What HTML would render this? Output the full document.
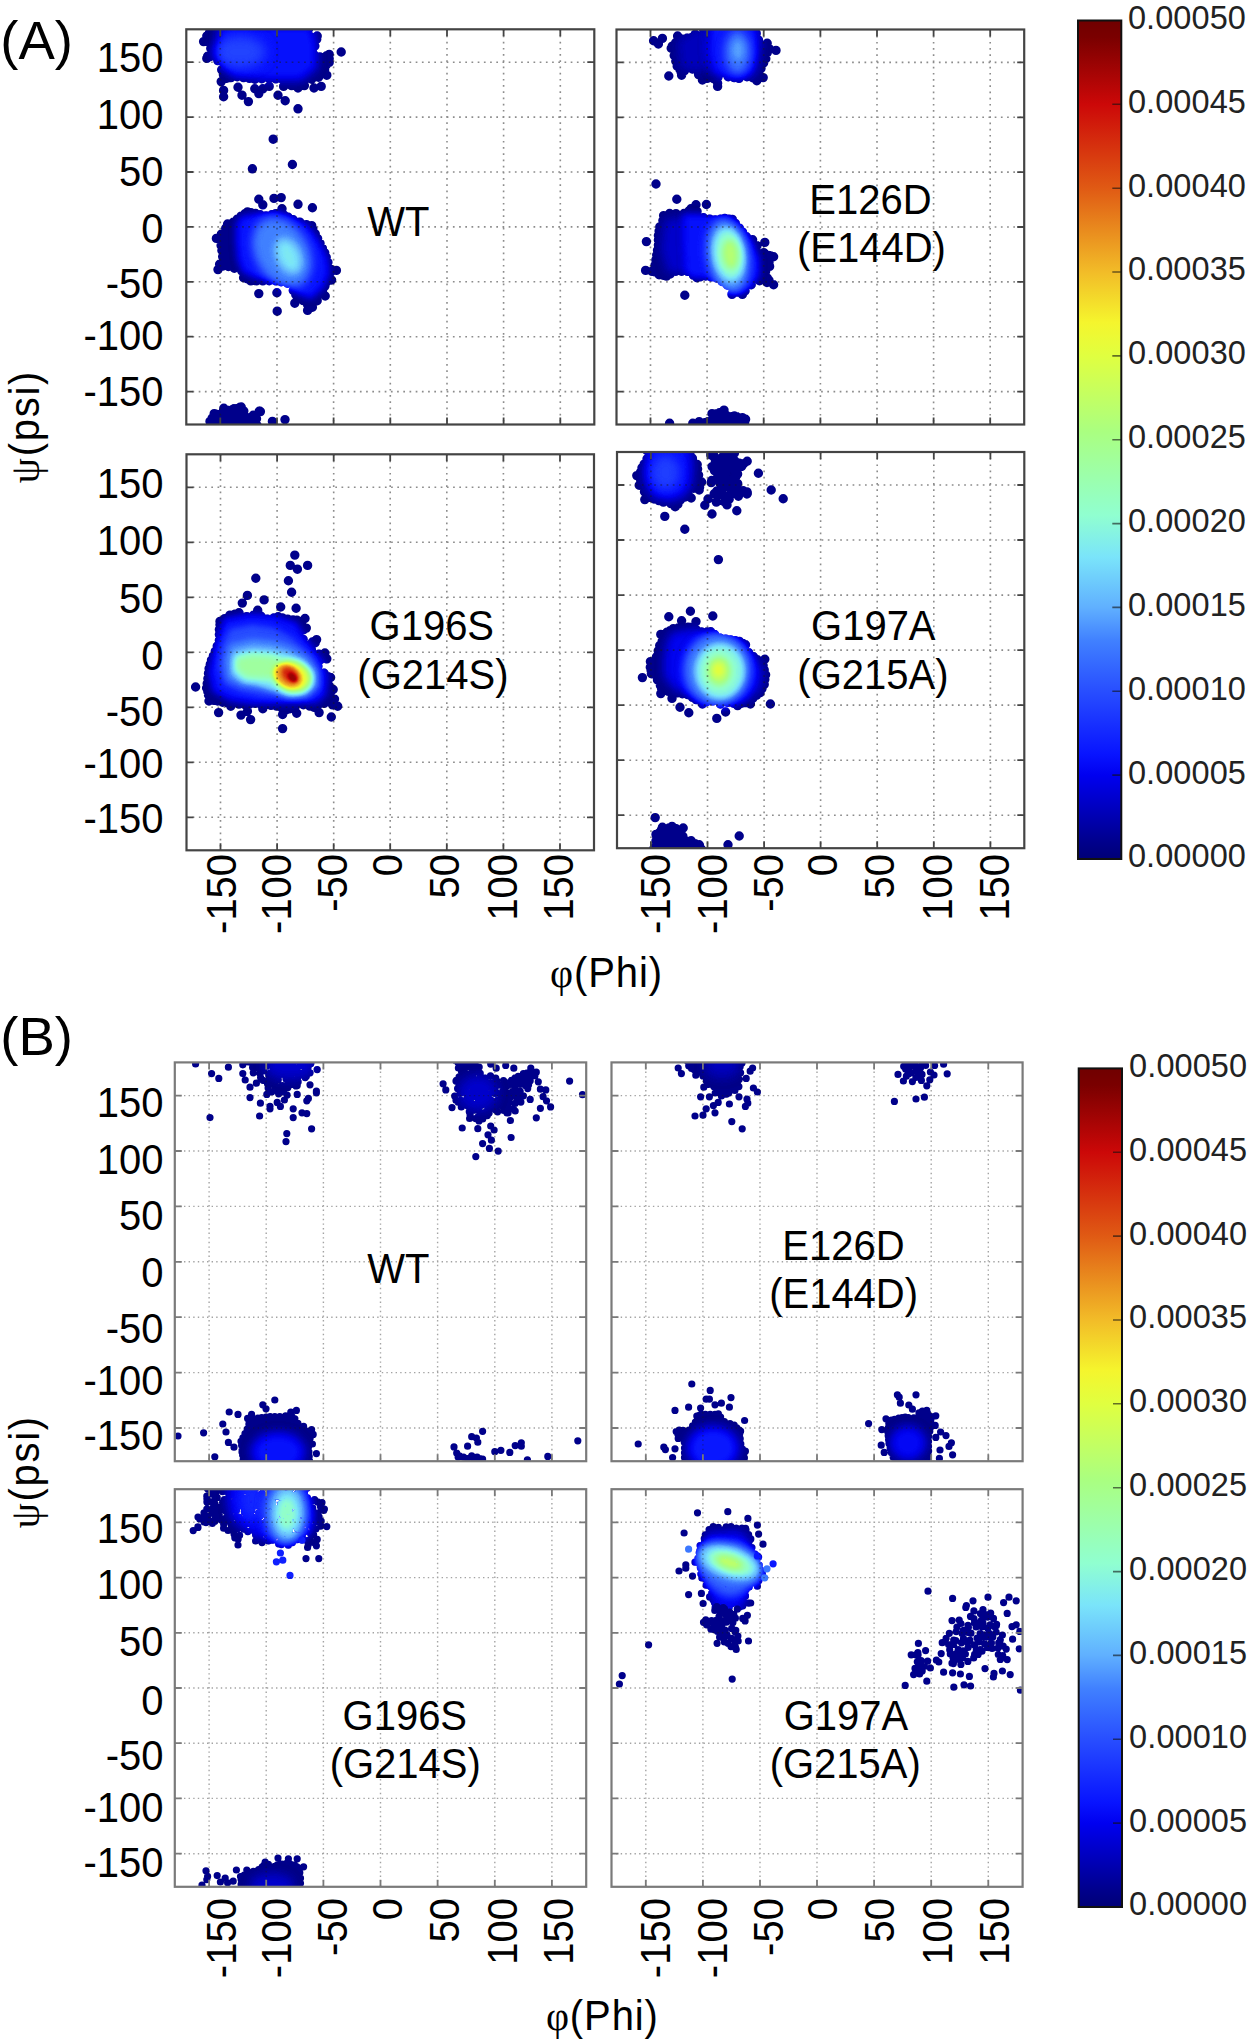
<!DOCTYPE html><html><head><meta charset="utf-8"><style>html,body{margin:0;padding:0;background:#fff;}svg{display:block;}text{font-family:"Liberation Sans",sans-serif;}</style></head><body>
<svg width="1250" height="2043" viewBox="0 0 1250 2043">
<rect width="1250" height="2043" fill="#fff"/>
<defs>
<linearGradient id="jetg" x1="0" y1="1" x2="0" y2="0"><stop offset="0" stop-color="#000076"/><stop offset="0.02" stop-color="#00008c"/><stop offset="0.1" stop-color="#0000f0"/><stop offset="0.125" stop-color="#0814ff"/><stop offset="0.2" stop-color="#284eff"/><stop offset="0.26" stop-color="#4080ff"/><stop offset="0.3" stop-color="#60b0ff"/><stop offset="0.36" stop-color="#7ae4fa"/><stop offset="0.41" stop-color="#90ffd0"/><stop offset="0.51" stop-color="#aaff80"/><stop offset="0.6" stop-color="#e0ff40"/><stop offset="0.64" stop-color="#f5f52d"/><stop offset="0.7" stop-color="#f2bc28"/><stop offset="0.8" stop-color="#e05a14"/><stop offset="0.9" stop-color="#cc0808"/><stop offset="0.98" stop-color="#7a0000"/><stop offset="1" stop-color="#700000"/></linearGradient>
</defs>
<defs>
<filter id="cm" color-interpolation-filters="sRGB" x="-5%" y="-5%" width="110%" height="110%"><feComponentTransfer><feFuncR type="table" tableValues="0.000 0.000 0.000 0.000 0.000 0.000 0.000 0.012 0.031 0.058 0.084 0.110 0.136 0.162 0.186 0.211 0.235 0.269 0.318 0.367 0.398 0.424 0.451 0.477 0.504 0.531 0.558 0.577 0.593 0.609 0.625 0.641 0.656 0.680 0.717 0.753 0.790 0.827 0.864 0.898 0.930 0.961 0.958 0.955 0.951 0.947 0.936 0.925 0.914 0.903 0.892 0.881 0.869 0.856 0.844 0.832 0.820 0.807 0.775 0.712 0.649 0.586 0.524 0.470 0.439"/><feFuncG type="table" tableValues="0.000 0.000 0.000 0.000 0.000 0.000 0.000 0.029 0.078 0.126 0.173 0.221 0.268 0.316 0.367 0.418 0.469 0.528 0.602 0.675 0.733 0.786 0.839 0.892 0.926 0.959 0.992 1.000 1.000 1.000 1.000 1.000 1.000 1.000 1.000 1.000 1.000 1.000 1.000 0.991 0.975 0.958 0.900 0.842 0.784 0.725 0.665 0.605 0.545 0.485 0.425 0.365 0.313 0.263 0.212 0.162 0.112 0.062 0.029 0.023 0.017 0.011 0.004 0.000 0.000"/><feFuncB type="table" tableValues="0.463 0.530 0.604 0.681 0.757 0.834 0.911 0.963 1.000 1.000 1.000 1.000 1.000 1.000 1.000 1.000 1.000 1.000 1.000 1.000 0.996 0.991 0.986 0.981 0.931 0.880 0.828 0.778 0.729 0.680 0.631 0.582 0.533 0.486 0.443 0.399 0.356 0.312 0.268 0.234 0.204 0.176 0.171 0.166 0.161 0.154 0.142 0.130 0.118 0.105 0.093 0.081 0.073 0.065 0.058 0.050 0.043 0.036 0.029 0.023 0.017 0.011 0.004 0.000 0.000"/></feComponentTransfer></filter>
<filter id="b1" color-interpolation-filters="sRGB" x="-50%" y="-50%" width="200%" height="200%"><feGaussianBlur stdDeviation="1"/></filter>
<filter id="b2" color-interpolation-filters="sRGB" x="-50%" y="-50%" width="200%" height="200%"><feGaussianBlur stdDeviation="2"/></filter>
<filter id="b3" color-interpolation-filters="sRGB" x="-50%" y="-50%" width="200%" height="200%"><feGaussianBlur stdDeviation="3"/></filter>
<filter id="b4" color-interpolation-filters="sRGB" x="-50%" y="-50%" width="200%" height="200%"><feGaussianBlur stdDeviation="4"/></filter>
<filter id="b5" color-interpolation-filters="sRGB" x="-50%" y="-50%" width="200%" height="200%"><feGaussianBlur stdDeviation="5"/></filter>
<filter id="b6" color-interpolation-filters="sRGB" x="-50%" y="-50%" width="200%" height="200%"><feGaussianBlur stdDeviation="6"/></filter>
<filter id="b8" color-interpolation-filters="sRGB" x="-50%" y="-50%" width="200%" height="200%"><feGaussianBlur stdDeviation="8"/></filter>
<filter id="b10" color-interpolation-filters="sRGB" x="-50%" y="-50%" width="200%" height="200%"><feGaussianBlur stdDeviation="10"/></filter>
<clipPath id="clip_A1"><rect x="186.3" y="29.3" width="408" height="395.2"/></clipPath>
<clipPath id="clip_A2"><rect x="616.5" y="29.5" width="407.7" height="395"/></clipPath>
<clipPath id="clip_A3"><rect x="186.5" y="454.3" width="407.5" height="396"/></clipPath>
<clipPath id="clip_A4"><rect x="617" y="452" width="407.3" height="396.2"/></clipPath>
<clipPath id="clip_B1"><rect x="174.8" y="1062.4" width="411.4" height="398.8"/></clipPath>
<clipPath id="clip_B2"><rect x="611.5" y="1062.4" width="411.1" height="398.8"/></clipPath>
<clipPath id="clip_B3"><rect x="174.8" y="1489.2" width="411.4" height="397.6"/></clipPath>
<clipPath id="clip_B4"><rect x="611.5" y="1489.2" width="411.1" height="397.6"/></clipPath>
</defs>
<g clip-path="url(#clip_A1)"><g filter="url(#cm)">
<path d="M210.5 25.6L310.3 25.6L310.6 36.5L316.7 39.2L314.8 46L319.8 56.9L326.8 55.7L329.2 58.8L326.2 65L323.5 73.8L318.6 77.2L311.8 79.2L298 80L282.2 79.2L269.2 78.4L255 79.2L237.3 76.8L226 78.4L224.5 78.5L221.8 69.8L217.8 60.6L210.4 56.5L207.6 56.2L210.8 48.4L205.9 41.4L207.3 37.4ZM207.3 25.1a4.7 4.7 0 1 1 9.4 0a4.7 4.7 0 1 1 -9.4 0ZM211.6 25.6a4.7 4.7 0 1 1 9.4 0a4.7 4.7 0 1 1 -9.4 0ZM217.9 25.6a4.7 4.7 0 1 1 9.4 0a4.7 4.7 0 1 1 -9.4 0ZM224.2 25.6a4.7 4.7 0 1 1 9.4 0a4.7 4.7 0 1 1 -9.4 0ZM230.5 25.6a4.7 4.7 0 1 1 9.4 0a4.7 4.7 0 1 1 -9.4 0ZM236.8 25.6a4.7 4.7 0 1 1 9.4 0a4.7 4.7 0 1 1 -9.4 0ZM243.1 25.6a4.7 4.7 0 1 1 9.4 0a4.7 4.7 0 1 1 -9.4 0ZM249.4 25.6a4.7 4.7 0 1 1 9.4 0a4.7 4.7 0 1 1 -9.4 0ZM255.7 25.6a4.7 4.7 0 1 1 9.4 0a4.7 4.7 0 1 1 -9.4 0ZM262 25.6a4.7 4.7 0 1 1 9.4 0a4.7 4.7 0 1 1 -9.4 0ZM268.3 25.6a4.7 4.7 0 1 1 9.4 0a4.7 4.7 0 1 1 -9.4 0ZM274.6 25.6a4.7 4.7 0 1 1 9.4 0a4.7 4.7 0 1 1 -9.4 0ZM280.9 25.6a4.7 4.7 0 1 1 9.4 0a4.7 4.7 0 1 1 -9.4 0ZM287.2 25.6a4.7 4.7 0 1 1 9.4 0a4.7 4.7 0 1 1 -9.4 0ZM293.5 25.6a4.7 4.7 0 1 1 9.4 0a4.7 4.7 0 1 1 -9.4 0ZM299.8 25.6a4.7 4.7 0 1 1 9.4 0a4.7 4.7 0 1 1 -9.4 0ZM303.6 24.7a4.7 4.7 0 1 1 9.4 0a4.7 4.7 0 1 1 -9.4 0ZM303.8 29a4.7 4.7 0 1 1 9.4 0a4.7 4.7 0 1 1 -9.4 0ZM306.2 37a4.7 4.7 0 1 1 9.4 0a4.7 4.7 0 1 1 -9.4 0ZM312 39.2a4.7 4.7 0 1 1 9.4 0a4.7 4.7 0 1 1 -9.4 0ZM310.1 46a4.7 4.7 0 1 1 9.4 0a4.7 4.7 0 1 1 -9.4 0ZM315.1 56.9a4.7 4.7 0 1 1 9.4 0a4.7 4.7 0 1 1 -9.4 0ZM322.1 55.7a4.7 4.7 0 1 1 9.4 0a4.7 4.7 0 1 1 -9.4 0ZM324.5 58.8a4.7 4.7 0 1 1 9.4 0a4.7 4.7 0 1 1 -9.4 0ZM321.6 65a4.7 4.7 0 1 1 9.4 0a4.7 4.7 0 1 1 -9.4 0ZM319.9 69.9a4.7 4.7 0 1 1 9.4 0a4.7 4.7 0 1 1 -9.4 0ZM319 73.4a4.7 4.7 0 1 1 9.4 0a4.7 4.7 0 1 1 -9.4 0ZM313.9 77.2a4.7 4.7 0 1 1 9.4 0a4.7 4.7 0 1 1 -9.4 0ZM307 79.3a4.7 4.7 0 1 1 9.4 0a4.7 4.7 0 1 1 -9.4 0ZM300.3 79.6a4.7 4.7 0 1 1 9.4 0a4.7 4.7 0 1 1 -9.4 0ZM293.3 80a4.7 4.7 0 1 1 9.4 0a4.7 4.7 0 1 1 -9.4 0ZM288.2 79.7a4.7 4.7 0 1 1 9.4 0a4.7 4.7 0 1 1 -9.4 0ZM282.8 79.5a4.7 4.7 0 1 1 9.4 0a4.7 4.7 0 1 1 -9.4 0ZM277.5 79.2a4.7 4.7 0 1 1 9.4 0a4.7 4.7 0 1 1 -9.4 0ZM271.1 78.8a4.7 4.7 0 1 1 9.4 0a4.7 4.7 0 1 1 -9.4 0ZM264.5 78.4a4.7 4.7 0 1 1 9.4 0a4.7 4.7 0 1 1 -9.4 0ZM257.1 78.8a4.7 4.7 0 1 1 9.4 0a4.7 4.7 0 1 1 -9.4 0ZM250.2 79.2a4.7 4.7 0 1 1 9.4 0a4.7 4.7 0 1 1 -9.4 0ZM244.8 78.4a4.7 4.7 0 1 1 9.4 0a4.7 4.7 0 1 1 -9.4 0ZM238.9 77.6a4.7 4.7 0 1 1 9.4 0a4.7 4.7 0 1 1 -9.4 0ZM232.5 76.8a4.7 4.7 0 1 1 9.4 0a4.7 4.7 0 1 1 -9.4 0ZM226.3 77.6a4.7 4.7 0 1 1 9.4 0a4.7 4.7 0 1 1 -9.4 0ZM221.6 78.4a4.7 4.7 0 1 1 9.4 0a4.7 4.7 0 1 1 -9.4 0ZM219.3 78a4.7 4.7 0 1 1 9.4 0a4.7 4.7 0 1 1 -9.4 0ZM218.7 74.7a4.7 4.7 0 1 1 9.4 0a4.7 4.7 0 1 1 -9.4 0ZM217 69.8a4.7 4.7 0 1 1 9.4 0a4.7 4.7 0 1 1 -9.4 0ZM213.1 60.6a4.7 4.7 0 1 1 9.4 0a4.7 4.7 0 1 1 -9.4 0ZM205.7 56.5a4.7 4.7 0 1 1 9.4 0a4.7 4.7 0 1 1 -9.4 0ZM202.9 56.2a4.7 4.7 0 1 1 9.4 0a4.7 4.7 0 1 1 -9.4 0ZM206.1 48.4a4.7 4.7 0 1 1 9.4 0a4.7 4.7 0 1 1 -9.4 0ZM201.2 41.4a4.7 4.7 0 1 1 9.4 0a4.7 4.7 0 1 1 -9.4 0ZM202.7 37.3a4.7 4.7 0 1 1 9.4 0a4.7 4.7 0 1 1 -9.4 0ZM204.7 32.8a4.7 4.7 0 1 1 9.4 0a4.7 4.7 0 1 1 -9.4 0ZM206.8 28a4.7 4.7 0 1 1 9.4 0a4.7 4.7 0 1 1 -9.4 0ZM202.1 36a4.7 4.7 0 1 1 9.4 0a4.7 4.7 0 1 1 -9.4 0ZM198.9 41.6a4.7 4.7 0 1 1 9.4 0a4.7 4.7 0 1 1 -9.4 0ZM202.1 58.4a4.7 4.7 0 1 1 9.4 0a4.7 4.7 0 1 1 -9.4 0ZM216.5 81.6a4.7 4.7 0 1 1 9.4 0a4.7 4.7 0 1 1 -9.4 0ZM218.9 90.4a4.7 4.7 0 1 1 9.4 0a4.7 4.7 0 1 1 -9.4 0ZM218.9 96.8a4.7 4.7 0 1 1 9.4 0a4.7 4.7 0 1 1 -9.4 0ZM233.3 87.2a4.7 4.7 0 1 1 9.4 0a4.7 4.7 0 1 1 -9.4 0ZM237.3 95.2a4.7 4.7 0 1 1 9.4 0a4.7 4.7 0 1 1 -9.4 0ZM243.7 101.6a4.7 4.7 0 1 1 9.4 0a4.7 4.7 0 1 1 -9.4 0ZM254.1 93.6a4.7 4.7 0 1 1 9.4 0a4.7 4.7 0 1 1 -9.4 0ZM250.1 88.8a4.7 4.7 0 1 1 9.4 0a4.7 4.7 0 1 1 -9.4 0ZM273.3 95.2a4.7 4.7 0 1 1 9.4 0a4.7 4.7 0 1 1 -9.4 0ZM280.5 100.8a4.7 4.7 0 1 1 9.4 0a4.7 4.7 0 1 1 -9.4 0ZM293.3 108.8a4.7 4.7 0 1 1 9.4 0a4.7 4.7 0 1 1 -9.4 0ZM278.9 86.4a4.7 4.7 0 1 1 9.4 0a4.7 4.7 0 1 1 -9.4 0ZM293.3 88a4.7 4.7 0 1 1 9.4 0a4.7 4.7 0 1 1 -9.4 0ZM299.7 85.6a4.7 4.7 0 1 1 9.4 0a4.7 4.7 0 1 1 -9.4 0ZM309.3 88a4.7 4.7 0 1 1 9.4 0a4.7 4.7 0 1 1 -9.4 0ZM316.5 86.4a4.7 4.7 0 1 1 9.4 0a4.7 4.7 0 1 1 -9.4 0ZM322.1 75.2a4.7 4.7 0 1 1 9.4 0a4.7 4.7 0 1 1 -9.4 0ZM324.5 62.4a4.7 4.7 0 1 1 9.4 0a4.7 4.7 0 1 1 -9.4 0ZM324.5 54.4a4.7 4.7 0 1 1 9.4 0a4.7 4.7 0 1 1 -9.4 0ZM336.5 52a4.7 4.7 0 1 1 9.4 0a4.7 4.7 0 1 1 -9.4 0ZM312.5 36a4.7 4.7 0 1 1 9.4 0a4.7 4.7 0 1 1 -9.4 0ZM286.9 85.6a4.7 4.7 0 1 1 9.4 0a4.7 4.7 0 1 1 -9.4 0ZM264.5 86.4a4.7 4.7 0 1 1 9.4 0a4.7 4.7 0 1 1 -9.4 0ZM258.1 88.8a4.7 4.7 0 1 1 9.4 0a4.7 4.7 0 1 1 -9.4 0Z" fill="#050505"/>
<clipPath id="cc0"><path d="M210.5 25.6L310.3 25.6L310.6 36.5L316.7 39.2L314.8 46L319.8 56.9L326.8 55.7L329.2 58.8L326.2 65L323.5 73.8L318.6 77.2L311.8 79.2L298 80L282.2 79.2L269.2 78.4L255 79.2L237.3 76.8L226 78.4L224.5 78.5L221.8 69.8L217.8 60.6L210.4 56.5L207.6 56.2L210.8 48.4L205.9 41.4L207.3 37.4ZM207.3 25.1a4.7 4.7 0 1 1 9.4 0a4.7 4.7 0 1 1 -9.4 0ZM211.6 25.6a4.7 4.7 0 1 1 9.4 0a4.7 4.7 0 1 1 -9.4 0ZM217.9 25.6a4.7 4.7 0 1 1 9.4 0a4.7 4.7 0 1 1 -9.4 0ZM224.2 25.6a4.7 4.7 0 1 1 9.4 0a4.7 4.7 0 1 1 -9.4 0ZM230.5 25.6a4.7 4.7 0 1 1 9.4 0a4.7 4.7 0 1 1 -9.4 0ZM236.8 25.6a4.7 4.7 0 1 1 9.4 0a4.7 4.7 0 1 1 -9.4 0ZM243.1 25.6a4.7 4.7 0 1 1 9.4 0a4.7 4.7 0 1 1 -9.4 0ZM249.4 25.6a4.7 4.7 0 1 1 9.4 0a4.7 4.7 0 1 1 -9.4 0ZM255.7 25.6a4.7 4.7 0 1 1 9.4 0a4.7 4.7 0 1 1 -9.4 0ZM262 25.6a4.7 4.7 0 1 1 9.4 0a4.7 4.7 0 1 1 -9.4 0ZM268.3 25.6a4.7 4.7 0 1 1 9.4 0a4.7 4.7 0 1 1 -9.4 0ZM274.6 25.6a4.7 4.7 0 1 1 9.4 0a4.7 4.7 0 1 1 -9.4 0ZM280.9 25.6a4.7 4.7 0 1 1 9.4 0a4.7 4.7 0 1 1 -9.4 0ZM287.2 25.6a4.7 4.7 0 1 1 9.4 0a4.7 4.7 0 1 1 -9.4 0ZM293.5 25.6a4.7 4.7 0 1 1 9.4 0a4.7 4.7 0 1 1 -9.4 0ZM299.8 25.6a4.7 4.7 0 1 1 9.4 0a4.7 4.7 0 1 1 -9.4 0ZM303.6 24.7a4.7 4.7 0 1 1 9.4 0a4.7 4.7 0 1 1 -9.4 0ZM303.8 29a4.7 4.7 0 1 1 9.4 0a4.7 4.7 0 1 1 -9.4 0ZM306.2 37a4.7 4.7 0 1 1 9.4 0a4.7 4.7 0 1 1 -9.4 0ZM312 39.2a4.7 4.7 0 1 1 9.4 0a4.7 4.7 0 1 1 -9.4 0ZM310.1 46a4.7 4.7 0 1 1 9.4 0a4.7 4.7 0 1 1 -9.4 0ZM315.1 56.9a4.7 4.7 0 1 1 9.4 0a4.7 4.7 0 1 1 -9.4 0ZM322.1 55.7a4.7 4.7 0 1 1 9.4 0a4.7 4.7 0 1 1 -9.4 0ZM324.5 58.8a4.7 4.7 0 1 1 9.4 0a4.7 4.7 0 1 1 -9.4 0ZM321.6 65a4.7 4.7 0 1 1 9.4 0a4.7 4.7 0 1 1 -9.4 0ZM319.9 69.9a4.7 4.7 0 1 1 9.4 0a4.7 4.7 0 1 1 -9.4 0ZM319 73.4a4.7 4.7 0 1 1 9.4 0a4.7 4.7 0 1 1 -9.4 0ZM313.9 77.2a4.7 4.7 0 1 1 9.4 0a4.7 4.7 0 1 1 -9.4 0ZM307 79.3a4.7 4.7 0 1 1 9.4 0a4.7 4.7 0 1 1 -9.4 0ZM300.3 79.6a4.7 4.7 0 1 1 9.4 0a4.7 4.7 0 1 1 -9.4 0ZM293.3 80a4.7 4.7 0 1 1 9.4 0a4.7 4.7 0 1 1 -9.4 0ZM288.2 79.7a4.7 4.7 0 1 1 9.4 0a4.7 4.7 0 1 1 -9.4 0ZM282.8 79.5a4.7 4.7 0 1 1 9.4 0a4.7 4.7 0 1 1 -9.4 0ZM277.5 79.2a4.7 4.7 0 1 1 9.4 0a4.7 4.7 0 1 1 -9.4 0ZM271.1 78.8a4.7 4.7 0 1 1 9.4 0a4.7 4.7 0 1 1 -9.4 0ZM264.5 78.4a4.7 4.7 0 1 1 9.4 0a4.7 4.7 0 1 1 -9.4 0ZM257.1 78.8a4.7 4.7 0 1 1 9.4 0a4.7 4.7 0 1 1 -9.4 0ZM250.2 79.2a4.7 4.7 0 1 1 9.4 0a4.7 4.7 0 1 1 -9.4 0ZM244.8 78.4a4.7 4.7 0 1 1 9.4 0a4.7 4.7 0 1 1 -9.4 0ZM238.9 77.6a4.7 4.7 0 1 1 9.4 0a4.7 4.7 0 1 1 -9.4 0ZM232.5 76.8a4.7 4.7 0 1 1 9.4 0a4.7 4.7 0 1 1 -9.4 0ZM226.3 77.6a4.7 4.7 0 1 1 9.4 0a4.7 4.7 0 1 1 -9.4 0ZM221.6 78.4a4.7 4.7 0 1 1 9.4 0a4.7 4.7 0 1 1 -9.4 0ZM219.3 78a4.7 4.7 0 1 1 9.4 0a4.7 4.7 0 1 1 -9.4 0ZM218.7 74.7a4.7 4.7 0 1 1 9.4 0a4.7 4.7 0 1 1 -9.4 0ZM217 69.8a4.7 4.7 0 1 1 9.4 0a4.7 4.7 0 1 1 -9.4 0ZM213.1 60.6a4.7 4.7 0 1 1 9.4 0a4.7 4.7 0 1 1 -9.4 0ZM205.7 56.5a4.7 4.7 0 1 1 9.4 0a4.7 4.7 0 1 1 -9.4 0ZM202.9 56.2a4.7 4.7 0 1 1 9.4 0a4.7 4.7 0 1 1 -9.4 0ZM206.1 48.4a4.7 4.7 0 1 1 9.4 0a4.7 4.7 0 1 1 -9.4 0ZM201.2 41.4a4.7 4.7 0 1 1 9.4 0a4.7 4.7 0 1 1 -9.4 0ZM202.7 37.3a4.7 4.7 0 1 1 9.4 0a4.7 4.7 0 1 1 -9.4 0ZM204.7 32.8a4.7 4.7 0 1 1 9.4 0a4.7 4.7 0 1 1 -9.4 0ZM206.8 28a4.7 4.7 0 1 1 9.4 0a4.7 4.7 0 1 1 -9.4 0ZM202.1 36a4.7 4.7 0 1 1 9.4 0a4.7 4.7 0 1 1 -9.4 0ZM198.9 41.6a4.7 4.7 0 1 1 9.4 0a4.7 4.7 0 1 1 -9.4 0ZM202.1 58.4a4.7 4.7 0 1 1 9.4 0a4.7 4.7 0 1 1 -9.4 0ZM216.5 81.6a4.7 4.7 0 1 1 9.4 0a4.7 4.7 0 1 1 -9.4 0ZM218.9 90.4a4.7 4.7 0 1 1 9.4 0a4.7 4.7 0 1 1 -9.4 0ZM218.9 96.8a4.7 4.7 0 1 1 9.4 0a4.7 4.7 0 1 1 -9.4 0ZM233.3 87.2a4.7 4.7 0 1 1 9.4 0a4.7 4.7 0 1 1 -9.4 0ZM237.3 95.2a4.7 4.7 0 1 1 9.4 0a4.7 4.7 0 1 1 -9.4 0ZM243.7 101.6a4.7 4.7 0 1 1 9.4 0a4.7 4.7 0 1 1 -9.4 0ZM254.1 93.6a4.7 4.7 0 1 1 9.4 0a4.7 4.7 0 1 1 -9.4 0ZM250.1 88.8a4.7 4.7 0 1 1 9.4 0a4.7 4.7 0 1 1 -9.4 0ZM273.3 95.2a4.7 4.7 0 1 1 9.4 0a4.7 4.7 0 1 1 -9.4 0ZM280.5 100.8a4.7 4.7 0 1 1 9.4 0a4.7 4.7 0 1 1 -9.4 0ZM293.3 108.8a4.7 4.7 0 1 1 9.4 0a4.7 4.7 0 1 1 -9.4 0ZM278.9 86.4a4.7 4.7 0 1 1 9.4 0a4.7 4.7 0 1 1 -9.4 0ZM293.3 88a4.7 4.7 0 1 1 9.4 0a4.7 4.7 0 1 1 -9.4 0ZM299.7 85.6a4.7 4.7 0 1 1 9.4 0a4.7 4.7 0 1 1 -9.4 0ZM309.3 88a4.7 4.7 0 1 1 9.4 0a4.7 4.7 0 1 1 -9.4 0ZM316.5 86.4a4.7 4.7 0 1 1 9.4 0a4.7 4.7 0 1 1 -9.4 0ZM322.1 75.2a4.7 4.7 0 1 1 9.4 0a4.7 4.7 0 1 1 -9.4 0ZM324.5 62.4a4.7 4.7 0 1 1 9.4 0a4.7 4.7 0 1 1 -9.4 0ZM324.5 54.4a4.7 4.7 0 1 1 9.4 0a4.7 4.7 0 1 1 -9.4 0ZM336.5 52a4.7 4.7 0 1 1 9.4 0a4.7 4.7 0 1 1 -9.4 0ZM312.5 36a4.7 4.7 0 1 1 9.4 0a4.7 4.7 0 1 1 -9.4 0ZM286.9 85.6a4.7 4.7 0 1 1 9.4 0a4.7 4.7 0 1 1 -9.4 0ZM264.5 86.4a4.7 4.7 0 1 1 9.4 0a4.7 4.7 0 1 1 -9.4 0ZM258.1 88.8a4.7 4.7 0 1 1 9.4 0a4.7 4.7 0 1 1 -9.4 0Z"/></clipPath>
<g clip-path="url(#cc0)">
<path d="M218 24.8L312.4 24.8L317.2 44L317.2 68L301.2 80.8L266 80.8L234 77.6L222.8 68L218 52Z" fill="#1f1f1f" filter="url(#b4)"/>
<ellipse cx="240" cy="52" rx="26" ry="16" transform="rotate(0 240 52)" fill="#303030" filter="url(#b6)"/>
</g>
</g></g>
<g clip-path="url(#clip_A1)"><g filter="url(#cm)">
<path d="M241.1 216.1L247.5 211.9L255.6 213.5L266 216L275.8 213.6L283.9 215L293.2 219.7L306.3 224.6L311.2 225.2L315.2 233.8L320 243.4L324.7 252.7L327.8 262.2L330.8 269.2L329.4 277.1L324.9 286.1L320.6 293.4L314.9 297.5L309.8 300.9L307.6 304.8L303.3 300.6L297.6 298L293.3 290.6L287.1 282.9L275.9 280.8L262.8 280.8L250.8 280.9L243.2 277.2L241.2 270.4L228.4 266.5L219.9 266.1L219.6 264.2L222.8 256.4L221.1 245.5L218.8 238.6L221.4 234.1L225.6 228.4L233.3 222.3ZM236.4 216.1a4.7 4.7 0 1 1 9.4 0a4.7 4.7 0 1 1 -9.4 0ZM240.2 213.8a4.7 4.7 0 1 1 9.4 0a4.7 4.7 0 1 1 -9.4 0ZM242.8 211.9a4.7 4.7 0 1 1 9.4 0a4.7 4.7 0 1 1 -9.4 0ZM246.2 212.7a4.7 4.7 0 1 1 9.4 0a4.7 4.7 0 1 1 -9.4 0ZM250.9 213.5a4.7 4.7 0 1 1 9.4 0a4.7 4.7 0 1 1 -9.4 0ZM255.5 214.7a4.7 4.7 0 1 1 9.4 0a4.7 4.7 0 1 1 -9.4 0ZM261.3 216a4.7 4.7 0 1 1 9.4 0a4.7 4.7 0 1 1 -9.4 0ZM267.1 214.7a4.7 4.7 0 1 1 9.4 0a4.7 4.7 0 1 1 -9.4 0ZM271.1 213.6a4.7 4.7 0 1 1 9.4 0a4.7 4.7 0 1 1 -9.4 0ZM275 214.3a4.7 4.7 0 1 1 9.4 0a4.7 4.7 0 1 1 -9.4 0ZM279.2 215a4.7 4.7 0 1 1 9.4 0a4.7 4.7 0 1 1 -9.4 0ZM283.5 217.2a4.7 4.7 0 1 1 9.4 0a4.7 4.7 0 1 1 -9.4 0ZM288.5 219.7a4.7 4.7 0 1 1 9.4 0a4.7 4.7 0 1 1 -9.4 0ZM295.1 222.1a4.7 4.7 0 1 1 9.4 0a4.7 4.7 0 1 1 -9.4 0ZM301.7 224.6a4.7 4.7 0 1 1 9.4 0a4.7 4.7 0 1 1 -9.4 0ZM307 225.6a4.7 4.7 0 1 1 9.4 0a4.7 4.7 0 1 1 -9.4 0ZM308.1 229a4.7 4.7 0 1 1 9.4 0a4.7 4.7 0 1 1 -9.4 0ZM310.5 233.8a4.7 4.7 0 1 1 9.4 0a4.7 4.7 0 1 1 -9.4 0ZM312.9 238.6a4.7 4.7 0 1 1 9.4 0a4.7 4.7 0 1 1 -9.4 0ZM315.3 243.4a4.7 4.7 0 1 1 9.4 0a4.7 4.7 0 1 1 -9.4 0ZM317.7 248.2a4.7 4.7 0 1 1 9.4 0a4.7 4.7 0 1 1 -9.4 0ZM320 252.7a4.7 4.7 0 1 1 9.4 0a4.7 4.7 0 1 1 -9.4 0ZM321.5 257.3a4.7 4.7 0 1 1 9.4 0a4.7 4.7 0 1 1 -9.4 0ZM323.2 262.2a4.7 4.7 0 1 1 9.4 0a4.7 4.7 0 1 1 -9.4 0ZM326.2 269.5a4.7 4.7 0 1 1 9.4 0a4.7 4.7 0 1 1 -9.4 0ZM325.4 272.9a4.7 4.7 0 1 1 9.4 0a4.7 4.7 0 1 1 -9.4 0ZM324.7 277.1a4.7 4.7 0 1 1 9.4 0a4.7 4.7 0 1 1 -9.4 0ZM322.5 281.4a4.7 4.7 0 1 1 9.4 0a4.7 4.7 0 1 1 -9.4 0ZM320.2 286.1a4.7 4.7 0 1 1 9.4 0a4.7 4.7 0 1 1 -9.4 0ZM317.9 289.9a4.7 4.7 0 1 1 9.4 0a4.7 4.7 0 1 1 -9.4 0ZM316.1 293.2a4.7 4.7 0 1 1 9.4 0a4.7 4.7 0 1 1 -9.4 0ZM310.2 297.5a4.7 4.7 0 1 1 9.4 0a4.7 4.7 0 1 1 -9.4 0ZM305.1 300.9a4.7 4.7 0 1 1 9.4 0a4.7 4.7 0 1 1 -9.4 0ZM302.9 304.8a4.7 4.7 0 1 1 9.4 0a4.7 4.7 0 1 1 -9.4 0ZM298.6 300.6a4.7 4.7 0 1 1 9.4 0a4.7 4.7 0 1 1 -9.4 0ZM292.6 297.7a4.7 4.7 0 1 1 9.4 0a4.7 4.7 0 1 1 -9.4 0ZM291.1 294.7a4.7 4.7 0 1 1 9.4 0a4.7 4.7 0 1 1 -9.4 0ZM288.6 290.5a4.7 4.7 0 1 1 9.4 0a4.7 4.7 0 1 1 -9.4 0ZM282.9 283.2a4.7 4.7 0 1 1 9.4 0a4.7 4.7 0 1 1 -9.4 0ZM276.4 281.7a4.7 4.7 0 1 1 9.4 0a4.7 4.7 0 1 1 -9.4 0ZM271.2 280.8a4.7 4.7 0 1 1 9.4 0a4.7 4.7 0 1 1 -9.4 0ZM264.5 280.8a4.7 4.7 0 1 1 9.4 0a4.7 4.7 0 1 1 -9.4 0ZM258.1 280.8a4.7 4.7 0 1 1 9.4 0a4.7 4.7 0 1 1 -9.4 0ZM251.7 280.8a4.7 4.7 0 1 1 9.4 0a4.7 4.7 0 1 1 -9.4 0ZM246.1 280.9a4.7 4.7 0 1 1 9.4 0a4.7 4.7 0 1 1 -9.4 0ZM242.3 278.8a4.7 4.7 0 1 1 9.4 0a4.7 4.7 0 1 1 -9.4 0ZM238.9 277.7a4.7 4.7 0 1 1 9.4 0a4.7 4.7 0 1 1 -9.4 0ZM237.1 270.9a4.7 4.7 0 1 1 9.4 0a4.7 4.7 0 1 1 -9.4 0ZM229.6 268.2a4.7 4.7 0 1 1 9.4 0a4.7 4.7 0 1 1 -9.4 0ZM223.7 266.5a4.7 4.7 0 1 1 9.4 0a4.7 4.7 0 1 1 -9.4 0ZM218.4 266a4.7 4.7 0 1 1 9.4 0a4.7 4.7 0 1 1 -9.4 0ZM215.9 266.5a4.7 4.7 0 1 1 9.4 0a4.7 4.7 0 1 1 -9.4 0ZM214.9 264.2a4.7 4.7 0 1 1 9.4 0a4.7 4.7 0 1 1 -9.4 0ZM218 256.7a4.7 4.7 0 1 1 9.4 0a4.7 4.7 0 1 1 -9.4 0ZM217.2 250.5a4.7 4.7 0 1 1 9.4 0a4.7 4.7 0 1 1 -9.4 0ZM216.4 245.4a4.7 4.7 0 1 1 9.4 0a4.7 4.7 0 1 1 -9.4 0ZM214.1 238.6a4.7 4.7 0 1 1 9.4 0a4.7 4.7 0 1 1 -9.4 0ZM216.7 234.1a4.7 4.7 0 1 1 9.4 0a4.7 4.7 0 1 1 -9.4 0ZM221 228.3a4.7 4.7 0 1 1 9.4 0a4.7 4.7 0 1 1 -9.4 0ZM224.6 225.5a4.7 4.7 0 1 1 9.4 0a4.7 4.7 0 1 1 -9.4 0ZM228.6 222.3a4.7 4.7 0 1 1 9.4 0a4.7 4.7 0 1 1 -9.4 0ZM232.6 219.1a4.7 4.7 0 1 1 9.4 0a4.7 4.7 0 1 1 -9.4 0ZM268.5 139.2a4.7 4.7 0 1 1 9.4 0a4.7 4.7 0 1 1 -9.4 0ZM247.7 168.8a4.7 4.7 0 1 1 9.4 0a4.7 4.7 0 1 1 -9.4 0ZM287.7 164.5a4.7 4.7 0 1 1 9.4 0a4.7 4.7 0 1 1 -9.4 0ZM254.1 199.2a4.7 4.7 0 1 1 9.4 0a4.7 4.7 0 1 1 -9.4 0ZM258.1 204.8a4.7 4.7 0 1 1 9.4 0a4.7 4.7 0 1 1 -9.4 0ZM269.3 198.4a4.7 4.7 0 1 1 9.4 0a4.7 4.7 0 1 1 -9.4 0ZM276.5 197.6a4.7 4.7 0 1 1 9.4 0a4.7 4.7 0 1 1 -9.4 0ZM293.3 204.3a4.7 4.7 0 1 1 9.4 0a4.7 4.7 0 1 1 -9.4 0ZM307.7 207.7a4.7 4.7 0 1 1 9.4 0a4.7 4.7 0 1 1 -9.4 0ZM277.3 208.8a4.7 4.7 0 1 1 9.4 0a4.7 4.7 0 1 1 -9.4 0ZM254.1 293.6a4.7 4.7 0 1 1 9.4 0a4.7 4.7 0 1 1 -9.4 0ZM272.2 292.8a4.7 4.7 0 1 1 9.4 0a4.7 4.7 0 1 1 -9.4 0ZM272.5 311.2a4.7 4.7 0 1 1 9.4 0a4.7 4.7 0 1 1 -9.4 0ZM290.1 303.2a4.7 4.7 0 1 1 9.4 0a4.7 4.7 0 1 1 -9.4 0ZM302.9 310.4a4.7 4.7 0 1 1 9.4 0a4.7 4.7 0 1 1 -9.4 0ZM307.7 307.2a4.7 4.7 0 1 1 9.4 0a4.7 4.7 0 1 1 -9.4 0ZM312.5 300.8a4.7 4.7 0 1 1 9.4 0a4.7 4.7 0 1 1 -9.4 0ZM331.7 270.4a4.7 4.7 0 1 1 9.4 0a4.7 4.7 0 1 1 -9.4 0ZM326.9 280a4.7 4.7 0 1 1 9.4 0a4.7 4.7 0 1 1 -9.4 0ZM320.5 296a4.7 4.7 0 1 1 9.4 0a4.7 4.7 0 1 1 -9.4 0ZM213.3 269.6a4.7 4.7 0 1 1 9.4 0a4.7 4.7 0 1 1 -9.4 0ZM211.7 238.4a4.7 4.7 0 1 1 9.4 0a4.7 4.7 0 1 1 -9.4 0ZM222.9 224a4.7 4.7 0 1 1 9.4 0a4.7 4.7 0 1 1 -9.4 0Z" fill="#050505"/>
<clipPath id="cc1"><path d="M241.1 216.1L247.5 211.9L255.6 213.5L266 216L275.8 213.6L283.9 215L293.2 219.7L306.3 224.6L311.2 225.2L315.2 233.8L320 243.4L324.7 252.7L327.8 262.2L330.8 269.2L329.4 277.1L324.9 286.1L320.6 293.4L314.9 297.5L309.8 300.9L307.6 304.8L303.3 300.6L297.6 298L293.3 290.6L287.1 282.9L275.9 280.8L262.8 280.8L250.8 280.9L243.2 277.2L241.2 270.4L228.4 266.5L219.9 266.1L219.6 264.2L222.8 256.4L221.1 245.5L218.8 238.6L221.4 234.1L225.6 228.4L233.3 222.3ZM236.4 216.1a4.7 4.7 0 1 1 9.4 0a4.7 4.7 0 1 1 -9.4 0ZM240.2 213.8a4.7 4.7 0 1 1 9.4 0a4.7 4.7 0 1 1 -9.4 0ZM242.8 211.9a4.7 4.7 0 1 1 9.4 0a4.7 4.7 0 1 1 -9.4 0ZM246.2 212.7a4.7 4.7 0 1 1 9.4 0a4.7 4.7 0 1 1 -9.4 0ZM250.9 213.5a4.7 4.7 0 1 1 9.4 0a4.7 4.7 0 1 1 -9.4 0ZM255.5 214.7a4.7 4.7 0 1 1 9.4 0a4.7 4.7 0 1 1 -9.4 0ZM261.3 216a4.7 4.7 0 1 1 9.4 0a4.7 4.7 0 1 1 -9.4 0ZM267.1 214.7a4.7 4.7 0 1 1 9.4 0a4.7 4.7 0 1 1 -9.4 0ZM271.1 213.6a4.7 4.7 0 1 1 9.4 0a4.7 4.7 0 1 1 -9.4 0ZM275 214.3a4.7 4.7 0 1 1 9.4 0a4.7 4.7 0 1 1 -9.4 0ZM279.2 215a4.7 4.7 0 1 1 9.4 0a4.7 4.7 0 1 1 -9.4 0ZM283.5 217.2a4.7 4.7 0 1 1 9.4 0a4.7 4.7 0 1 1 -9.4 0ZM288.5 219.7a4.7 4.7 0 1 1 9.4 0a4.7 4.7 0 1 1 -9.4 0ZM295.1 222.1a4.7 4.7 0 1 1 9.4 0a4.7 4.7 0 1 1 -9.4 0ZM301.7 224.6a4.7 4.7 0 1 1 9.4 0a4.7 4.7 0 1 1 -9.4 0ZM307 225.6a4.7 4.7 0 1 1 9.4 0a4.7 4.7 0 1 1 -9.4 0ZM308.1 229a4.7 4.7 0 1 1 9.4 0a4.7 4.7 0 1 1 -9.4 0ZM310.5 233.8a4.7 4.7 0 1 1 9.4 0a4.7 4.7 0 1 1 -9.4 0ZM312.9 238.6a4.7 4.7 0 1 1 9.4 0a4.7 4.7 0 1 1 -9.4 0ZM315.3 243.4a4.7 4.7 0 1 1 9.4 0a4.7 4.7 0 1 1 -9.4 0ZM317.7 248.2a4.7 4.7 0 1 1 9.4 0a4.7 4.7 0 1 1 -9.4 0ZM320 252.7a4.7 4.7 0 1 1 9.4 0a4.7 4.7 0 1 1 -9.4 0ZM321.5 257.3a4.7 4.7 0 1 1 9.4 0a4.7 4.7 0 1 1 -9.4 0ZM323.2 262.2a4.7 4.7 0 1 1 9.4 0a4.7 4.7 0 1 1 -9.4 0ZM326.2 269.5a4.7 4.7 0 1 1 9.4 0a4.7 4.7 0 1 1 -9.4 0ZM325.4 272.9a4.7 4.7 0 1 1 9.4 0a4.7 4.7 0 1 1 -9.4 0ZM324.7 277.1a4.7 4.7 0 1 1 9.4 0a4.7 4.7 0 1 1 -9.4 0ZM322.5 281.4a4.7 4.7 0 1 1 9.4 0a4.7 4.7 0 1 1 -9.4 0ZM320.2 286.1a4.7 4.7 0 1 1 9.4 0a4.7 4.7 0 1 1 -9.4 0ZM317.9 289.9a4.7 4.7 0 1 1 9.4 0a4.7 4.7 0 1 1 -9.4 0ZM316.1 293.2a4.7 4.7 0 1 1 9.4 0a4.7 4.7 0 1 1 -9.4 0ZM310.2 297.5a4.7 4.7 0 1 1 9.4 0a4.7 4.7 0 1 1 -9.4 0ZM305.1 300.9a4.7 4.7 0 1 1 9.4 0a4.7 4.7 0 1 1 -9.4 0ZM302.9 304.8a4.7 4.7 0 1 1 9.4 0a4.7 4.7 0 1 1 -9.4 0ZM298.6 300.6a4.7 4.7 0 1 1 9.4 0a4.7 4.7 0 1 1 -9.4 0ZM292.6 297.7a4.7 4.7 0 1 1 9.4 0a4.7 4.7 0 1 1 -9.4 0ZM291.1 294.7a4.7 4.7 0 1 1 9.4 0a4.7 4.7 0 1 1 -9.4 0ZM288.6 290.5a4.7 4.7 0 1 1 9.4 0a4.7 4.7 0 1 1 -9.4 0ZM282.9 283.2a4.7 4.7 0 1 1 9.4 0a4.7 4.7 0 1 1 -9.4 0ZM276.4 281.7a4.7 4.7 0 1 1 9.4 0a4.7 4.7 0 1 1 -9.4 0ZM271.2 280.8a4.7 4.7 0 1 1 9.4 0a4.7 4.7 0 1 1 -9.4 0ZM264.5 280.8a4.7 4.7 0 1 1 9.4 0a4.7 4.7 0 1 1 -9.4 0ZM258.1 280.8a4.7 4.7 0 1 1 9.4 0a4.7 4.7 0 1 1 -9.4 0ZM251.7 280.8a4.7 4.7 0 1 1 9.4 0a4.7 4.7 0 1 1 -9.4 0ZM246.1 280.9a4.7 4.7 0 1 1 9.4 0a4.7 4.7 0 1 1 -9.4 0ZM242.3 278.8a4.7 4.7 0 1 1 9.4 0a4.7 4.7 0 1 1 -9.4 0ZM238.9 277.7a4.7 4.7 0 1 1 9.4 0a4.7 4.7 0 1 1 -9.4 0ZM237.1 270.9a4.7 4.7 0 1 1 9.4 0a4.7 4.7 0 1 1 -9.4 0ZM229.6 268.2a4.7 4.7 0 1 1 9.4 0a4.7 4.7 0 1 1 -9.4 0ZM223.7 266.5a4.7 4.7 0 1 1 9.4 0a4.7 4.7 0 1 1 -9.4 0ZM218.4 266a4.7 4.7 0 1 1 9.4 0a4.7 4.7 0 1 1 -9.4 0ZM215.9 266.5a4.7 4.7 0 1 1 9.4 0a4.7 4.7 0 1 1 -9.4 0ZM214.9 264.2a4.7 4.7 0 1 1 9.4 0a4.7 4.7 0 1 1 -9.4 0ZM218 256.7a4.7 4.7 0 1 1 9.4 0a4.7 4.7 0 1 1 -9.4 0ZM217.2 250.5a4.7 4.7 0 1 1 9.4 0a4.7 4.7 0 1 1 -9.4 0ZM216.4 245.4a4.7 4.7 0 1 1 9.4 0a4.7 4.7 0 1 1 -9.4 0ZM214.1 238.6a4.7 4.7 0 1 1 9.4 0a4.7 4.7 0 1 1 -9.4 0ZM216.7 234.1a4.7 4.7 0 1 1 9.4 0a4.7 4.7 0 1 1 -9.4 0ZM221 228.3a4.7 4.7 0 1 1 9.4 0a4.7 4.7 0 1 1 -9.4 0ZM224.6 225.5a4.7 4.7 0 1 1 9.4 0a4.7 4.7 0 1 1 -9.4 0ZM228.6 222.3a4.7 4.7 0 1 1 9.4 0a4.7 4.7 0 1 1 -9.4 0ZM232.6 219.1a4.7 4.7 0 1 1 9.4 0a4.7 4.7 0 1 1 -9.4 0ZM268.5 139.2a4.7 4.7 0 1 1 9.4 0a4.7 4.7 0 1 1 -9.4 0ZM247.7 168.8a4.7 4.7 0 1 1 9.4 0a4.7 4.7 0 1 1 -9.4 0ZM287.7 164.5a4.7 4.7 0 1 1 9.4 0a4.7 4.7 0 1 1 -9.4 0ZM254.1 199.2a4.7 4.7 0 1 1 9.4 0a4.7 4.7 0 1 1 -9.4 0ZM258.1 204.8a4.7 4.7 0 1 1 9.4 0a4.7 4.7 0 1 1 -9.4 0ZM269.3 198.4a4.7 4.7 0 1 1 9.4 0a4.7 4.7 0 1 1 -9.4 0ZM276.5 197.6a4.7 4.7 0 1 1 9.4 0a4.7 4.7 0 1 1 -9.4 0ZM293.3 204.3a4.7 4.7 0 1 1 9.4 0a4.7 4.7 0 1 1 -9.4 0ZM307.7 207.7a4.7 4.7 0 1 1 9.4 0a4.7 4.7 0 1 1 -9.4 0ZM277.3 208.8a4.7 4.7 0 1 1 9.4 0a4.7 4.7 0 1 1 -9.4 0ZM254.1 293.6a4.7 4.7 0 1 1 9.4 0a4.7 4.7 0 1 1 -9.4 0ZM272.2 292.8a4.7 4.7 0 1 1 9.4 0a4.7 4.7 0 1 1 -9.4 0ZM272.5 311.2a4.7 4.7 0 1 1 9.4 0a4.7 4.7 0 1 1 -9.4 0ZM290.1 303.2a4.7 4.7 0 1 1 9.4 0a4.7 4.7 0 1 1 -9.4 0ZM302.9 310.4a4.7 4.7 0 1 1 9.4 0a4.7 4.7 0 1 1 -9.4 0ZM307.7 307.2a4.7 4.7 0 1 1 9.4 0a4.7 4.7 0 1 1 -9.4 0ZM312.5 300.8a4.7 4.7 0 1 1 9.4 0a4.7 4.7 0 1 1 -9.4 0ZM331.7 270.4a4.7 4.7 0 1 1 9.4 0a4.7 4.7 0 1 1 -9.4 0ZM326.9 280a4.7 4.7 0 1 1 9.4 0a4.7 4.7 0 1 1 -9.4 0ZM320.5 296a4.7 4.7 0 1 1 9.4 0a4.7 4.7 0 1 1 -9.4 0ZM213.3 269.6a4.7 4.7 0 1 1 9.4 0a4.7 4.7 0 1 1 -9.4 0ZM211.7 238.4a4.7 4.7 0 1 1 9.4 0a4.7 4.7 0 1 1 -9.4 0ZM222.9 224a4.7 4.7 0 1 1 9.4 0a4.7 4.7 0 1 1 -9.4 0Z"/></clipPath>
<g clip-path="url(#cc1)">
<path d="M240.4 216L258 212.8L275.6 211.2L291.6 216L307.6 224L320.4 241.6L328.4 259.2L330 273.6L323.6 288L310.8 299.2L298 294.4L288.4 283.2L272.4 280L254.8 278.4L242 272L237.2 259.2L235.6 241.6L235.6 225.6Z" fill="#1f1f1f" filter="url(#b3)"/>
<ellipse cx="282" cy="252.5" rx="27" ry="38" transform="rotate(-30 282 252.5)" fill="#424242" filter="url(#b5)"/>
<ellipse cx="288.5" cy="256" rx="11" ry="18" transform="rotate(-25 288.5 256)" fill="#5e5e5e" filter="url(#b4)"/>
</g>
</g></g>
<g clip-path="url(#clip_A1)"><g filter="url(#cm)">
<path d="M207.5 426.5L212.5 417.6L217.2 414.4L223.2 410.2L232.2 409.7L240.7 407.4L243.8 411L253.2 415.2L260.4 411.6L260 411.2L256.4 419.1L260.8 426.5ZM205 428.1a4.7 4.7 0 1 1 9.4 0a4.7 4.7 0 1 1 -9.4 0ZM206.8 423.9a4.7 4.7 0 1 1 9.4 0a4.7 4.7 0 1 1 -9.4 0ZM207.5 418.1a4.7 4.7 0 1 1 9.4 0a4.7 4.7 0 1 1 -9.4 0ZM212.5 414.4a4.7 4.7 0 1 1 9.4 0a4.7 4.7 0 1 1 -9.4 0ZM218.9 410.1a4.7 4.7 0 1 1 9.4 0a4.7 4.7 0 1 1 -9.4 0ZM222.4 410.1a4.7 4.7 0 1 1 9.4 0a4.7 4.7 0 1 1 -9.4 0ZM227.5 409.7a4.7 4.7 0 1 1 9.4 0a4.7 4.7 0 1 1 -9.4 0ZM232.7 408.5a4.7 4.7 0 1 1 9.4 0a4.7 4.7 0 1 1 -9.4 0ZM235.3 407.2a4.7 4.7 0 1 1 9.4 0a4.7 4.7 0 1 1 -9.4 0ZM239.1 411a4.7 4.7 0 1 1 9.4 0a4.7 4.7 0 1 1 -9.4 0ZM248.5 415.2a4.7 4.7 0 1 1 9.4 0a4.7 4.7 0 1 1 -9.4 0ZM255.7 411.6a4.7 4.7 0 1 1 9.4 0a4.7 4.7 0 1 1 -9.4 0ZM255.3 411.2a4.7 4.7 0 1 1 9.4 0a4.7 4.7 0 1 1 -9.4 0ZM251.8 418.8a4.7 4.7 0 1 1 9.4 0a4.7 4.7 0 1 1 -9.4 0ZM252.3 425.4a4.7 4.7 0 1 1 9.4 0a4.7 4.7 0 1 1 -9.4 0ZM254.1 427.5a4.7 4.7 0 1 1 9.4 0a4.7 4.7 0 1 1 -9.4 0ZM250.8 426.4a4.7 4.7 0 1 1 9.4 0a4.7 4.7 0 1 1 -9.4 0ZM244.6 426.4a4.7 4.7 0 1 1 9.4 0a4.7 4.7 0 1 1 -9.4 0ZM238.5 426.4a4.7 4.7 0 1 1 9.4 0a4.7 4.7 0 1 1 -9.4 0ZM232.4 426.4a4.7 4.7 0 1 1 9.4 0a4.7 4.7 0 1 1 -9.4 0ZM226.2 426.4a4.7 4.7 0 1 1 9.4 0a4.7 4.7 0 1 1 -9.4 0ZM220.1 426.4a4.7 4.7 0 1 1 9.4 0a4.7 4.7 0 1 1 -9.4 0ZM214 426.4a4.7 4.7 0 1 1 9.4 0a4.7 4.7 0 1 1 -9.4 0ZM207.8 426.4a4.7 4.7 0 1 1 9.4 0a4.7 4.7 0 1 1 -9.4 0ZM209.5 413.6a4.7 4.7 0 1 1 9.4 0a4.7 4.7 0 1 1 -9.4 0ZM205.3 421.4a4.7 4.7 0 1 1 9.4 0a4.7 4.7 0 1 1 -9.4 0ZM219.1 408.2a4.7 4.7 0 1 1 9.4 0a4.7 4.7 0 1 1 -9.4 0ZM229.3 408.8a4.7 4.7 0 1 1 9.4 0a4.7 4.7 0 1 1 -9.4 0ZM236.5 407a4.7 4.7 0 1 1 9.4 0a4.7 4.7 0 1 1 -9.4 0ZM254.5 411.2a4.7 4.7 0 1 1 9.4 0a4.7 4.7 0 1 1 -9.4 0ZM250.9 420.8a4.7 4.7 0 1 1 9.4 0a4.7 4.7 0 1 1 -9.4 0ZM267.7 421.4a4.7 4.7 0 1 1 9.4 0a4.7 4.7 0 1 1 -9.4 0ZM280.3 419.6a4.7 4.7 0 1 1 9.4 0a4.7 4.7 0 1 1 -9.4 0Z" fill="#050505"/>
</g></g>
<g clip-path="url(#clip_A2)"><g filter="url(#cm)">
<path d="M672 46.4L678.7 39.5L687.1 38.3L698.2 36.1L706.3 25.5L755.7 25.4L758.1 39.5L765.4 45.4L768.8 47.6L765.8 58.7L761 68.2L759.8 75.5L756 78.5L747.2 76.8L739.2 78.4L728.3 76.8L717.8 77.5L717.6 83.3L713.1 78.6L703.5 78.6L698.6 74.6L691.6 68.8L681.1 72.1L677.2 66.2L674.2 55.5L671.2 48.3ZM667.5 46.1a4.7 4.7 0 1 1 9.4 0a4.7 4.7 0 1 1 -9.4 0ZM670.9 42.8a4.7 4.7 0 1 1 9.4 0a4.7 4.7 0 1 1 -9.4 0ZM674 39.5a4.7 4.7 0 1 1 9.4 0a4.7 4.7 0 1 1 -9.4 0ZM677.6 39.1a4.7 4.7 0 1 1 9.4 0a4.7 4.7 0 1 1 -9.4 0ZM682.4 38.3a4.7 4.7 0 1 1 9.4 0a4.7 4.7 0 1 1 -9.4 0ZM687.2 37.5a4.7 4.7 0 1 1 9.4 0a4.7 4.7 0 1 1 -9.4 0ZM693.5 36.1a4.7 4.7 0 1 1 9.4 0a4.7 4.7 0 1 1 -9.4 0ZM699.1 29.8a4.7 4.7 0 1 1 9.4 0a4.7 4.7 0 1 1 -9.4 0ZM702.7 25.2a4.7 4.7 0 1 1 9.4 0a4.7 4.7 0 1 1 -9.4 0ZM707.3 25.6a4.7 4.7 0 1 1 9.4 0a4.7 4.7 0 1 1 -9.4 0ZM713.7 25.6a4.7 4.7 0 1 1 9.4 0a4.7 4.7 0 1 1 -9.4 0ZM720.1 25.6a4.7 4.7 0 1 1 9.4 0a4.7 4.7 0 1 1 -9.4 0ZM726.5 25.6a4.7 4.7 0 1 1 9.4 0a4.7 4.7 0 1 1 -9.4 0ZM732.9 25.6a4.7 4.7 0 1 1 9.4 0a4.7 4.7 0 1 1 -9.4 0ZM739.3 25.6a4.7 4.7 0 1 1 9.4 0a4.7 4.7 0 1 1 -9.4 0ZM745.7 25.6a4.7 4.7 0 1 1 9.4 0a4.7 4.7 0 1 1 -9.4 0ZM749.9 24.9a4.7 4.7 0 1 1 9.4 0a4.7 4.7 0 1 1 -9.4 0ZM749.9 28.1a4.7 4.7 0 1 1 9.4 0a4.7 4.7 0 1 1 -9.4 0ZM751.5 33.4a4.7 4.7 0 1 1 9.4 0a4.7 4.7 0 1 1 -9.4 0ZM753.8 40.1a4.7 4.7 0 1 1 9.4 0a4.7 4.7 0 1 1 -9.4 0ZM760.7 45.4a4.7 4.7 0 1 1 9.4 0a4.7 4.7 0 1 1 -9.4 0ZM764.3 48.3a4.7 4.7 0 1 1 9.4 0a4.7 4.7 0 1 1 -9.4 0ZM762.6 52.6a4.7 4.7 0 1 1 9.4 0a4.7 4.7 0 1 1 -9.4 0ZM761.1 58.7a4.7 4.7 0 1 1 9.4 0a4.7 4.7 0 1 1 -9.4 0ZM758.9 63a4.7 4.7 0 1 1 9.4 0a4.7 4.7 0 1 1 -9.4 0ZM756.3 68.4a4.7 4.7 0 1 1 9.4 0a4.7 4.7 0 1 1 -9.4 0ZM755.1 75.5a4.7 4.7 0 1 1 9.4 0a4.7 4.7 0 1 1 -9.4 0ZM750.8 78.6a4.7 4.7 0 1 1 9.4 0a4.7 4.7 0 1 1 -9.4 0ZM748 77.7a4.7 4.7 0 1 1 9.4 0a4.7 4.7 0 1 1 -9.4 0ZM742.3 76.8a4.7 4.7 0 1 1 9.4 0a4.7 4.7 0 1 1 -9.4 0ZM734.3 78.4a4.7 4.7 0 1 1 9.4 0a4.7 4.7 0 1 1 -9.4 0ZM729.5 77.6a4.7 4.7 0 1 1 9.4 0a4.7 4.7 0 1 1 -9.4 0ZM723.5 76.8a4.7 4.7 0 1 1 9.4 0a4.7 4.7 0 1 1 -9.4 0ZM713.1 77.5a4.7 4.7 0 1 1 9.4 0a4.7 4.7 0 1 1 -9.4 0ZM712.9 83.3a4.7 4.7 0 1 1 9.4 0a4.7 4.7 0 1 1 -9.4 0ZM708.9 78.7a4.7 4.7 0 1 1 9.4 0a4.7 4.7 0 1 1 -9.4 0ZM702.5 78.4a4.7 4.7 0 1 1 9.4 0a4.7 4.7 0 1 1 -9.4 0ZM699.3 78.7a4.7 4.7 0 1 1 9.4 0a4.7 4.7 0 1 1 -9.4 0ZM693.9 74.6a4.7 4.7 0 1 1 9.4 0a4.7 4.7 0 1 1 -9.4 0ZM687.7 69a4.7 4.7 0 1 1 9.4 0a4.7 4.7 0 1 1 -9.4 0ZM679.8 70.6a4.7 4.7 0 1 1 9.4 0a4.7 4.7 0 1 1 -9.4 0ZM676.4 72.1a4.7 4.7 0 1 1 9.4 0a4.7 4.7 0 1 1 -9.4 0ZM675.2 69.5a4.7 4.7 0 1 1 9.4 0a4.7 4.7 0 1 1 -9.4 0ZM672.5 66.2a4.7 4.7 0 1 1 9.4 0a4.7 4.7 0 1 1 -9.4 0ZM671.1 61.3a4.7 4.7 0 1 1 9.4 0a4.7 4.7 0 1 1 -9.4 0ZM669.5 55.5a4.7 4.7 0 1 1 9.4 0a4.7 4.7 0 1 1 -9.4 0ZM666.5 48.3a4.7 4.7 0 1 1 9.4 0a4.7 4.7 0 1 1 -9.4 0ZM648.9 40.8a4.7 4.7 0 1 1 9.4 0a4.7 4.7 0 1 1 -9.4 0ZM653.7 44a4.7 4.7 0 1 1 9.4 0a4.7 4.7 0 1 1 -9.4 0ZM657.7 38.4a4.7 4.7 0 1 1 9.4 0a4.7 4.7 0 1 1 -9.4 0ZM664.1 76a4.7 4.7 0 1 1 9.4 0a4.7 4.7 0 1 1 -9.4 0ZM676.9 75.2a4.7 4.7 0 1 1 9.4 0a4.7 4.7 0 1 1 -9.4 0ZM697.7 80a4.7 4.7 0 1 1 9.4 0a4.7 4.7 0 1 1 -9.4 0ZM712.9 86.4a4.7 4.7 0 1 1 9.4 0a4.7 4.7 0 1 1 -9.4 0ZM752.1 80.8a4.7 4.7 0 1 1 9.4 0a4.7 4.7 0 1 1 -9.4 0ZM758.5 77.6a4.7 4.7 0 1 1 9.4 0a4.7 4.7 0 1 1 -9.4 0ZM771.3 50.4a4.7 4.7 0 1 1 9.4 0a4.7 4.7 0 1 1 -9.4 0ZM762.5 43.2a4.7 4.7 0 1 1 9.4 0a4.7 4.7 0 1 1 -9.4 0ZM672.9 36a4.7 4.7 0 1 1 9.4 0a4.7 4.7 0 1 1 -9.4 0ZM690.5 34.4a4.7 4.7 0 1 1 9.4 0a4.7 4.7 0 1 1 -9.4 0Z" fill="#050505"/>
<clipPath id="cc3"><path d="M672 46.4L678.7 39.5L687.1 38.3L698.2 36.1L706.3 25.5L755.7 25.4L758.1 39.5L765.4 45.4L768.8 47.6L765.8 58.7L761 68.2L759.8 75.5L756 78.5L747.2 76.8L739.2 78.4L728.3 76.8L717.8 77.5L717.6 83.3L713.1 78.6L703.5 78.6L698.6 74.6L691.6 68.8L681.1 72.1L677.2 66.2L674.2 55.5L671.2 48.3ZM667.5 46.1a4.7 4.7 0 1 1 9.4 0a4.7 4.7 0 1 1 -9.4 0ZM670.9 42.8a4.7 4.7 0 1 1 9.4 0a4.7 4.7 0 1 1 -9.4 0ZM674 39.5a4.7 4.7 0 1 1 9.4 0a4.7 4.7 0 1 1 -9.4 0ZM677.6 39.1a4.7 4.7 0 1 1 9.4 0a4.7 4.7 0 1 1 -9.4 0ZM682.4 38.3a4.7 4.7 0 1 1 9.4 0a4.7 4.7 0 1 1 -9.4 0ZM687.2 37.5a4.7 4.7 0 1 1 9.4 0a4.7 4.7 0 1 1 -9.4 0ZM693.5 36.1a4.7 4.7 0 1 1 9.4 0a4.7 4.7 0 1 1 -9.4 0ZM699.1 29.8a4.7 4.7 0 1 1 9.4 0a4.7 4.7 0 1 1 -9.4 0ZM702.7 25.2a4.7 4.7 0 1 1 9.4 0a4.7 4.7 0 1 1 -9.4 0ZM707.3 25.6a4.7 4.7 0 1 1 9.4 0a4.7 4.7 0 1 1 -9.4 0ZM713.7 25.6a4.7 4.7 0 1 1 9.4 0a4.7 4.7 0 1 1 -9.4 0ZM720.1 25.6a4.7 4.7 0 1 1 9.4 0a4.7 4.7 0 1 1 -9.4 0ZM726.5 25.6a4.7 4.7 0 1 1 9.4 0a4.7 4.7 0 1 1 -9.4 0ZM732.9 25.6a4.7 4.7 0 1 1 9.4 0a4.7 4.7 0 1 1 -9.4 0ZM739.3 25.6a4.7 4.7 0 1 1 9.4 0a4.7 4.7 0 1 1 -9.4 0ZM745.7 25.6a4.7 4.7 0 1 1 9.4 0a4.7 4.7 0 1 1 -9.4 0ZM749.9 24.9a4.7 4.7 0 1 1 9.4 0a4.7 4.7 0 1 1 -9.4 0ZM749.9 28.1a4.7 4.7 0 1 1 9.4 0a4.7 4.7 0 1 1 -9.4 0ZM751.5 33.4a4.7 4.7 0 1 1 9.4 0a4.7 4.7 0 1 1 -9.4 0ZM753.8 40.1a4.7 4.7 0 1 1 9.4 0a4.7 4.7 0 1 1 -9.4 0ZM760.7 45.4a4.7 4.7 0 1 1 9.4 0a4.7 4.7 0 1 1 -9.4 0ZM764.3 48.3a4.7 4.7 0 1 1 9.4 0a4.7 4.7 0 1 1 -9.4 0ZM762.6 52.6a4.7 4.7 0 1 1 9.4 0a4.7 4.7 0 1 1 -9.4 0ZM761.1 58.7a4.7 4.7 0 1 1 9.4 0a4.7 4.7 0 1 1 -9.4 0ZM758.9 63a4.7 4.7 0 1 1 9.4 0a4.7 4.7 0 1 1 -9.4 0ZM756.3 68.4a4.7 4.7 0 1 1 9.4 0a4.7 4.7 0 1 1 -9.4 0ZM755.1 75.5a4.7 4.7 0 1 1 9.4 0a4.7 4.7 0 1 1 -9.4 0ZM750.8 78.6a4.7 4.7 0 1 1 9.4 0a4.7 4.7 0 1 1 -9.4 0ZM748 77.7a4.7 4.7 0 1 1 9.4 0a4.7 4.7 0 1 1 -9.4 0ZM742.3 76.8a4.7 4.7 0 1 1 9.4 0a4.7 4.7 0 1 1 -9.4 0ZM734.3 78.4a4.7 4.7 0 1 1 9.4 0a4.7 4.7 0 1 1 -9.4 0ZM729.5 77.6a4.7 4.7 0 1 1 9.4 0a4.7 4.7 0 1 1 -9.4 0ZM723.5 76.8a4.7 4.7 0 1 1 9.4 0a4.7 4.7 0 1 1 -9.4 0ZM713.1 77.5a4.7 4.7 0 1 1 9.4 0a4.7 4.7 0 1 1 -9.4 0ZM712.9 83.3a4.7 4.7 0 1 1 9.4 0a4.7 4.7 0 1 1 -9.4 0ZM708.9 78.7a4.7 4.7 0 1 1 9.4 0a4.7 4.7 0 1 1 -9.4 0ZM702.5 78.4a4.7 4.7 0 1 1 9.4 0a4.7 4.7 0 1 1 -9.4 0ZM699.3 78.7a4.7 4.7 0 1 1 9.4 0a4.7 4.7 0 1 1 -9.4 0ZM693.9 74.6a4.7 4.7 0 1 1 9.4 0a4.7 4.7 0 1 1 -9.4 0ZM687.7 69a4.7 4.7 0 1 1 9.4 0a4.7 4.7 0 1 1 -9.4 0ZM679.8 70.6a4.7 4.7 0 1 1 9.4 0a4.7 4.7 0 1 1 -9.4 0ZM676.4 72.1a4.7 4.7 0 1 1 9.4 0a4.7 4.7 0 1 1 -9.4 0ZM675.2 69.5a4.7 4.7 0 1 1 9.4 0a4.7 4.7 0 1 1 -9.4 0ZM672.5 66.2a4.7 4.7 0 1 1 9.4 0a4.7 4.7 0 1 1 -9.4 0ZM671.1 61.3a4.7 4.7 0 1 1 9.4 0a4.7 4.7 0 1 1 -9.4 0ZM669.5 55.5a4.7 4.7 0 1 1 9.4 0a4.7 4.7 0 1 1 -9.4 0ZM666.5 48.3a4.7 4.7 0 1 1 9.4 0a4.7 4.7 0 1 1 -9.4 0ZM648.9 40.8a4.7 4.7 0 1 1 9.4 0a4.7 4.7 0 1 1 -9.4 0ZM653.7 44a4.7 4.7 0 1 1 9.4 0a4.7 4.7 0 1 1 -9.4 0ZM657.7 38.4a4.7 4.7 0 1 1 9.4 0a4.7 4.7 0 1 1 -9.4 0ZM664.1 76a4.7 4.7 0 1 1 9.4 0a4.7 4.7 0 1 1 -9.4 0ZM676.9 75.2a4.7 4.7 0 1 1 9.4 0a4.7 4.7 0 1 1 -9.4 0ZM697.7 80a4.7 4.7 0 1 1 9.4 0a4.7 4.7 0 1 1 -9.4 0ZM712.9 86.4a4.7 4.7 0 1 1 9.4 0a4.7 4.7 0 1 1 -9.4 0ZM752.1 80.8a4.7 4.7 0 1 1 9.4 0a4.7 4.7 0 1 1 -9.4 0ZM758.5 77.6a4.7 4.7 0 1 1 9.4 0a4.7 4.7 0 1 1 -9.4 0ZM771.3 50.4a4.7 4.7 0 1 1 9.4 0a4.7 4.7 0 1 1 -9.4 0ZM762.5 43.2a4.7 4.7 0 1 1 9.4 0a4.7 4.7 0 1 1 -9.4 0ZM672.9 36a4.7 4.7 0 1 1 9.4 0a4.7 4.7 0 1 1 -9.4 0ZM690.5 34.4a4.7 4.7 0 1 1 9.4 0a4.7 4.7 0 1 1 -9.4 0Z"/></clipPath>
<g clip-path="url(#cc3)">
<path d="M676.8 40.8L705.6 21.6L712 44L712 68L696 72.8L680 68Z" fill="#0f0f0f" filter="url(#b4)"/>
<path d="M708.8 21.6L756.8 21.6L760 40.8L758.4 60L753.6 74.4L740.8 80.8L724.8 79.2L712 72.8L707.2 52Z" fill="#212121" filter="url(#b4)"/>
<ellipse cx="737.6" cy="52" rx="13" ry="22" transform="rotate(0 737.6 52)" fill="#404040" filter="url(#b4)"/>
<ellipse cx="738" cy="50" rx="6" ry="10" transform="rotate(0 738 50)" fill="#4a4a4a" filter="url(#b3)"/>
</g>
</g></g>
<g clip-path="url(#clip_A2)"><g filter="url(#cm)">
<path d="M663.6 215.6L669.4 213.6L684 213.5L691.6 208.8L697 211.3L703.8 218L715.2 220L724.8 218.4L732.3 219.4L739.3 228.1L746.2 236.6L752.6 239.8L757 245.8L763.9 252.8L770.7 256L768.9 262.9L765.6 272L768.8 281.2L767 282.5L759.6 280.8L751.2 284.8L745.4 290.8L737.6 292L733.3 291L727.3 284.9L716.7 277.9L705.6 276L697 277.7L687.7 271.4L675.8 271.3L666.5 276.1L659.1 274.7L651.7 270.4L655.1 265.1L656.7 255.1L658.4 245.1L658.4 235.5L659.8 226.7L662.9 220.6ZM658.9 215.6a4.7 4.7 0 1 1 9.4 0a4.7 4.7 0 1 1 -9.4 0ZM664.9 213.5a4.7 4.7 0 1 1 9.4 0a4.7 4.7 0 1 1 -9.4 0ZM671.3 213.6a4.7 4.7 0 1 1 9.4 0a4.7 4.7 0 1 1 -9.4 0ZM679.3 213.5a4.7 4.7 0 1 1 9.4 0a4.7 4.7 0 1 1 -9.4 0ZM684.6 210.6a4.7 4.7 0 1 1 9.4 0a4.7 4.7 0 1 1 -9.4 0ZM686.2 208.8a4.7 4.7 0 1 1 9.4 0a4.7 4.7 0 1 1 -9.4 0ZM692.3 211.3a4.7 4.7 0 1 1 9.4 0a4.7 4.7 0 1 1 -9.4 0ZM698.7 217.8a4.7 4.7 0 1 1 9.4 0a4.7 4.7 0 1 1 -9.4 0ZM705 219.1a4.7 4.7 0 1 1 9.4 0a4.7 4.7 0 1 1 -9.4 0ZM710.5 220a4.7 4.7 0 1 1 9.4 0a4.7 4.7 0 1 1 -9.4 0ZM716 219.1a4.7 4.7 0 1 1 9.4 0a4.7 4.7 0 1 1 -9.4 0ZM720.1 218.4a4.7 4.7 0 1 1 9.4 0a4.7 4.7 0 1 1 -9.4 0ZM724.2 219.1a4.7 4.7 0 1 1 9.4 0a4.7 4.7 0 1 1 -9.4 0ZM727.6 219.4a4.7 4.7 0 1 1 9.4 0a4.7 4.7 0 1 1 -9.4 0ZM730.6 223.4a4.7 4.7 0 1 1 9.4 0a4.7 4.7 0 1 1 -9.4 0ZM734.6 228.1a4.7 4.7 0 1 1 9.4 0a4.7 4.7 0 1 1 -9.4 0ZM737.8 232.1a4.7 4.7 0 1 1 9.4 0a4.7 4.7 0 1 1 -9.4 0ZM741.7 236.8a4.7 4.7 0 1 1 9.4 0a4.7 4.7 0 1 1 -9.4 0ZM747.9 239.8a4.7 4.7 0 1 1 9.4 0a4.7 4.7 0 1 1 -9.4 0ZM752.3 245.8a4.7 4.7 0 1 1 9.4 0a4.7 4.7 0 1 1 -9.4 0ZM759.1 252.6a4.7 4.7 0 1 1 9.4 0a4.7 4.7 0 1 1 -9.4 0ZM763.6 255.4a4.7 4.7 0 1 1 9.4 0a4.7 4.7 0 1 1 -9.4 0ZM766 256a4.7 4.7 0 1 1 9.4 0a4.7 4.7 0 1 1 -9.4 0ZM765 258.5a4.7 4.7 0 1 1 9.4 0a4.7 4.7 0 1 1 -9.4 0ZM764.3 262.8a4.7 4.7 0 1 1 9.4 0a4.7 4.7 0 1 1 -9.4 0ZM760.9 271.5a4.7 4.7 0 1 1 9.4 0a4.7 4.7 0 1 1 -9.4 0ZM762.7 278.1a4.7 4.7 0 1 1 9.4 0a4.7 4.7 0 1 1 -9.4 0ZM764.3 280.3a4.7 4.7 0 1 1 9.4 0a4.7 4.7 0 1 1 -9.4 0ZM762.3 282.5a4.7 4.7 0 1 1 9.4 0a4.7 4.7 0 1 1 -9.4 0ZM754.9 280.8a4.7 4.7 0 1 1 9.4 0a4.7 4.7 0 1 1 -9.4 0ZM746.5 284.8a4.7 4.7 0 1 1 9.4 0a4.7 4.7 0 1 1 -9.4 0ZM740.3 291a4.7 4.7 0 1 1 9.4 0a4.7 4.7 0 1 1 -9.4 0ZM737 291.3a4.7 4.7 0 1 1 9.4 0a4.7 4.7 0 1 1 -9.4 0ZM733.2 292a4.7 4.7 0 1 1 9.4 0a4.7 4.7 0 1 1 -9.4 0ZM728.6 291a4.7 4.7 0 1 1 9.4 0a4.7 4.7 0 1 1 -9.4 0ZM722.7 285a4.7 4.7 0 1 1 9.4 0a4.7 4.7 0 1 1 -9.4 0ZM717.5 281.5a4.7 4.7 0 1 1 9.4 0a4.7 4.7 0 1 1 -9.4 0ZM712 277.9a4.7 4.7 0 1 1 9.4 0a4.7 4.7 0 1 1 -9.4 0ZM706.4 276.9a4.7 4.7 0 1 1 9.4 0a4.7 4.7 0 1 1 -9.4 0ZM700.9 276a4.7 4.7 0 1 1 9.4 0a4.7 4.7 0 1 1 -9.4 0ZM695.4 276.9a4.7 4.7 0 1 1 9.4 0a4.7 4.7 0 1 1 -9.4 0ZM692.3 277.7a4.7 4.7 0 1 1 9.4 0a4.7 4.7 0 1 1 -9.4 0ZM688.7 275.1a4.7 4.7 0 1 1 9.4 0a4.7 4.7 0 1 1 -9.4 0ZM683 271.4a4.7 4.7 0 1 1 9.4 0a4.7 4.7 0 1 1 -9.4 0ZM676.9 271.2a4.7 4.7 0 1 1 9.4 0a4.7 4.7 0 1 1 -9.4 0ZM671.1 271.3a4.7 4.7 0 1 1 9.4 0a4.7 4.7 0 1 1 -9.4 0ZM665.5 274a4.7 4.7 0 1 1 9.4 0a4.7 4.7 0 1 1 -9.4 0ZM661.8 276.1a4.7 4.7 0 1 1 9.4 0a4.7 4.7 0 1 1 -9.4 0ZM658.4 275.3a4.7 4.7 0 1 1 9.4 0a4.7 4.7 0 1 1 -9.4 0ZM654.4 274.7a4.7 4.7 0 1 1 9.4 0a4.7 4.7 0 1 1 -9.4 0ZM650.3 271.9a4.7 4.7 0 1 1 9.4 0a4.7 4.7 0 1 1 -9.4 0ZM647.3 271.4a4.7 4.7 0 1 1 9.4 0a4.7 4.7 0 1 1 -9.4 0ZM650.3 265.2a4.7 4.7 0 1 1 9.4 0a4.7 4.7 0 1 1 -9.4 0ZM651.2 259.9a4.7 4.7 0 1 1 9.4 0a4.7 4.7 0 1 1 -9.4 0ZM652 255.1a4.7 4.7 0 1 1 9.4 0a4.7 4.7 0 1 1 -9.4 0ZM652.8 250.3a4.7 4.7 0 1 1 9.4 0a4.7 4.7 0 1 1 -9.4 0ZM653.7 245.1a4.7 4.7 0 1 1 9.4 0a4.7 4.7 0 1 1 -9.4 0ZM653.7 240a4.7 4.7 0 1 1 9.4 0a4.7 4.7 0 1 1 -9.4 0ZM653.7 235.5a4.7 4.7 0 1 1 9.4 0a4.7 4.7 0 1 1 -9.4 0ZM654.4 231.1a4.7 4.7 0 1 1 9.4 0a4.7 4.7 0 1 1 -9.4 0ZM655.1 226.9a4.7 4.7 0 1 1 9.4 0a4.7 4.7 0 1 1 -9.4 0ZM658.2 220.6a4.7 4.7 0 1 1 9.4 0a4.7 4.7 0 1 1 -9.4 0ZM651.3 184a4.7 4.7 0 1 1 9.4 0a4.7 4.7 0 1 1 -9.4 0ZM672.1 199.2a4.7 4.7 0 1 1 9.4 0a4.7 4.7 0 1 1 -9.4 0ZM691.3 204.8a4.7 4.7 0 1 1 9.4 0a4.7 4.7 0 1 1 -9.4 0ZM701.7 204.5a4.7 4.7 0 1 1 9.4 0a4.7 4.7 0 1 1 -9.4 0ZM641.7 241.6a4.7 4.7 0 1 1 9.4 0a4.7 4.7 0 1 1 -9.4 0ZM640.9 270.4a4.7 4.7 0 1 1 9.4 0a4.7 4.7 0 1 1 -9.4 0ZM680.1 295.2a4.7 4.7 0 1 1 9.4 0a4.7 4.7 0 1 1 -9.4 0ZM760.1 242.4a4.7 4.7 0 1 1 9.4 0a4.7 4.7 0 1 1 -9.4 0ZM768.9 256.8a4.7 4.7 0 1 1 9.4 0a4.7 4.7 0 1 1 -9.4 0ZM764.9 266.4a4.7 4.7 0 1 1 9.4 0a4.7 4.7 0 1 1 -9.4 0ZM768.9 284.8a4.7 4.7 0 1 1 9.4 0a4.7 4.7 0 1 1 -9.4 0ZM727.3 294.4a4.7 4.7 0 1 1 9.4 0a4.7 4.7 0 1 1 -9.4 0ZM737.7 294.4a4.7 4.7 0 1 1 9.4 0a4.7 4.7 0 1 1 -9.4 0Z" fill="#050505"/>
<clipPath id="cc4"><path d="M663.6 215.6L669.4 213.6L684 213.5L691.6 208.8L697 211.3L703.8 218L715.2 220L724.8 218.4L732.3 219.4L739.3 228.1L746.2 236.6L752.6 239.8L757 245.8L763.9 252.8L770.7 256L768.9 262.9L765.6 272L768.8 281.2L767 282.5L759.6 280.8L751.2 284.8L745.4 290.8L737.6 292L733.3 291L727.3 284.9L716.7 277.9L705.6 276L697 277.7L687.7 271.4L675.8 271.3L666.5 276.1L659.1 274.7L651.7 270.4L655.1 265.1L656.7 255.1L658.4 245.1L658.4 235.5L659.8 226.7L662.9 220.6ZM658.9 215.6a4.7 4.7 0 1 1 9.4 0a4.7 4.7 0 1 1 -9.4 0ZM664.9 213.5a4.7 4.7 0 1 1 9.4 0a4.7 4.7 0 1 1 -9.4 0ZM671.3 213.6a4.7 4.7 0 1 1 9.4 0a4.7 4.7 0 1 1 -9.4 0ZM679.3 213.5a4.7 4.7 0 1 1 9.4 0a4.7 4.7 0 1 1 -9.4 0ZM684.6 210.6a4.7 4.7 0 1 1 9.4 0a4.7 4.7 0 1 1 -9.4 0ZM686.2 208.8a4.7 4.7 0 1 1 9.4 0a4.7 4.7 0 1 1 -9.4 0ZM692.3 211.3a4.7 4.7 0 1 1 9.4 0a4.7 4.7 0 1 1 -9.4 0ZM698.7 217.8a4.7 4.7 0 1 1 9.4 0a4.7 4.7 0 1 1 -9.4 0ZM705 219.1a4.7 4.7 0 1 1 9.4 0a4.7 4.7 0 1 1 -9.4 0ZM710.5 220a4.7 4.7 0 1 1 9.4 0a4.7 4.7 0 1 1 -9.4 0ZM716 219.1a4.7 4.7 0 1 1 9.4 0a4.7 4.7 0 1 1 -9.4 0ZM720.1 218.4a4.7 4.7 0 1 1 9.4 0a4.7 4.7 0 1 1 -9.4 0ZM724.2 219.1a4.7 4.7 0 1 1 9.4 0a4.7 4.7 0 1 1 -9.4 0ZM727.6 219.4a4.7 4.7 0 1 1 9.4 0a4.7 4.7 0 1 1 -9.4 0ZM730.6 223.4a4.7 4.7 0 1 1 9.4 0a4.7 4.7 0 1 1 -9.4 0ZM734.6 228.1a4.7 4.7 0 1 1 9.4 0a4.7 4.7 0 1 1 -9.4 0ZM737.8 232.1a4.7 4.7 0 1 1 9.4 0a4.7 4.7 0 1 1 -9.4 0ZM741.7 236.8a4.7 4.7 0 1 1 9.4 0a4.7 4.7 0 1 1 -9.4 0ZM747.9 239.8a4.7 4.7 0 1 1 9.4 0a4.7 4.7 0 1 1 -9.4 0ZM752.3 245.8a4.7 4.7 0 1 1 9.4 0a4.7 4.7 0 1 1 -9.4 0ZM759.1 252.6a4.7 4.7 0 1 1 9.4 0a4.7 4.7 0 1 1 -9.4 0ZM763.6 255.4a4.7 4.7 0 1 1 9.4 0a4.7 4.7 0 1 1 -9.4 0ZM766 256a4.7 4.7 0 1 1 9.4 0a4.7 4.7 0 1 1 -9.4 0ZM765 258.5a4.7 4.7 0 1 1 9.4 0a4.7 4.7 0 1 1 -9.4 0ZM764.3 262.8a4.7 4.7 0 1 1 9.4 0a4.7 4.7 0 1 1 -9.4 0ZM760.9 271.5a4.7 4.7 0 1 1 9.4 0a4.7 4.7 0 1 1 -9.4 0ZM762.7 278.1a4.7 4.7 0 1 1 9.4 0a4.7 4.7 0 1 1 -9.4 0ZM764.3 280.3a4.7 4.7 0 1 1 9.4 0a4.7 4.7 0 1 1 -9.4 0ZM762.3 282.5a4.7 4.7 0 1 1 9.4 0a4.7 4.7 0 1 1 -9.4 0ZM754.9 280.8a4.7 4.7 0 1 1 9.4 0a4.7 4.7 0 1 1 -9.4 0ZM746.5 284.8a4.7 4.7 0 1 1 9.4 0a4.7 4.7 0 1 1 -9.4 0ZM740.3 291a4.7 4.7 0 1 1 9.4 0a4.7 4.7 0 1 1 -9.4 0ZM737 291.3a4.7 4.7 0 1 1 9.4 0a4.7 4.7 0 1 1 -9.4 0ZM733.2 292a4.7 4.7 0 1 1 9.4 0a4.7 4.7 0 1 1 -9.4 0ZM728.6 291a4.7 4.7 0 1 1 9.4 0a4.7 4.7 0 1 1 -9.4 0ZM722.7 285a4.7 4.7 0 1 1 9.4 0a4.7 4.7 0 1 1 -9.4 0ZM717.5 281.5a4.7 4.7 0 1 1 9.4 0a4.7 4.7 0 1 1 -9.4 0ZM712 277.9a4.7 4.7 0 1 1 9.4 0a4.7 4.7 0 1 1 -9.4 0ZM706.4 276.9a4.7 4.7 0 1 1 9.4 0a4.7 4.7 0 1 1 -9.4 0ZM700.9 276a4.7 4.7 0 1 1 9.4 0a4.7 4.7 0 1 1 -9.4 0ZM695.4 276.9a4.7 4.7 0 1 1 9.4 0a4.7 4.7 0 1 1 -9.4 0ZM692.3 277.7a4.7 4.7 0 1 1 9.4 0a4.7 4.7 0 1 1 -9.4 0ZM688.7 275.1a4.7 4.7 0 1 1 9.4 0a4.7 4.7 0 1 1 -9.4 0ZM683 271.4a4.7 4.7 0 1 1 9.4 0a4.7 4.7 0 1 1 -9.4 0ZM676.9 271.2a4.7 4.7 0 1 1 9.4 0a4.7 4.7 0 1 1 -9.4 0ZM671.1 271.3a4.7 4.7 0 1 1 9.4 0a4.7 4.7 0 1 1 -9.4 0ZM665.5 274a4.7 4.7 0 1 1 9.4 0a4.7 4.7 0 1 1 -9.4 0ZM661.8 276.1a4.7 4.7 0 1 1 9.4 0a4.7 4.7 0 1 1 -9.4 0ZM658.4 275.3a4.7 4.7 0 1 1 9.4 0a4.7 4.7 0 1 1 -9.4 0ZM654.4 274.7a4.7 4.7 0 1 1 9.4 0a4.7 4.7 0 1 1 -9.4 0ZM650.3 271.9a4.7 4.7 0 1 1 9.4 0a4.7 4.7 0 1 1 -9.4 0ZM647.3 271.4a4.7 4.7 0 1 1 9.4 0a4.7 4.7 0 1 1 -9.4 0ZM650.3 265.2a4.7 4.7 0 1 1 9.4 0a4.7 4.7 0 1 1 -9.4 0ZM651.2 259.9a4.7 4.7 0 1 1 9.4 0a4.7 4.7 0 1 1 -9.4 0ZM652 255.1a4.7 4.7 0 1 1 9.4 0a4.7 4.7 0 1 1 -9.4 0ZM652.8 250.3a4.7 4.7 0 1 1 9.4 0a4.7 4.7 0 1 1 -9.4 0ZM653.7 245.1a4.7 4.7 0 1 1 9.4 0a4.7 4.7 0 1 1 -9.4 0ZM653.7 240a4.7 4.7 0 1 1 9.4 0a4.7 4.7 0 1 1 -9.4 0ZM653.7 235.5a4.7 4.7 0 1 1 9.4 0a4.7 4.7 0 1 1 -9.4 0ZM654.4 231.1a4.7 4.7 0 1 1 9.4 0a4.7 4.7 0 1 1 -9.4 0ZM655.1 226.9a4.7 4.7 0 1 1 9.4 0a4.7 4.7 0 1 1 -9.4 0ZM658.2 220.6a4.7 4.7 0 1 1 9.4 0a4.7 4.7 0 1 1 -9.4 0ZM651.3 184a4.7 4.7 0 1 1 9.4 0a4.7 4.7 0 1 1 -9.4 0ZM672.1 199.2a4.7 4.7 0 1 1 9.4 0a4.7 4.7 0 1 1 -9.4 0ZM691.3 204.8a4.7 4.7 0 1 1 9.4 0a4.7 4.7 0 1 1 -9.4 0ZM701.7 204.5a4.7 4.7 0 1 1 9.4 0a4.7 4.7 0 1 1 -9.4 0ZM641.7 241.6a4.7 4.7 0 1 1 9.4 0a4.7 4.7 0 1 1 -9.4 0ZM640.9 270.4a4.7 4.7 0 1 1 9.4 0a4.7 4.7 0 1 1 -9.4 0ZM680.1 295.2a4.7 4.7 0 1 1 9.4 0a4.7 4.7 0 1 1 -9.4 0ZM760.1 242.4a4.7 4.7 0 1 1 9.4 0a4.7 4.7 0 1 1 -9.4 0ZM768.9 256.8a4.7 4.7 0 1 1 9.4 0a4.7 4.7 0 1 1 -9.4 0ZM764.9 266.4a4.7 4.7 0 1 1 9.4 0a4.7 4.7 0 1 1 -9.4 0ZM768.9 284.8a4.7 4.7 0 1 1 9.4 0a4.7 4.7 0 1 1 -9.4 0ZM727.3 294.4a4.7 4.7 0 1 1 9.4 0a4.7 4.7 0 1 1 -9.4 0ZM737.7 294.4a4.7 4.7 0 1 1 9.4 0a4.7 4.7 0 1 1 -9.4 0Z"/></clipPath>
<g clip-path="url(#cc4)">
<path d="M664 220.8L688 214.4L705.6 217.6L705.6 272L688 275.2L667.2 272L660.8 249.6Z" fill="#121212" filter="url(#b4)"/>
<path d="M683.2 214.4L705.6 214.4L728 214.4L744 227.2L753.6 243.2L760 259.2L760 275.2L752 288L737.6 294.4L720 286.4L705.6 278.4L692.8 278.4L684.8 272L683.2 240Z" fill="#1f1f1f" filter="url(#b3)"/>
<ellipse cx="728" cy="256" rx="21" ry="37" transform="rotate(-10 728 256)" fill="#474747" filter="url(#b4)"/>
<ellipse cx="729" cy="254.4" rx="15" ry="26" transform="rotate(-8 729 254.4)" fill="#666666" filter="url(#b3)"/>
<ellipse cx="730.4" cy="254.4" rx="8" ry="15" transform="rotate(-5 730.4 254.4)" fill="#878787" filter="url(#b3)"/>
</g>
</g></g>
<g clip-path="url(#clip_A2)"><g filter="url(#cm)">
<path d="M688.5 424L693.1 424.3L707.4 422L712.6 414.5L719.8 412.8L727.1 415.9L736.8 416.7L744.7 419.1L744.8 421.6L746.8 424ZM687 426.6a4.7 4.7 0 1 1 9.4 0a4.7 4.7 0 1 1 -9.4 0ZM689 423.9a4.7 4.7 0 1 1 9.4 0a4.7 4.7 0 1 1 -9.4 0ZM694.4 423.5a4.7 4.7 0 1 1 9.4 0a4.7 4.7 0 1 1 -9.4 0ZM703.2 421.7a4.7 4.7 0 1 1 9.4 0a4.7 4.7 0 1 1 -9.4 0ZM708.3 414.2a4.7 4.7 0 1 1 9.4 0a4.7 4.7 0 1 1 -9.4 0ZM711.5 413.9a4.7 4.7 0 1 1 9.4 0a4.7 4.7 0 1 1 -9.4 0ZM714.7 412.7a4.7 4.7 0 1 1 9.4 0a4.7 4.7 0 1 1 -9.4 0ZM722.2 415.8a4.7 4.7 0 1 1 9.4 0a4.7 4.7 0 1 1 -9.4 0ZM727.8 416.4a4.7 4.7 0 1 1 9.4 0a4.7 4.7 0 1 1 -9.4 0ZM732.1 416.7a4.7 4.7 0 1 1 9.4 0a4.7 4.7 0 1 1 -9.4 0ZM736.4 418.2a4.7 4.7 0 1 1 9.4 0a4.7 4.7 0 1 1 -9.4 0ZM739.5 418.7a4.7 4.7 0 1 1 9.4 0a4.7 4.7 0 1 1 -9.4 0ZM740.1 421.6a4.7 4.7 0 1 1 9.4 0a4.7 4.7 0 1 1 -9.4 0ZM739.9 425a4.7 4.7 0 1 1 9.4 0a4.7 4.7 0 1 1 -9.4 0ZM736.6 424a4.7 4.7 0 1 1 9.4 0a4.7 4.7 0 1 1 -9.4 0ZM730.7 424a4.7 4.7 0 1 1 9.4 0a4.7 4.7 0 1 1 -9.4 0ZM724.7 424a4.7 4.7 0 1 1 9.4 0a4.7 4.7 0 1 1 -9.4 0ZM718.8 424a4.7 4.7 0 1 1 9.4 0a4.7 4.7 0 1 1 -9.4 0ZM712.9 424a4.7 4.7 0 1 1 9.4 0a4.7 4.7 0 1 1 -9.4 0ZM707 424a4.7 4.7 0 1 1 9.4 0a4.7 4.7 0 1 1 -9.4 0ZM701.1 424a4.7 4.7 0 1 1 9.4 0a4.7 4.7 0 1 1 -9.4 0ZM695.1 424a4.7 4.7 0 1 1 9.4 0a4.7 4.7 0 1 1 -9.4 0ZM689.2 424a4.7 4.7 0 1 1 9.4 0a4.7 4.7 0 1 1 -9.4 0ZM664.9 423.2a4.7 4.7 0 1 1 9.4 0a4.7 4.7 0 1 1 -9.4 0ZM688.1 423.2a4.7 4.7 0 1 1 9.4 0a4.7 4.7 0 1 1 -9.4 0ZM694.5 421.6a4.7 4.7 0 1 1 9.4 0a4.7 4.7 0 1 1 -9.4 0ZM707.3 413.6a4.7 4.7 0 1 1 9.4 0a4.7 4.7 0 1 1 -9.4 0ZM712.1 413.6a4.7 4.7 0 1 1 9.4 0a4.7 4.7 0 1 1 -9.4 0ZM719.3 410.1a4.7 4.7 0 1 1 9.4 0a4.7 4.7 0 1 1 -9.4 0ZM713.7 420.8a4.7 4.7 0 1 1 9.4 0a4.7 4.7 0 1 1 -9.4 0ZM729.7 416a4.7 4.7 0 1 1 9.4 0a4.7 4.7 0 1 1 -9.4 0ZM737.7 417.6a4.7 4.7 0 1 1 9.4 0a4.7 4.7 0 1 1 -9.4 0ZM740.9 419.2a4.7 4.7 0 1 1 9.4 0a4.7 4.7 0 1 1 -9.4 0ZM726.5 420a4.7 4.7 0 1 1 9.4 0a4.7 4.7 0 1 1 -9.4 0ZM700.9 422.4a4.7 4.7 0 1 1 9.4 0a4.7 4.7 0 1 1 -9.4 0Z" fill="#050505"/>
</g></g>
<g clip-path="url(#clip_A3)"><g filter="url(#cm)">
<path d="M220 621.4L229.9 615.1L239.5 612.9L247.2 616.7L257.2 614.1L267.4 619.2L278.2 616.7L287.7 619.2L297.2 620.3L301.8 624L303.6 629.7L303.1 639.4L312.5 642L315.2 642.7L311.4 649.7L318.5 653.6L320.2 660.1L317.8 666.2L324.1 673.3L330.8 678.3L329.2 685.9L331.9 698.2L334.4 704L332.5 704.8L323.7 703.5L313.8 707.3L303.8 704.7L295 707.4L286.1 709.9L276.6 706.1L265.9 704.8L255.1 703.4L244.9 704.7L232.5 703.5L222.6 702.2L213.5 700.1L208.7 695.2L206.6 688L207.9 678.5L209.1 668.5L211.5 660.1L215.3 651.3L219.4 640.3L219.4 629.6ZM215.3 621.4a4.7 4.7 0 1 1 9.4 0a4.7 4.7 0 1 1 -9.4 0ZM220 618.6a4.7 4.7 0 1 1 9.4 0a4.7 4.7 0 1 1 -9.4 0ZM225.2 615.1a4.7 4.7 0 1 1 9.4 0a4.7 4.7 0 1 1 -9.4 0ZM230.2 614.1a4.7 4.7 0 1 1 9.4 0a4.7 4.7 0 1 1 -9.4 0ZM234.3 612.8a4.7 4.7 0 1 1 9.4 0a4.7 4.7 0 1 1 -9.4 0ZM242 616.6a4.7 4.7 0 1 1 9.4 0a4.7 4.7 0 1 1 -9.4 0ZM248.8 615.3a4.7 4.7 0 1 1 9.4 0a4.7 4.7 0 1 1 -9.4 0ZM252.5 614.1a4.7 4.7 0 1 1 9.4 0a4.7 4.7 0 1 1 -9.4 0ZM256.3 616.3a4.7 4.7 0 1 1 9.4 0a4.7 4.7 0 1 1 -9.4 0ZM262.7 619.2a4.7 4.7 0 1 1 9.4 0a4.7 4.7 0 1 1 -9.4 0ZM269.3 617.9a4.7 4.7 0 1 1 9.4 0a4.7 4.7 0 1 1 -9.4 0ZM273.5 616.7a4.7 4.7 0 1 1 9.4 0a4.7 4.7 0 1 1 -9.4 0ZM277.6 617.9a4.7 4.7 0 1 1 9.4 0a4.7 4.7 0 1 1 -9.4 0ZM283 619.2a4.7 4.7 0 1 1 9.4 0a4.7 4.7 0 1 1 -9.4 0ZM288.3 619.9a4.7 4.7 0 1 1 9.4 0a4.7 4.7 0 1 1 -9.4 0ZM292.2 620.1a4.7 4.7 0 1 1 9.4 0a4.7 4.7 0 1 1 -9.4 0ZM297.1 624a4.7 4.7 0 1 1 9.4 0a4.7 4.7 0 1 1 -9.4 0ZM298.9 629.7a4.7 4.7 0 1 1 9.4 0a4.7 4.7 0 1 1 -9.4 0ZM298.4 639.4a4.7 4.7 0 1 1 9.4 0a4.7 4.7 0 1 1 -9.4 0ZM307.8 642a4.7 4.7 0 1 1 9.4 0a4.7 4.7 0 1 1 -9.4 0ZM310.5 642.7a4.7 4.7 0 1 1 9.4 0a4.7 4.7 0 1 1 -9.4 0ZM306.7 649.7a4.7 4.7 0 1 1 9.4 0a4.7 4.7 0 1 1 -9.4 0ZM314.3 654.1a4.7 4.7 0 1 1 9.4 0a4.7 4.7 0 1 1 -9.4 0ZM314.4 656.7a4.7 4.7 0 1 1 9.4 0a4.7 4.7 0 1 1 -9.4 0ZM315.6 659.6a4.7 4.7 0 1 1 9.4 0a4.7 4.7 0 1 1 -9.4 0ZM313.1 666.2a4.7 4.7 0 1 1 9.4 0a4.7 4.7 0 1 1 -9.4 0ZM319.4 673.2a4.7 4.7 0 1 1 9.4 0a4.7 4.7 0 1 1 -9.4 0ZM323.4 676.6a4.7 4.7 0 1 1 9.4 0a4.7 4.7 0 1 1 -9.4 0ZM325.9 677.5a4.7 4.7 0 1 1 9.4 0a4.7 4.7 0 1 1 -9.4 0ZM324.5 685.7a4.7 4.7 0 1 1 9.4 0a4.7 4.7 0 1 1 -9.4 0ZM325.9 692.3a4.7 4.7 0 1 1 9.4 0a4.7 4.7 0 1 1 -9.4 0ZM327.2 698.3a4.7 4.7 0 1 1 9.4 0a4.7 4.7 0 1 1 -9.4 0ZM329.7 704a4.7 4.7 0 1 1 9.4 0a4.7 4.7 0 1 1 -9.4 0ZM327.8 704.8a4.7 4.7 0 1 1 9.4 0a4.7 4.7 0 1 1 -9.4 0ZM319.4 703.4a4.7 4.7 0 1 1 9.4 0a4.7 4.7 0 1 1 -9.4 0ZM313 705.6a4.7 4.7 0 1 1 9.4 0a4.7 4.7 0 1 1 -9.4 0ZM309.1 707.3a4.7 4.7 0 1 1 9.4 0a4.7 4.7 0 1 1 -9.4 0ZM305.1 706.1a4.7 4.7 0 1 1 9.4 0a4.7 4.7 0 1 1 -9.4 0ZM298.7 704.7a4.7 4.7 0 1 1 9.4 0a4.7 4.7 0 1 1 -9.4 0ZM290.2 707.5a4.7 4.7 0 1 1 9.4 0a4.7 4.7 0 1 1 -9.4 0ZM285.3 708.7a4.7 4.7 0 1 1 9.4 0a4.7 4.7 0 1 1 -9.4 0ZM281.4 709.9a4.7 4.7 0 1 1 9.4 0a4.7 4.7 0 1 1 -9.4 0ZM277.4 708.2a4.7 4.7 0 1 1 9.4 0a4.7 4.7 0 1 1 -9.4 0ZM271.9 706.1a4.7 4.7 0 1 1 9.4 0a4.7 4.7 0 1 1 -9.4 0ZM266.3 705.4a4.7 4.7 0 1 1 9.4 0a4.7 4.7 0 1 1 -9.4 0ZM261.2 704.8a4.7 4.7 0 1 1 9.4 0a4.7 4.7 0 1 1 -9.4 0ZM256 704.1a4.7 4.7 0 1 1 9.4 0a4.7 4.7 0 1 1 -9.4 0ZM250.4 703.4a4.7 4.7 0 1 1 9.4 0a4.7 4.7 0 1 1 -9.4 0ZM244.8 704.1a4.7 4.7 0 1 1 9.4 0a4.7 4.7 0 1 1 -9.4 0ZM240.2 704.7a4.7 4.7 0 1 1 9.4 0a4.7 4.7 0 1 1 -9.4 0ZM234.2 704.1a4.7 4.7 0 1 1 9.4 0a4.7 4.7 0 1 1 -9.4 0ZM227.8 703.5a4.7 4.7 0 1 1 9.4 0a4.7 4.7 0 1 1 -9.4 0ZM222.8 702.8a4.7 4.7 0 1 1 9.4 0a4.7 4.7 0 1 1 -9.4 0ZM217.9 702.2a4.7 4.7 0 1 1 9.4 0a4.7 4.7 0 1 1 -9.4 0ZM213 701a4.7 4.7 0 1 1 9.4 0a4.7 4.7 0 1 1 -9.4 0ZM209.1 700.3a4.7 4.7 0 1 1 9.4 0a4.7 4.7 0 1 1 -9.4 0ZM203.8 694.9a4.7 4.7 0 1 1 9.4 0a4.7 4.7 0 1 1 -9.4 0ZM203.1 691.6a4.7 4.7 0 1 1 9.4 0a4.7 4.7 0 1 1 -9.4 0ZM201.9 688a4.7 4.7 0 1 1 9.4 0a4.7 4.7 0 1 1 -9.4 0ZM202.5 683.6a4.7 4.7 0 1 1 9.4 0a4.7 4.7 0 1 1 -9.4 0ZM203.2 678.5a4.7 4.7 0 1 1 9.4 0a4.7 4.7 0 1 1 -9.4 0ZM203.8 673.4a4.7 4.7 0 1 1 9.4 0a4.7 4.7 0 1 1 -9.4 0ZM204.4 668.5a4.7 4.7 0 1 1 9.4 0a4.7 4.7 0 1 1 -9.4 0ZM205.6 664.4a4.7 4.7 0 1 1 9.4 0a4.7 4.7 0 1 1 -9.4 0ZM206.8 660.1a4.7 4.7 0 1 1 9.4 0a4.7 4.7 0 1 1 -9.4 0ZM208.7 655.9a4.7 4.7 0 1 1 9.4 0a4.7 4.7 0 1 1 -9.4 0ZM210.6 651.3a4.7 4.7 0 1 1 9.4 0a4.7 4.7 0 1 1 -9.4 0ZM212.6 646.1a4.7 4.7 0 1 1 9.4 0a4.7 4.7 0 1 1 -9.4 0ZM214.7 640.3a4.7 4.7 0 1 1 9.4 0a4.7 4.7 0 1 1 -9.4 0ZM214.7 634.5a4.7 4.7 0 1 1 9.4 0a4.7 4.7 0 1 1 -9.4 0ZM214.7 629.6a4.7 4.7 0 1 1 9.4 0a4.7 4.7 0 1 1 -9.4 0ZM215.3 624.7a4.7 4.7 0 1 1 9.4 0a4.7 4.7 0 1 1 -9.4 0ZM290.1 555.1a4.7 4.7 0 1 1 9.4 0a4.7 4.7 0 1 1 -9.4 0ZM285.6 565.4a4.7 4.7 0 1 1 9.4 0a4.7 4.7 0 1 1 -9.4 0ZM292.7 569.2a4.7 4.7 0 1 1 9.4 0a4.7 4.7 0 1 1 -9.4 0ZM302.9 565.4a4.7 4.7 0 1 1 9.4 0a4.7 4.7 0 1 1 -9.4 0ZM283.7 580.7a4.7 4.7 0 1 1 9.4 0a4.7 4.7 0 1 1 -9.4 0ZM286.9 592.2a4.7 4.7 0 1 1 9.4 0a4.7 4.7 0 1 1 -9.4 0ZM251.1 578.2a4.7 4.7 0 1 1 9.4 0a4.7 4.7 0 1 1 -9.4 0ZM242.7 595.4a4.7 4.7 0 1 1 9.4 0a4.7 4.7 0 1 1 -9.4 0ZM237.6 603.1a4.7 4.7 0 1 1 9.4 0a4.7 4.7 0 1 1 -9.4 0ZM259.4 599.9a4.7 4.7 0 1 1 9.4 0a4.7 4.7 0 1 1 -9.4 0ZM276 607a4.7 4.7 0 1 1 9.4 0a4.7 4.7 0 1 1 -9.4 0ZM291.4 608.2a4.7 4.7 0 1 1 9.4 0a4.7 4.7 0 1 1 -9.4 0ZM253 610.2a4.7 4.7 0 1 1 9.4 0a4.7 4.7 0 1 1 -9.4 0ZM300.3 618.5a4.7 4.7 0 1 1 9.4 0a4.7 4.7 0 1 1 -9.4 0ZM301.6 628.1a4.7 4.7 0 1 1 9.4 0a4.7 4.7 0 1 1 -9.4 0ZM311.9 639.6a4.7 4.7 0 1 1 9.4 0a4.7 4.7 0 1 1 -9.4 0ZM320.2 653a4.7 4.7 0 1 1 9.4 0a4.7 4.7 0 1 1 -9.4 0ZM322.1 658.8a4.7 4.7 0 1 1 9.4 0a4.7 4.7 0 1 1 -9.4 0ZM190.9 687a4.7 4.7 0 1 1 9.4 0a4.7 4.7 0 1 1 -9.4 0ZM213.9 712.6a4.7 4.7 0 1 1 9.4 0a4.7 4.7 0 1 1 -9.4 0ZM236.3 715.1a4.7 4.7 0 1 1 9.4 0a4.7 4.7 0 1 1 -9.4 0ZM245.9 719.6a4.7 4.7 0 1 1 9.4 0a4.7 4.7 0 1 1 -9.4 0ZM242.7 711.3a4.7 4.7 0 1 1 9.4 0a4.7 4.7 0 1 1 -9.4 0ZM277.9 728.6a4.7 4.7 0 1 1 9.4 0a4.7 4.7 0 1 1 -9.4 0ZM277.9 714.5a4.7 4.7 0 1 1 9.4 0a4.7 4.7 0 1 1 -9.4 0ZM292 713.2a4.7 4.7 0 1 1 9.4 0a4.7 4.7 0 1 1 -9.4 0ZM314.4 712.6a4.7 4.7 0 1 1 9.4 0a4.7 4.7 0 1 1 -9.4 0ZM326.6 717a4.7 4.7 0 1 1 9.4 0a4.7 4.7 0 1 1 -9.4 0ZM333 706.2a4.7 4.7 0 1 1 9.4 0a4.7 4.7 0 1 1 -9.4 0ZM329.8 699.1a4.7 4.7 0 1 1 9.4 0a4.7 4.7 0 1 1 -9.4 0ZM328.5 689.5a4.7 4.7 0 1 1 9.4 0a4.7 4.7 0 1 1 -9.4 0ZM204.3 701a4.7 4.7 0 1 1 9.4 0a4.7 4.7 0 1 1 -9.4 0ZM226.1 706.2a4.7 4.7 0 1 1 9.4 0a4.7 4.7 0 1 1 -9.4 0ZM258.1 708.7a4.7 4.7 0 1 1 9.4 0a4.7 4.7 0 1 1 -9.4 0Z" fill="#050505"/>
<clipPath id="cc6"><path d="M220 621.4L229.9 615.1L239.5 612.9L247.2 616.7L257.2 614.1L267.4 619.2L278.2 616.7L287.7 619.2L297.2 620.3L301.8 624L303.6 629.7L303.1 639.4L312.5 642L315.2 642.7L311.4 649.7L318.5 653.6L320.2 660.1L317.8 666.2L324.1 673.3L330.8 678.3L329.2 685.9L331.9 698.2L334.4 704L332.5 704.8L323.7 703.5L313.8 707.3L303.8 704.7L295 707.4L286.1 709.9L276.6 706.1L265.9 704.8L255.1 703.4L244.9 704.7L232.5 703.5L222.6 702.2L213.5 700.1L208.7 695.2L206.6 688L207.9 678.5L209.1 668.5L211.5 660.1L215.3 651.3L219.4 640.3L219.4 629.6ZM215.3 621.4a4.7 4.7 0 1 1 9.4 0a4.7 4.7 0 1 1 -9.4 0ZM220 618.6a4.7 4.7 0 1 1 9.4 0a4.7 4.7 0 1 1 -9.4 0ZM225.2 615.1a4.7 4.7 0 1 1 9.4 0a4.7 4.7 0 1 1 -9.4 0ZM230.2 614.1a4.7 4.7 0 1 1 9.4 0a4.7 4.7 0 1 1 -9.4 0ZM234.3 612.8a4.7 4.7 0 1 1 9.4 0a4.7 4.7 0 1 1 -9.4 0ZM242 616.6a4.7 4.7 0 1 1 9.4 0a4.7 4.7 0 1 1 -9.4 0ZM248.8 615.3a4.7 4.7 0 1 1 9.4 0a4.7 4.7 0 1 1 -9.4 0ZM252.5 614.1a4.7 4.7 0 1 1 9.4 0a4.7 4.7 0 1 1 -9.4 0ZM256.3 616.3a4.7 4.7 0 1 1 9.4 0a4.7 4.7 0 1 1 -9.4 0ZM262.7 619.2a4.7 4.7 0 1 1 9.4 0a4.7 4.7 0 1 1 -9.4 0ZM269.3 617.9a4.7 4.7 0 1 1 9.4 0a4.7 4.7 0 1 1 -9.4 0ZM273.5 616.7a4.7 4.7 0 1 1 9.4 0a4.7 4.7 0 1 1 -9.4 0ZM277.6 617.9a4.7 4.7 0 1 1 9.4 0a4.7 4.7 0 1 1 -9.4 0ZM283 619.2a4.7 4.7 0 1 1 9.4 0a4.7 4.7 0 1 1 -9.4 0ZM288.3 619.9a4.7 4.7 0 1 1 9.4 0a4.7 4.7 0 1 1 -9.4 0ZM292.2 620.1a4.7 4.7 0 1 1 9.4 0a4.7 4.7 0 1 1 -9.4 0ZM297.1 624a4.7 4.7 0 1 1 9.4 0a4.7 4.7 0 1 1 -9.4 0ZM298.9 629.7a4.7 4.7 0 1 1 9.4 0a4.7 4.7 0 1 1 -9.4 0ZM298.4 639.4a4.7 4.7 0 1 1 9.4 0a4.7 4.7 0 1 1 -9.4 0ZM307.8 642a4.7 4.7 0 1 1 9.4 0a4.7 4.7 0 1 1 -9.4 0ZM310.5 642.7a4.7 4.7 0 1 1 9.4 0a4.7 4.7 0 1 1 -9.4 0ZM306.7 649.7a4.7 4.7 0 1 1 9.4 0a4.7 4.7 0 1 1 -9.4 0ZM314.3 654.1a4.7 4.7 0 1 1 9.4 0a4.7 4.7 0 1 1 -9.4 0ZM314.4 656.7a4.7 4.7 0 1 1 9.4 0a4.7 4.7 0 1 1 -9.4 0ZM315.6 659.6a4.7 4.7 0 1 1 9.4 0a4.7 4.7 0 1 1 -9.4 0ZM313.1 666.2a4.7 4.7 0 1 1 9.4 0a4.7 4.7 0 1 1 -9.4 0ZM319.4 673.2a4.7 4.7 0 1 1 9.4 0a4.7 4.7 0 1 1 -9.4 0ZM323.4 676.6a4.7 4.7 0 1 1 9.4 0a4.7 4.7 0 1 1 -9.4 0ZM325.9 677.5a4.7 4.7 0 1 1 9.4 0a4.7 4.7 0 1 1 -9.4 0ZM324.5 685.7a4.7 4.7 0 1 1 9.4 0a4.7 4.7 0 1 1 -9.4 0ZM325.9 692.3a4.7 4.7 0 1 1 9.4 0a4.7 4.7 0 1 1 -9.4 0ZM327.2 698.3a4.7 4.7 0 1 1 9.4 0a4.7 4.7 0 1 1 -9.4 0ZM329.7 704a4.7 4.7 0 1 1 9.4 0a4.7 4.7 0 1 1 -9.4 0ZM327.8 704.8a4.7 4.7 0 1 1 9.4 0a4.7 4.7 0 1 1 -9.4 0ZM319.4 703.4a4.7 4.7 0 1 1 9.4 0a4.7 4.7 0 1 1 -9.4 0ZM313 705.6a4.7 4.7 0 1 1 9.4 0a4.7 4.7 0 1 1 -9.4 0ZM309.1 707.3a4.7 4.7 0 1 1 9.4 0a4.7 4.7 0 1 1 -9.4 0ZM305.1 706.1a4.7 4.7 0 1 1 9.4 0a4.7 4.7 0 1 1 -9.4 0ZM298.7 704.7a4.7 4.7 0 1 1 9.4 0a4.7 4.7 0 1 1 -9.4 0ZM290.2 707.5a4.7 4.7 0 1 1 9.4 0a4.7 4.7 0 1 1 -9.4 0ZM285.3 708.7a4.7 4.7 0 1 1 9.4 0a4.7 4.7 0 1 1 -9.4 0ZM281.4 709.9a4.7 4.7 0 1 1 9.4 0a4.7 4.7 0 1 1 -9.4 0ZM277.4 708.2a4.7 4.7 0 1 1 9.4 0a4.7 4.7 0 1 1 -9.4 0ZM271.9 706.1a4.7 4.7 0 1 1 9.4 0a4.7 4.7 0 1 1 -9.4 0ZM266.3 705.4a4.7 4.7 0 1 1 9.4 0a4.7 4.7 0 1 1 -9.4 0ZM261.2 704.8a4.7 4.7 0 1 1 9.4 0a4.7 4.7 0 1 1 -9.4 0ZM256 704.1a4.7 4.7 0 1 1 9.4 0a4.7 4.7 0 1 1 -9.4 0ZM250.4 703.4a4.7 4.7 0 1 1 9.4 0a4.7 4.7 0 1 1 -9.4 0ZM244.8 704.1a4.7 4.7 0 1 1 9.4 0a4.7 4.7 0 1 1 -9.4 0ZM240.2 704.7a4.7 4.7 0 1 1 9.4 0a4.7 4.7 0 1 1 -9.4 0ZM234.2 704.1a4.7 4.7 0 1 1 9.4 0a4.7 4.7 0 1 1 -9.4 0ZM227.8 703.5a4.7 4.7 0 1 1 9.4 0a4.7 4.7 0 1 1 -9.4 0ZM222.8 702.8a4.7 4.7 0 1 1 9.4 0a4.7 4.7 0 1 1 -9.4 0ZM217.9 702.2a4.7 4.7 0 1 1 9.4 0a4.7 4.7 0 1 1 -9.4 0ZM213 701a4.7 4.7 0 1 1 9.4 0a4.7 4.7 0 1 1 -9.4 0ZM209.1 700.3a4.7 4.7 0 1 1 9.4 0a4.7 4.7 0 1 1 -9.4 0ZM203.8 694.9a4.7 4.7 0 1 1 9.4 0a4.7 4.7 0 1 1 -9.4 0ZM203.1 691.6a4.7 4.7 0 1 1 9.4 0a4.7 4.7 0 1 1 -9.4 0ZM201.9 688a4.7 4.7 0 1 1 9.4 0a4.7 4.7 0 1 1 -9.4 0ZM202.5 683.6a4.7 4.7 0 1 1 9.4 0a4.7 4.7 0 1 1 -9.4 0ZM203.2 678.5a4.7 4.7 0 1 1 9.4 0a4.7 4.7 0 1 1 -9.4 0ZM203.8 673.4a4.7 4.7 0 1 1 9.4 0a4.7 4.7 0 1 1 -9.4 0ZM204.4 668.5a4.7 4.7 0 1 1 9.4 0a4.7 4.7 0 1 1 -9.4 0ZM205.6 664.4a4.7 4.7 0 1 1 9.4 0a4.7 4.7 0 1 1 -9.4 0ZM206.8 660.1a4.7 4.7 0 1 1 9.4 0a4.7 4.7 0 1 1 -9.4 0ZM208.7 655.9a4.7 4.7 0 1 1 9.4 0a4.7 4.7 0 1 1 -9.4 0ZM210.6 651.3a4.7 4.7 0 1 1 9.4 0a4.7 4.7 0 1 1 -9.4 0ZM212.6 646.1a4.7 4.7 0 1 1 9.4 0a4.7 4.7 0 1 1 -9.4 0ZM214.7 640.3a4.7 4.7 0 1 1 9.4 0a4.7 4.7 0 1 1 -9.4 0ZM214.7 634.5a4.7 4.7 0 1 1 9.4 0a4.7 4.7 0 1 1 -9.4 0ZM214.7 629.6a4.7 4.7 0 1 1 9.4 0a4.7 4.7 0 1 1 -9.4 0ZM215.3 624.7a4.7 4.7 0 1 1 9.4 0a4.7 4.7 0 1 1 -9.4 0ZM290.1 555.1a4.7 4.7 0 1 1 9.4 0a4.7 4.7 0 1 1 -9.4 0ZM285.6 565.4a4.7 4.7 0 1 1 9.4 0a4.7 4.7 0 1 1 -9.4 0ZM292.7 569.2a4.7 4.7 0 1 1 9.4 0a4.7 4.7 0 1 1 -9.4 0ZM302.9 565.4a4.7 4.7 0 1 1 9.4 0a4.7 4.7 0 1 1 -9.4 0ZM283.7 580.7a4.7 4.7 0 1 1 9.4 0a4.7 4.7 0 1 1 -9.4 0ZM286.9 592.2a4.7 4.7 0 1 1 9.4 0a4.7 4.7 0 1 1 -9.4 0ZM251.1 578.2a4.7 4.7 0 1 1 9.4 0a4.7 4.7 0 1 1 -9.4 0ZM242.7 595.4a4.7 4.7 0 1 1 9.4 0a4.7 4.7 0 1 1 -9.4 0ZM237.6 603.1a4.7 4.7 0 1 1 9.4 0a4.7 4.7 0 1 1 -9.4 0ZM259.4 599.9a4.7 4.7 0 1 1 9.4 0a4.7 4.7 0 1 1 -9.4 0ZM276 607a4.7 4.7 0 1 1 9.4 0a4.7 4.7 0 1 1 -9.4 0ZM291.4 608.2a4.7 4.7 0 1 1 9.4 0a4.7 4.7 0 1 1 -9.4 0ZM253 610.2a4.7 4.7 0 1 1 9.4 0a4.7 4.7 0 1 1 -9.4 0ZM300.3 618.5a4.7 4.7 0 1 1 9.4 0a4.7 4.7 0 1 1 -9.4 0ZM301.6 628.1a4.7 4.7 0 1 1 9.4 0a4.7 4.7 0 1 1 -9.4 0ZM311.9 639.6a4.7 4.7 0 1 1 9.4 0a4.7 4.7 0 1 1 -9.4 0ZM320.2 653a4.7 4.7 0 1 1 9.4 0a4.7 4.7 0 1 1 -9.4 0ZM322.1 658.8a4.7 4.7 0 1 1 9.4 0a4.7 4.7 0 1 1 -9.4 0ZM190.9 687a4.7 4.7 0 1 1 9.4 0a4.7 4.7 0 1 1 -9.4 0ZM213.9 712.6a4.7 4.7 0 1 1 9.4 0a4.7 4.7 0 1 1 -9.4 0ZM236.3 715.1a4.7 4.7 0 1 1 9.4 0a4.7 4.7 0 1 1 -9.4 0ZM245.9 719.6a4.7 4.7 0 1 1 9.4 0a4.7 4.7 0 1 1 -9.4 0ZM242.7 711.3a4.7 4.7 0 1 1 9.4 0a4.7 4.7 0 1 1 -9.4 0ZM277.9 728.6a4.7 4.7 0 1 1 9.4 0a4.7 4.7 0 1 1 -9.4 0ZM277.9 714.5a4.7 4.7 0 1 1 9.4 0a4.7 4.7 0 1 1 -9.4 0ZM292 713.2a4.7 4.7 0 1 1 9.4 0a4.7 4.7 0 1 1 -9.4 0ZM314.4 712.6a4.7 4.7 0 1 1 9.4 0a4.7 4.7 0 1 1 -9.4 0ZM326.6 717a4.7 4.7 0 1 1 9.4 0a4.7 4.7 0 1 1 -9.4 0ZM333 706.2a4.7 4.7 0 1 1 9.4 0a4.7 4.7 0 1 1 -9.4 0ZM329.8 699.1a4.7 4.7 0 1 1 9.4 0a4.7 4.7 0 1 1 -9.4 0ZM328.5 689.5a4.7 4.7 0 1 1 9.4 0a4.7 4.7 0 1 1 -9.4 0ZM204.3 701a4.7 4.7 0 1 1 9.4 0a4.7 4.7 0 1 1 -9.4 0ZM226.1 706.2a4.7 4.7 0 1 1 9.4 0a4.7 4.7 0 1 1 -9.4 0ZM258.1 708.7a4.7 4.7 0 1 1 9.4 0a4.7 4.7 0 1 1 -9.4 0Z"/></clipPath>
<g clip-path="url(#cc6)">
<path d="M224 617.9L246.4 613.4L274.4 614.6L296.8 622.4L305.8 637L317 651.5L324.8 662.7L328.2 678.4L325.9 695.2L317 703L296.8 704.2L274.4 704.2L252 704.2L229.6 700.8L212.8 691.8L208.3 672.8L212.8 650.4L217.3 633.6Z" fill="#1f1f1f" filter="url(#b3)"/>
<path d="M229.6 629.1L252 624.6L274.4 628L291.2 637L302.4 647L313.6 658.2L319.2 672.8L319.2 689.6L308 698.6L285.6 698.6L263.2 696.3L240.8 691.8L224 685.1L218.4 667.2L221.8 644.8Z" fill="#333333" filter="url(#b3)"/>
<path d="M229.6 644.8L252 639.2L274.4 641.4L291.2 647L305.8 656L317 669.4L318.1 685.1L308 695.2L291.2 697.4L274.4 691.8L257.6 687.4L240.8 685.1L227.4 678.4L225.1 661.6Z" fill="#474747" filter="url(#b3)"/>
<path d="M234.1 653.8L252 649.3L268.8 650.4L285.6 653.8L302.4 662.7L312.5 673.9L311.4 686.2L302.4 694.1L287.8 695.2L274.4 689.6L257.6 684L243 681.8L233 672.8Z" fill="#616161" filter="url(#b3)"/>
<path d="M236.3 658.2L252 654.9L268.8 656L280 658.2L276.6 678.4L263.2 678.4L246.4 677.3L236.3 669.4Z" fill="#787878" filter="url(#b3)"/>
<ellipse cx="292.3" cy="676.2" rx="19" ry="15" transform="rotate(20 292.3 676.2)" fill="#999999" filter="url(#b3)"/>
<ellipse cx="288.5" cy="676" rx="15" ry="11" transform="rotate(30 288.5 676)" fill="#bababa" filter="url(#b2)"/>
<ellipse cx="290" cy="675" rx="9.5" ry="6.5" transform="rotate(40 290 675)" fill="#dedede" filter="url(#b2)"/>
<ellipse cx="292.3" cy="677.3" rx="5.5" ry="3.8" transform="rotate(45 292.3 677.3)" fill="#f2f2f2" filter="url(#b1)"/>
</g>
</g></g>
<g clip-path="url(#clip_A4)"><g filter="url(#cm)">
<path d="M644.3 447.4L691.9 447.5L692.3 457.9L697 464.2L698.5 475L701.6 482L699.6 487.2L693.7 488.3L688.6 495L680.6 499.8L678.6 503.9L670.8 503.6L663.5 502.1L654.1 499L646.2 496.9L642.2 485.5L639.2 475.6L642 467.7L647.1 458.8ZM641.5 446.2a4.7 4.7 0 1 1 9.4 0a4.7 4.7 0 1 1 -9.4 0ZM644.7 447.6a4.7 4.7 0 1 1 9.4 0a4.7 4.7 0 1 1 -9.4 0ZM650.9 447.6a4.7 4.7 0 1 1 9.4 0a4.7 4.7 0 1 1 -9.4 0ZM657.1 447.6a4.7 4.7 0 1 1 9.4 0a4.7 4.7 0 1 1 -9.4 0ZM663.3 447.6a4.7 4.7 0 1 1 9.4 0a4.7 4.7 0 1 1 -9.4 0ZM669.5 447.6a4.7 4.7 0 1 1 9.4 0a4.7 4.7 0 1 1 -9.4 0ZM675.7 447.6a4.7 4.7 0 1 1 9.4 0a4.7 4.7 0 1 1 -9.4 0ZM681.9 447.6a4.7 4.7 0 1 1 9.4 0a4.7 4.7 0 1 1 -9.4 0ZM685.6 446.7a4.7 4.7 0 1 1 9.4 0a4.7 4.7 0 1 1 -9.4 0ZM685.8 451a4.7 4.7 0 1 1 9.4 0a4.7 4.7 0 1 1 -9.4 0ZM687.7 458.2a4.7 4.7 0 1 1 9.4 0a4.7 4.7 0 1 1 -9.4 0ZM692.5 464.5a4.7 4.7 0 1 1 9.4 0a4.7 4.7 0 1 1 -9.4 0ZM692.9 469a4.7 4.7 0 1 1 9.4 0a4.7 4.7 0 1 1 -9.4 0ZM693.9 475.1a4.7 4.7 0 1 1 9.4 0a4.7 4.7 0 1 1 -9.4 0ZM696.9 482a4.7 4.7 0 1 1 9.4 0a4.7 4.7 0 1 1 -9.4 0ZM694.9 487.2a4.7 4.7 0 1 1 9.4 0a4.7 4.7 0 1 1 -9.4 0ZM689 488.3a4.7 4.7 0 1 1 9.4 0a4.7 4.7 0 1 1 -9.4 0ZM683.7 495.2a4.7 4.7 0 1 1 9.4 0a4.7 4.7 0 1 1 -9.4 0ZM680.4 497a4.7 4.7 0 1 1 9.4 0a4.7 4.7 0 1 1 -9.4 0ZM675.7 500a4.7 4.7 0 1 1 9.4 0a4.7 4.7 0 1 1 -9.4 0ZM673.2 504.2a4.7 4.7 0 1 1 9.4 0a4.7 4.7 0 1 1 -9.4 0ZM670.5 503.6a4.7 4.7 0 1 1 9.4 0a4.7 4.7 0 1 1 -9.4 0ZM666.2 503.6a4.7 4.7 0 1 1 9.4 0a4.7 4.7 0 1 1 -9.4 0ZM658.7 502.1a4.7 4.7 0 1 1 9.4 0a4.7 4.7 0 1 1 -9.4 0ZM654.2 500.6a4.7 4.7 0 1 1 9.4 0a4.7 4.7 0 1 1 -9.4 0ZM649.4 499a4.7 4.7 0 1 1 9.4 0a4.7 4.7 0 1 1 -9.4 0ZM644.6 497.4a4.7 4.7 0 1 1 9.4 0a4.7 4.7 0 1 1 -9.4 0ZM641.5 496.9a4.7 4.7 0 1 1 9.4 0a4.7 4.7 0 1 1 -9.4 0ZM639.8 491.8a4.7 4.7 0 1 1 9.4 0a4.7 4.7 0 1 1 -9.4 0ZM637.5 485.5a4.7 4.7 0 1 1 9.4 0a4.7 4.7 0 1 1 -9.4 0ZM635.9 480.1a4.7 4.7 0 1 1 9.4 0a4.7 4.7 0 1 1 -9.4 0ZM634.5 475.6a4.7 4.7 0 1 1 9.4 0a4.7 4.7 0 1 1 -9.4 0ZM635.9 472.1a4.7 4.7 0 1 1 9.4 0a4.7 4.7 0 1 1 -9.4 0ZM637.3 467.7a4.7 4.7 0 1 1 9.4 0a4.7 4.7 0 1 1 -9.4 0ZM639.5 464.1a4.7 4.7 0 1 1 9.4 0a4.7 4.7 0 1 1 -9.4 0ZM642.4 458.8a4.7 4.7 0 1 1 9.4 0a4.7 4.7 0 1 1 -9.4 0ZM642.5 450.8a4.7 4.7 0 1 1 9.4 0a4.7 4.7 0 1 1 -9.4 0ZM753.7 473.2a4.7 4.7 0 1 1 9.4 0a4.7 4.7 0 1 1 -9.4 0ZM766.5 490a4.7 4.7 0 1 1 9.4 0a4.7 4.7 0 1 1 -9.4 0ZM778.5 498.8a4.7 4.7 0 1 1 9.4 0a4.7 4.7 0 1 1 -9.4 0ZM742.5 461.2a4.7 4.7 0 1 1 9.4 0a4.7 4.7 0 1 1 -9.4 0ZM742.5 493.2a4.7 4.7 0 1 1 9.4 0a4.7 4.7 0 1 1 -9.4 0ZM732.1 510.8a4.7 4.7 0 1 1 9.4 0a4.7 4.7 0 1 1 -9.4 0ZM707.3 514a4.7 4.7 0 1 1 9.4 0a4.7 4.7 0 1 1 -9.4 0ZM700.1 505.2a4.7 4.7 0 1 1 9.4 0a4.7 4.7 0 1 1 -9.4 0ZM680.1 529.2a4.7 4.7 0 1 1 9.4 0a4.7 4.7 0 1 1 -9.4 0ZM660.1 516.4a4.7 4.7 0 1 1 9.4 0a4.7 4.7 0 1 1 -9.4 0ZM713.7 559.6a4.7 4.7 0 1 1 9.4 0a4.7 4.7 0 1 1 -9.4 0ZM634.5 485.2a4.7 4.7 0 1 1 9.4 0a4.7 4.7 0 1 1 -9.4 0ZM632.1 475.6a4.7 4.7 0 1 1 9.4 0a4.7 4.7 0 1 1 -9.4 0ZM640.1 499.6a4.7 4.7 0 1 1 9.4 0a4.7 4.7 0 1 1 -9.4 0ZM670.5 506.8a4.7 4.7 0 1 1 9.4 0a4.7 4.7 0 1 1 -9.4 0ZM686.5 498a4.7 4.7 0 1 1 9.4 0a4.7 4.7 0 1 1 -9.4 0ZM694.5 490a4.7 4.7 0 1 1 9.4 0a4.7 4.7 0 1 1 -9.4 0ZM723.3 474a4.7 4.7 0 1 1 9.4 0a4.7 4.7 0 1 1 -9.4 0ZM726.5 482a4.7 4.7 0 1 1 9.4 0a4.7 4.7 0 1 1 -9.4 0ZM716.9 464.4a4.7 4.7 0 1 1 9.4 0a4.7 4.7 0 1 1 -9.4 0ZM726.5 459.6a4.7 4.7 0 1 1 9.4 0a4.7 4.7 0 1 1 -9.4 0ZM708.9 456.4a4.7 4.7 0 1 1 9.4 0a4.7 4.7 0 1 1 -9.4 0ZM729.7 453.2a4.7 4.7 0 1 1 9.4 0a4.7 4.7 0 1 1 -9.4 0Z" fill="#050505"/>
<clipPath id="cc7"><path d="M644.3 447.4L691.9 447.5L692.3 457.9L697 464.2L698.5 475L701.6 482L699.6 487.2L693.7 488.3L688.6 495L680.6 499.8L678.6 503.9L670.8 503.6L663.5 502.1L654.1 499L646.2 496.9L642.2 485.5L639.2 475.6L642 467.7L647.1 458.8ZM641.5 446.2a4.7 4.7 0 1 1 9.4 0a4.7 4.7 0 1 1 -9.4 0ZM644.7 447.6a4.7 4.7 0 1 1 9.4 0a4.7 4.7 0 1 1 -9.4 0ZM650.9 447.6a4.7 4.7 0 1 1 9.4 0a4.7 4.7 0 1 1 -9.4 0ZM657.1 447.6a4.7 4.7 0 1 1 9.4 0a4.7 4.7 0 1 1 -9.4 0ZM663.3 447.6a4.7 4.7 0 1 1 9.4 0a4.7 4.7 0 1 1 -9.4 0ZM669.5 447.6a4.7 4.7 0 1 1 9.4 0a4.7 4.7 0 1 1 -9.4 0ZM675.7 447.6a4.7 4.7 0 1 1 9.4 0a4.7 4.7 0 1 1 -9.4 0ZM681.9 447.6a4.7 4.7 0 1 1 9.4 0a4.7 4.7 0 1 1 -9.4 0ZM685.6 446.7a4.7 4.7 0 1 1 9.4 0a4.7 4.7 0 1 1 -9.4 0ZM685.8 451a4.7 4.7 0 1 1 9.4 0a4.7 4.7 0 1 1 -9.4 0ZM687.7 458.2a4.7 4.7 0 1 1 9.4 0a4.7 4.7 0 1 1 -9.4 0ZM692.5 464.5a4.7 4.7 0 1 1 9.4 0a4.7 4.7 0 1 1 -9.4 0ZM692.9 469a4.7 4.7 0 1 1 9.4 0a4.7 4.7 0 1 1 -9.4 0ZM693.9 475.1a4.7 4.7 0 1 1 9.4 0a4.7 4.7 0 1 1 -9.4 0ZM696.9 482a4.7 4.7 0 1 1 9.4 0a4.7 4.7 0 1 1 -9.4 0ZM694.9 487.2a4.7 4.7 0 1 1 9.4 0a4.7 4.7 0 1 1 -9.4 0ZM689 488.3a4.7 4.7 0 1 1 9.4 0a4.7 4.7 0 1 1 -9.4 0ZM683.7 495.2a4.7 4.7 0 1 1 9.4 0a4.7 4.7 0 1 1 -9.4 0ZM680.4 497a4.7 4.7 0 1 1 9.4 0a4.7 4.7 0 1 1 -9.4 0ZM675.7 500a4.7 4.7 0 1 1 9.4 0a4.7 4.7 0 1 1 -9.4 0ZM673.2 504.2a4.7 4.7 0 1 1 9.4 0a4.7 4.7 0 1 1 -9.4 0ZM670.5 503.6a4.7 4.7 0 1 1 9.4 0a4.7 4.7 0 1 1 -9.4 0ZM666.2 503.6a4.7 4.7 0 1 1 9.4 0a4.7 4.7 0 1 1 -9.4 0ZM658.7 502.1a4.7 4.7 0 1 1 9.4 0a4.7 4.7 0 1 1 -9.4 0ZM654.2 500.6a4.7 4.7 0 1 1 9.4 0a4.7 4.7 0 1 1 -9.4 0ZM649.4 499a4.7 4.7 0 1 1 9.4 0a4.7 4.7 0 1 1 -9.4 0ZM644.6 497.4a4.7 4.7 0 1 1 9.4 0a4.7 4.7 0 1 1 -9.4 0ZM641.5 496.9a4.7 4.7 0 1 1 9.4 0a4.7 4.7 0 1 1 -9.4 0ZM639.8 491.8a4.7 4.7 0 1 1 9.4 0a4.7 4.7 0 1 1 -9.4 0ZM637.5 485.5a4.7 4.7 0 1 1 9.4 0a4.7 4.7 0 1 1 -9.4 0ZM635.9 480.1a4.7 4.7 0 1 1 9.4 0a4.7 4.7 0 1 1 -9.4 0ZM634.5 475.6a4.7 4.7 0 1 1 9.4 0a4.7 4.7 0 1 1 -9.4 0ZM635.9 472.1a4.7 4.7 0 1 1 9.4 0a4.7 4.7 0 1 1 -9.4 0ZM637.3 467.7a4.7 4.7 0 1 1 9.4 0a4.7 4.7 0 1 1 -9.4 0ZM639.5 464.1a4.7 4.7 0 1 1 9.4 0a4.7 4.7 0 1 1 -9.4 0ZM642.4 458.8a4.7 4.7 0 1 1 9.4 0a4.7 4.7 0 1 1 -9.4 0ZM642.5 450.8a4.7 4.7 0 1 1 9.4 0a4.7 4.7 0 1 1 -9.4 0ZM753.7 473.2a4.7 4.7 0 1 1 9.4 0a4.7 4.7 0 1 1 -9.4 0ZM766.5 490a4.7 4.7 0 1 1 9.4 0a4.7 4.7 0 1 1 -9.4 0ZM778.5 498.8a4.7 4.7 0 1 1 9.4 0a4.7 4.7 0 1 1 -9.4 0ZM742.5 461.2a4.7 4.7 0 1 1 9.4 0a4.7 4.7 0 1 1 -9.4 0ZM742.5 493.2a4.7 4.7 0 1 1 9.4 0a4.7 4.7 0 1 1 -9.4 0ZM732.1 510.8a4.7 4.7 0 1 1 9.4 0a4.7 4.7 0 1 1 -9.4 0ZM707.3 514a4.7 4.7 0 1 1 9.4 0a4.7 4.7 0 1 1 -9.4 0ZM700.1 505.2a4.7 4.7 0 1 1 9.4 0a4.7 4.7 0 1 1 -9.4 0ZM680.1 529.2a4.7 4.7 0 1 1 9.4 0a4.7 4.7 0 1 1 -9.4 0ZM660.1 516.4a4.7 4.7 0 1 1 9.4 0a4.7 4.7 0 1 1 -9.4 0ZM713.7 559.6a4.7 4.7 0 1 1 9.4 0a4.7 4.7 0 1 1 -9.4 0ZM634.5 485.2a4.7 4.7 0 1 1 9.4 0a4.7 4.7 0 1 1 -9.4 0ZM632.1 475.6a4.7 4.7 0 1 1 9.4 0a4.7 4.7 0 1 1 -9.4 0ZM640.1 499.6a4.7 4.7 0 1 1 9.4 0a4.7 4.7 0 1 1 -9.4 0ZM670.5 506.8a4.7 4.7 0 1 1 9.4 0a4.7 4.7 0 1 1 -9.4 0ZM686.5 498a4.7 4.7 0 1 1 9.4 0a4.7 4.7 0 1 1 -9.4 0ZM694.5 490a4.7 4.7 0 1 1 9.4 0a4.7 4.7 0 1 1 -9.4 0ZM723.3 474a4.7 4.7 0 1 1 9.4 0a4.7 4.7 0 1 1 -9.4 0ZM726.5 482a4.7 4.7 0 1 1 9.4 0a4.7 4.7 0 1 1 -9.4 0ZM716.9 464.4a4.7 4.7 0 1 1 9.4 0a4.7 4.7 0 1 1 -9.4 0ZM726.5 459.6a4.7 4.7 0 1 1 9.4 0a4.7 4.7 0 1 1 -9.4 0ZM708.9 456.4a4.7 4.7 0 1 1 9.4 0a4.7 4.7 0 1 1 -9.4 0ZM729.7 453.2a4.7 4.7 0 1 1 9.4 0a4.7 4.7 0 1 1 -9.4 0Z"/></clipPath>
<g clip-path="url(#cc7)">
<path d="M648 443.6L689.6 443.6L692.8 466L691.2 485.2L683.2 496.4L668.8 501.2L654.4 498L646.4 488.4L643.2 474L644.8 459.6Z" fill="#1f1f1f" filter="url(#b4)"/>
<ellipse cx="665.6" cy="472.4" rx="14" ry="17" transform="rotate(0 665.6 472.4)" fill="#2e2e2e" filter="url(#b5)"/>
</g>
</g></g>
<g clip-path="url(#clip_A4)"><g filter="url(#cm)">
<path d="M723.5 446.6a4.7 4.7 0 1 1 9.4 0a4.7 4.7 0 1 1 -9.4 0ZM731.5 446.1a4.7 4.7 0 1 1 9.4 0a4.7 4.7 0 1 1 -9.4 0ZM708.9 451.3a4.7 4.7 0 1 1 9.4 0a4.7 4.7 0 1 1 -9.4 0ZM713.3 448a4.7 4.7 0 1 1 9.4 0a4.7 4.7 0 1 1 -9.4 0ZM721.7 451.2a4.7 4.7 0 1 1 9.4 0a4.7 4.7 0 1 1 -9.4 0ZM726.9 450.7a4.7 4.7 0 1 1 9.4 0a4.7 4.7 0 1 1 -9.4 0ZM706.1 454.9a4.7 4.7 0 1 1 9.4 0a4.7 4.7 0 1 1 -9.4 0ZM709.6 456.2a4.7 4.7 0 1 1 9.4 0a4.7 4.7 0 1 1 -9.4 0ZM718.3 456.4a4.7 4.7 0 1 1 9.4 0a4.7 4.7 0 1 1 -9.4 0ZM726.5 455.6a4.7 4.7 0 1 1 9.4 0a4.7 4.7 0 1 1 -9.4 0ZM710.7 461a4.7 4.7 0 1 1 9.4 0a4.7 4.7 0 1 1 -9.4 0ZM715.2 461.4a4.7 4.7 0 1 1 9.4 0a4.7 4.7 0 1 1 -9.4 0ZM722.7 462.1a4.7 4.7 0 1 1 9.4 0a4.7 4.7 0 1 1 -9.4 0ZM730 460.8a4.7 4.7 0 1 1 9.4 0a4.7 4.7 0 1 1 -9.4 0ZM734.6 463.2a4.7 4.7 0 1 1 9.4 0a4.7 4.7 0 1 1 -9.4 0ZM739 463.6a4.7 4.7 0 1 1 9.4 0a4.7 4.7 0 1 1 -9.4 0ZM707.4 466.6a4.7 4.7 0 1 1 9.4 0a4.7 4.7 0 1 1 -9.4 0ZM713.2 465.6a4.7 4.7 0 1 1 9.4 0a4.7 4.7 0 1 1 -9.4 0ZM718.3 466.2a4.7 4.7 0 1 1 9.4 0a4.7 4.7 0 1 1 -9.4 0ZM724.8 466a4.7 4.7 0 1 1 9.4 0a4.7 4.7 0 1 1 -9.4 0ZM729.6 468.5a4.7 4.7 0 1 1 9.4 0a4.7 4.7 0 1 1 -9.4 0ZM736.9 466.5a4.7 4.7 0 1 1 9.4 0a4.7 4.7 0 1 1 -9.4 0ZM709.8 470.8a4.7 4.7 0 1 1 9.4 0a4.7 4.7 0 1 1 -9.4 0ZM715.2 471.9a4.7 4.7 0 1 1 9.4 0a4.7 4.7 0 1 1 -9.4 0ZM721.4 472.4a4.7 4.7 0 1 1 9.4 0a4.7 4.7 0 1 1 -9.4 0ZM730.2 470.5a4.7 4.7 0 1 1 9.4 0a4.7 4.7 0 1 1 -9.4 0ZM732.9 474.1a4.7 4.7 0 1 1 9.4 0a4.7 4.7 0 1 1 -9.4 0ZM707 480.5a4.7 4.7 0 1 1 9.4 0a4.7 4.7 0 1 1 -9.4 0ZM712.1 478.6a4.7 4.7 0 1 1 9.4 0a4.7 4.7 0 1 1 -9.4 0ZM718.1 479.3a4.7 4.7 0 1 1 9.4 0a4.7 4.7 0 1 1 -9.4 0ZM724.6 479.6a4.7 4.7 0 1 1 9.4 0a4.7 4.7 0 1 1 -9.4 0ZM731 477.1a4.7 4.7 0 1 1 9.4 0a4.7 4.7 0 1 1 -9.4 0ZM706.5 482.6a4.7 4.7 0 1 1 9.4 0a4.7 4.7 0 1 1 -9.4 0ZM715.4 483.4a4.7 4.7 0 1 1 9.4 0a4.7 4.7 0 1 1 -9.4 0ZM723.7 484.3a4.7 4.7 0 1 1 9.4 0a4.7 4.7 0 1 1 -9.4 0ZM729.6 486a4.7 4.7 0 1 1 9.4 0a4.7 4.7 0 1 1 -9.4 0ZM733 483.6a4.7 4.7 0 1 1 9.4 0a4.7 4.7 0 1 1 -9.4 0ZM712.1 491a4.7 4.7 0 1 1 9.4 0a4.7 4.7 0 1 1 -9.4 0ZM719 487.4a4.7 4.7 0 1 1 9.4 0a4.7 4.7 0 1 1 -9.4 0ZM725.3 488.3a4.7 4.7 0 1 1 9.4 0a4.7 4.7 0 1 1 -9.4 0ZM732.3 488.8a4.7 4.7 0 1 1 9.4 0a4.7 4.7 0 1 1 -9.4 0ZM738.5 490.7a4.7 4.7 0 1 1 9.4 0a4.7 4.7 0 1 1 -9.4 0ZM742.3 491.9a4.7 4.7 0 1 1 9.4 0a4.7 4.7 0 1 1 -9.4 0ZM709.5 493.8a4.7 4.7 0 1 1 9.4 0a4.7 4.7 0 1 1 -9.4 0ZM715 494.6a4.7 4.7 0 1 1 9.4 0a4.7 4.7 0 1 1 -9.4 0ZM721.2 496.3a4.7 4.7 0 1 1 9.4 0a4.7 4.7 0 1 1 -9.4 0ZM728.9 493.4a4.7 4.7 0 1 1 9.4 0a4.7 4.7 0 1 1 -9.4 0ZM733.7 496.2a4.7 4.7 0 1 1 9.4 0a4.7 4.7 0 1 1 -9.4 0ZM742.2 494a4.7 4.7 0 1 1 9.4 0a4.7 4.7 0 1 1 -9.4 0ZM703.3 499a4.7 4.7 0 1 1 9.4 0a4.7 4.7 0 1 1 -9.4 0ZM711.6 502.1a4.7 4.7 0 1 1 9.4 0a4.7 4.7 0 1 1 -9.4 0ZM719.9 501.9a4.7 4.7 0 1 1 9.4 0a4.7 4.7 0 1 1 -9.4 0ZM724.5 499.3a4.7 4.7 0 1 1 9.4 0a4.7 4.7 0 1 1 -9.4 0ZM722.3 504.9a4.7 4.7 0 1 1 9.4 0a4.7 4.7 0 1 1 -9.4 0Z" fill="#050505"/>
</g></g>
<g clip-path="url(#clip_A4)"><g filter="url(#cm)">
<path d="M667.1 632.2L673.3 628.6L683.5 627.2L691.8 627.1L701.4 631.9L710.7 631.8L720.1 638.1L730.5 639.9L739.4 641.4L745.8 645L748.8 652.9L757.3 659.8L762.9 665.1L765.6 674.7L764.2 684.4L760.1 692.7L752.9 698.3L745.8 702.6L737.6 704L728 702.4L720.4 704L712.4 700.8L702.8 702.4L696.2 699.6L687.8 694.6L677.5 692.9L668.3 691.3L662 689.2L657.7 680.1L651.6 674.2L650.3 667.3L656.5 656.8L659.7 645.6ZM662.2 632.3a4.7 4.7 0 1 1 9.4 0a4.7 4.7 0 1 1 -9.4 0ZM665.4 630.6a4.7 4.7 0 1 1 9.4 0a4.7 4.7 0 1 1 -9.4 0ZM668.6 628.6a4.7 4.7 0 1 1 9.4 0a4.7 4.7 0 1 1 -9.4 0ZM673.5 628a4.7 4.7 0 1 1 9.4 0a4.7 4.7 0 1 1 -9.4 0ZM678.8 627.2a4.7 4.7 0 1 1 9.4 0a4.7 4.7 0 1 1 -9.4 0ZM683.3 627.2a4.7 4.7 0 1 1 9.4 0a4.7 4.7 0 1 1 -9.4 0ZM687.1 627.1a4.7 4.7 0 1 1 9.4 0a4.7 4.7 0 1 1 -9.4 0ZM691.1 629.2a4.7 4.7 0 1 1 9.4 0a4.7 4.7 0 1 1 -9.4 0ZM696.7 631.9a4.7 4.7 0 1 1 9.4 0a4.7 4.7 0 1 1 -9.4 0ZM702.5 632a4.7 4.7 0 1 1 9.4 0a4.7 4.7 0 1 1 -9.4 0ZM706 631.8a4.7 4.7 0 1 1 9.4 0a4.7 4.7 0 1 1 -9.4 0ZM709.9 634.5a4.7 4.7 0 1 1 9.4 0a4.7 4.7 0 1 1 -9.4 0ZM715.4 638.1a4.7 4.7 0 1 1 9.4 0a4.7 4.7 0 1 1 -9.4 0ZM721 639.1a4.7 4.7 0 1 1 9.4 0a4.7 4.7 0 1 1 -9.4 0ZM725.8 639.9a4.7 4.7 0 1 1 9.4 0a4.7 4.7 0 1 1 -9.4 0ZM730.6 640.7a4.7 4.7 0 1 1 9.4 0a4.7 4.7 0 1 1 -9.4 0ZM734.7 641.4a4.7 4.7 0 1 1 9.4 0a4.7 4.7 0 1 1 -9.4 0ZM738 643.4a4.7 4.7 0 1 1 9.4 0a4.7 4.7 0 1 1 -9.4 0ZM740.8 644.7a4.7 4.7 0 1 1 9.4 0a4.7 4.7 0 1 1 -9.4 0ZM743.9 652.6a4.7 4.7 0 1 1 9.4 0a4.7 4.7 0 1 1 -9.4 0ZM748.8 656.7a4.7 4.7 0 1 1 9.4 0a4.7 4.7 0 1 1 -9.4 0ZM752.6 659.7a4.7 4.7 0 1 1 9.4 0a4.7 4.7 0 1 1 -9.4 0ZM758.4 665.4a4.7 4.7 0 1 1 9.4 0a4.7 4.7 0 1 1 -9.4 0ZM759.5 669.9a4.7 4.7 0 1 1 9.4 0a4.7 4.7 0 1 1 -9.4 0ZM760.9 674.7a4.7 4.7 0 1 1 9.4 0a4.7 4.7 0 1 1 -9.4 0ZM760.1 679.4a4.7 4.7 0 1 1 9.4 0a4.7 4.7 0 1 1 -9.4 0ZM759.5 684.4a4.7 4.7 0 1 1 9.4 0a4.7 4.7 0 1 1 -9.4 0ZM757.3 688.6a4.7 4.7 0 1 1 9.4 0a4.7 4.7 0 1 1 -9.4 0ZM755.4 692.7a4.7 4.7 0 1 1 9.4 0a4.7 4.7 0 1 1 -9.4 0ZM752 695.3a4.7 4.7 0 1 1 9.4 0a4.7 4.7 0 1 1 -9.4 0ZM748.2 698.3a4.7 4.7 0 1 1 9.4 0a4.7 4.7 0 1 1 -9.4 0ZM744.4 700.6a4.7 4.7 0 1 1 9.4 0a4.7 4.7 0 1 1 -9.4 0ZM741.1 702.6a4.7 4.7 0 1 1 9.4 0a4.7 4.7 0 1 1 -9.4 0ZM737 703.3a4.7 4.7 0 1 1 9.4 0a4.7 4.7 0 1 1 -9.4 0ZM732.9 704a4.7 4.7 0 1 1 9.4 0a4.7 4.7 0 1 1 -9.4 0ZM728.8 703.3a4.7 4.7 0 1 1 9.4 0a4.7 4.7 0 1 1 -9.4 0ZM723.1 702.4a4.7 4.7 0 1 1 9.4 0a4.7 4.7 0 1 1 -9.4 0ZM715.7 704a4.7 4.7 0 1 1 9.4 0a4.7 4.7 0 1 1 -9.4 0ZM708 700.9a4.7 4.7 0 1 1 9.4 0a4.7 4.7 0 1 1 -9.4 0ZM701.8 701.7a4.7 4.7 0 1 1 9.4 0a4.7 4.7 0 1 1 -9.4 0ZM698.4 702.5a4.7 4.7 0 1 1 9.4 0a4.7 4.7 0 1 1 -9.4 0ZM691.4 699.6a4.7 4.7 0 1 1 9.4 0a4.7 4.7 0 1 1 -9.4 0ZM687.8 697.4a4.7 4.7 0 1 1 9.4 0a4.7 4.7 0 1 1 -9.4 0ZM683.1 694.6a4.7 4.7 0 1 1 9.4 0a4.7 4.7 0 1 1 -9.4 0ZM677.6 693.7a4.7 4.7 0 1 1 9.4 0a4.7 4.7 0 1 1 -9.4 0ZM672.8 692.9a4.7 4.7 0 1 1 9.4 0a4.7 4.7 0 1 1 -9.4 0ZM668 692.1a4.7 4.7 0 1 1 9.4 0a4.7 4.7 0 1 1 -9.4 0ZM663.7 691.4a4.7 4.7 0 1 1 9.4 0a4.7 4.7 0 1 1 -9.4 0ZM656.9 688.8a4.7 4.7 0 1 1 9.4 0a4.7 4.7 0 1 1 -9.4 0ZM655.7 685.4a4.7 4.7 0 1 1 9.4 0a4.7 4.7 0 1 1 -9.4 0ZM652.8 679.9a4.7 4.7 0 1 1 9.4 0a4.7 4.7 0 1 1 -9.4 0ZM646.7 673.8a4.7 4.7 0 1 1 9.4 0a4.7 4.7 0 1 1 -9.4 0ZM646.4 670.5a4.7 4.7 0 1 1 9.4 0a4.7 4.7 0 1 1 -9.4 0ZM645.6 667.3a4.7 4.7 0 1 1 9.4 0a4.7 4.7 0 1 1 -9.4 0ZM648.4 662.8a4.7 4.7 0 1 1 9.4 0a4.7 4.7 0 1 1 -9.4 0ZM651.8 656.8a4.7 4.7 0 1 1 9.4 0a4.7 4.7 0 1 1 -9.4 0ZM653.5 650.7a4.7 4.7 0 1 1 9.4 0a4.7 4.7 0 1 1 -9.4 0ZM655 645.5a4.7 4.7 0 1 1 9.4 0a4.7 4.7 0 1 1 -9.4 0ZM657.5 641.1a4.7 4.7 0 1 1 9.4 0a4.7 4.7 0 1 1 -9.4 0ZM660.1 636.3a4.7 4.7 0 1 1 9.4 0a4.7 4.7 0 1 1 -9.4 0ZM685.7 611.2a4.7 4.7 0 1 1 9.4 0a4.7 4.7 0 1 1 -9.4 0ZM664.1 616.8a4.7 4.7 0 1 1 9.4 0a4.7 4.7 0 1 1 -9.4 0ZM676.9 620.8a4.7 4.7 0 1 1 9.4 0a4.7 4.7 0 1 1 -9.4 0ZM691.3 621.6a4.7 4.7 0 1 1 9.4 0a4.7 4.7 0 1 1 -9.4 0ZM708.1 616a4.7 4.7 0 1 1 9.4 0a4.7 4.7 0 1 1 -9.4 0ZM656.1 634.4a4.7 4.7 0 1 1 9.4 0a4.7 4.7 0 1 1 -9.4 0ZM645.7 661.6a4.7 4.7 0 1 1 9.4 0a4.7 4.7 0 1 1 -9.4 0ZM637.7 677.6a4.7 4.7 0 1 1 9.4 0a4.7 4.7 0 1 1 -9.4 0ZM765.7 704a4.7 4.7 0 1 1 9.4 0a4.7 4.7 0 1 1 -9.4 0ZM760.1 659.2a4.7 4.7 0 1 1 9.4 0a4.7 4.7 0 1 1 -9.4 0ZM712.1 718.4a4.7 4.7 0 1 1 9.4 0a4.7 4.7 0 1 1 -9.4 0ZM720.9 712a4.7 4.7 0 1 1 9.4 0a4.7 4.7 0 1 1 -9.4 0ZM684.1 712.8a4.7 4.7 0 1 1 9.4 0a4.7 4.7 0 1 1 -9.4 0ZM675.3 707.2a4.7 4.7 0 1 1 9.4 0a4.7 4.7 0 1 1 -9.4 0ZM667.3 698.4a4.7 4.7 0 1 1 9.4 0a4.7 4.7 0 1 1 -9.4 0ZM656.1 693.6a4.7 4.7 0 1 1 9.4 0a4.7 4.7 0 1 1 -9.4 0ZM745.7 704a4.7 4.7 0 1 1 9.4 0a4.7 4.7 0 1 1 -9.4 0ZM732.9 705.6a4.7 4.7 0 1 1 9.4 0a4.7 4.7 0 1 1 -9.4 0ZM697.7 704a4.7 4.7 0 1 1 9.4 0a4.7 4.7 0 1 1 -9.4 0Z" fill="#050505"/>
<clipPath id="cc9"><path d="M667.1 632.2L673.3 628.6L683.5 627.2L691.8 627.1L701.4 631.9L710.7 631.8L720.1 638.1L730.5 639.9L739.4 641.4L745.8 645L748.8 652.9L757.3 659.8L762.9 665.1L765.6 674.7L764.2 684.4L760.1 692.7L752.9 698.3L745.8 702.6L737.6 704L728 702.4L720.4 704L712.4 700.8L702.8 702.4L696.2 699.6L687.8 694.6L677.5 692.9L668.3 691.3L662 689.2L657.7 680.1L651.6 674.2L650.3 667.3L656.5 656.8L659.7 645.6ZM662.2 632.3a4.7 4.7 0 1 1 9.4 0a4.7 4.7 0 1 1 -9.4 0ZM665.4 630.6a4.7 4.7 0 1 1 9.4 0a4.7 4.7 0 1 1 -9.4 0ZM668.6 628.6a4.7 4.7 0 1 1 9.4 0a4.7 4.7 0 1 1 -9.4 0ZM673.5 628a4.7 4.7 0 1 1 9.4 0a4.7 4.7 0 1 1 -9.4 0ZM678.8 627.2a4.7 4.7 0 1 1 9.4 0a4.7 4.7 0 1 1 -9.4 0ZM683.3 627.2a4.7 4.7 0 1 1 9.4 0a4.7 4.7 0 1 1 -9.4 0ZM687.1 627.1a4.7 4.7 0 1 1 9.4 0a4.7 4.7 0 1 1 -9.4 0ZM691.1 629.2a4.7 4.7 0 1 1 9.4 0a4.7 4.7 0 1 1 -9.4 0ZM696.7 631.9a4.7 4.7 0 1 1 9.4 0a4.7 4.7 0 1 1 -9.4 0ZM702.5 632a4.7 4.7 0 1 1 9.4 0a4.7 4.7 0 1 1 -9.4 0ZM706 631.8a4.7 4.7 0 1 1 9.4 0a4.7 4.7 0 1 1 -9.4 0ZM709.9 634.5a4.7 4.7 0 1 1 9.4 0a4.7 4.7 0 1 1 -9.4 0ZM715.4 638.1a4.7 4.7 0 1 1 9.4 0a4.7 4.7 0 1 1 -9.4 0ZM721 639.1a4.7 4.7 0 1 1 9.4 0a4.7 4.7 0 1 1 -9.4 0ZM725.8 639.9a4.7 4.7 0 1 1 9.4 0a4.7 4.7 0 1 1 -9.4 0ZM730.6 640.7a4.7 4.7 0 1 1 9.4 0a4.7 4.7 0 1 1 -9.4 0ZM734.7 641.4a4.7 4.7 0 1 1 9.4 0a4.7 4.7 0 1 1 -9.4 0ZM738 643.4a4.7 4.7 0 1 1 9.4 0a4.7 4.7 0 1 1 -9.4 0ZM740.8 644.7a4.7 4.7 0 1 1 9.4 0a4.7 4.7 0 1 1 -9.4 0ZM743.9 652.6a4.7 4.7 0 1 1 9.4 0a4.7 4.7 0 1 1 -9.4 0ZM748.8 656.7a4.7 4.7 0 1 1 9.4 0a4.7 4.7 0 1 1 -9.4 0ZM752.6 659.7a4.7 4.7 0 1 1 9.4 0a4.7 4.7 0 1 1 -9.4 0ZM758.4 665.4a4.7 4.7 0 1 1 9.4 0a4.7 4.7 0 1 1 -9.4 0ZM759.5 669.9a4.7 4.7 0 1 1 9.4 0a4.7 4.7 0 1 1 -9.4 0ZM760.9 674.7a4.7 4.7 0 1 1 9.4 0a4.7 4.7 0 1 1 -9.4 0ZM760.1 679.4a4.7 4.7 0 1 1 9.4 0a4.7 4.7 0 1 1 -9.4 0ZM759.5 684.4a4.7 4.7 0 1 1 9.4 0a4.7 4.7 0 1 1 -9.4 0ZM757.3 688.6a4.7 4.7 0 1 1 9.4 0a4.7 4.7 0 1 1 -9.4 0ZM755.4 692.7a4.7 4.7 0 1 1 9.4 0a4.7 4.7 0 1 1 -9.4 0ZM752 695.3a4.7 4.7 0 1 1 9.4 0a4.7 4.7 0 1 1 -9.4 0ZM748.2 698.3a4.7 4.7 0 1 1 9.4 0a4.7 4.7 0 1 1 -9.4 0ZM744.4 700.6a4.7 4.7 0 1 1 9.4 0a4.7 4.7 0 1 1 -9.4 0ZM741.1 702.6a4.7 4.7 0 1 1 9.4 0a4.7 4.7 0 1 1 -9.4 0ZM737 703.3a4.7 4.7 0 1 1 9.4 0a4.7 4.7 0 1 1 -9.4 0ZM732.9 704a4.7 4.7 0 1 1 9.4 0a4.7 4.7 0 1 1 -9.4 0ZM728.8 703.3a4.7 4.7 0 1 1 9.4 0a4.7 4.7 0 1 1 -9.4 0ZM723.1 702.4a4.7 4.7 0 1 1 9.4 0a4.7 4.7 0 1 1 -9.4 0ZM715.7 704a4.7 4.7 0 1 1 9.4 0a4.7 4.7 0 1 1 -9.4 0ZM708 700.9a4.7 4.7 0 1 1 9.4 0a4.7 4.7 0 1 1 -9.4 0ZM701.8 701.7a4.7 4.7 0 1 1 9.4 0a4.7 4.7 0 1 1 -9.4 0ZM698.4 702.5a4.7 4.7 0 1 1 9.4 0a4.7 4.7 0 1 1 -9.4 0ZM691.4 699.6a4.7 4.7 0 1 1 9.4 0a4.7 4.7 0 1 1 -9.4 0ZM687.8 697.4a4.7 4.7 0 1 1 9.4 0a4.7 4.7 0 1 1 -9.4 0ZM683.1 694.6a4.7 4.7 0 1 1 9.4 0a4.7 4.7 0 1 1 -9.4 0ZM677.6 693.7a4.7 4.7 0 1 1 9.4 0a4.7 4.7 0 1 1 -9.4 0ZM672.8 692.9a4.7 4.7 0 1 1 9.4 0a4.7 4.7 0 1 1 -9.4 0ZM668 692.1a4.7 4.7 0 1 1 9.4 0a4.7 4.7 0 1 1 -9.4 0ZM663.7 691.4a4.7 4.7 0 1 1 9.4 0a4.7 4.7 0 1 1 -9.4 0ZM656.9 688.8a4.7 4.7 0 1 1 9.4 0a4.7 4.7 0 1 1 -9.4 0ZM655.7 685.4a4.7 4.7 0 1 1 9.4 0a4.7 4.7 0 1 1 -9.4 0ZM652.8 679.9a4.7 4.7 0 1 1 9.4 0a4.7 4.7 0 1 1 -9.4 0ZM646.7 673.8a4.7 4.7 0 1 1 9.4 0a4.7 4.7 0 1 1 -9.4 0ZM646.4 670.5a4.7 4.7 0 1 1 9.4 0a4.7 4.7 0 1 1 -9.4 0ZM645.6 667.3a4.7 4.7 0 1 1 9.4 0a4.7 4.7 0 1 1 -9.4 0ZM648.4 662.8a4.7 4.7 0 1 1 9.4 0a4.7 4.7 0 1 1 -9.4 0ZM651.8 656.8a4.7 4.7 0 1 1 9.4 0a4.7 4.7 0 1 1 -9.4 0ZM653.5 650.7a4.7 4.7 0 1 1 9.4 0a4.7 4.7 0 1 1 -9.4 0ZM655 645.5a4.7 4.7 0 1 1 9.4 0a4.7 4.7 0 1 1 -9.4 0ZM657.5 641.1a4.7 4.7 0 1 1 9.4 0a4.7 4.7 0 1 1 -9.4 0ZM660.1 636.3a4.7 4.7 0 1 1 9.4 0a4.7 4.7 0 1 1 -9.4 0ZM685.7 611.2a4.7 4.7 0 1 1 9.4 0a4.7 4.7 0 1 1 -9.4 0ZM664.1 616.8a4.7 4.7 0 1 1 9.4 0a4.7 4.7 0 1 1 -9.4 0ZM676.9 620.8a4.7 4.7 0 1 1 9.4 0a4.7 4.7 0 1 1 -9.4 0ZM691.3 621.6a4.7 4.7 0 1 1 9.4 0a4.7 4.7 0 1 1 -9.4 0ZM708.1 616a4.7 4.7 0 1 1 9.4 0a4.7 4.7 0 1 1 -9.4 0ZM656.1 634.4a4.7 4.7 0 1 1 9.4 0a4.7 4.7 0 1 1 -9.4 0ZM645.7 661.6a4.7 4.7 0 1 1 9.4 0a4.7 4.7 0 1 1 -9.4 0ZM637.7 677.6a4.7 4.7 0 1 1 9.4 0a4.7 4.7 0 1 1 -9.4 0ZM765.7 704a4.7 4.7 0 1 1 9.4 0a4.7 4.7 0 1 1 -9.4 0ZM760.1 659.2a4.7 4.7 0 1 1 9.4 0a4.7 4.7 0 1 1 -9.4 0ZM712.1 718.4a4.7 4.7 0 1 1 9.4 0a4.7 4.7 0 1 1 -9.4 0ZM720.9 712a4.7 4.7 0 1 1 9.4 0a4.7 4.7 0 1 1 -9.4 0ZM684.1 712.8a4.7 4.7 0 1 1 9.4 0a4.7 4.7 0 1 1 -9.4 0ZM675.3 707.2a4.7 4.7 0 1 1 9.4 0a4.7 4.7 0 1 1 -9.4 0ZM667.3 698.4a4.7 4.7 0 1 1 9.4 0a4.7 4.7 0 1 1 -9.4 0ZM656.1 693.6a4.7 4.7 0 1 1 9.4 0a4.7 4.7 0 1 1 -9.4 0ZM745.7 704a4.7 4.7 0 1 1 9.4 0a4.7 4.7 0 1 1 -9.4 0ZM732.9 705.6a4.7 4.7 0 1 1 9.4 0a4.7 4.7 0 1 1 -9.4 0ZM697.7 704a4.7 4.7 0 1 1 9.4 0a4.7 4.7 0 1 1 -9.4 0Z"/></clipPath>
<g clip-path="url(#cc9)">
<path d="M672 632.8L696 628L720 634.4L744 644L756.8 656.8L763.2 672.8L760 688.8L747.2 701.6L728 704.8L705.6 703.2L686.4 695.2L673.6 688.8L664 676L664 656.8L667.2 640.8Z" fill="#1a1a1a" filter="url(#b4)"/>
<ellipse cx="717.6" cy="669.6" rx="34" ry="37" transform="rotate(0 717.6 669.6)" fill="#424242" filter="url(#b4)"/>
<ellipse cx="720" cy="671.2" rx="24" ry="27" transform="rotate(0 720 671.2)" fill="#666666" filter="url(#b3)"/>
<ellipse cx="719" cy="671" rx="12" ry="15" transform="rotate(0 719 671)" fill="#878787" filter="url(#b3)"/>
<ellipse cx="718.5" cy="670" rx="5.5" ry="7" transform="rotate(0 718.5 670)" fill="#9e9e9e" filter="url(#b3)"/>
</g>
</g></g>
<g clip-path="url(#clip_A4)"><g filter="url(#cm)">
<path d="M651.7 848.2L656.6 835.7L661.4 829.7L669.2 828L676.2 828.8L682 829.2L682.9 836.4L689.4 841.2L699.4 845.1L703.3 848.1ZM648.7 849.4a4.7 4.7 0 1 1 9.4 0a4.7 4.7 0 1 1 -9.4 0ZM650.5 846.7a4.7 4.7 0 1 1 9.4 0a4.7 4.7 0 1 1 -9.4 0ZM651.3 840.8a4.7 4.7 0 1 1 9.4 0a4.7 4.7 0 1 1 -9.4 0ZM651.8 835.9a4.7 4.7 0 1 1 9.4 0a4.7 4.7 0 1 1 -9.4 0ZM654.4 832.9a4.7 4.7 0 1 1 9.4 0a4.7 4.7 0 1 1 -9.4 0ZM656.7 829.7a4.7 4.7 0 1 1 9.4 0a4.7 4.7 0 1 1 -9.4 0ZM660.3 829.1a4.7 4.7 0 1 1 9.4 0a4.7 4.7 0 1 1 -9.4 0ZM664.2 828a4.7 4.7 0 1 1 9.4 0a4.7 4.7 0 1 1 -9.4 0ZM671.5 828.8a4.7 4.7 0 1 1 9.4 0a4.7 4.7 0 1 1 -9.4 0ZM677.3 829.2a4.7 4.7 0 1 1 9.4 0a4.7 4.7 0 1 1 -9.4 0ZM678.2 836.4a4.7 4.7 0 1 1 9.4 0a4.7 4.7 0 1 1 -9.4 0ZM684.6 841.1a4.7 4.7 0 1 1 9.4 0a4.7 4.7 0 1 1 -9.4 0ZM690.5 843.7a4.7 4.7 0 1 1 9.4 0a4.7 4.7 0 1 1 -9.4 0ZM694.7 845.1a4.7 4.7 0 1 1 9.4 0a4.7 4.7 0 1 1 -9.4 0ZM694.6 847.9a4.7 4.7 0 1 1 9.4 0a4.7 4.7 0 1 1 -9.4 0ZM696.6 849.1a4.7 4.7 0 1 1 9.4 0a4.7 4.7 0 1 1 -9.4 0ZM693.3 848a4.7 4.7 0 1 1 9.4 0a4.7 4.7 0 1 1 -9.4 0ZM687.4 848a4.7 4.7 0 1 1 9.4 0a4.7 4.7 0 1 1 -9.4 0ZM681.4 848a4.7 4.7 0 1 1 9.4 0a4.7 4.7 0 1 1 -9.4 0ZM675.5 848a4.7 4.7 0 1 1 9.4 0a4.7 4.7 0 1 1 -9.4 0ZM669.5 848a4.7 4.7 0 1 1 9.4 0a4.7 4.7 0 1 1 -9.4 0ZM663.6 848a4.7 4.7 0 1 1 9.4 0a4.7 4.7 0 1 1 -9.4 0ZM657.6 848a4.7 4.7 0 1 1 9.4 0a4.7 4.7 0 1 1 -9.4 0ZM651.7 848a4.7 4.7 0 1 1 9.4 0a4.7 4.7 0 1 1 -9.4 0ZM650.5 817.6a4.7 4.7 0 1 1 9.4 0a4.7 4.7 0 1 1 -9.4 0ZM657.7 827.2a4.7 4.7 0 1 1 9.4 0a4.7 4.7 0 1 1 -9.4 0ZM667.3 826.4a4.7 4.7 0 1 1 9.4 0a4.7 4.7 0 1 1 -9.4 0ZM678.5 828a4.7 4.7 0 1 1 9.4 0a4.7 4.7 0 1 1 -9.4 0ZM686.5 840.8a4.7 4.7 0 1 1 9.4 0a4.7 4.7 0 1 1 -9.4 0ZM694.5 844.8a4.7 4.7 0 1 1 9.4 0a4.7 4.7 0 1 1 -9.4 0ZM723.3 844.8a4.7 4.7 0 1 1 9.4 0a4.7 4.7 0 1 1 -9.4 0ZM734.5 836a4.7 4.7 0 1 1 9.4 0a4.7 4.7 0 1 1 -9.4 0ZM651.3 834.4a4.7 4.7 0 1 1 9.4 0a4.7 4.7 0 1 1 -9.4 0Z" fill="#050505"/>
</g></g>
<g clip-path="url(#clip_B1)"><g filter="url(#cm)">
<path d="M242.6 1055.2a3.6 3.6 0 1 1 7.2 0a3.6 3.6 0 1 1 -7.2 0ZM245 1054.5a3.6 3.6 0 1 1 7.2 0a3.6 3.6 0 1 1 -7.2 0ZM259.9 1054.9a3.6 3.6 0 1 1 7.2 0a3.6 3.6 0 1 1 -7.2 0ZM266.2 1055.5a3.6 3.6 0 1 1 7.2 0a3.6 3.6 0 1 1 -7.2 0ZM279.3 1056.1a3.6 3.6 0 1 1 7.2 0a3.6 3.6 0 1 1 -7.2 0ZM302.3 1055.9a3.6 3.6 0 1 1 7.2 0a3.6 3.6 0 1 1 -7.2 0ZM305.2 1055.9a3.6 3.6 0 1 1 7.2 0a3.6 3.6 0 1 1 -7.2 0ZM243.8 1060a3.6 3.6 0 1 1 7.2 0a3.6 3.6 0 1 1 -7.2 0ZM247.4 1057.1a3.6 3.6 0 1 1 7.2 0a3.6 3.6 0 1 1 -7.2 0ZM253.5 1059.4a3.6 3.6 0 1 1 7.2 0a3.6 3.6 0 1 1 -7.2 0ZM257.6 1060.5a3.6 3.6 0 1 1 7.2 0a3.6 3.6 0 1 1 -7.2 0ZM262.3 1060.5a3.6 3.6 0 1 1 7.2 0a3.6 3.6 0 1 1 -7.2 0ZM268.4 1059.6a3.6 3.6 0 1 1 7.2 0a3.6 3.6 0 1 1 -7.2 0ZM272.6 1057.9a3.6 3.6 0 1 1 7.2 0a3.6 3.6 0 1 1 -7.2 0ZM277.1 1060.5a3.6 3.6 0 1 1 7.2 0a3.6 3.6 0 1 1 -7.2 0ZM284.7 1058.3a3.6 3.6 0 1 1 7.2 0a3.6 3.6 0 1 1 -7.2 0ZM290 1059.1a3.6 3.6 0 1 1 7.2 0a3.6 3.6 0 1 1 -7.2 0ZM292 1060a3.6 3.6 0 1 1 7.2 0a3.6 3.6 0 1 1 -7.2 0ZM297.4 1057.5a3.6 3.6 0 1 1 7.2 0a3.6 3.6 0 1 1 -7.2 0ZM303.6 1057.9a3.6 3.6 0 1 1 7.2 0a3.6 3.6 0 1 1 -7.2 0ZM244.5 1061.8a3.6 3.6 0 1 1 7.2 0a3.6 3.6 0 1 1 -7.2 0ZM250.6 1063.4a3.6 3.6 0 1 1 7.2 0a3.6 3.6 0 1 1 -7.2 0ZM255 1063.2a3.6 3.6 0 1 1 7.2 0a3.6 3.6 0 1 1 -7.2 0ZM261.9 1064.5a3.6 3.6 0 1 1 7.2 0a3.6 3.6 0 1 1 -7.2 0ZM265.4 1064.5a3.6 3.6 0 1 1 7.2 0a3.6 3.6 0 1 1 -7.2 0ZM269.7 1062.8a3.6 3.6 0 1 1 7.2 0a3.6 3.6 0 1 1 -7.2 0ZM274.4 1061.6a3.6 3.6 0 1 1 7.2 0a3.6 3.6 0 1 1 -7.2 0ZM280.3 1062.9a3.6 3.6 0 1 1 7.2 0a3.6 3.6 0 1 1 -7.2 0ZM286.3 1063.3a3.6 3.6 0 1 1 7.2 0a3.6 3.6 0 1 1 -7.2 0ZM289.4 1063.3a3.6 3.6 0 1 1 7.2 0a3.6 3.6 0 1 1 -7.2 0ZM295.9 1061.6a3.6 3.6 0 1 1 7.2 0a3.6 3.6 0 1 1 -7.2 0ZM301.8 1061.6a3.6 3.6 0 1 1 7.2 0a3.6 3.6 0 1 1 -7.2 0ZM307.2 1063.4a3.6 3.6 0 1 1 7.2 0a3.6 3.6 0 1 1 -7.2 0ZM249 1067.4a3.6 3.6 0 1 1 7.2 0a3.6 3.6 0 1 1 -7.2 0ZM253.6 1067.5a3.6 3.6 0 1 1 7.2 0a3.6 3.6 0 1 1 -7.2 0ZM256.8 1065.8a3.6 3.6 0 1 1 7.2 0a3.6 3.6 0 1 1 -7.2 0ZM263.1 1066.2a3.6 3.6 0 1 1 7.2 0a3.6 3.6 0 1 1 -7.2 0ZM269.8 1067.2a3.6 3.6 0 1 1 7.2 0a3.6 3.6 0 1 1 -7.2 0ZM274.9 1066.9a3.6 3.6 0 1 1 7.2 0a3.6 3.6 0 1 1 -7.2 0ZM278.4 1068a3.6 3.6 0 1 1 7.2 0a3.6 3.6 0 1 1 -7.2 0ZM284.1 1066.9a3.6 3.6 0 1 1 7.2 0a3.6 3.6 0 1 1 -7.2 0ZM287.8 1068.6a3.6 3.6 0 1 1 7.2 0a3.6 3.6 0 1 1 -7.2 0ZM292.8 1068.2a3.6 3.6 0 1 1 7.2 0a3.6 3.6 0 1 1 -7.2 0ZM298.8 1066a3.6 3.6 0 1 1 7.2 0a3.6 3.6 0 1 1 -7.2 0ZM304.5 1066.7a3.6 3.6 0 1 1 7.2 0a3.6 3.6 0 1 1 -7.2 0ZM249.7 1072.8a3.6 3.6 0 1 1 7.2 0a3.6 3.6 0 1 1 -7.2 0ZM256.3 1073.4a3.6 3.6 0 1 1 7.2 0a3.6 3.6 0 1 1 -7.2 0ZM260 1071a3.6 3.6 0 1 1 7.2 0a3.6 3.6 0 1 1 -7.2 0ZM266.4 1073.2a3.6 3.6 0 1 1 7.2 0a3.6 3.6 0 1 1 -7.2 0ZM269.4 1071.2a3.6 3.6 0 1 1 7.2 0a3.6 3.6 0 1 1 -7.2 0ZM275.1 1073.2a3.6 3.6 0 1 1 7.2 0a3.6 3.6 0 1 1 -7.2 0ZM282.6 1072a3.6 3.6 0 1 1 7.2 0a3.6 3.6 0 1 1 -7.2 0ZM287.3 1072.4a3.6 3.6 0 1 1 7.2 0a3.6 3.6 0 1 1 -7.2 0ZM291 1073.2a3.6 3.6 0 1 1 7.2 0a3.6 3.6 0 1 1 -7.2 0ZM295.4 1072.9a3.6 3.6 0 1 1 7.2 0a3.6 3.6 0 1 1 -7.2 0ZM301.4 1072.2a3.6 3.6 0 1 1 7.2 0a3.6 3.6 0 1 1 -7.2 0ZM257 1077.5a3.6 3.6 0 1 1 7.2 0a3.6 3.6 0 1 1 -7.2 0ZM265.1 1075a3.6 3.6 0 1 1 7.2 0a3.6 3.6 0 1 1 -7.2 0ZM268.4 1076.8a3.6 3.6 0 1 1 7.2 0a3.6 3.6 0 1 1 -7.2 0ZM274.5 1074.5a3.6 3.6 0 1 1 7.2 0a3.6 3.6 0 1 1 -7.2 0ZM277.1 1074.4a3.6 3.6 0 1 1 7.2 0a3.6 3.6 0 1 1 -7.2 0ZM283.3 1074.6a3.6 3.6 0 1 1 7.2 0a3.6 3.6 0 1 1 -7.2 0ZM287 1075.8a3.6 3.6 0 1 1 7.2 0a3.6 3.6 0 1 1 -7.2 0ZM294.5 1076.8a3.6 3.6 0 1 1 7.2 0a3.6 3.6 0 1 1 -7.2 0ZM298.5 1074.7a3.6 3.6 0 1 1 7.2 0a3.6 3.6 0 1 1 -7.2 0ZM302.7 1076.3a3.6 3.6 0 1 1 7.2 0a3.6 3.6 0 1 1 -7.2 0ZM259.4 1080.3a3.6 3.6 0 1 1 7.2 0a3.6 3.6 0 1 1 -7.2 0ZM265.6 1079.2a3.6 3.6 0 1 1 7.2 0a3.6 3.6 0 1 1 -7.2 0ZM271.4 1081.2a3.6 3.6 0 1 1 7.2 0a3.6 3.6 0 1 1 -7.2 0ZM274.6 1079.8a3.6 3.6 0 1 1 7.2 0a3.6 3.6 0 1 1 -7.2 0ZM282.5 1078.9a3.6 3.6 0 1 1 7.2 0a3.6 3.6 0 1 1 -7.2 0ZM284.4 1080.7a3.6 3.6 0 1 1 7.2 0a3.6 3.6 0 1 1 -7.2 0ZM290.2 1080.4a3.6 3.6 0 1 1 7.2 0a3.6 3.6 0 1 1 -7.2 0ZM294.5 1081.9a3.6 3.6 0 1 1 7.2 0a3.6 3.6 0 1 1 -7.2 0ZM263.9 1083.8a3.6 3.6 0 1 1 7.2 0a3.6 3.6 0 1 1 -7.2 0ZM268.8 1084.2a3.6 3.6 0 1 1 7.2 0a3.6 3.6 0 1 1 -7.2 0ZM272.9 1086.5a3.6 3.6 0 1 1 7.2 0a3.6 3.6 0 1 1 -7.2 0ZM278.7 1085.5a3.6 3.6 0 1 1 7.2 0a3.6 3.6 0 1 1 -7.2 0ZM283.8 1086.2a3.6 3.6 0 1 1 7.2 0a3.6 3.6 0 1 1 -7.2 0ZM289.1 1084.5a3.6 3.6 0 1 1 7.2 0a3.6 3.6 0 1 1 -7.2 0ZM292.4 1085.9a3.6 3.6 0 1 1 7.2 0a3.6 3.6 0 1 1 -7.2 0ZM264.5 1088a3.6 3.6 0 1 1 7.2 0a3.6 3.6 0 1 1 -7.2 0ZM271.4 1090.2a3.6 3.6 0 1 1 7.2 0a3.6 3.6 0 1 1 -7.2 0ZM274.4 1088.4a3.6 3.6 0 1 1 7.2 0a3.6 3.6 0 1 1 -7.2 0ZM280.4 1089.1a3.6 3.6 0 1 1 7.2 0a3.6 3.6 0 1 1 -7.2 0ZM284.3 1087.6a3.6 3.6 0 1 1 7.2 0a3.6 3.6 0 1 1 -7.2 0ZM268.2 1091.8a3.6 3.6 0 1 1 7.2 0a3.6 3.6 0 1 1 -7.2 0ZM275 1093.8a3.6 3.6 0 1 1 7.2 0a3.6 3.6 0 1 1 -7.2 0ZM278.7 1091.9a3.6 3.6 0 1 1 7.2 0a3.6 3.6 0 1 1 -7.2 0ZM283.5 1095.1a3.6 3.6 0 1 1 7.2 0a3.6 3.6 0 1 1 -7.2 0ZM192 1064a3.6 3.6 0 1 1 7.2 0a3.6 3.6 0 1 1 -7.2 0ZM208 1073.6a3.6 3.6 0 1 1 7.2 0a3.6 3.6 0 1 1 -7.2 0ZM215.2 1078.4a3.6 3.6 0 1 1 7.2 0a3.6 3.6 0 1 1 -7.2 0ZM224.8 1067.2a3.6 3.6 0 1 1 7.2 0a3.6 3.6 0 1 1 -7.2 0ZM239.2 1064.8a3.6 3.6 0 1 1 7.2 0a3.6 3.6 0 1 1 -7.2 0ZM239.2 1073.6a3.6 3.6 0 1 1 7.2 0a3.6 3.6 0 1 1 -7.2 0ZM241.6 1080a3.6 3.6 0 1 1 7.2 0a3.6 3.6 0 1 1 -7.2 0ZM246.4 1087.2a3.6 3.6 0 1 1 7.2 0a3.6 3.6 0 1 1 -7.2 0ZM246.4 1097.6a3.6 3.6 0 1 1 7.2 0a3.6 3.6 0 1 1 -7.2 0ZM256.8 1103.2a3.6 3.6 0 1 1 7.2 0a3.6 3.6 0 1 1 -7.2 0ZM256 1116a3.6 3.6 0 1 1 7.2 0a3.6 3.6 0 1 1 -7.2 0ZM263.2 1094.4a3.6 3.6 0 1 1 7.2 0a3.6 3.6 0 1 1 -7.2 0ZM266.4 1106.4a3.6 3.6 0 1 1 7.2 0a3.6 3.6 0 1 1 -7.2 0ZM266.4 1108.8a3.6 3.6 0 1 1 7.2 0a3.6 3.6 0 1 1 -7.2 0ZM273.6 1102.4a3.6 3.6 0 1 1 7.2 0a3.6 3.6 0 1 1 -7.2 0ZM276.8 1106.4a3.6 3.6 0 1 1 7.2 0a3.6 3.6 0 1 1 -7.2 0ZM280.8 1100a3.6 3.6 0 1 1 7.2 0a3.6 3.6 0 1 1 -7.2 0ZM283.2 1133.6a3.6 3.6 0 1 1 7.2 0a3.6 3.6 0 1 1 -7.2 0ZM282.4 1141.6a3.6 3.6 0 1 1 7.2 0a3.6 3.6 0 1 1 -7.2 0ZM289.6 1108.8a3.6 3.6 0 1 1 7.2 0a3.6 3.6 0 1 1 -7.2 0ZM289.6 1117.6a3.6 3.6 0 1 1 7.2 0a3.6 3.6 0 1 1 -7.2 0ZM293.6 1094.4a3.6 3.6 0 1 1 7.2 0a3.6 3.6 0 1 1 -7.2 0ZM298.4 1112.8a3.6 3.6 0 1 1 7.2 0a3.6 3.6 0 1 1 -7.2 0ZM303.2 1113.6a3.6 3.6 0 1 1 7.2 0a3.6 3.6 0 1 1 -7.2 0ZM303.2 1100.8a3.6 3.6 0 1 1 7.2 0a3.6 3.6 0 1 1 -7.2 0ZM304.8 1098.4a3.6 3.6 0 1 1 7.2 0a3.6 3.6 0 1 1 -7.2 0ZM308 1128.8a3.6 3.6 0 1 1 7.2 0a3.6 3.6 0 1 1 -7.2 0ZM312.8 1091.2a3.6 3.6 0 1 1 7.2 0a3.6 3.6 0 1 1 -7.2 0ZM312.8 1092.8a3.6 3.6 0 1 1 7.2 0a3.6 3.6 0 1 1 -7.2 0ZM306.4 1084.8a3.6 3.6 0 1 1 7.2 0a3.6 3.6 0 1 1 -7.2 0ZM306.4 1072.8a3.6 3.6 0 1 1 7.2 0a3.6 3.6 0 1 1 -7.2 0ZM313.6 1069.6a3.6 3.6 0 1 1 7.2 0a3.6 3.6 0 1 1 -7.2 0ZM252.8 1083.2a3.6 3.6 0 1 1 7.2 0a3.6 3.6 0 1 1 -7.2 0ZM206.4 1117.6a3.6 3.6 0 1 1 7.2 0a3.6 3.6 0 1 1 -7.2 0ZM301.6 1077.6a3.6 3.6 0 1 1 7.2 0a3.6 3.6 0 1 1 -7.2 0ZM293.6 1085.6a3.6 3.6 0 1 1 7.2 0a3.6 3.6 0 1 1 -7.2 0Z" fill="#050505"/>
<clipPath id="cc11"><path d="M242.6 1055.2a3.6 3.6 0 1 1 7.2 0a3.6 3.6 0 1 1 -7.2 0ZM245 1054.5a3.6 3.6 0 1 1 7.2 0a3.6 3.6 0 1 1 -7.2 0ZM259.9 1054.9a3.6 3.6 0 1 1 7.2 0a3.6 3.6 0 1 1 -7.2 0ZM266.2 1055.5a3.6 3.6 0 1 1 7.2 0a3.6 3.6 0 1 1 -7.2 0ZM279.3 1056.1a3.6 3.6 0 1 1 7.2 0a3.6 3.6 0 1 1 -7.2 0ZM302.3 1055.9a3.6 3.6 0 1 1 7.2 0a3.6 3.6 0 1 1 -7.2 0ZM305.2 1055.9a3.6 3.6 0 1 1 7.2 0a3.6 3.6 0 1 1 -7.2 0ZM243.8 1060a3.6 3.6 0 1 1 7.2 0a3.6 3.6 0 1 1 -7.2 0ZM247.4 1057.1a3.6 3.6 0 1 1 7.2 0a3.6 3.6 0 1 1 -7.2 0ZM253.5 1059.4a3.6 3.6 0 1 1 7.2 0a3.6 3.6 0 1 1 -7.2 0ZM257.6 1060.5a3.6 3.6 0 1 1 7.2 0a3.6 3.6 0 1 1 -7.2 0ZM262.3 1060.5a3.6 3.6 0 1 1 7.2 0a3.6 3.6 0 1 1 -7.2 0ZM268.4 1059.6a3.6 3.6 0 1 1 7.2 0a3.6 3.6 0 1 1 -7.2 0ZM272.6 1057.9a3.6 3.6 0 1 1 7.2 0a3.6 3.6 0 1 1 -7.2 0ZM277.1 1060.5a3.6 3.6 0 1 1 7.2 0a3.6 3.6 0 1 1 -7.2 0ZM284.7 1058.3a3.6 3.6 0 1 1 7.2 0a3.6 3.6 0 1 1 -7.2 0ZM290 1059.1a3.6 3.6 0 1 1 7.2 0a3.6 3.6 0 1 1 -7.2 0ZM292 1060a3.6 3.6 0 1 1 7.2 0a3.6 3.6 0 1 1 -7.2 0ZM297.4 1057.5a3.6 3.6 0 1 1 7.2 0a3.6 3.6 0 1 1 -7.2 0ZM303.6 1057.9a3.6 3.6 0 1 1 7.2 0a3.6 3.6 0 1 1 -7.2 0ZM244.5 1061.8a3.6 3.6 0 1 1 7.2 0a3.6 3.6 0 1 1 -7.2 0ZM250.6 1063.4a3.6 3.6 0 1 1 7.2 0a3.6 3.6 0 1 1 -7.2 0ZM255 1063.2a3.6 3.6 0 1 1 7.2 0a3.6 3.6 0 1 1 -7.2 0ZM261.9 1064.5a3.6 3.6 0 1 1 7.2 0a3.6 3.6 0 1 1 -7.2 0ZM265.4 1064.5a3.6 3.6 0 1 1 7.2 0a3.6 3.6 0 1 1 -7.2 0ZM269.7 1062.8a3.6 3.6 0 1 1 7.2 0a3.6 3.6 0 1 1 -7.2 0ZM274.4 1061.6a3.6 3.6 0 1 1 7.2 0a3.6 3.6 0 1 1 -7.2 0ZM280.3 1062.9a3.6 3.6 0 1 1 7.2 0a3.6 3.6 0 1 1 -7.2 0ZM286.3 1063.3a3.6 3.6 0 1 1 7.2 0a3.6 3.6 0 1 1 -7.2 0ZM289.4 1063.3a3.6 3.6 0 1 1 7.2 0a3.6 3.6 0 1 1 -7.2 0ZM295.9 1061.6a3.6 3.6 0 1 1 7.2 0a3.6 3.6 0 1 1 -7.2 0ZM301.8 1061.6a3.6 3.6 0 1 1 7.2 0a3.6 3.6 0 1 1 -7.2 0ZM307.2 1063.4a3.6 3.6 0 1 1 7.2 0a3.6 3.6 0 1 1 -7.2 0ZM249 1067.4a3.6 3.6 0 1 1 7.2 0a3.6 3.6 0 1 1 -7.2 0ZM253.6 1067.5a3.6 3.6 0 1 1 7.2 0a3.6 3.6 0 1 1 -7.2 0ZM256.8 1065.8a3.6 3.6 0 1 1 7.2 0a3.6 3.6 0 1 1 -7.2 0ZM263.1 1066.2a3.6 3.6 0 1 1 7.2 0a3.6 3.6 0 1 1 -7.2 0ZM269.8 1067.2a3.6 3.6 0 1 1 7.2 0a3.6 3.6 0 1 1 -7.2 0ZM274.9 1066.9a3.6 3.6 0 1 1 7.2 0a3.6 3.6 0 1 1 -7.2 0ZM278.4 1068a3.6 3.6 0 1 1 7.2 0a3.6 3.6 0 1 1 -7.2 0ZM284.1 1066.9a3.6 3.6 0 1 1 7.2 0a3.6 3.6 0 1 1 -7.2 0ZM287.8 1068.6a3.6 3.6 0 1 1 7.2 0a3.6 3.6 0 1 1 -7.2 0ZM292.8 1068.2a3.6 3.6 0 1 1 7.2 0a3.6 3.6 0 1 1 -7.2 0ZM298.8 1066a3.6 3.6 0 1 1 7.2 0a3.6 3.6 0 1 1 -7.2 0ZM304.5 1066.7a3.6 3.6 0 1 1 7.2 0a3.6 3.6 0 1 1 -7.2 0ZM249.7 1072.8a3.6 3.6 0 1 1 7.2 0a3.6 3.6 0 1 1 -7.2 0ZM256.3 1073.4a3.6 3.6 0 1 1 7.2 0a3.6 3.6 0 1 1 -7.2 0ZM260 1071a3.6 3.6 0 1 1 7.2 0a3.6 3.6 0 1 1 -7.2 0ZM266.4 1073.2a3.6 3.6 0 1 1 7.2 0a3.6 3.6 0 1 1 -7.2 0ZM269.4 1071.2a3.6 3.6 0 1 1 7.2 0a3.6 3.6 0 1 1 -7.2 0ZM275.1 1073.2a3.6 3.6 0 1 1 7.2 0a3.6 3.6 0 1 1 -7.2 0ZM282.6 1072a3.6 3.6 0 1 1 7.2 0a3.6 3.6 0 1 1 -7.2 0ZM287.3 1072.4a3.6 3.6 0 1 1 7.2 0a3.6 3.6 0 1 1 -7.2 0ZM291 1073.2a3.6 3.6 0 1 1 7.2 0a3.6 3.6 0 1 1 -7.2 0ZM295.4 1072.9a3.6 3.6 0 1 1 7.2 0a3.6 3.6 0 1 1 -7.2 0ZM301.4 1072.2a3.6 3.6 0 1 1 7.2 0a3.6 3.6 0 1 1 -7.2 0ZM257 1077.5a3.6 3.6 0 1 1 7.2 0a3.6 3.6 0 1 1 -7.2 0ZM265.1 1075a3.6 3.6 0 1 1 7.2 0a3.6 3.6 0 1 1 -7.2 0ZM268.4 1076.8a3.6 3.6 0 1 1 7.2 0a3.6 3.6 0 1 1 -7.2 0ZM274.5 1074.5a3.6 3.6 0 1 1 7.2 0a3.6 3.6 0 1 1 -7.2 0ZM277.1 1074.4a3.6 3.6 0 1 1 7.2 0a3.6 3.6 0 1 1 -7.2 0ZM283.3 1074.6a3.6 3.6 0 1 1 7.2 0a3.6 3.6 0 1 1 -7.2 0ZM287 1075.8a3.6 3.6 0 1 1 7.2 0a3.6 3.6 0 1 1 -7.2 0ZM294.5 1076.8a3.6 3.6 0 1 1 7.2 0a3.6 3.6 0 1 1 -7.2 0ZM298.5 1074.7a3.6 3.6 0 1 1 7.2 0a3.6 3.6 0 1 1 -7.2 0ZM302.7 1076.3a3.6 3.6 0 1 1 7.2 0a3.6 3.6 0 1 1 -7.2 0ZM259.4 1080.3a3.6 3.6 0 1 1 7.2 0a3.6 3.6 0 1 1 -7.2 0ZM265.6 1079.2a3.6 3.6 0 1 1 7.2 0a3.6 3.6 0 1 1 -7.2 0ZM271.4 1081.2a3.6 3.6 0 1 1 7.2 0a3.6 3.6 0 1 1 -7.2 0ZM274.6 1079.8a3.6 3.6 0 1 1 7.2 0a3.6 3.6 0 1 1 -7.2 0ZM282.5 1078.9a3.6 3.6 0 1 1 7.2 0a3.6 3.6 0 1 1 -7.2 0ZM284.4 1080.7a3.6 3.6 0 1 1 7.2 0a3.6 3.6 0 1 1 -7.2 0ZM290.2 1080.4a3.6 3.6 0 1 1 7.2 0a3.6 3.6 0 1 1 -7.2 0ZM294.5 1081.9a3.6 3.6 0 1 1 7.2 0a3.6 3.6 0 1 1 -7.2 0ZM263.9 1083.8a3.6 3.6 0 1 1 7.2 0a3.6 3.6 0 1 1 -7.2 0ZM268.8 1084.2a3.6 3.6 0 1 1 7.2 0a3.6 3.6 0 1 1 -7.2 0ZM272.9 1086.5a3.6 3.6 0 1 1 7.2 0a3.6 3.6 0 1 1 -7.2 0ZM278.7 1085.5a3.6 3.6 0 1 1 7.2 0a3.6 3.6 0 1 1 -7.2 0ZM283.8 1086.2a3.6 3.6 0 1 1 7.2 0a3.6 3.6 0 1 1 -7.2 0ZM289.1 1084.5a3.6 3.6 0 1 1 7.2 0a3.6 3.6 0 1 1 -7.2 0ZM292.4 1085.9a3.6 3.6 0 1 1 7.2 0a3.6 3.6 0 1 1 -7.2 0ZM264.5 1088a3.6 3.6 0 1 1 7.2 0a3.6 3.6 0 1 1 -7.2 0ZM271.4 1090.2a3.6 3.6 0 1 1 7.2 0a3.6 3.6 0 1 1 -7.2 0ZM274.4 1088.4a3.6 3.6 0 1 1 7.2 0a3.6 3.6 0 1 1 -7.2 0ZM280.4 1089.1a3.6 3.6 0 1 1 7.2 0a3.6 3.6 0 1 1 -7.2 0ZM284.3 1087.6a3.6 3.6 0 1 1 7.2 0a3.6 3.6 0 1 1 -7.2 0ZM268.2 1091.8a3.6 3.6 0 1 1 7.2 0a3.6 3.6 0 1 1 -7.2 0ZM275 1093.8a3.6 3.6 0 1 1 7.2 0a3.6 3.6 0 1 1 -7.2 0ZM278.7 1091.9a3.6 3.6 0 1 1 7.2 0a3.6 3.6 0 1 1 -7.2 0ZM283.5 1095.1a3.6 3.6 0 1 1 7.2 0a3.6 3.6 0 1 1 -7.2 0ZM192 1064a3.6 3.6 0 1 1 7.2 0a3.6 3.6 0 1 1 -7.2 0ZM208 1073.6a3.6 3.6 0 1 1 7.2 0a3.6 3.6 0 1 1 -7.2 0ZM215.2 1078.4a3.6 3.6 0 1 1 7.2 0a3.6 3.6 0 1 1 -7.2 0ZM224.8 1067.2a3.6 3.6 0 1 1 7.2 0a3.6 3.6 0 1 1 -7.2 0ZM239.2 1064.8a3.6 3.6 0 1 1 7.2 0a3.6 3.6 0 1 1 -7.2 0ZM239.2 1073.6a3.6 3.6 0 1 1 7.2 0a3.6 3.6 0 1 1 -7.2 0ZM241.6 1080a3.6 3.6 0 1 1 7.2 0a3.6 3.6 0 1 1 -7.2 0ZM246.4 1087.2a3.6 3.6 0 1 1 7.2 0a3.6 3.6 0 1 1 -7.2 0ZM246.4 1097.6a3.6 3.6 0 1 1 7.2 0a3.6 3.6 0 1 1 -7.2 0ZM256.8 1103.2a3.6 3.6 0 1 1 7.2 0a3.6 3.6 0 1 1 -7.2 0ZM256 1116a3.6 3.6 0 1 1 7.2 0a3.6 3.6 0 1 1 -7.2 0ZM263.2 1094.4a3.6 3.6 0 1 1 7.2 0a3.6 3.6 0 1 1 -7.2 0ZM266.4 1106.4a3.6 3.6 0 1 1 7.2 0a3.6 3.6 0 1 1 -7.2 0ZM266.4 1108.8a3.6 3.6 0 1 1 7.2 0a3.6 3.6 0 1 1 -7.2 0ZM273.6 1102.4a3.6 3.6 0 1 1 7.2 0a3.6 3.6 0 1 1 -7.2 0ZM276.8 1106.4a3.6 3.6 0 1 1 7.2 0a3.6 3.6 0 1 1 -7.2 0ZM280.8 1100a3.6 3.6 0 1 1 7.2 0a3.6 3.6 0 1 1 -7.2 0ZM283.2 1133.6a3.6 3.6 0 1 1 7.2 0a3.6 3.6 0 1 1 -7.2 0ZM282.4 1141.6a3.6 3.6 0 1 1 7.2 0a3.6 3.6 0 1 1 -7.2 0ZM289.6 1108.8a3.6 3.6 0 1 1 7.2 0a3.6 3.6 0 1 1 -7.2 0ZM289.6 1117.6a3.6 3.6 0 1 1 7.2 0a3.6 3.6 0 1 1 -7.2 0ZM293.6 1094.4a3.6 3.6 0 1 1 7.2 0a3.6 3.6 0 1 1 -7.2 0ZM298.4 1112.8a3.6 3.6 0 1 1 7.2 0a3.6 3.6 0 1 1 -7.2 0ZM303.2 1113.6a3.6 3.6 0 1 1 7.2 0a3.6 3.6 0 1 1 -7.2 0ZM303.2 1100.8a3.6 3.6 0 1 1 7.2 0a3.6 3.6 0 1 1 -7.2 0ZM304.8 1098.4a3.6 3.6 0 1 1 7.2 0a3.6 3.6 0 1 1 -7.2 0ZM308 1128.8a3.6 3.6 0 1 1 7.2 0a3.6 3.6 0 1 1 -7.2 0ZM312.8 1091.2a3.6 3.6 0 1 1 7.2 0a3.6 3.6 0 1 1 -7.2 0ZM312.8 1092.8a3.6 3.6 0 1 1 7.2 0a3.6 3.6 0 1 1 -7.2 0ZM306.4 1084.8a3.6 3.6 0 1 1 7.2 0a3.6 3.6 0 1 1 -7.2 0ZM306.4 1072.8a3.6 3.6 0 1 1 7.2 0a3.6 3.6 0 1 1 -7.2 0ZM313.6 1069.6a3.6 3.6 0 1 1 7.2 0a3.6 3.6 0 1 1 -7.2 0ZM252.8 1083.2a3.6 3.6 0 1 1 7.2 0a3.6 3.6 0 1 1 -7.2 0ZM206.4 1117.6a3.6 3.6 0 1 1 7.2 0a3.6 3.6 0 1 1 -7.2 0ZM301.6 1077.6a3.6 3.6 0 1 1 7.2 0a3.6 3.6 0 1 1 -7.2 0ZM293.6 1085.6a3.6 3.6 0 1 1 7.2 0a3.6 3.6 0 1 1 -7.2 0Z"/></clipPath>
<g clip-path="url(#cc11)">
<ellipse cx="290" cy="1066" rx="26" ry="14" transform="rotate(0 290 1066)" fill="#121212" filter="url(#b5)"/>
</g>
</g></g>
<g clip-path="url(#clip_B1)"><g filter="url(#cm)">
<path d="M449.8 1055.7a3.6 3.6 0 1 1 7.2 0a3.6 3.6 0 1 1 -7.2 0ZM451.8 1056.2a3.6 3.6 0 1 1 7.2 0a3.6 3.6 0 1 1 -7.2 0ZM462.3 1056.8a3.6 3.6 0 1 1 7.2 0a3.6 3.6 0 1 1 -7.2 0ZM451.8 1060.4a3.6 3.6 0 1 1 7.2 0a3.6 3.6 0 1 1 -7.2 0ZM455.3 1061.3a3.6 3.6 0 1 1 7.2 0a3.6 3.6 0 1 1 -7.2 0ZM459.8 1058.8a3.6 3.6 0 1 1 7.2 0a3.6 3.6 0 1 1 -7.2 0ZM466.3 1059.9a3.6 3.6 0 1 1 7.2 0a3.6 3.6 0 1 1 -7.2 0ZM454.2 1062.3a3.6 3.6 0 1 1 7.2 0a3.6 3.6 0 1 1 -7.2 0ZM458.7 1065.4a3.6 3.6 0 1 1 7.2 0a3.6 3.6 0 1 1 -7.2 0ZM464.8 1065.1a3.6 3.6 0 1 1 7.2 0a3.6 3.6 0 1 1 -7.2 0ZM467 1064.7a3.6 3.6 0 1 1 7.2 0a3.6 3.6 0 1 1 -7.2 0ZM471.5 1064.6a3.6 3.6 0 1 1 7.2 0a3.6 3.6 0 1 1 -7.2 0ZM454.8 1068a3.6 3.6 0 1 1 7.2 0a3.6 3.6 0 1 1 -7.2 0ZM461.6 1067.7a3.6 3.6 0 1 1 7.2 0a3.6 3.6 0 1 1 -7.2 0ZM466.1 1066.9a3.6 3.6 0 1 1 7.2 0a3.6 3.6 0 1 1 -7.2 0ZM471.8 1069.9a3.6 3.6 0 1 1 7.2 0a3.6 3.6 0 1 1 -7.2 0ZM475.6 1067a3.6 3.6 0 1 1 7.2 0a3.6 3.6 0 1 1 -7.2 0ZM457.9 1071.4a3.6 3.6 0 1 1 7.2 0a3.6 3.6 0 1 1 -7.2 0ZM462 1073.6a3.6 3.6 0 1 1 7.2 0a3.6 3.6 0 1 1 -7.2 0ZM467.7 1073.4a3.6 3.6 0 1 1 7.2 0a3.6 3.6 0 1 1 -7.2 0ZM472.3 1071.9a3.6 3.6 0 1 1 7.2 0a3.6 3.6 0 1 1 -7.2 0ZM476.6 1073.3a3.6 3.6 0 1 1 7.2 0a3.6 3.6 0 1 1 -7.2 0ZM523.1 1073.2a3.6 3.6 0 1 1 7.2 0a3.6 3.6 0 1 1 -7.2 0ZM527.1 1073.5a3.6 3.6 0 1 1 7.2 0a3.6 3.6 0 1 1 -7.2 0ZM455.5 1076.8a3.6 3.6 0 1 1 7.2 0a3.6 3.6 0 1 1 -7.2 0ZM459.6 1075.5a3.6 3.6 0 1 1 7.2 0a3.6 3.6 0 1 1 -7.2 0ZM464.6 1077.1a3.6 3.6 0 1 1 7.2 0a3.6 3.6 0 1 1 -7.2 0ZM469.8 1078a3.6 3.6 0 1 1 7.2 0a3.6 3.6 0 1 1 -7.2 0ZM476.8 1076a3.6 3.6 0 1 1 7.2 0a3.6 3.6 0 1 1 -7.2 0ZM481.5 1078.2a3.6 3.6 0 1 1 7.2 0a3.6 3.6 0 1 1 -7.2 0ZM486.9 1075.8a3.6 3.6 0 1 1 7.2 0a3.6 3.6 0 1 1 -7.2 0ZM492.1 1078a3.6 3.6 0 1 1 7.2 0a3.6 3.6 0 1 1 -7.2 0ZM511.6 1077.9a3.6 3.6 0 1 1 7.2 0a3.6 3.6 0 1 1 -7.2 0ZM514.6 1076.3a3.6 3.6 0 1 1 7.2 0a3.6 3.6 0 1 1 -7.2 0ZM520.2 1078.2a3.6 3.6 0 1 1 7.2 0a3.6 3.6 0 1 1 -7.2 0ZM525 1078a3.6 3.6 0 1 1 7.2 0a3.6 3.6 0 1 1 -7.2 0ZM531.3 1075.7a3.6 3.6 0 1 1 7.2 0a3.6 3.6 0 1 1 -7.2 0ZM452.8 1080.4a3.6 3.6 0 1 1 7.2 0a3.6 3.6 0 1 1 -7.2 0ZM459 1082.1a3.6 3.6 0 1 1 7.2 0a3.6 3.6 0 1 1 -7.2 0ZM462.8 1081.7a3.6 3.6 0 1 1 7.2 0a3.6 3.6 0 1 1 -7.2 0ZM468.6 1081.6a3.6 3.6 0 1 1 7.2 0a3.6 3.6 0 1 1 -7.2 0ZM474.7 1080.7a3.6 3.6 0 1 1 7.2 0a3.6 3.6 0 1 1 -7.2 0ZM477.6 1081.8a3.6 3.6 0 1 1 7.2 0a3.6 3.6 0 1 1 -7.2 0ZM481.7 1081a3.6 3.6 0 1 1 7.2 0a3.6 3.6 0 1 1 -7.2 0ZM486.9 1082.9a3.6 3.6 0 1 1 7.2 0a3.6 3.6 0 1 1 -7.2 0ZM493 1080.5a3.6 3.6 0 1 1 7.2 0a3.6 3.6 0 1 1 -7.2 0ZM499.9 1080.6a3.6 3.6 0 1 1 7.2 0a3.6 3.6 0 1 1 -7.2 0ZM501.8 1082.3a3.6 3.6 0 1 1 7.2 0a3.6 3.6 0 1 1 -7.2 0ZM507.8 1080.4a3.6 3.6 0 1 1 7.2 0a3.6 3.6 0 1 1 -7.2 0ZM512.8 1082.5a3.6 3.6 0 1 1 7.2 0a3.6 3.6 0 1 1 -7.2 0ZM517.9 1080.1a3.6 3.6 0 1 1 7.2 0a3.6 3.6 0 1 1 -7.2 0ZM523.5 1081.3a3.6 3.6 0 1 1 7.2 0a3.6 3.6 0 1 1 -7.2 0ZM526.6 1080.8a3.6 3.6 0 1 1 7.2 0a3.6 3.6 0 1 1 -7.2 0ZM455.2 1086.5a3.6 3.6 0 1 1 7.2 0a3.6 3.6 0 1 1 -7.2 0ZM460.5 1085.4a3.6 3.6 0 1 1 7.2 0a3.6 3.6 0 1 1 -7.2 0ZM464.8 1085.6a3.6 3.6 0 1 1 7.2 0a3.6 3.6 0 1 1 -7.2 0ZM469.8 1086.5a3.6 3.6 0 1 1 7.2 0a3.6 3.6 0 1 1 -7.2 0ZM475.8 1083.9a3.6 3.6 0 1 1 7.2 0a3.6 3.6 0 1 1 -7.2 0ZM482.3 1086a3.6 3.6 0 1 1 7.2 0a3.6 3.6 0 1 1 -7.2 0ZM487.2 1086.7a3.6 3.6 0 1 1 7.2 0a3.6 3.6 0 1 1 -7.2 0ZM490.2 1085.1a3.6 3.6 0 1 1 7.2 0a3.6 3.6 0 1 1 -7.2 0ZM494.7 1085.1a3.6 3.6 0 1 1 7.2 0a3.6 3.6 0 1 1 -7.2 0ZM499.6 1085.7a3.6 3.6 0 1 1 7.2 0a3.6 3.6 0 1 1 -7.2 0ZM504.3 1085.5a3.6 3.6 0 1 1 7.2 0a3.6 3.6 0 1 1 -7.2 0ZM510.5 1085.4a3.6 3.6 0 1 1 7.2 0a3.6 3.6 0 1 1 -7.2 0ZM516.5 1084.3a3.6 3.6 0 1 1 7.2 0a3.6 3.6 0 1 1 -7.2 0ZM522 1085.7a3.6 3.6 0 1 1 7.2 0a3.6 3.6 0 1 1 -7.2 0ZM525 1084.8a3.6 3.6 0 1 1 7.2 0a3.6 3.6 0 1 1 -7.2 0ZM454 1088.6a3.6 3.6 0 1 1 7.2 0a3.6 3.6 0 1 1 -7.2 0ZM457 1089.6a3.6 3.6 0 1 1 7.2 0a3.6 3.6 0 1 1 -7.2 0ZM463.4 1091.3a3.6 3.6 0 1 1 7.2 0a3.6 3.6 0 1 1 -7.2 0ZM469.4 1091.5a3.6 3.6 0 1 1 7.2 0a3.6 3.6 0 1 1 -7.2 0ZM473.1 1088.9a3.6 3.6 0 1 1 7.2 0a3.6 3.6 0 1 1 -7.2 0ZM477.5 1088.4a3.6 3.6 0 1 1 7.2 0a3.6 3.6 0 1 1 -7.2 0ZM481.8 1091.6a3.6 3.6 0 1 1 7.2 0a3.6 3.6 0 1 1 -7.2 0ZM489.1 1090.7a3.6 3.6 0 1 1 7.2 0a3.6 3.6 0 1 1 -7.2 0ZM491.9 1091.6a3.6 3.6 0 1 1 7.2 0a3.6 3.6 0 1 1 -7.2 0ZM499.2 1091.2a3.6 3.6 0 1 1 7.2 0a3.6 3.6 0 1 1 -7.2 0ZM502.1 1091.5a3.6 3.6 0 1 1 7.2 0a3.6 3.6 0 1 1 -7.2 0ZM508.8 1091.6a3.6 3.6 0 1 1 7.2 0a3.6 3.6 0 1 1 -7.2 0ZM511.5 1089.5a3.6 3.6 0 1 1 7.2 0a3.6 3.6 0 1 1 -7.2 0ZM516.6 1091.4a3.6 3.6 0 1 1 7.2 0a3.6 3.6 0 1 1 -7.2 0ZM524.1 1088.6a3.6 3.6 0 1 1 7.2 0a3.6 3.6 0 1 1 -7.2 0ZM456.4 1093.4a3.6 3.6 0 1 1 7.2 0a3.6 3.6 0 1 1 -7.2 0ZM462.4 1092.9a3.6 3.6 0 1 1 7.2 0a3.6 3.6 0 1 1 -7.2 0ZM466.5 1095.5a3.6 3.6 0 1 1 7.2 0a3.6 3.6 0 1 1 -7.2 0ZM471.9 1095.8a3.6 3.6 0 1 1 7.2 0a3.6 3.6 0 1 1 -7.2 0ZM477.1 1094.8a3.6 3.6 0 1 1 7.2 0a3.6 3.6 0 1 1 -7.2 0ZM480.4 1095.4a3.6 3.6 0 1 1 7.2 0a3.6 3.6 0 1 1 -7.2 0ZM485.1 1094.3a3.6 3.6 0 1 1 7.2 0a3.6 3.6 0 1 1 -7.2 0ZM491.5 1093.5a3.6 3.6 0 1 1 7.2 0a3.6 3.6 0 1 1 -7.2 0ZM496.3 1093.6a3.6 3.6 0 1 1 7.2 0a3.6 3.6 0 1 1 -7.2 0ZM501.8 1094.8a3.6 3.6 0 1 1 7.2 0a3.6 3.6 0 1 1 -7.2 0ZM506 1093.9a3.6 3.6 0 1 1 7.2 0a3.6 3.6 0 1 1 -7.2 0ZM511.3 1096a3.6 3.6 0 1 1 7.2 0a3.6 3.6 0 1 1 -7.2 0ZM515.6 1094.3a3.6 3.6 0 1 1 7.2 0a3.6 3.6 0 1 1 -7.2 0ZM519.8 1095.8a3.6 3.6 0 1 1 7.2 0a3.6 3.6 0 1 1 -7.2 0ZM452.4 1100.2a3.6 3.6 0 1 1 7.2 0a3.6 3.6 0 1 1 -7.2 0ZM457 1100.3a3.6 3.6 0 1 1 7.2 0a3.6 3.6 0 1 1 -7.2 0ZM463.5 1098a3.6 3.6 0 1 1 7.2 0a3.6 3.6 0 1 1 -7.2 0ZM467.1 1097.8a3.6 3.6 0 1 1 7.2 0a3.6 3.6 0 1 1 -7.2 0ZM473.2 1097.3a3.6 3.6 0 1 1 7.2 0a3.6 3.6 0 1 1 -7.2 0ZM479.2 1099.1a3.6 3.6 0 1 1 7.2 0a3.6 3.6 0 1 1 -7.2 0ZM483.2 1099.2a3.6 3.6 0 1 1 7.2 0a3.6 3.6 0 1 1 -7.2 0ZM487.2 1100.1a3.6 3.6 0 1 1 7.2 0a3.6 3.6 0 1 1 -7.2 0ZM493.8 1100.3a3.6 3.6 0 1 1 7.2 0a3.6 3.6 0 1 1 -7.2 0ZM497.5 1098.3a3.6 3.6 0 1 1 7.2 0a3.6 3.6 0 1 1 -7.2 0ZM502.2 1097.2a3.6 3.6 0 1 1 7.2 0a3.6 3.6 0 1 1 -7.2 0ZM506.6 1097.2a3.6 3.6 0 1 1 7.2 0a3.6 3.6 0 1 1 -7.2 0ZM512.6 1097.1a3.6 3.6 0 1 1 7.2 0a3.6 3.6 0 1 1 -7.2 0ZM517.4 1097.1a3.6 3.6 0 1 1 7.2 0a3.6 3.6 0 1 1 -7.2 0ZM454.6 1102.2a3.6 3.6 0 1 1 7.2 0a3.6 3.6 0 1 1 -7.2 0ZM461.5 1104a3.6 3.6 0 1 1 7.2 0a3.6 3.6 0 1 1 -7.2 0ZM466.7 1101.2a3.6 3.6 0 1 1 7.2 0a3.6 3.6 0 1 1 -7.2 0ZM471.2 1104.6a3.6 3.6 0 1 1 7.2 0a3.6 3.6 0 1 1 -7.2 0ZM475 1101.2a3.6 3.6 0 1 1 7.2 0a3.6 3.6 0 1 1 -7.2 0ZM481.6 1103.1a3.6 3.6 0 1 1 7.2 0a3.6 3.6 0 1 1 -7.2 0ZM485.9 1103.2a3.6 3.6 0 1 1 7.2 0a3.6 3.6 0 1 1 -7.2 0ZM491 1102.2a3.6 3.6 0 1 1 7.2 0a3.6 3.6 0 1 1 -7.2 0ZM497.1 1101.5a3.6 3.6 0 1 1 7.2 0a3.6 3.6 0 1 1 -7.2 0ZM502.1 1103a3.6 3.6 0 1 1 7.2 0a3.6 3.6 0 1 1 -7.2 0ZM505.6 1102.1a3.6 3.6 0 1 1 7.2 0a3.6 3.6 0 1 1 -7.2 0ZM511.5 1103.4a3.6 3.6 0 1 1 7.2 0a3.6 3.6 0 1 1 -7.2 0ZM517.3 1102.1a3.6 3.6 0 1 1 7.2 0a3.6 3.6 0 1 1 -7.2 0ZM457.7 1107a3.6 3.6 0 1 1 7.2 0a3.6 3.6 0 1 1 -7.2 0ZM464 1105.8a3.6 3.6 0 1 1 7.2 0a3.6 3.6 0 1 1 -7.2 0ZM467.7 1106.8a3.6 3.6 0 1 1 7.2 0a3.6 3.6 0 1 1 -7.2 0ZM473 1108.6a3.6 3.6 0 1 1 7.2 0a3.6 3.6 0 1 1 -7.2 0ZM477.5 1105.5a3.6 3.6 0 1 1 7.2 0a3.6 3.6 0 1 1 -7.2 0ZM484.2 1108.4a3.6 3.6 0 1 1 7.2 0a3.6 3.6 0 1 1 -7.2 0ZM489.4 1108.1a3.6 3.6 0 1 1 7.2 0a3.6 3.6 0 1 1 -7.2 0ZM493.5 1106.3a3.6 3.6 0 1 1 7.2 0a3.6 3.6 0 1 1 -7.2 0ZM498.3 1105.6a3.6 3.6 0 1 1 7.2 0a3.6 3.6 0 1 1 -7.2 0ZM504.5 1107.2a3.6 3.6 0 1 1 7.2 0a3.6 3.6 0 1 1 -7.2 0ZM509.8 1108.7a3.6 3.6 0 1 1 7.2 0a3.6 3.6 0 1 1 -7.2 0ZM465.7 1111.7a3.6 3.6 0 1 1 7.2 0a3.6 3.6 0 1 1 -7.2 0ZM470.9 1110.1a3.6 3.6 0 1 1 7.2 0a3.6 3.6 0 1 1 -7.2 0ZM474.9 1110.5a3.6 3.6 0 1 1 7.2 0a3.6 3.6 0 1 1 -7.2 0ZM480 1112.8a3.6 3.6 0 1 1 7.2 0a3.6 3.6 0 1 1 -7.2 0ZM485.5 1113.1a3.6 3.6 0 1 1 7.2 0a3.6 3.6 0 1 1 -7.2 0ZM492.4 1110.2a3.6 3.6 0 1 1 7.2 0a3.6 3.6 0 1 1 -7.2 0ZM494 1111.8a3.6 3.6 0 1 1 7.2 0a3.6 3.6 0 1 1 -7.2 0ZM500.1 1110.5a3.6 3.6 0 1 1 7.2 0a3.6 3.6 0 1 1 -7.2 0ZM504.5 1112.8a3.6 3.6 0 1 1 7.2 0a3.6 3.6 0 1 1 -7.2 0ZM466.5 1115.1a3.6 3.6 0 1 1 7.2 0a3.6 3.6 0 1 1 -7.2 0ZM474.2 1117.2a3.6 3.6 0 1 1 7.2 0a3.6 3.6 0 1 1 -7.2 0ZM478.6 1114.7a3.6 3.6 0 1 1 7.2 0a3.6 3.6 0 1 1 -7.2 0ZM483.7 1115.6a3.6 3.6 0 1 1 7.2 0a3.6 3.6 0 1 1 -7.2 0ZM472.1 1118.6a3.6 3.6 0 1 1 7.2 0a3.6 3.6 0 1 1 -7.2 0ZM475.4 1120.9a3.6 3.6 0 1 1 7.2 0a3.6 3.6 0 1 1 -7.2 0ZM479.1 1119a3.6 3.6 0 1 1 7.2 0a3.6 3.6 0 1 1 -7.2 0ZM439.5 1083.8a3.6 3.6 0 1 1 7.2 0a3.6 3.6 0 1 1 -7.2 0ZM442.2 1089.9a3.6 3.6 0 1 1 7.2 0a3.6 3.6 0 1 1 -7.2 0ZM448.4 1107.6a3.6 3.6 0 1 1 7.2 0a3.6 3.6 0 1 1 -7.2 0ZM451.1 1096a3.6 3.6 0 1 1 7.2 0a3.6 3.6 0 1 1 -7.2 0ZM452.4 1081.1a3.6 3.6 0 1 1 7.2 0a3.6 3.6 0 1 1 -7.2 0ZM458.6 1128a3.6 3.6 0 1 1 7.2 0a3.6 3.6 0 1 1 -7.2 0ZM474.2 1128.7a3.6 3.6 0 1 1 7.2 0a3.6 3.6 0 1 1 -7.2 0ZM479 1143.6a3.6 3.6 0 1 1 7.2 0a3.6 3.6 0 1 1 -7.2 0ZM485.8 1148.4a3.6 3.6 0 1 1 7.2 0a3.6 3.6 0 1 1 -7.2 0ZM484.4 1134.8a3.6 3.6 0 1 1 7.2 0a3.6 3.6 0 1 1 -7.2 0ZM487.8 1140.2a3.6 3.6 0 1 1 7.2 0a3.6 3.6 0 1 1 -7.2 0ZM490.5 1130a3.6 3.6 0 1 1 7.2 0a3.6 3.6 0 1 1 -7.2 0ZM487.1 1126a3.6 3.6 0 1 1 7.2 0a3.6 3.6 0 1 1 -7.2 0ZM494.6 1151.1a3.6 3.6 0 1 1 7.2 0a3.6 3.6 0 1 1 -7.2 0ZM472.2 1156.6a3.6 3.6 0 1 1 7.2 0a3.6 3.6 0 1 1 -7.2 0ZM466 1118.5a3.6 3.6 0 1 1 7.2 0a3.6 3.6 0 1 1 -7.2 0ZM503.4 1113a3.6 3.6 0 1 1 7.2 0a3.6 3.6 0 1 1 -7.2 0ZM506.8 1120.5a3.6 3.6 0 1 1 7.2 0a3.6 3.6 0 1 1 -7.2 0ZM507.5 1137.5a3.6 3.6 0 1 1 7.2 0a3.6 3.6 0 1 1 -7.2 0ZM511.6 1111a3.6 3.6 0 1 1 7.2 0a3.6 3.6 0 1 1 -7.2 0ZM532.7 1117.8a3.6 3.6 0 1 1 7.2 0a3.6 3.6 0 1 1 -7.2 0ZM536.8 1108.3a3.6 3.6 0 1 1 7.2 0a3.6 3.6 0 1 1 -7.2 0ZM547 1106.9a3.6 3.6 0 1 1 7.2 0a3.6 3.6 0 1 1 -7.2 0ZM542.9 1100.8a3.6 3.6 0 1 1 7.2 0a3.6 3.6 0 1 1 -7.2 0ZM539.5 1096.7a3.6 3.6 0 1 1 7.2 0a3.6 3.6 0 1 1 -7.2 0ZM542.2 1089.9a3.6 3.6 0 1 1 7.2 0a3.6 3.6 0 1 1 -7.2 0ZM536.8 1089.2a3.6 3.6 0 1 1 7.2 0a3.6 3.6 0 1 1 -7.2 0ZM534.7 1081.8a3.6 3.6 0 1 1 7.2 0a3.6 3.6 0 1 1 -7.2 0ZM532.7 1072.2a3.6 3.6 0 1 1 7.2 0a3.6 3.6 0 1 1 -7.2 0ZM527.2 1068.2a3.6 3.6 0 1 1 7.2 0a3.6 3.6 0 1 1 -7.2 0ZM510.2 1068.2a3.6 3.6 0 1 1 7.2 0a3.6 3.6 0 1 1 -7.2 0ZM502.1 1065.4a3.6 3.6 0 1 1 7.2 0a3.6 3.6 0 1 1 -7.2 0ZM492.6 1068.2a3.6 3.6 0 1 1 7.2 0a3.6 3.6 0 1 1 -7.2 0ZM487.1 1064.1a3.6 3.6 0 1 1 7.2 0a3.6 3.6 0 1 1 -7.2 0ZM566 1081.1a3.6 3.6 0 1 1 7.2 0a3.6 3.6 0 1 1 -7.2 0ZM578.9 1094.7a3.6 3.6 0 1 1 7.2 0a3.6 3.6 0 1 1 -7.2 0ZM519.8 1073.6a3.6 3.6 0 1 1 7.2 0a3.6 3.6 0 1 1 -7.2 0ZM526.6 1099.4a3.6 3.6 0 1 1 7.2 0a3.6 3.6 0 1 1 -7.2 0Z" fill="#050505"/>
<clipPath id="cc12"><path d="M449.8 1055.7a3.6 3.6 0 1 1 7.2 0a3.6 3.6 0 1 1 -7.2 0ZM451.8 1056.2a3.6 3.6 0 1 1 7.2 0a3.6 3.6 0 1 1 -7.2 0ZM462.3 1056.8a3.6 3.6 0 1 1 7.2 0a3.6 3.6 0 1 1 -7.2 0ZM451.8 1060.4a3.6 3.6 0 1 1 7.2 0a3.6 3.6 0 1 1 -7.2 0ZM455.3 1061.3a3.6 3.6 0 1 1 7.2 0a3.6 3.6 0 1 1 -7.2 0ZM459.8 1058.8a3.6 3.6 0 1 1 7.2 0a3.6 3.6 0 1 1 -7.2 0ZM466.3 1059.9a3.6 3.6 0 1 1 7.2 0a3.6 3.6 0 1 1 -7.2 0ZM454.2 1062.3a3.6 3.6 0 1 1 7.2 0a3.6 3.6 0 1 1 -7.2 0ZM458.7 1065.4a3.6 3.6 0 1 1 7.2 0a3.6 3.6 0 1 1 -7.2 0ZM464.8 1065.1a3.6 3.6 0 1 1 7.2 0a3.6 3.6 0 1 1 -7.2 0ZM467 1064.7a3.6 3.6 0 1 1 7.2 0a3.6 3.6 0 1 1 -7.2 0ZM471.5 1064.6a3.6 3.6 0 1 1 7.2 0a3.6 3.6 0 1 1 -7.2 0ZM454.8 1068a3.6 3.6 0 1 1 7.2 0a3.6 3.6 0 1 1 -7.2 0ZM461.6 1067.7a3.6 3.6 0 1 1 7.2 0a3.6 3.6 0 1 1 -7.2 0ZM466.1 1066.9a3.6 3.6 0 1 1 7.2 0a3.6 3.6 0 1 1 -7.2 0ZM471.8 1069.9a3.6 3.6 0 1 1 7.2 0a3.6 3.6 0 1 1 -7.2 0ZM475.6 1067a3.6 3.6 0 1 1 7.2 0a3.6 3.6 0 1 1 -7.2 0ZM457.9 1071.4a3.6 3.6 0 1 1 7.2 0a3.6 3.6 0 1 1 -7.2 0ZM462 1073.6a3.6 3.6 0 1 1 7.2 0a3.6 3.6 0 1 1 -7.2 0ZM467.7 1073.4a3.6 3.6 0 1 1 7.2 0a3.6 3.6 0 1 1 -7.2 0ZM472.3 1071.9a3.6 3.6 0 1 1 7.2 0a3.6 3.6 0 1 1 -7.2 0ZM476.6 1073.3a3.6 3.6 0 1 1 7.2 0a3.6 3.6 0 1 1 -7.2 0ZM523.1 1073.2a3.6 3.6 0 1 1 7.2 0a3.6 3.6 0 1 1 -7.2 0ZM527.1 1073.5a3.6 3.6 0 1 1 7.2 0a3.6 3.6 0 1 1 -7.2 0ZM455.5 1076.8a3.6 3.6 0 1 1 7.2 0a3.6 3.6 0 1 1 -7.2 0ZM459.6 1075.5a3.6 3.6 0 1 1 7.2 0a3.6 3.6 0 1 1 -7.2 0ZM464.6 1077.1a3.6 3.6 0 1 1 7.2 0a3.6 3.6 0 1 1 -7.2 0ZM469.8 1078a3.6 3.6 0 1 1 7.2 0a3.6 3.6 0 1 1 -7.2 0ZM476.8 1076a3.6 3.6 0 1 1 7.2 0a3.6 3.6 0 1 1 -7.2 0ZM481.5 1078.2a3.6 3.6 0 1 1 7.2 0a3.6 3.6 0 1 1 -7.2 0ZM486.9 1075.8a3.6 3.6 0 1 1 7.2 0a3.6 3.6 0 1 1 -7.2 0ZM492.1 1078a3.6 3.6 0 1 1 7.2 0a3.6 3.6 0 1 1 -7.2 0ZM511.6 1077.9a3.6 3.6 0 1 1 7.2 0a3.6 3.6 0 1 1 -7.2 0ZM514.6 1076.3a3.6 3.6 0 1 1 7.2 0a3.6 3.6 0 1 1 -7.2 0ZM520.2 1078.2a3.6 3.6 0 1 1 7.2 0a3.6 3.6 0 1 1 -7.2 0ZM525 1078a3.6 3.6 0 1 1 7.2 0a3.6 3.6 0 1 1 -7.2 0ZM531.3 1075.7a3.6 3.6 0 1 1 7.2 0a3.6 3.6 0 1 1 -7.2 0ZM452.8 1080.4a3.6 3.6 0 1 1 7.2 0a3.6 3.6 0 1 1 -7.2 0ZM459 1082.1a3.6 3.6 0 1 1 7.2 0a3.6 3.6 0 1 1 -7.2 0ZM462.8 1081.7a3.6 3.6 0 1 1 7.2 0a3.6 3.6 0 1 1 -7.2 0ZM468.6 1081.6a3.6 3.6 0 1 1 7.2 0a3.6 3.6 0 1 1 -7.2 0ZM474.7 1080.7a3.6 3.6 0 1 1 7.2 0a3.6 3.6 0 1 1 -7.2 0ZM477.6 1081.8a3.6 3.6 0 1 1 7.2 0a3.6 3.6 0 1 1 -7.2 0ZM481.7 1081a3.6 3.6 0 1 1 7.2 0a3.6 3.6 0 1 1 -7.2 0ZM486.9 1082.9a3.6 3.6 0 1 1 7.2 0a3.6 3.6 0 1 1 -7.2 0ZM493 1080.5a3.6 3.6 0 1 1 7.2 0a3.6 3.6 0 1 1 -7.2 0ZM499.9 1080.6a3.6 3.6 0 1 1 7.2 0a3.6 3.6 0 1 1 -7.2 0ZM501.8 1082.3a3.6 3.6 0 1 1 7.2 0a3.6 3.6 0 1 1 -7.2 0ZM507.8 1080.4a3.6 3.6 0 1 1 7.2 0a3.6 3.6 0 1 1 -7.2 0ZM512.8 1082.5a3.6 3.6 0 1 1 7.2 0a3.6 3.6 0 1 1 -7.2 0ZM517.9 1080.1a3.6 3.6 0 1 1 7.2 0a3.6 3.6 0 1 1 -7.2 0ZM523.5 1081.3a3.6 3.6 0 1 1 7.2 0a3.6 3.6 0 1 1 -7.2 0ZM526.6 1080.8a3.6 3.6 0 1 1 7.2 0a3.6 3.6 0 1 1 -7.2 0ZM455.2 1086.5a3.6 3.6 0 1 1 7.2 0a3.6 3.6 0 1 1 -7.2 0ZM460.5 1085.4a3.6 3.6 0 1 1 7.2 0a3.6 3.6 0 1 1 -7.2 0ZM464.8 1085.6a3.6 3.6 0 1 1 7.2 0a3.6 3.6 0 1 1 -7.2 0ZM469.8 1086.5a3.6 3.6 0 1 1 7.2 0a3.6 3.6 0 1 1 -7.2 0ZM475.8 1083.9a3.6 3.6 0 1 1 7.2 0a3.6 3.6 0 1 1 -7.2 0ZM482.3 1086a3.6 3.6 0 1 1 7.2 0a3.6 3.6 0 1 1 -7.2 0ZM487.2 1086.7a3.6 3.6 0 1 1 7.2 0a3.6 3.6 0 1 1 -7.2 0ZM490.2 1085.1a3.6 3.6 0 1 1 7.2 0a3.6 3.6 0 1 1 -7.2 0ZM494.7 1085.1a3.6 3.6 0 1 1 7.2 0a3.6 3.6 0 1 1 -7.2 0ZM499.6 1085.7a3.6 3.6 0 1 1 7.2 0a3.6 3.6 0 1 1 -7.2 0ZM504.3 1085.5a3.6 3.6 0 1 1 7.2 0a3.6 3.6 0 1 1 -7.2 0ZM510.5 1085.4a3.6 3.6 0 1 1 7.2 0a3.6 3.6 0 1 1 -7.2 0ZM516.5 1084.3a3.6 3.6 0 1 1 7.2 0a3.6 3.6 0 1 1 -7.2 0ZM522 1085.7a3.6 3.6 0 1 1 7.2 0a3.6 3.6 0 1 1 -7.2 0ZM525 1084.8a3.6 3.6 0 1 1 7.2 0a3.6 3.6 0 1 1 -7.2 0ZM454 1088.6a3.6 3.6 0 1 1 7.2 0a3.6 3.6 0 1 1 -7.2 0ZM457 1089.6a3.6 3.6 0 1 1 7.2 0a3.6 3.6 0 1 1 -7.2 0ZM463.4 1091.3a3.6 3.6 0 1 1 7.2 0a3.6 3.6 0 1 1 -7.2 0ZM469.4 1091.5a3.6 3.6 0 1 1 7.2 0a3.6 3.6 0 1 1 -7.2 0ZM473.1 1088.9a3.6 3.6 0 1 1 7.2 0a3.6 3.6 0 1 1 -7.2 0ZM477.5 1088.4a3.6 3.6 0 1 1 7.2 0a3.6 3.6 0 1 1 -7.2 0ZM481.8 1091.6a3.6 3.6 0 1 1 7.2 0a3.6 3.6 0 1 1 -7.2 0ZM489.1 1090.7a3.6 3.6 0 1 1 7.2 0a3.6 3.6 0 1 1 -7.2 0ZM491.9 1091.6a3.6 3.6 0 1 1 7.2 0a3.6 3.6 0 1 1 -7.2 0ZM499.2 1091.2a3.6 3.6 0 1 1 7.2 0a3.6 3.6 0 1 1 -7.2 0ZM502.1 1091.5a3.6 3.6 0 1 1 7.2 0a3.6 3.6 0 1 1 -7.2 0ZM508.8 1091.6a3.6 3.6 0 1 1 7.2 0a3.6 3.6 0 1 1 -7.2 0ZM511.5 1089.5a3.6 3.6 0 1 1 7.2 0a3.6 3.6 0 1 1 -7.2 0ZM516.6 1091.4a3.6 3.6 0 1 1 7.2 0a3.6 3.6 0 1 1 -7.2 0ZM524.1 1088.6a3.6 3.6 0 1 1 7.2 0a3.6 3.6 0 1 1 -7.2 0ZM456.4 1093.4a3.6 3.6 0 1 1 7.2 0a3.6 3.6 0 1 1 -7.2 0ZM462.4 1092.9a3.6 3.6 0 1 1 7.2 0a3.6 3.6 0 1 1 -7.2 0ZM466.5 1095.5a3.6 3.6 0 1 1 7.2 0a3.6 3.6 0 1 1 -7.2 0ZM471.9 1095.8a3.6 3.6 0 1 1 7.2 0a3.6 3.6 0 1 1 -7.2 0ZM477.1 1094.8a3.6 3.6 0 1 1 7.2 0a3.6 3.6 0 1 1 -7.2 0ZM480.4 1095.4a3.6 3.6 0 1 1 7.2 0a3.6 3.6 0 1 1 -7.2 0ZM485.1 1094.3a3.6 3.6 0 1 1 7.2 0a3.6 3.6 0 1 1 -7.2 0ZM491.5 1093.5a3.6 3.6 0 1 1 7.2 0a3.6 3.6 0 1 1 -7.2 0ZM496.3 1093.6a3.6 3.6 0 1 1 7.2 0a3.6 3.6 0 1 1 -7.2 0ZM501.8 1094.8a3.6 3.6 0 1 1 7.2 0a3.6 3.6 0 1 1 -7.2 0ZM506 1093.9a3.6 3.6 0 1 1 7.2 0a3.6 3.6 0 1 1 -7.2 0ZM511.3 1096a3.6 3.6 0 1 1 7.2 0a3.6 3.6 0 1 1 -7.2 0ZM515.6 1094.3a3.6 3.6 0 1 1 7.2 0a3.6 3.6 0 1 1 -7.2 0ZM519.8 1095.8a3.6 3.6 0 1 1 7.2 0a3.6 3.6 0 1 1 -7.2 0ZM452.4 1100.2a3.6 3.6 0 1 1 7.2 0a3.6 3.6 0 1 1 -7.2 0ZM457 1100.3a3.6 3.6 0 1 1 7.2 0a3.6 3.6 0 1 1 -7.2 0ZM463.5 1098a3.6 3.6 0 1 1 7.2 0a3.6 3.6 0 1 1 -7.2 0ZM467.1 1097.8a3.6 3.6 0 1 1 7.2 0a3.6 3.6 0 1 1 -7.2 0ZM473.2 1097.3a3.6 3.6 0 1 1 7.2 0a3.6 3.6 0 1 1 -7.2 0ZM479.2 1099.1a3.6 3.6 0 1 1 7.2 0a3.6 3.6 0 1 1 -7.2 0ZM483.2 1099.2a3.6 3.6 0 1 1 7.2 0a3.6 3.6 0 1 1 -7.2 0ZM487.2 1100.1a3.6 3.6 0 1 1 7.2 0a3.6 3.6 0 1 1 -7.2 0ZM493.8 1100.3a3.6 3.6 0 1 1 7.2 0a3.6 3.6 0 1 1 -7.2 0ZM497.5 1098.3a3.6 3.6 0 1 1 7.2 0a3.6 3.6 0 1 1 -7.2 0ZM502.2 1097.2a3.6 3.6 0 1 1 7.2 0a3.6 3.6 0 1 1 -7.2 0ZM506.6 1097.2a3.6 3.6 0 1 1 7.2 0a3.6 3.6 0 1 1 -7.2 0ZM512.6 1097.1a3.6 3.6 0 1 1 7.2 0a3.6 3.6 0 1 1 -7.2 0ZM517.4 1097.1a3.6 3.6 0 1 1 7.2 0a3.6 3.6 0 1 1 -7.2 0ZM454.6 1102.2a3.6 3.6 0 1 1 7.2 0a3.6 3.6 0 1 1 -7.2 0ZM461.5 1104a3.6 3.6 0 1 1 7.2 0a3.6 3.6 0 1 1 -7.2 0ZM466.7 1101.2a3.6 3.6 0 1 1 7.2 0a3.6 3.6 0 1 1 -7.2 0ZM471.2 1104.6a3.6 3.6 0 1 1 7.2 0a3.6 3.6 0 1 1 -7.2 0ZM475 1101.2a3.6 3.6 0 1 1 7.2 0a3.6 3.6 0 1 1 -7.2 0ZM481.6 1103.1a3.6 3.6 0 1 1 7.2 0a3.6 3.6 0 1 1 -7.2 0ZM485.9 1103.2a3.6 3.6 0 1 1 7.2 0a3.6 3.6 0 1 1 -7.2 0ZM491 1102.2a3.6 3.6 0 1 1 7.2 0a3.6 3.6 0 1 1 -7.2 0ZM497.1 1101.5a3.6 3.6 0 1 1 7.2 0a3.6 3.6 0 1 1 -7.2 0ZM502.1 1103a3.6 3.6 0 1 1 7.2 0a3.6 3.6 0 1 1 -7.2 0ZM505.6 1102.1a3.6 3.6 0 1 1 7.2 0a3.6 3.6 0 1 1 -7.2 0ZM511.5 1103.4a3.6 3.6 0 1 1 7.2 0a3.6 3.6 0 1 1 -7.2 0ZM517.3 1102.1a3.6 3.6 0 1 1 7.2 0a3.6 3.6 0 1 1 -7.2 0ZM457.7 1107a3.6 3.6 0 1 1 7.2 0a3.6 3.6 0 1 1 -7.2 0ZM464 1105.8a3.6 3.6 0 1 1 7.2 0a3.6 3.6 0 1 1 -7.2 0ZM467.7 1106.8a3.6 3.6 0 1 1 7.2 0a3.6 3.6 0 1 1 -7.2 0ZM473 1108.6a3.6 3.6 0 1 1 7.2 0a3.6 3.6 0 1 1 -7.2 0ZM477.5 1105.5a3.6 3.6 0 1 1 7.2 0a3.6 3.6 0 1 1 -7.2 0ZM484.2 1108.4a3.6 3.6 0 1 1 7.2 0a3.6 3.6 0 1 1 -7.2 0ZM489.4 1108.1a3.6 3.6 0 1 1 7.2 0a3.6 3.6 0 1 1 -7.2 0ZM493.5 1106.3a3.6 3.6 0 1 1 7.2 0a3.6 3.6 0 1 1 -7.2 0ZM498.3 1105.6a3.6 3.6 0 1 1 7.2 0a3.6 3.6 0 1 1 -7.2 0ZM504.5 1107.2a3.6 3.6 0 1 1 7.2 0a3.6 3.6 0 1 1 -7.2 0ZM509.8 1108.7a3.6 3.6 0 1 1 7.2 0a3.6 3.6 0 1 1 -7.2 0ZM465.7 1111.7a3.6 3.6 0 1 1 7.2 0a3.6 3.6 0 1 1 -7.2 0ZM470.9 1110.1a3.6 3.6 0 1 1 7.2 0a3.6 3.6 0 1 1 -7.2 0ZM474.9 1110.5a3.6 3.6 0 1 1 7.2 0a3.6 3.6 0 1 1 -7.2 0ZM480 1112.8a3.6 3.6 0 1 1 7.2 0a3.6 3.6 0 1 1 -7.2 0ZM485.5 1113.1a3.6 3.6 0 1 1 7.2 0a3.6 3.6 0 1 1 -7.2 0ZM492.4 1110.2a3.6 3.6 0 1 1 7.2 0a3.6 3.6 0 1 1 -7.2 0ZM494 1111.8a3.6 3.6 0 1 1 7.2 0a3.6 3.6 0 1 1 -7.2 0ZM500.1 1110.5a3.6 3.6 0 1 1 7.2 0a3.6 3.6 0 1 1 -7.2 0ZM504.5 1112.8a3.6 3.6 0 1 1 7.2 0a3.6 3.6 0 1 1 -7.2 0ZM466.5 1115.1a3.6 3.6 0 1 1 7.2 0a3.6 3.6 0 1 1 -7.2 0ZM474.2 1117.2a3.6 3.6 0 1 1 7.2 0a3.6 3.6 0 1 1 -7.2 0ZM478.6 1114.7a3.6 3.6 0 1 1 7.2 0a3.6 3.6 0 1 1 -7.2 0ZM483.7 1115.6a3.6 3.6 0 1 1 7.2 0a3.6 3.6 0 1 1 -7.2 0ZM472.1 1118.6a3.6 3.6 0 1 1 7.2 0a3.6 3.6 0 1 1 -7.2 0ZM475.4 1120.9a3.6 3.6 0 1 1 7.2 0a3.6 3.6 0 1 1 -7.2 0ZM479.1 1119a3.6 3.6 0 1 1 7.2 0a3.6 3.6 0 1 1 -7.2 0ZM439.5 1083.8a3.6 3.6 0 1 1 7.2 0a3.6 3.6 0 1 1 -7.2 0ZM442.2 1089.9a3.6 3.6 0 1 1 7.2 0a3.6 3.6 0 1 1 -7.2 0ZM448.4 1107.6a3.6 3.6 0 1 1 7.2 0a3.6 3.6 0 1 1 -7.2 0ZM451.1 1096a3.6 3.6 0 1 1 7.2 0a3.6 3.6 0 1 1 -7.2 0ZM452.4 1081.1a3.6 3.6 0 1 1 7.2 0a3.6 3.6 0 1 1 -7.2 0ZM458.6 1128a3.6 3.6 0 1 1 7.2 0a3.6 3.6 0 1 1 -7.2 0ZM474.2 1128.7a3.6 3.6 0 1 1 7.2 0a3.6 3.6 0 1 1 -7.2 0ZM479 1143.6a3.6 3.6 0 1 1 7.2 0a3.6 3.6 0 1 1 -7.2 0ZM485.8 1148.4a3.6 3.6 0 1 1 7.2 0a3.6 3.6 0 1 1 -7.2 0ZM484.4 1134.8a3.6 3.6 0 1 1 7.2 0a3.6 3.6 0 1 1 -7.2 0ZM487.8 1140.2a3.6 3.6 0 1 1 7.2 0a3.6 3.6 0 1 1 -7.2 0ZM490.5 1130a3.6 3.6 0 1 1 7.2 0a3.6 3.6 0 1 1 -7.2 0ZM487.1 1126a3.6 3.6 0 1 1 7.2 0a3.6 3.6 0 1 1 -7.2 0ZM494.6 1151.1a3.6 3.6 0 1 1 7.2 0a3.6 3.6 0 1 1 -7.2 0ZM472.2 1156.6a3.6 3.6 0 1 1 7.2 0a3.6 3.6 0 1 1 -7.2 0ZM466 1118.5a3.6 3.6 0 1 1 7.2 0a3.6 3.6 0 1 1 -7.2 0ZM503.4 1113a3.6 3.6 0 1 1 7.2 0a3.6 3.6 0 1 1 -7.2 0ZM506.8 1120.5a3.6 3.6 0 1 1 7.2 0a3.6 3.6 0 1 1 -7.2 0ZM507.5 1137.5a3.6 3.6 0 1 1 7.2 0a3.6 3.6 0 1 1 -7.2 0ZM511.6 1111a3.6 3.6 0 1 1 7.2 0a3.6 3.6 0 1 1 -7.2 0ZM532.7 1117.8a3.6 3.6 0 1 1 7.2 0a3.6 3.6 0 1 1 -7.2 0ZM536.8 1108.3a3.6 3.6 0 1 1 7.2 0a3.6 3.6 0 1 1 -7.2 0ZM547 1106.9a3.6 3.6 0 1 1 7.2 0a3.6 3.6 0 1 1 -7.2 0ZM542.9 1100.8a3.6 3.6 0 1 1 7.2 0a3.6 3.6 0 1 1 -7.2 0ZM539.5 1096.7a3.6 3.6 0 1 1 7.2 0a3.6 3.6 0 1 1 -7.2 0ZM542.2 1089.9a3.6 3.6 0 1 1 7.2 0a3.6 3.6 0 1 1 -7.2 0ZM536.8 1089.2a3.6 3.6 0 1 1 7.2 0a3.6 3.6 0 1 1 -7.2 0ZM534.7 1081.8a3.6 3.6 0 1 1 7.2 0a3.6 3.6 0 1 1 -7.2 0ZM532.7 1072.2a3.6 3.6 0 1 1 7.2 0a3.6 3.6 0 1 1 -7.2 0ZM527.2 1068.2a3.6 3.6 0 1 1 7.2 0a3.6 3.6 0 1 1 -7.2 0ZM510.2 1068.2a3.6 3.6 0 1 1 7.2 0a3.6 3.6 0 1 1 -7.2 0ZM502.1 1065.4a3.6 3.6 0 1 1 7.2 0a3.6 3.6 0 1 1 -7.2 0ZM492.6 1068.2a3.6 3.6 0 1 1 7.2 0a3.6 3.6 0 1 1 -7.2 0ZM487.1 1064.1a3.6 3.6 0 1 1 7.2 0a3.6 3.6 0 1 1 -7.2 0ZM566 1081.1a3.6 3.6 0 1 1 7.2 0a3.6 3.6 0 1 1 -7.2 0ZM578.9 1094.7a3.6 3.6 0 1 1 7.2 0a3.6 3.6 0 1 1 -7.2 0ZM519.8 1073.6a3.6 3.6 0 1 1 7.2 0a3.6 3.6 0 1 1 -7.2 0ZM526.6 1099.4a3.6 3.6 0 1 1 7.2 0a3.6 3.6 0 1 1 -7.2 0Z"/></clipPath>
<g clip-path="url(#cc12)">
<ellipse cx="478" cy="1093" rx="20" ry="18" transform="rotate(0 478 1093)" fill="#121212" filter="url(#b5)"/>
</g>
</g></g>
<g clip-path="url(#clip_B1)"><g filter="url(#cm)">
<path d="M242.3 1466.7L241.1 1441L247.2 1429.2L249.8 1420.6L257.8 1418.2L270.2 1416.7L279.8 1416.7L290.3 1415L294.9 1418.8L301.4 1428.6L307.7 1431.6L310.2 1437.9L308.5 1447.2L312.3 1466.7ZM239.6 1467.3a3.6 3.6 0 1 1 7.2 0a3.6 3.6 0 1 1 -7.2 0ZM240.1 1464.5a3.6 3.6 0 1 1 7.2 0a3.6 3.6 0 1 1 -7.2 0ZM239.6 1459.7a3.6 3.6 0 1 1 7.2 0a3.6 3.6 0 1 1 -7.2 0ZM239 1454.9a3.6 3.6 0 1 1 7.2 0a3.6 3.6 0 1 1 -7.2 0ZM238.5 1450.1a3.6 3.6 0 1 1 7.2 0a3.6 3.6 0 1 1 -7.2 0ZM238 1445.3a3.6 3.6 0 1 1 7.2 0a3.6 3.6 0 1 1 -7.2 0ZM237.4 1441.3a3.6 3.6 0 1 1 7.2 0a3.6 3.6 0 1 1 -7.2 0ZM239.3 1437.9a3.6 3.6 0 1 1 7.2 0a3.6 3.6 0 1 1 -7.2 0ZM241.4 1433.6a3.6 3.6 0 1 1 7.2 0a3.6 3.6 0 1 1 -7.2 0ZM243.6 1429.2a3.6 3.6 0 1 1 7.2 0a3.6 3.6 0 1 1 -7.2 0ZM245.3 1424.2a3.6 3.6 0 1 1 7.2 0a3.6 3.6 0 1 1 -7.2 0ZM246.2 1420.6a3.6 3.6 0 1 1 7.2 0a3.6 3.6 0 1 1 -7.2 0ZM249.8 1419.7a3.6 3.6 0 1 1 7.2 0a3.6 3.6 0 1 1 -7.2 0ZM254.3 1418.2a3.6 3.6 0 1 1 7.2 0a3.6 3.6 0 1 1 -7.2 0ZM258.2 1417.7a3.6 3.6 0 1 1 7.2 0a3.6 3.6 0 1 1 -7.2 0ZM262.5 1417.2a3.6 3.6 0 1 1 7.2 0a3.6 3.6 0 1 1 -7.2 0ZM266.6 1416.7a3.6 3.6 0 1 1 7.2 0a3.6 3.6 0 1 1 -7.2 0ZM271.2 1416.7a3.6 3.6 0 1 1 7.2 0a3.6 3.6 0 1 1 -7.2 0ZM276.2 1416.7a3.6 3.6 0 1 1 7.2 0a3.6 3.6 0 1 1 -7.2 0ZM282 1415.8a3.6 3.6 0 1 1 7.2 0a3.6 3.6 0 1 1 -7.2 0ZM286.7 1415a3.6 3.6 0 1 1 7.2 0a3.6 3.6 0 1 1 -7.2 0ZM288.6 1416.8a3.6 3.6 0 1 1 7.2 0a3.6 3.6 0 1 1 -7.2 0ZM291.3 1418.8a3.6 3.6 0 1 1 7.2 0a3.6 3.6 0 1 1 -7.2 0ZM294.3 1423.3a3.6 3.6 0 1 1 7.2 0a3.6 3.6 0 1 1 -7.2 0ZM297.8 1428.6a3.6 3.6 0 1 1 7.2 0a3.6 3.6 0 1 1 -7.2 0ZM301.8 1430.7a3.6 3.6 0 1 1 7.2 0a3.6 3.6 0 1 1 -7.2 0ZM304.1 1431.6a3.6 3.6 0 1 1 7.2 0a3.6 3.6 0 1 1 -7.2 0ZM305.2 1434.7a3.6 3.6 0 1 1 7.2 0a3.6 3.6 0 1 1 -7.2 0ZM306.6 1437.9a3.6 3.6 0 1 1 7.2 0a3.6 3.6 0 1 1 -7.2 0ZM305.8 1441.9a3.6 3.6 0 1 1 7.2 0a3.6 3.6 0 1 1 -7.2 0ZM304.9 1447a3.6 3.6 0 1 1 7.2 0a3.6 3.6 0 1 1 -7.2 0ZM305.3 1451.9a3.6 3.6 0 1 1 7.2 0a3.6 3.6 0 1 1 -7.2 0ZM305.6 1456.4a3.6 3.6 0 1 1 7.2 0a3.6 3.6 0 1 1 -7.2 0ZM305.9 1460.9a3.6 3.6 0 1 1 7.2 0a3.6 3.6 0 1 1 -7.2 0ZM306.2 1465.3a3.6 3.6 0 1 1 7.2 0a3.6 3.6 0 1 1 -7.2 0ZM307.4 1467.4a3.6 3.6 0 1 1 7.2 0a3.6 3.6 0 1 1 -7.2 0ZM304.8 1466.5a3.6 3.6 0 1 1 7.2 0a3.6 3.6 0 1 1 -7.2 0ZM300 1466.5a3.6 3.6 0 1 1 7.2 0a3.6 3.6 0 1 1 -7.2 0ZM295.2 1466.5a3.6 3.6 0 1 1 7.2 0a3.6 3.6 0 1 1 -7.2 0ZM290.4 1466.5a3.6 3.6 0 1 1 7.2 0a3.6 3.6 0 1 1 -7.2 0ZM285.6 1466.5a3.6 3.6 0 1 1 7.2 0a3.6 3.6 0 1 1 -7.2 0ZM280.8 1466.5a3.6 3.6 0 1 1 7.2 0a3.6 3.6 0 1 1 -7.2 0ZM276 1466.5a3.6 3.6 0 1 1 7.2 0a3.6 3.6 0 1 1 -7.2 0ZM271.2 1466.5a3.6 3.6 0 1 1 7.2 0a3.6 3.6 0 1 1 -7.2 0ZM266.4 1466.5a3.6 3.6 0 1 1 7.2 0a3.6 3.6 0 1 1 -7.2 0ZM261.6 1466.5a3.6 3.6 0 1 1 7.2 0a3.6 3.6 0 1 1 -7.2 0ZM256.8 1466.5a3.6 3.6 0 1 1 7.2 0a3.6 3.6 0 1 1 -7.2 0ZM252 1466.5a3.6 3.6 0 1 1 7.2 0a3.6 3.6 0 1 1 -7.2 0ZM247.2 1466.5a3.6 3.6 0 1 1 7.2 0a3.6 3.6 0 1 1 -7.2 0ZM242.4 1466.5a3.6 3.6 0 1 1 7.2 0a3.6 3.6 0 1 1 -7.2 0ZM174.4 1436a3.6 3.6 0 1 1 7.2 0a3.6 3.6 0 1 1 -7.2 0ZM200 1432.8a3.6 3.6 0 1 1 7.2 0a3.6 3.6 0 1 1 -7.2 0ZM211.2 1456.8a3.6 3.6 0 1 1 7.2 0a3.6 3.6 0 1 1 -7.2 0ZM219.2 1424a3.6 3.6 0 1 1 7.2 0a3.6 3.6 0 1 1 -7.2 0ZM222.4 1432a3.6 3.6 0 1 1 7.2 0a3.6 3.6 0 1 1 -7.2 0ZM225.6 1412a3.6 3.6 0 1 1 7.2 0a3.6 3.6 0 1 1 -7.2 0ZM234.4 1414.4a3.6 3.6 0 1 1 7.2 0a3.6 3.6 0 1 1 -7.2 0ZM224.8 1442.4a3.6 3.6 0 1 1 7.2 0a3.6 3.6 0 1 1 -7.2 0ZM230.4 1447.2a3.6 3.6 0 1 1 7.2 0a3.6 3.6 0 1 1 -7.2 0ZM259.2 1404.8a3.6 3.6 0 1 1 7.2 0a3.6 3.6 0 1 1 -7.2 0ZM271.2 1400a3.6 3.6 0 1 1 7.2 0a3.6 3.6 0 1 1 -7.2 0ZM262.4 1408.8a3.6 3.6 0 1 1 7.2 0a3.6 3.6 0 1 1 -7.2 0ZM248 1414.4a3.6 3.6 0 1 1 7.2 0a3.6 3.6 0 1 1 -7.2 0ZM244 1418.4a3.6 3.6 0 1 1 7.2 0a3.6 3.6 0 1 1 -7.2 0ZM292.8 1410.4a3.6 3.6 0 1 1 7.2 0a3.6 3.6 0 1 1 -7.2 0ZM287.2 1412a3.6 3.6 0 1 1 7.2 0a3.6 3.6 0 1 1 -7.2 0ZM308 1429.6a3.6 3.6 0 1 1 7.2 0a3.6 3.6 0 1 1 -7.2 0ZM309.6 1434.4a3.6 3.6 0 1 1 7.2 0a3.6 3.6 0 1 1 -7.2 0ZM308.8 1444a3.6 3.6 0 1 1 7.2 0a3.6 3.6 0 1 1 -7.2 0ZM312.8 1453.6a3.6 3.6 0 1 1 7.2 0a3.6 3.6 0 1 1 -7.2 0ZM300 1426.4a3.6 3.6 0 1 1 7.2 0a3.6 3.6 0 1 1 -7.2 0ZM238.4 1452a3.6 3.6 0 1 1 7.2 0a3.6 3.6 0 1 1 -7.2 0Z" fill="#050505"/>
<clipPath id="cc13"><path d="M242.3 1466.7L241.1 1441L247.2 1429.2L249.8 1420.6L257.8 1418.2L270.2 1416.7L279.8 1416.7L290.3 1415L294.9 1418.8L301.4 1428.6L307.7 1431.6L310.2 1437.9L308.5 1447.2L312.3 1466.7ZM239.6 1467.3a3.6 3.6 0 1 1 7.2 0a3.6 3.6 0 1 1 -7.2 0ZM240.1 1464.5a3.6 3.6 0 1 1 7.2 0a3.6 3.6 0 1 1 -7.2 0ZM239.6 1459.7a3.6 3.6 0 1 1 7.2 0a3.6 3.6 0 1 1 -7.2 0ZM239 1454.9a3.6 3.6 0 1 1 7.2 0a3.6 3.6 0 1 1 -7.2 0ZM238.5 1450.1a3.6 3.6 0 1 1 7.2 0a3.6 3.6 0 1 1 -7.2 0ZM238 1445.3a3.6 3.6 0 1 1 7.2 0a3.6 3.6 0 1 1 -7.2 0ZM237.4 1441.3a3.6 3.6 0 1 1 7.2 0a3.6 3.6 0 1 1 -7.2 0ZM239.3 1437.9a3.6 3.6 0 1 1 7.2 0a3.6 3.6 0 1 1 -7.2 0ZM241.4 1433.6a3.6 3.6 0 1 1 7.2 0a3.6 3.6 0 1 1 -7.2 0ZM243.6 1429.2a3.6 3.6 0 1 1 7.2 0a3.6 3.6 0 1 1 -7.2 0ZM245.3 1424.2a3.6 3.6 0 1 1 7.2 0a3.6 3.6 0 1 1 -7.2 0ZM246.2 1420.6a3.6 3.6 0 1 1 7.2 0a3.6 3.6 0 1 1 -7.2 0ZM249.8 1419.7a3.6 3.6 0 1 1 7.2 0a3.6 3.6 0 1 1 -7.2 0ZM254.3 1418.2a3.6 3.6 0 1 1 7.2 0a3.6 3.6 0 1 1 -7.2 0ZM258.2 1417.7a3.6 3.6 0 1 1 7.2 0a3.6 3.6 0 1 1 -7.2 0ZM262.5 1417.2a3.6 3.6 0 1 1 7.2 0a3.6 3.6 0 1 1 -7.2 0ZM266.6 1416.7a3.6 3.6 0 1 1 7.2 0a3.6 3.6 0 1 1 -7.2 0ZM271.2 1416.7a3.6 3.6 0 1 1 7.2 0a3.6 3.6 0 1 1 -7.2 0ZM276.2 1416.7a3.6 3.6 0 1 1 7.2 0a3.6 3.6 0 1 1 -7.2 0ZM282 1415.8a3.6 3.6 0 1 1 7.2 0a3.6 3.6 0 1 1 -7.2 0ZM286.7 1415a3.6 3.6 0 1 1 7.2 0a3.6 3.6 0 1 1 -7.2 0ZM288.6 1416.8a3.6 3.6 0 1 1 7.2 0a3.6 3.6 0 1 1 -7.2 0ZM291.3 1418.8a3.6 3.6 0 1 1 7.2 0a3.6 3.6 0 1 1 -7.2 0ZM294.3 1423.3a3.6 3.6 0 1 1 7.2 0a3.6 3.6 0 1 1 -7.2 0ZM297.8 1428.6a3.6 3.6 0 1 1 7.2 0a3.6 3.6 0 1 1 -7.2 0ZM301.8 1430.7a3.6 3.6 0 1 1 7.2 0a3.6 3.6 0 1 1 -7.2 0ZM304.1 1431.6a3.6 3.6 0 1 1 7.2 0a3.6 3.6 0 1 1 -7.2 0ZM305.2 1434.7a3.6 3.6 0 1 1 7.2 0a3.6 3.6 0 1 1 -7.2 0ZM306.6 1437.9a3.6 3.6 0 1 1 7.2 0a3.6 3.6 0 1 1 -7.2 0ZM305.8 1441.9a3.6 3.6 0 1 1 7.2 0a3.6 3.6 0 1 1 -7.2 0ZM304.9 1447a3.6 3.6 0 1 1 7.2 0a3.6 3.6 0 1 1 -7.2 0ZM305.3 1451.9a3.6 3.6 0 1 1 7.2 0a3.6 3.6 0 1 1 -7.2 0ZM305.6 1456.4a3.6 3.6 0 1 1 7.2 0a3.6 3.6 0 1 1 -7.2 0ZM305.9 1460.9a3.6 3.6 0 1 1 7.2 0a3.6 3.6 0 1 1 -7.2 0ZM306.2 1465.3a3.6 3.6 0 1 1 7.2 0a3.6 3.6 0 1 1 -7.2 0ZM307.4 1467.4a3.6 3.6 0 1 1 7.2 0a3.6 3.6 0 1 1 -7.2 0ZM304.8 1466.5a3.6 3.6 0 1 1 7.2 0a3.6 3.6 0 1 1 -7.2 0ZM300 1466.5a3.6 3.6 0 1 1 7.2 0a3.6 3.6 0 1 1 -7.2 0ZM295.2 1466.5a3.6 3.6 0 1 1 7.2 0a3.6 3.6 0 1 1 -7.2 0ZM290.4 1466.5a3.6 3.6 0 1 1 7.2 0a3.6 3.6 0 1 1 -7.2 0ZM285.6 1466.5a3.6 3.6 0 1 1 7.2 0a3.6 3.6 0 1 1 -7.2 0ZM280.8 1466.5a3.6 3.6 0 1 1 7.2 0a3.6 3.6 0 1 1 -7.2 0ZM276 1466.5a3.6 3.6 0 1 1 7.2 0a3.6 3.6 0 1 1 -7.2 0ZM271.2 1466.5a3.6 3.6 0 1 1 7.2 0a3.6 3.6 0 1 1 -7.2 0ZM266.4 1466.5a3.6 3.6 0 1 1 7.2 0a3.6 3.6 0 1 1 -7.2 0ZM261.6 1466.5a3.6 3.6 0 1 1 7.2 0a3.6 3.6 0 1 1 -7.2 0ZM256.8 1466.5a3.6 3.6 0 1 1 7.2 0a3.6 3.6 0 1 1 -7.2 0ZM252 1466.5a3.6 3.6 0 1 1 7.2 0a3.6 3.6 0 1 1 -7.2 0ZM247.2 1466.5a3.6 3.6 0 1 1 7.2 0a3.6 3.6 0 1 1 -7.2 0ZM242.4 1466.5a3.6 3.6 0 1 1 7.2 0a3.6 3.6 0 1 1 -7.2 0ZM174.4 1436a3.6 3.6 0 1 1 7.2 0a3.6 3.6 0 1 1 -7.2 0ZM200 1432.8a3.6 3.6 0 1 1 7.2 0a3.6 3.6 0 1 1 -7.2 0ZM211.2 1456.8a3.6 3.6 0 1 1 7.2 0a3.6 3.6 0 1 1 -7.2 0ZM219.2 1424a3.6 3.6 0 1 1 7.2 0a3.6 3.6 0 1 1 -7.2 0ZM222.4 1432a3.6 3.6 0 1 1 7.2 0a3.6 3.6 0 1 1 -7.2 0ZM225.6 1412a3.6 3.6 0 1 1 7.2 0a3.6 3.6 0 1 1 -7.2 0ZM234.4 1414.4a3.6 3.6 0 1 1 7.2 0a3.6 3.6 0 1 1 -7.2 0ZM224.8 1442.4a3.6 3.6 0 1 1 7.2 0a3.6 3.6 0 1 1 -7.2 0ZM230.4 1447.2a3.6 3.6 0 1 1 7.2 0a3.6 3.6 0 1 1 -7.2 0ZM259.2 1404.8a3.6 3.6 0 1 1 7.2 0a3.6 3.6 0 1 1 -7.2 0ZM271.2 1400a3.6 3.6 0 1 1 7.2 0a3.6 3.6 0 1 1 -7.2 0ZM262.4 1408.8a3.6 3.6 0 1 1 7.2 0a3.6 3.6 0 1 1 -7.2 0ZM248 1414.4a3.6 3.6 0 1 1 7.2 0a3.6 3.6 0 1 1 -7.2 0ZM244 1418.4a3.6 3.6 0 1 1 7.2 0a3.6 3.6 0 1 1 -7.2 0ZM292.8 1410.4a3.6 3.6 0 1 1 7.2 0a3.6 3.6 0 1 1 -7.2 0ZM287.2 1412a3.6 3.6 0 1 1 7.2 0a3.6 3.6 0 1 1 -7.2 0ZM308 1429.6a3.6 3.6 0 1 1 7.2 0a3.6 3.6 0 1 1 -7.2 0ZM309.6 1434.4a3.6 3.6 0 1 1 7.2 0a3.6 3.6 0 1 1 -7.2 0ZM308.8 1444a3.6 3.6 0 1 1 7.2 0a3.6 3.6 0 1 1 -7.2 0ZM312.8 1453.6a3.6 3.6 0 1 1 7.2 0a3.6 3.6 0 1 1 -7.2 0ZM300 1426.4a3.6 3.6 0 1 1 7.2 0a3.6 3.6 0 1 1 -7.2 0ZM238.4 1452a3.6 3.6 0 1 1 7.2 0a3.6 3.6 0 1 1 -7.2 0Z"/></clipPath>
<g clip-path="url(#cc13)">
<ellipse cx="278" cy="1452" rx="27" ry="20" transform="rotate(0 278 1452)" fill="#1f1f1f" filter="url(#b5)"/>
</g>
</g></g>
<g clip-path="url(#clip_B1)"><g filter="url(#cm)">
<path d="M450.4 1446.9a3.6 3.6 0 1 1 7.2 0a3.6 3.6 0 1 1 -7.2 0ZM453.1 1453a3.6 3.6 0 1 1 7.2 0a3.6 3.6 0 1 1 -7.2 0ZM455.8 1455.8a3.6 3.6 0 1 1 7.2 0a3.6 3.6 0 1 1 -7.2 0ZM459.9 1457.1a3.6 3.6 0 1 1 7.2 0a3.6 3.6 0 1 1 -7.2 0ZM464 1458.5a3.6 3.6 0 1 1 7.2 0a3.6 3.6 0 1 1 -7.2 0ZM468.1 1455.8a3.6 3.6 0 1 1 7.2 0a3.6 3.6 0 1 1 -7.2 0ZM473.5 1457.1a3.6 3.6 0 1 1 7.2 0a3.6 3.6 0 1 1 -7.2 0ZM476.2 1458.5a3.6 3.6 0 1 1 7.2 0a3.6 3.6 0 1 1 -7.2 0ZM479 1459.2a3.6 3.6 0 1 1 7.2 0a3.6 3.6 0 1 1 -7.2 0ZM464 1446.2a3.6 3.6 0 1 1 7.2 0a3.6 3.6 0 1 1 -7.2 0ZM468.1 1436.7a3.6 3.6 0 1 1 7.2 0a3.6 3.6 0 1 1 -7.2 0ZM472.8 1438.1a3.6 3.6 0 1 1 7.2 0a3.6 3.6 0 1 1 -7.2 0ZM474.2 1442.2a3.6 3.6 0 1 1 7.2 0a3.6 3.6 0 1 1 -7.2 0ZM479 1431.3a3.6 3.6 0 1 1 7.2 0a3.6 3.6 0 1 1 -7.2 0ZM491.2 1451.7a3.6 3.6 0 1 1 7.2 0a3.6 3.6 0 1 1 -7.2 0ZM497.3 1450.3a3.6 3.6 0 1 1 7.2 0a3.6 3.6 0 1 1 -7.2 0ZM506.2 1452.4a3.6 3.6 0 1 1 7.2 0a3.6 3.6 0 1 1 -7.2 0ZM511.6 1445.6a3.6 3.6 0 1 1 7.2 0a3.6 3.6 0 1 1 -7.2 0ZM517.7 1442.8a3.6 3.6 0 1 1 7.2 0a3.6 3.6 0 1 1 -7.2 0ZM517.7 1446.2a3.6 3.6 0 1 1 7.2 0a3.6 3.6 0 1 1 -7.2 0ZM523.8 1459.8a3.6 3.6 0 1 1 7.2 0a3.6 3.6 0 1 1 -7.2 0ZM544.2 1456.4a3.6 3.6 0 1 1 7.2 0a3.6 3.6 0 1 1 -7.2 0ZM574.2 1440.8a3.6 3.6 0 1 1 7.2 0a3.6 3.6 0 1 1 -7.2 0ZM454.5 1457.1a3.6 3.6 0 1 1 7.2 0a3.6 3.6 0 1 1 -7.2 0ZM470.8 1459.2a3.6 3.6 0 1 1 7.2 0a3.6 3.6 0 1 1 -7.2 0Z" fill="#050505"/>
</g></g>
<g clip-path="url(#clip_B2)"><g filter="url(#cm)">
<path d="M692.2 1055.8a3.6 3.6 0 1 1 7.2 0a3.6 3.6 0 1 1 -7.2 0ZM696.6 1055.3a3.6 3.6 0 1 1 7.2 0a3.6 3.6 0 1 1 -7.2 0ZM700.8 1055.6a3.6 3.6 0 1 1 7.2 0a3.6 3.6 0 1 1 -7.2 0ZM717 1055.7a3.6 3.6 0 1 1 7.2 0a3.6 3.6 0 1 1 -7.2 0ZM684.1 1056.8a3.6 3.6 0 1 1 7.2 0a3.6 3.6 0 1 1 -7.2 0ZM689.3 1057.9a3.6 3.6 0 1 1 7.2 0a3.6 3.6 0 1 1 -7.2 0ZM693 1057.6a3.6 3.6 0 1 1 7.2 0a3.6 3.6 0 1 1 -7.2 0ZM698.3 1057.6a3.6 3.6 0 1 1 7.2 0a3.6 3.6 0 1 1 -7.2 0ZM702.3 1056.9a3.6 3.6 0 1 1 7.2 0a3.6 3.6 0 1 1 -7.2 0ZM705.6 1058.7a3.6 3.6 0 1 1 7.2 0a3.6 3.6 0 1 1 -7.2 0ZM712 1058.9a3.6 3.6 0 1 1 7.2 0a3.6 3.6 0 1 1 -7.2 0ZM714.5 1057.5a3.6 3.6 0 1 1 7.2 0a3.6 3.6 0 1 1 -7.2 0ZM718 1059.7a3.6 3.6 0 1 1 7.2 0a3.6 3.6 0 1 1 -7.2 0ZM723.3 1057a3.6 3.6 0 1 1 7.2 0a3.6 3.6 0 1 1 -7.2 0ZM729.4 1059.2a3.6 3.6 0 1 1 7.2 0a3.6 3.6 0 1 1 -7.2 0ZM730.8 1059.7a3.6 3.6 0 1 1 7.2 0a3.6 3.6 0 1 1 -7.2 0ZM736.9 1059.5a3.6 3.6 0 1 1 7.2 0a3.6 3.6 0 1 1 -7.2 0ZM683.5 1060.8a3.6 3.6 0 1 1 7.2 0a3.6 3.6 0 1 1 -7.2 0ZM686.9 1061.2a3.6 3.6 0 1 1 7.2 0a3.6 3.6 0 1 1 -7.2 0ZM691.8 1062a3.6 3.6 0 1 1 7.2 0a3.6 3.6 0 1 1 -7.2 0ZM696 1062a3.6 3.6 0 1 1 7.2 0a3.6 3.6 0 1 1 -7.2 0ZM700.8 1063.2a3.6 3.6 0 1 1 7.2 0a3.6 3.6 0 1 1 -7.2 0ZM704.1 1062.4a3.6 3.6 0 1 1 7.2 0a3.6 3.6 0 1 1 -7.2 0ZM707.9 1060.9a3.6 3.6 0 1 1 7.2 0a3.6 3.6 0 1 1 -7.2 0ZM712.5 1061.1a3.6 3.6 0 1 1 7.2 0a3.6 3.6 0 1 1 -7.2 0ZM717.5 1063.4a3.6 3.6 0 1 1 7.2 0a3.6 3.6 0 1 1 -7.2 0ZM722.3 1061.4a3.6 3.6 0 1 1 7.2 0a3.6 3.6 0 1 1 -7.2 0ZM725.6 1061.9a3.6 3.6 0 1 1 7.2 0a3.6 3.6 0 1 1 -7.2 0ZM731.5 1061.2a3.6 3.6 0 1 1 7.2 0a3.6 3.6 0 1 1 -7.2 0ZM735.5 1061.7a3.6 3.6 0 1 1 7.2 0a3.6 3.6 0 1 1 -7.2 0ZM738.4 1062.9a3.6 3.6 0 1 1 7.2 0a3.6 3.6 0 1 1 -7.2 0ZM685.1 1065.8a3.6 3.6 0 1 1 7.2 0a3.6 3.6 0 1 1 -7.2 0ZM688.5 1066.4a3.6 3.6 0 1 1 7.2 0a3.6 3.6 0 1 1 -7.2 0ZM693.4 1065.9a3.6 3.6 0 1 1 7.2 0a3.6 3.6 0 1 1 -7.2 0ZM696.3 1065.8a3.6 3.6 0 1 1 7.2 0a3.6 3.6 0 1 1 -7.2 0ZM700.9 1064.3a3.6 3.6 0 1 1 7.2 0a3.6 3.6 0 1 1 -7.2 0ZM706.3 1066.8a3.6 3.6 0 1 1 7.2 0a3.6 3.6 0 1 1 -7.2 0ZM710.3 1065.5a3.6 3.6 0 1 1 7.2 0a3.6 3.6 0 1 1 -7.2 0ZM713.9 1064.8a3.6 3.6 0 1 1 7.2 0a3.6 3.6 0 1 1 -7.2 0ZM719.6 1067.1a3.6 3.6 0 1 1 7.2 0a3.6 3.6 0 1 1 -7.2 0ZM723.3 1064.2a3.6 3.6 0 1 1 7.2 0a3.6 3.6 0 1 1 -7.2 0ZM729.1 1065.8a3.6 3.6 0 1 1 7.2 0a3.6 3.6 0 1 1 -7.2 0ZM731.4 1066.9a3.6 3.6 0 1 1 7.2 0a3.6 3.6 0 1 1 -7.2 0ZM736.5 1066.7a3.6 3.6 0 1 1 7.2 0a3.6 3.6 0 1 1 -7.2 0ZM687.8 1068.3a3.6 3.6 0 1 1 7.2 0a3.6 3.6 0 1 1 -7.2 0ZM690.5 1069.4a3.6 3.6 0 1 1 7.2 0a3.6 3.6 0 1 1 -7.2 0ZM695.1 1069.8a3.6 3.6 0 1 1 7.2 0a3.6 3.6 0 1 1 -7.2 0ZM699.6 1068.7a3.6 3.6 0 1 1 7.2 0a3.6 3.6 0 1 1 -7.2 0ZM703.8 1070.3a3.6 3.6 0 1 1 7.2 0a3.6 3.6 0 1 1 -7.2 0ZM709.7 1069.2a3.6 3.6 0 1 1 7.2 0a3.6 3.6 0 1 1 -7.2 0ZM711.9 1068.5a3.6 3.6 0 1 1 7.2 0a3.6 3.6 0 1 1 -7.2 0ZM717.8 1070.7a3.6 3.6 0 1 1 7.2 0a3.6 3.6 0 1 1 -7.2 0ZM721.5 1069.9a3.6 3.6 0 1 1 7.2 0a3.6 3.6 0 1 1 -7.2 0ZM724.4 1068.2a3.6 3.6 0 1 1 7.2 0a3.6 3.6 0 1 1 -7.2 0ZM730.8 1069.4a3.6 3.6 0 1 1 7.2 0a3.6 3.6 0 1 1 -7.2 0ZM734.4 1069.3a3.6 3.6 0 1 1 7.2 0a3.6 3.6 0 1 1 -7.2 0ZM693.3 1072.6a3.6 3.6 0 1 1 7.2 0a3.6 3.6 0 1 1 -7.2 0ZM698.7 1072.7a3.6 3.6 0 1 1 7.2 0a3.6 3.6 0 1 1 -7.2 0ZM700.9 1073.6a3.6 3.6 0 1 1 7.2 0a3.6 3.6 0 1 1 -7.2 0ZM706.3 1074.1a3.6 3.6 0 1 1 7.2 0a3.6 3.6 0 1 1 -7.2 0ZM711.4 1073a3.6 3.6 0 1 1 7.2 0a3.6 3.6 0 1 1 -7.2 0ZM716.3 1074.1a3.6 3.6 0 1 1 7.2 0a3.6 3.6 0 1 1 -7.2 0ZM719.1 1071.9a3.6 3.6 0 1 1 7.2 0a3.6 3.6 0 1 1 -7.2 0ZM724.4 1073a3.6 3.6 0 1 1 7.2 0a3.6 3.6 0 1 1 -7.2 0ZM727.4 1073.2a3.6 3.6 0 1 1 7.2 0a3.6 3.6 0 1 1 -7.2 0ZM732.1 1073a3.6 3.6 0 1 1 7.2 0a3.6 3.6 0 1 1 -7.2 0ZM737 1072.8a3.6 3.6 0 1 1 7.2 0a3.6 3.6 0 1 1 -7.2 0ZM699.4 1075.9a3.6 3.6 0 1 1 7.2 0a3.6 3.6 0 1 1 -7.2 0ZM703.2 1076.3a3.6 3.6 0 1 1 7.2 0a3.6 3.6 0 1 1 -7.2 0ZM708 1076.5a3.6 3.6 0 1 1 7.2 0a3.6 3.6 0 1 1 -7.2 0ZM711.9 1077.7a3.6 3.6 0 1 1 7.2 0a3.6 3.6 0 1 1 -7.2 0ZM715.9 1077.6a3.6 3.6 0 1 1 7.2 0a3.6 3.6 0 1 1 -7.2 0ZM722.5 1075.6a3.6 3.6 0 1 1 7.2 0a3.6 3.6 0 1 1 -7.2 0ZM725.5 1076.8a3.6 3.6 0 1 1 7.2 0a3.6 3.6 0 1 1 -7.2 0ZM728.7 1076.2a3.6 3.6 0 1 1 7.2 0a3.6 3.6 0 1 1 -7.2 0ZM734.7 1077.4a3.6 3.6 0 1 1 7.2 0a3.6 3.6 0 1 1 -7.2 0ZM702.8 1081.1a3.6 3.6 0 1 1 7.2 0a3.6 3.6 0 1 1 -7.2 0ZM707.7 1079.6a3.6 3.6 0 1 1 7.2 0a3.6 3.6 0 1 1 -7.2 0ZM711.4 1079.7a3.6 3.6 0 1 1 7.2 0a3.6 3.6 0 1 1 -7.2 0ZM715.7 1081a3.6 3.6 0 1 1 7.2 0a3.6 3.6 0 1 1 -7.2 0ZM718.7 1079.8a3.6 3.6 0 1 1 7.2 0a3.6 3.6 0 1 1 -7.2 0ZM724.7 1080.1a3.6 3.6 0 1 1 7.2 0a3.6 3.6 0 1 1 -7.2 0ZM727.1 1080.9a3.6 3.6 0 1 1 7.2 0a3.6 3.6 0 1 1 -7.2 0ZM733.3 1081.3a3.6 3.6 0 1 1 7.2 0a3.6 3.6 0 1 1 -7.2 0ZM735.6 1079.4a3.6 3.6 0 1 1 7.2 0a3.6 3.6 0 1 1 -7.2 0ZM705 1084.3a3.6 3.6 0 1 1 7.2 0a3.6 3.6 0 1 1 -7.2 0ZM707.4 1083.1a3.6 3.6 0 1 1 7.2 0a3.6 3.6 0 1 1 -7.2 0ZM713.1 1084.7a3.6 3.6 0 1 1 7.2 0a3.6 3.6 0 1 1 -7.2 0ZM716 1084.1a3.6 3.6 0 1 1 7.2 0a3.6 3.6 0 1 1 -7.2 0ZM720.4 1084a3.6 3.6 0 1 1 7.2 0a3.6 3.6 0 1 1 -7.2 0ZM726.2 1084.7a3.6 3.6 0 1 1 7.2 0a3.6 3.6 0 1 1 -7.2 0ZM728.9 1084a3.6 3.6 0 1 1 7.2 0a3.6 3.6 0 1 1 -7.2 0ZM733.8 1083.6a3.6 3.6 0 1 1 7.2 0a3.6 3.6 0 1 1 -7.2 0ZM710.2 1086.6a3.6 3.6 0 1 1 7.2 0a3.6 3.6 0 1 1 -7.2 0ZM714.4 1086.7a3.6 3.6 0 1 1 7.2 0a3.6 3.6 0 1 1 -7.2 0ZM718.3 1088a3.6 3.6 0 1 1 7.2 0a3.6 3.6 0 1 1 -7.2 0ZM724.5 1088.5a3.6 3.6 0 1 1 7.2 0a3.6 3.6 0 1 1 -7.2 0ZM727.8 1087.4a3.6 3.6 0 1 1 7.2 0a3.6 3.6 0 1 1 -7.2 0ZM730.9 1087.4a3.6 3.6 0 1 1 7.2 0a3.6 3.6 0 1 1 -7.2 0ZM735.3 1086.6a3.6 3.6 0 1 1 7.2 0a3.6 3.6 0 1 1 -7.2 0ZM711.6 1093a3.6 3.6 0 1 1 7.2 0a3.6 3.6 0 1 1 -7.2 0ZM716 1091.3a3.6 3.6 0 1 1 7.2 0a3.6 3.6 0 1 1 -7.2 0ZM720.4 1092.7a3.6 3.6 0 1 1 7.2 0a3.6 3.6 0 1 1 -7.2 0ZM725.1 1093.1a3.6 3.6 0 1 1 7.2 0a3.6 3.6 0 1 1 -7.2 0ZM731.3 1090.5a3.6 3.6 0 1 1 7.2 0a3.6 3.6 0 1 1 -7.2 0ZM720.8 1094.1a3.6 3.6 0 1 1 7.2 0a3.6 3.6 0 1 1 -7.2 0ZM723 1094.1a3.6 3.6 0 1 1 7.2 0a3.6 3.6 0 1 1 -7.2 0ZM674.6 1068a3.6 3.6 0 1 1 7.2 0a3.6 3.6 0 1 1 -7.2 0ZM677.8 1073.6a3.6 3.6 0 1 1 7.2 0a3.6 3.6 0 1 1 -7.2 0ZM692.2 1075.2a3.6 3.6 0 1 1 7.2 0a3.6 3.6 0 1 1 -7.2 0ZM700.2 1087.2a3.6 3.6 0 1 1 7.2 0a3.6 3.6 0 1 1 -7.2 0ZM697 1096.8a3.6 3.6 0 1 1 7.2 0a3.6 3.6 0 1 1 -7.2 0ZM705.8 1096.8a3.6 3.6 0 1 1 7.2 0a3.6 3.6 0 1 1 -7.2 0ZM709.8 1105.6a3.6 3.6 0 1 1 7.2 0a3.6 3.6 0 1 1 -7.2 0ZM714.6 1102.4a3.6 3.6 0 1 1 7.2 0a3.6 3.6 0 1 1 -7.2 0ZM702.6 1108.8a3.6 3.6 0 1 1 7.2 0a3.6 3.6 0 1 1 -7.2 0ZM699.4 1115.2a3.6 3.6 0 1 1 7.2 0a3.6 3.6 0 1 1 -7.2 0ZM691.4 1116a3.6 3.6 0 1 1 7.2 0a3.6 3.6 0 1 1 -7.2 0ZM711.4 1112.8a3.6 3.6 0 1 1 7.2 0a3.6 3.6 0 1 1 -7.2 0ZM725.8 1104a3.6 3.6 0 1 1 7.2 0a3.6 3.6 0 1 1 -7.2 0ZM728.2 1121.6a3.6 3.6 0 1 1 7.2 0a3.6 3.6 0 1 1 -7.2 0ZM738.6 1128.8a3.6 3.6 0 1 1 7.2 0a3.6 3.6 0 1 1 -7.2 0ZM735.4 1096.8a3.6 3.6 0 1 1 7.2 0a3.6 3.6 0 1 1 -7.2 0ZM743.4 1099.2a3.6 3.6 0 1 1 7.2 0a3.6 3.6 0 1 1 -7.2 0ZM744.2 1103.2a3.6 3.6 0 1 1 7.2 0a3.6 3.6 0 1 1 -7.2 0ZM741.8 1106.4a3.6 3.6 0 1 1 7.2 0a3.6 3.6 0 1 1 -7.2 0ZM749.8 1088a3.6 3.6 0 1 1 7.2 0a3.6 3.6 0 1 1 -7.2 0ZM753.8 1092a3.6 3.6 0 1 1 7.2 0a3.6 3.6 0 1 1 -7.2 0ZM742.6 1078.4a3.6 3.6 0 1 1 7.2 0a3.6 3.6 0 1 1 -7.2 0ZM746.6 1071.2a3.6 3.6 0 1 1 7.2 0a3.6 3.6 0 1 1 -7.2 0ZM749 1068a3.6 3.6 0 1 1 7.2 0a3.6 3.6 0 1 1 -7.2 0ZM717.8 1096a3.6 3.6 0 1 1 7.2 0a3.6 3.6 0 1 1 -7.2 0Z" fill="#050505"/>
<clipPath id="cc15"><path d="M692.2 1055.8a3.6 3.6 0 1 1 7.2 0a3.6 3.6 0 1 1 -7.2 0ZM696.6 1055.3a3.6 3.6 0 1 1 7.2 0a3.6 3.6 0 1 1 -7.2 0ZM700.8 1055.6a3.6 3.6 0 1 1 7.2 0a3.6 3.6 0 1 1 -7.2 0ZM717 1055.7a3.6 3.6 0 1 1 7.2 0a3.6 3.6 0 1 1 -7.2 0ZM684.1 1056.8a3.6 3.6 0 1 1 7.2 0a3.6 3.6 0 1 1 -7.2 0ZM689.3 1057.9a3.6 3.6 0 1 1 7.2 0a3.6 3.6 0 1 1 -7.2 0ZM693 1057.6a3.6 3.6 0 1 1 7.2 0a3.6 3.6 0 1 1 -7.2 0ZM698.3 1057.6a3.6 3.6 0 1 1 7.2 0a3.6 3.6 0 1 1 -7.2 0ZM702.3 1056.9a3.6 3.6 0 1 1 7.2 0a3.6 3.6 0 1 1 -7.2 0ZM705.6 1058.7a3.6 3.6 0 1 1 7.2 0a3.6 3.6 0 1 1 -7.2 0ZM712 1058.9a3.6 3.6 0 1 1 7.2 0a3.6 3.6 0 1 1 -7.2 0ZM714.5 1057.5a3.6 3.6 0 1 1 7.2 0a3.6 3.6 0 1 1 -7.2 0ZM718 1059.7a3.6 3.6 0 1 1 7.2 0a3.6 3.6 0 1 1 -7.2 0ZM723.3 1057a3.6 3.6 0 1 1 7.2 0a3.6 3.6 0 1 1 -7.2 0ZM729.4 1059.2a3.6 3.6 0 1 1 7.2 0a3.6 3.6 0 1 1 -7.2 0ZM730.8 1059.7a3.6 3.6 0 1 1 7.2 0a3.6 3.6 0 1 1 -7.2 0ZM736.9 1059.5a3.6 3.6 0 1 1 7.2 0a3.6 3.6 0 1 1 -7.2 0ZM683.5 1060.8a3.6 3.6 0 1 1 7.2 0a3.6 3.6 0 1 1 -7.2 0ZM686.9 1061.2a3.6 3.6 0 1 1 7.2 0a3.6 3.6 0 1 1 -7.2 0ZM691.8 1062a3.6 3.6 0 1 1 7.2 0a3.6 3.6 0 1 1 -7.2 0ZM696 1062a3.6 3.6 0 1 1 7.2 0a3.6 3.6 0 1 1 -7.2 0ZM700.8 1063.2a3.6 3.6 0 1 1 7.2 0a3.6 3.6 0 1 1 -7.2 0ZM704.1 1062.4a3.6 3.6 0 1 1 7.2 0a3.6 3.6 0 1 1 -7.2 0ZM707.9 1060.9a3.6 3.6 0 1 1 7.2 0a3.6 3.6 0 1 1 -7.2 0ZM712.5 1061.1a3.6 3.6 0 1 1 7.2 0a3.6 3.6 0 1 1 -7.2 0ZM717.5 1063.4a3.6 3.6 0 1 1 7.2 0a3.6 3.6 0 1 1 -7.2 0ZM722.3 1061.4a3.6 3.6 0 1 1 7.2 0a3.6 3.6 0 1 1 -7.2 0ZM725.6 1061.9a3.6 3.6 0 1 1 7.2 0a3.6 3.6 0 1 1 -7.2 0ZM731.5 1061.2a3.6 3.6 0 1 1 7.2 0a3.6 3.6 0 1 1 -7.2 0ZM735.5 1061.7a3.6 3.6 0 1 1 7.2 0a3.6 3.6 0 1 1 -7.2 0ZM738.4 1062.9a3.6 3.6 0 1 1 7.2 0a3.6 3.6 0 1 1 -7.2 0ZM685.1 1065.8a3.6 3.6 0 1 1 7.2 0a3.6 3.6 0 1 1 -7.2 0ZM688.5 1066.4a3.6 3.6 0 1 1 7.2 0a3.6 3.6 0 1 1 -7.2 0ZM693.4 1065.9a3.6 3.6 0 1 1 7.2 0a3.6 3.6 0 1 1 -7.2 0ZM696.3 1065.8a3.6 3.6 0 1 1 7.2 0a3.6 3.6 0 1 1 -7.2 0ZM700.9 1064.3a3.6 3.6 0 1 1 7.2 0a3.6 3.6 0 1 1 -7.2 0ZM706.3 1066.8a3.6 3.6 0 1 1 7.2 0a3.6 3.6 0 1 1 -7.2 0ZM710.3 1065.5a3.6 3.6 0 1 1 7.2 0a3.6 3.6 0 1 1 -7.2 0ZM713.9 1064.8a3.6 3.6 0 1 1 7.2 0a3.6 3.6 0 1 1 -7.2 0ZM719.6 1067.1a3.6 3.6 0 1 1 7.2 0a3.6 3.6 0 1 1 -7.2 0ZM723.3 1064.2a3.6 3.6 0 1 1 7.2 0a3.6 3.6 0 1 1 -7.2 0ZM729.1 1065.8a3.6 3.6 0 1 1 7.2 0a3.6 3.6 0 1 1 -7.2 0ZM731.4 1066.9a3.6 3.6 0 1 1 7.2 0a3.6 3.6 0 1 1 -7.2 0ZM736.5 1066.7a3.6 3.6 0 1 1 7.2 0a3.6 3.6 0 1 1 -7.2 0ZM687.8 1068.3a3.6 3.6 0 1 1 7.2 0a3.6 3.6 0 1 1 -7.2 0ZM690.5 1069.4a3.6 3.6 0 1 1 7.2 0a3.6 3.6 0 1 1 -7.2 0ZM695.1 1069.8a3.6 3.6 0 1 1 7.2 0a3.6 3.6 0 1 1 -7.2 0ZM699.6 1068.7a3.6 3.6 0 1 1 7.2 0a3.6 3.6 0 1 1 -7.2 0ZM703.8 1070.3a3.6 3.6 0 1 1 7.2 0a3.6 3.6 0 1 1 -7.2 0ZM709.7 1069.2a3.6 3.6 0 1 1 7.2 0a3.6 3.6 0 1 1 -7.2 0ZM711.9 1068.5a3.6 3.6 0 1 1 7.2 0a3.6 3.6 0 1 1 -7.2 0ZM717.8 1070.7a3.6 3.6 0 1 1 7.2 0a3.6 3.6 0 1 1 -7.2 0ZM721.5 1069.9a3.6 3.6 0 1 1 7.2 0a3.6 3.6 0 1 1 -7.2 0ZM724.4 1068.2a3.6 3.6 0 1 1 7.2 0a3.6 3.6 0 1 1 -7.2 0ZM730.8 1069.4a3.6 3.6 0 1 1 7.2 0a3.6 3.6 0 1 1 -7.2 0ZM734.4 1069.3a3.6 3.6 0 1 1 7.2 0a3.6 3.6 0 1 1 -7.2 0ZM693.3 1072.6a3.6 3.6 0 1 1 7.2 0a3.6 3.6 0 1 1 -7.2 0ZM698.7 1072.7a3.6 3.6 0 1 1 7.2 0a3.6 3.6 0 1 1 -7.2 0ZM700.9 1073.6a3.6 3.6 0 1 1 7.2 0a3.6 3.6 0 1 1 -7.2 0ZM706.3 1074.1a3.6 3.6 0 1 1 7.2 0a3.6 3.6 0 1 1 -7.2 0ZM711.4 1073a3.6 3.6 0 1 1 7.2 0a3.6 3.6 0 1 1 -7.2 0ZM716.3 1074.1a3.6 3.6 0 1 1 7.2 0a3.6 3.6 0 1 1 -7.2 0ZM719.1 1071.9a3.6 3.6 0 1 1 7.2 0a3.6 3.6 0 1 1 -7.2 0ZM724.4 1073a3.6 3.6 0 1 1 7.2 0a3.6 3.6 0 1 1 -7.2 0ZM727.4 1073.2a3.6 3.6 0 1 1 7.2 0a3.6 3.6 0 1 1 -7.2 0ZM732.1 1073a3.6 3.6 0 1 1 7.2 0a3.6 3.6 0 1 1 -7.2 0ZM737 1072.8a3.6 3.6 0 1 1 7.2 0a3.6 3.6 0 1 1 -7.2 0ZM699.4 1075.9a3.6 3.6 0 1 1 7.2 0a3.6 3.6 0 1 1 -7.2 0ZM703.2 1076.3a3.6 3.6 0 1 1 7.2 0a3.6 3.6 0 1 1 -7.2 0ZM708 1076.5a3.6 3.6 0 1 1 7.2 0a3.6 3.6 0 1 1 -7.2 0ZM711.9 1077.7a3.6 3.6 0 1 1 7.2 0a3.6 3.6 0 1 1 -7.2 0ZM715.9 1077.6a3.6 3.6 0 1 1 7.2 0a3.6 3.6 0 1 1 -7.2 0ZM722.5 1075.6a3.6 3.6 0 1 1 7.2 0a3.6 3.6 0 1 1 -7.2 0ZM725.5 1076.8a3.6 3.6 0 1 1 7.2 0a3.6 3.6 0 1 1 -7.2 0ZM728.7 1076.2a3.6 3.6 0 1 1 7.2 0a3.6 3.6 0 1 1 -7.2 0ZM734.7 1077.4a3.6 3.6 0 1 1 7.2 0a3.6 3.6 0 1 1 -7.2 0ZM702.8 1081.1a3.6 3.6 0 1 1 7.2 0a3.6 3.6 0 1 1 -7.2 0ZM707.7 1079.6a3.6 3.6 0 1 1 7.2 0a3.6 3.6 0 1 1 -7.2 0ZM711.4 1079.7a3.6 3.6 0 1 1 7.2 0a3.6 3.6 0 1 1 -7.2 0ZM715.7 1081a3.6 3.6 0 1 1 7.2 0a3.6 3.6 0 1 1 -7.2 0ZM718.7 1079.8a3.6 3.6 0 1 1 7.2 0a3.6 3.6 0 1 1 -7.2 0ZM724.7 1080.1a3.6 3.6 0 1 1 7.2 0a3.6 3.6 0 1 1 -7.2 0ZM727.1 1080.9a3.6 3.6 0 1 1 7.2 0a3.6 3.6 0 1 1 -7.2 0ZM733.3 1081.3a3.6 3.6 0 1 1 7.2 0a3.6 3.6 0 1 1 -7.2 0ZM735.6 1079.4a3.6 3.6 0 1 1 7.2 0a3.6 3.6 0 1 1 -7.2 0ZM705 1084.3a3.6 3.6 0 1 1 7.2 0a3.6 3.6 0 1 1 -7.2 0ZM707.4 1083.1a3.6 3.6 0 1 1 7.2 0a3.6 3.6 0 1 1 -7.2 0ZM713.1 1084.7a3.6 3.6 0 1 1 7.2 0a3.6 3.6 0 1 1 -7.2 0ZM716 1084.1a3.6 3.6 0 1 1 7.2 0a3.6 3.6 0 1 1 -7.2 0ZM720.4 1084a3.6 3.6 0 1 1 7.2 0a3.6 3.6 0 1 1 -7.2 0ZM726.2 1084.7a3.6 3.6 0 1 1 7.2 0a3.6 3.6 0 1 1 -7.2 0ZM728.9 1084a3.6 3.6 0 1 1 7.2 0a3.6 3.6 0 1 1 -7.2 0ZM733.8 1083.6a3.6 3.6 0 1 1 7.2 0a3.6 3.6 0 1 1 -7.2 0ZM710.2 1086.6a3.6 3.6 0 1 1 7.2 0a3.6 3.6 0 1 1 -7.2 0ZM714.4 1086.7a3.6 3.6 0 1 1 7.2 0a3.6 3.6 0 1 1 -7.2 0ZM718.3 1088a3.6 3.6 0 1 1 7.2 0a3.6 3.6 0 1 1 -7.2 0ZM724.5 1088.5a3.6 3.6 0 1 1 7.2 0a3.6 3.6 0 1 1 -7.2 0ZM727.8 1087.4a3.6 3.6 0 1 1 7.2 0a3.6 3.6 0 1 1 -7.2 0ZM730.9 1087.4a3.6 3.6 0 1 1 7.2 0a3.6 3.6 0 1 1 -7.2 0ZM735.3 1086.6a3.6 3.6 0 1 1 7.2 0a3.6 3.6 0 1 1 -7.2 0ZM711.6 1093a3.6 3.6 0 1 1 7.2 0a3.6 3.6 0 1 1 -7.2 0ZM716 1091.3a3.6 3.6 0 1 1 7.2 0a3.6 3.6 0 1 1 -7.2 0ZM720.4 1092.7a3.6 3.6 0 1 1 7.2 0a3.6 3.6 0 1 1 -7.2 0ZM725.1 1093.1a3.6 3.6 0 1 1 7.2 0a3.6 3.6 0 1 1 -7.2 0ZM731.3 1090.5a3.6 3.6 0 1 1 7.2 0a3.6 3.6 0 1 1 -7.2 0ZM720.8 1094.1a3.6 3.6 0 1 1 7.2 0a3.6 3.6 0 1 1 -7.2 0ZM723 1094.1a3.6 3.6 0 1 1 7.2 0a3.6 3.6 0 1 1 -7.2 0ZM674.6 1068a3.6 3.6 0 1 1 7.2 0a3.6 3.6 0 1 1 -7.2 0ZM677.8 1073.6a3.6 3.6 0 1 1 7.2 0a3.6 3.6 0 1 1 -7.2 0ZM692.2 1075.2a3.6 3.6 0 1 1 7.2 0a3.6 3.6 0 1 1 -7.2 0ZM700.2 1087.2a3.6 3.6 0 1 1 7.2 0a3.6 3.6 0 1 1 -7.2 0ZM697 1096.8a3.6 3.6 0 1 1 7.2 0a3.6 3.6 0 1 1 -7.2 0ZM705.8 1096.8a3.6 3.6 0 1 1 7.2 0a3.6 3.6 0 1 1 -7.2 0ZM709.8 1105.6a3.6 3.6 0 1 1 7.2 0a3.6 3.6 0 1 1 -7.2 0ZM714.6 1102.4a3.6 3.6 0 1 1 7.2 0a3.6 3.6 0 1 1 -7.2 0ZM702.6 1108.8a3.6 3.6 0 1 1 7.2 0a3.6 3.6 0 1 1 -7.2 0ZM699.4 1115.2a3.6 3.6 0 1 1 7.2 0a3.6 3.6 0 1 1 -7.2 0ZM691.4 1116a3.6 3.6 0 1 1 7.2 0a3.6 3.6 0 1 1 -7.2 0ZM711.4 1112.8a3.6 3.6 0 1 1 7.2 0a3.6 3.6 0 1 1 -7.2 0ZM725.8 1104a3.6 3.6 0 1 1 7.2 0a3.6 3.6 0 1 1 -7.2 0ZM728.2 1121.6a3.6 3.6 0 1 1 7.2 0a3.6 3.6 0 1 1 -7.2 0ZM738.6 1128.8a3.6 3.6 0 1 1 7.2 0a3.6 3.6 0 1 1 -7.2 0ZM735.4 1096.8a3.6 3.6 0 1 1 7.2 0a3.6 3.6 0 1 1 -7.2 0ZM743.4 1099.2a3.6 3.6 0 1 1 7.2 0a3.6 3.6 0 1 1 -7.2 0ZM744.2 1103.2a3.6 3.6 0 1 1 7.2 0a3.6 3.6 0 1 1 -7.2 0ZM741.8 1106.4a3.6 3.6 0 1 1 7.2 0a3.6 3.6 0 1 1 -7.2 0ZM749.8 1088a3.6 3.6 0 1 1 7.2 0a3.6 3.6 0 1 1 -7.2 0ZM753.8 1092a3.6 3.6 0 1 1 7.2 0a3.6 3.6 0 1 1 -7.2 0ZM742.6 1078.4a3.6 3.6 0 1 1 7.2 0a3.6 3.6 0 1 1 -7.2 0ZM746.6 1071.2a3.6 3.6 0 1 1 7.2 0a3.6 3.6 0 1 1 -7.2 0ZM749 1068a3.6 3.6 0 1 1 7.2 0a3.6 3.6 0 1 1 -7.2 0ZM717.8 1096a3.6 3.6 0 1 1 7.2 0a3.6 3.6 0 1 1 -7.2 0Z"/></clipPath>
<g clip-path="url(#cc15)">
<ellipse cx="722" cy="1066" rx="18" ry="12" transform="rotate(0 722 1066)" fill="#0f0f0f" filter="url(#b5)"/>
</g>
</g></g>
<g clip-path="url(#clip_B2)"><g filter="url(#cm)">
<path d="M899.4 1056.9a3.6 3.6 0 1 1 7.2 0a3.6 3.6 0 1 1 -7.2 0ZM903.8 1057.1a3.6 3.6 0 1 1 7.2 0a3.6 3.6 0 1 1 -7.2 0ZM912.2 1056.3a3.6 3.6 0 1 1 7.2 0a3.6 3.6 0 1 1 -7.2 0ZM917.8 1057a3.6 3.6 0 1 1 7.2 0a3.6 3.6 0 1 1 -7.2 0ZM897.6 1059.4a3.6 3.6 0 1 1 7.2 0a3.6 3.6 0 1 1 -7.2 0ZM902.1 1060.6a3.6 3.6 0 1 1 7.2 0a3.6 3.6 0 1 1 -7.2 0ZM907.1 1062a3.6 3.6 0 1 1 7.2 0a3.6 3.6 0 1 1 -7.2 0ZM912.6 1059.5a3.6 3.6 0 1 1 7.2 0a3.6 3.6 0 1 1 -7.2 0ZM914.4 1060.1a3.6 3.6 0 1 1 7.2 0a3.6 3.6 0 1 1 -7.2 0ZM922 1060.7a3.6 3.6 0 1 1 7.2 0a3.6 3.6 0 1 1 -7.2 0ZM900.1 1066.3a3.6 3.6 0 1 1 7.2 0a3.6 3.6 0 1 1 -7.2 0ZM904.1 1064.8a3.6 3.6 0 1 1 7.2 0a3.6 3.6 0 1 1 -7.2 0ZM907 1064.9a3.6 3.6 0 1 1 7.2 0a3.6 3.6 0 1 1 -7.2 0ZM912.7 1066.1a3.6 3.6 0 1 1 7.2 0a3.6 3.6 0 1 1 -7.2 0ZM918.6 1065.5a3.6 3.6 0 1 1 7.2 0a3.6 3.6 0 1 1 -7.2 0ZM922 1065.5a3.6 3.6 0 1 1 7.2 0a3.6 3.6 0 1 1 -7.2 0ZM902 1069.1a3.6 3.6 0 1 1 7.2 0a3.6 3.6 0 1 1 -7.2 0ZM905.5 1068.7a3.6 3.6 0 1 1 7.2 0a3.6 3.6 0 1 1 -7.2 0ZM912.6 1068.7a3.6 3.6 0 1 1 7.2 0a3.6 3.6 0 1 1 -7.2 0ZM916.9 1068a3.6 3.6 0 1 1 7.2 0a3.6 3.6 0 1 1 -7.2 0ZM905 1074a3.6 3.6 0 1 1 7.2 0a3.6 3.6 0 1 1 -7.2 0ZM907 1073a3.6 3.6 0 1 1 7.2 0a3.6 3.6 0 1 1 -7.2 0ZM913.5 1072.1a3.6 3.6 0 1 1 7.2 0a3.6 3.6 0 1 1 -7.2 0ZM912.3 1077.5a3.6 3.6 0 1 1 7.2 0a3.6 3.6 0 1 1 -7.2 0ZM894.4 1074.4a3.6 3.6 0 1 1 7.2 0a3.6 3.6 0 1 1 -7.2 0ZM899.8 1081a3.6 3.6 0 1 1 7.2 0a3.6 3.6 0 1 1 -7.2 0ZM908.8 1081.6a3.6 3.6 0 1 1 7.2 0a3.6 3.6 0 1 1 -7.2 0ZM902.8 1076.2a3.6 3.6 0 1 1 7.2 0a3.6 3.6 0 1 1 -7.2 0ZM917.8 1080.4a3.6 3.6 0 1 1 7.2 0a3.6 3.6 0 1 1 -7.2 0ZM923.2 1085.8a3.6 3.6 0 1 1 7.2 0a3.6 3.6 0 1 1 -7.2 0ZM926.2 1079.8a3.6 3.6 0 1 1 7.2 0a3.6 3.6 0 1 1 -7.2 0ZM930.4 1075a3.6 3.6 0 1 1 7.2 0a3.6 3.6 0 1 1 -7.2 0ZM926.8 1072a3.6 3.6 0 1 1 7.2 0a3.6 3.6 0 1 1 -7.2 0ZM931 1065.4a3.6 3.6 0 1 1 7.2 0a3.6 3.6 0 1 1 -7.2 0ZM940 1064.2a3.6 3.6 0 1 1 7.2 0a3.6 3.6 0 1 1 -7.2 0ZM943.6 1073.8a3.6 3.6 0 1 1 7.2 0a3.6 3.6 0 1 1 -7.2 0ZM890.8 1101.4a3.6 3.6 0 1 1 7.2 0a3.6 3.6 0 1 1 -7.2 0ZM912.4 1099a3.6 3.6 0 1 1 7.2 0a3.6 3.6 0 1 1 -7.2 0ZM920.8 1097.2a3.6 3.6 0 1 1 7.2 0a3.6 3.6 0 1 1 -7.2 0ZM918.4 1074.4a3.6 3.6 0 1 1 7.2 0a3.6 3.6 0 1 1 -7.2 0Z" fill="#050505"/>
</g></g>
<g clip-path="url(#clip_B2)"><g filter="url(#cm)">
<path d="M682.6 1469.2L684.4 1442.7L677.6 1433.6L676.2 1431.5L678.9 1430.2L689 1430L695.3 1422.2L696.6 1416.4L701.2 1414.2L710.2 1414.3L718.4 1413.9L724.4 1421.7L734.2 1425L739.3 1429.9L740.8 1443.8L744 1453.3L747.7 1469.1ZM680 1469.8a3.6 3.6 0 1 1 7.2 0a3.6 3.6 0 1 1 -7.2 0ZM680.9 1467.2a3.6 3.6 0 1 1 7.2 0a3.6 3.6 0 1 1 -7.2 0ZM680.9 1462.4a3.6 3.6 0 1 1 7.2 0a3.6 3.6 0 1 1 -7.2 0ZM680.9 1457.6a3.6 3.6 0 1 1 7.2 0a3.6 3.6 0 1 1 -7.2 0ZM680.9 1452.8a3.6 3.6 0 1 1 7.2 0a3.6 3.6 0 1 1 -7.2 0ZM680.9 1448a3.6 3.6 0 1 1 7.2 0a3.6 3.6 0 1 1 -7.2 0ZM680.7 1442.2a3.6 3.6 0 1 1 7.2 0a3.6 3.6 0 1 1 -7.2 0ZM677 1437.3a3.6 3.6 0 1 1 7.2 0a3.6 3.6 0 1 1 -7.2 0ZM674.1 1433.7a3.6 3.6 0 1 1 7.2 0a3.6 3.6 0 1 1 -7.2 0ZM672.6 1431.5a3.6 3.6 0 1 1 7.2 0a3.6 3.6 0 1 1 -7.2 0ZM675.6 1430.1a3.6 3.6 0 1 1 7.2 0a3.6 3.6 0 1 1 -7.2 0ZM679.4 1430.3a3.6 3.6 0 1 1 7.2 0a3.6 3.6 0 1 1 -7.2 0ZM685.4 1430a3.6 3.6 0 1 1 7.2 0a3.6 3.6 0 1 1 -7.2 0ZM689 1425.8a3.6 3.6 0 1 1 7.2 0a3.6 3.6 0 1 1 -7.2 0ZM691.8 1422a3.6 3.6 0 1 1 7.2 0a3.6 3.6 0 1 1 -7.2 0ZM693.2 1416a3.6 3.6 0 1 1 7.2 0a3.6 3.6 0 1 1 -7.2 0ZM695.2 1415.5a3.6 3.6 0 1 1 7.2 0a3.6 3.6 0 1 1 -7.2 0ZM697.6 1414.2a3.6 3.6 0 1 1 7.2 0a3.6 3.6 0 1 1 -7.2 0ZM701.8 1414.3a3.6 3.6 0 1 1 7.2 0a3.6 3.6 0 1 1 -7.2 0ZM706.6 1414.3a3.6 3.6 0 1 1 7.2 0a3.6 3.6 0 1 1 -7.2 0ZM711.4 1414.3a3.6 3.6 0 1 1 7.2 0a3.6 3.6 0 1 1 -7.2 0ZM714.8 1413.9a3.6 3.6 0 1 1 7.2 0a3.6 3.6 0 1 1 -7.2 0ZM717 1417.1a3.6 3.6 0 1 1 7.2 0a3.6 3.6 0 1 1 -7.2 0ZM720.8 1421.7a3.6 3.6 0 1 1 7.2 0a3.6 3.6 0 1 1 -7.2 0ZM726.4 1423.7a3.6 3.6 0 1 1 7.2 0a3.6 3.6 0 1 1 -7.2 0ZM730.6 1425a3.6 3.6 0 1 1 7.2 0a3.6 3.6 0 1 1 -7.2 0ZM733.2 1427.8a3.6 3.6 0 1 1 7.2 0a3.6 3.6 0 1 1 -7.2 0ZM735.8 1430.1a3.6 3.6 0 1 1 7.2 0a3.6 3.6 0 1 1 -7.2 0ZM736.1 1433.9a3.6 3.6 0 1 1 7.2 0a3.6 3.6 0 1 1 -7.2 0ZM736.6 1438.7a3.6 3.6 0 1 1 7.2 0a3.6 3.6 0 1 1 -7.2 0ZM737.2 1443.9a3.6 3.6 0 1 1 7.2 0a3.6 3.6 0 1 1 -7.2 0ZM738.9 1449a3.6 3.6 0 1 1 7.2 0a3.6 3.6 0 1 1 -7.2 0ZM740.4 1453.4a3.6 3.6 0 1 1 7.2 0a3.6 3.6 0 1 1 -7.2 0ZM740.8 1457.9a3.6 3.6 0 1 1 7.2 0a3.6 3.6 0 1 1 -7.2 0ZM741.2 1462.7a3.6 3.6 0 1 1 7.2 0a3.6 3.6 0 1 1 -7.2 0ZM741.6 1467.5a3.6 3.6 0 1 1 7.2 0a3.6 3.6 0 1 1 -7.2 0ZM742.7 1469.9a3.6 3.6 0 1 1 7.2 0a3.6 3.6 0 1 1 -7.2 0ZM740.2 1468.9a3.6 3.6 0 1 1 7.2 0a3.6 3.6 0 1 1 -7.2 0ZM735.4 1468.9a3.6 3.6 0 1 1 7.2 0a3.6 3.6 0 1 1 -7.2 0ZM730.6 1468.9a3.6 3.6 0 1 1 7.2 0a3.6 3.6 0 1 1 -7.2 0ZM725.8 1468.9a3.6 3.6 0 1 1 7.2 0a3.6 3.6 0 1 1 -7.2 0ZM721 1468.9a3.6 3.6 0 1 1 7.2 0a3.6 3.6 0 1 1 -7.2 0ZM716.2 1468.9a3.6 3.6 0 1 1 7.2 0a3.6 3.6 0 1 1 -7.2 0ZM711.4 1468.9a3.6 3.6 0 1 1 7.2 0a3.6 3.6 0 1 1 -7.2 0ZM706.6 1468.9a3.6 3.6 0 1 1 7.2 0a3.6 3.6 0 1 1 -7.2 0ZM701.8 1468.9a3.6 3.6 0 1 1 7.2 0a3.6 3.6 0 1 1 -7.2 0ZM697 1468.9a3.6 3.6 0 1 1 7.2 0a3.6 3.6 0 1 1 -7.2 0ZM692.2 1468.9a3.6 3.6 0 1 1 7.2 0a3.6 3.6 0 1 1 -7.2 0ZM687.4 1468.9a3.6 3.6 0 1 1 7.2 0a3.6 3.6 0 1 1 -7.2 0ZM682.6 1468.9a3.6 3.6 0 1 1 7.2 0a3.6 3.6 0 1 1 -7.2 0ZM634.6 1444a3.6 3.6 0 1 1 7.2 0a3.6 3.6 0 1 1 -7.2 0ZM660.2 1447.2a3.6 3.6 0 1 1 7.2 0a3.6 3.6 0 1 1 -7.2 0ZM661.8 1449.6a3.6 3.6 0 1 1 7.2 0a3.6 3.6 0 1 1 -7.2 0ZM671.4 1448.8a3.6 3.6 0 1 1 7.2 0a3.6 3.6 0 1 1 -7.2 0ZM669 1457.6a3.6 3.6 0 1 1 7.2 0a3.6 3.6 0 1 1 -7.2 0ZM671.4 1410.4a3.6 3.6 0 1 1 7.2 0a3.6 3.6 0 1 1 -7.2 0ZM685 1407.2a3.6 3.6 0 1 1 7.2 0a3.6 3.6 0 1 1 -7.2 0ZM688.2 1384a3.6 3.6 0 1 1 7.2 0a3.6 3.6 0 1 1 -7.2 0ZM706.6 1390.4a3.6 3.6 0 1 1 7.2 0a3.6 3.6 0 1 1 -7.2 0ZM702.6 1399.2a3.6 3.6 0 1 1 7.2 0a3.6 3.6 0 1 1 -7.2 0ZM705.8 1399.2a3.6 3.6 0 1 1 7.2 0a3.6 3.6 0 1 1 -7.2 0ZM697 1408a3.6 3.6 0 1 1 7.2 0a3.6 3.6 0 1 1 -7.2 0ZM711.4 1404.8a3.6 3.6 0 1 1 7.2 0a3.6 3.6 0 1 1 -7.2 0ZM717.8 1403.2a3.6 3.6 0 1 1 7.2 0a3.6 3.6 0 1 1 -7.2 0ZM725.8 1407.2a3.6 3.6 0 1 1 7.2 0a3.6 3.6 0 1 1 -7.2 0ZM727.4 1397.6a3.6 3.6 0 1 1 7.2 0a3.6 3.6 0 1 1 -7.2 0ZM741 1420.5a3.6 3.6 0 1 1 7.2 0a3.6 3.6 0 1 1 -7.2 0ZM737 1431.2a3.6 3.6 0 1 1 7.2 0a3.6 3.6 0 1 1 -7.2 0ZM674.6 1438.4a3.6 3.6 0 1 1 7.2 0a3.6 3.6 0 1 1 -7.2 0ZM741.8 1451.2a3.6 3.6 0 1 1 7.2 0a3.6 3.6 0 1 1 -7.2 0Z" fill="#050505"/>
<clipPath id="cc17"><path d="M682.6 1469.2L684.4 1442.7L677.6 1433.6L676.2 1431.5L678.9 1430.2L689 1430L695.3 1422.2L696.6 1416.4L701.2 1414.2L710.2 1414.3L718.4 1413.9L724.4 1421.7L734.2 1425L739.3 1429.9L740.8 1443.8L744 1453.3L747.7 1469.1ZM680 1469.8a3.6 3.6 0 1 1 7.2 0a3.6 3.6 0 1 1 -7.2 0ZM680.9 1467.2a3.6 3.6 0 1 1 7.2 0a3.6 3.6 0 1 1 -7.2 0ZM680.9 1462.4a3.6 3.6 0 1 1 7.2 0a3.6 3.6 0 1 1 -7.2 0ZM680.9 1457.6a3.6 3.6 0 1 1 7.2 0a3.6 3.6 0 1 1 -7.2 0ZM680.9 1452.8a3.6 3.6 0 1 1 7.2 0a3.6 3.6 0 1 1 -7.2 0ZM680.9 1448a3.6 3.6 0 1 1 7.2 0a3.6 3.6 0 1 1 -7.2 0ZM680.7 1442.2a3.6 3.6 0 1 1 7.2 0a3.6 3.6 0 1 1 -7.2 0ZM677 1437.3a3.6 3.6 0 1 1 7.2 0a3.6 3.6 0 1 1 -7.2 0ZM674.1 1433.7a3.6 3.6 0 1 1 7.2 0a3.6 3.6 0 1 1 -7.2 0ZM672.6 1431.5a3.6 3.6 0 1 1 7.2 0a3.6 3.6 0 1 1 -7.2 0ZM675.6 1430.1a3.6 3.6 0 1 1 7.2 0a3.6 3.6 0 1 1 -7.2 0ZM679.4 1430.3a3.6 3.6 0 1 1 7.2 0a3.6 3.6 0 1 1 -7.2 0ZM685.4 1430a3.6 3.6 0 1 1 7.2 0a3.6 3.6 0 1 1 -7.2 0ZM689 1425.8a3.6 3.6 0 1 1 7.2 0a3.6 3.6 0 1 1 -7.2 0ZM691.8 1422a3.6 3.6 0 1 1 7.2 0a3.6 3.6 0 1 1 -7.2 0ZM693.2 1416a3.6 3.6 0 1 1 7.2 0a3.6 3.6 0 1 1 -7.2 0ZM695.2 1415.5a3.6 3.6 0 1 1 7.2 0a3.6 3.6 0 1 1 -7.2 0ZM697.6 1414.2a3.6 3.6 0 1 1 7.2 0a3.6 3.6 0 1 1 -7.2 0ZM701.8 1414.3a3.6 3.6 0 1 1 7.2 0a3.6 3.6 0 1 1 -7.2 0ZM706.6 1414.3a3.6 3.6 0 1 1 7.2 0a3.6 3.6 0 1 1 -7.2 0ZM711.4 1414.3a3.6 3.6 0 1 1 7.2 0a3.6 3.6 0 1 1 -7.2 0ZM714.8 1413.9a3.6 3.6 0 1 1 7.2 0a3.6 3.6 0 1 1 -7.2 0ZM717 1417.1a3.6 3.6 0 1 1 7.2 0a3.6 3.6 0 1 1 -7.2 0ZM720.8 1421.7a3.6 3.6 0 1 1 7.2 0a3.6 3.6 0 1 1 -7.2 0ZM726.4 1423.7a3.6 3.6 0 1 1 7.2 0a3.6 3.6 0 1 1 -7.2 0ZM730.6 1425a3.6 3.6 0 1 1 7.2 0a3.6 3.6 0 1 1 -7.2 0ZM733.2 1427.8a3.6 3.6 0 1 1 7.2 0a3.6 3.6 0 1 1 -7.2 0ZM735.8 1430.1a3.6 3.6 0 1 1 7.2 0a3.6 3.6 0 1 1 -7.2 0ZM736.1 1433.9a3.6 3.6 0 1 1 7.2 0a3.6 3.6 0 1 1 -7.2 0ZM736.6 1438.7a3.6 3.6 0 1 1 7.2 0a3.6 3.6 0 1 1 -7.2 0ZM737.2 1443.9a3.6 3.6 0 1 1 7.2 0a3.6 3.6 0 1 1 -7.2 0ZM738.9 1449a3.6 3.6 0 1 1 7.2 0a3.6 3.6 0 1 1 -7.2 0ZM740.4 1453.4a3.6 3.6 0 1 1 7.2 0a3.6 3.6 0 1 1 -7.2 0ZM740.8 1457.9a3.6 3.6 0 1 1 7.2 0a3.6 3.6 0 1 1 -7.2 0ZM741.2 1462.7a3.6 3.6 0 1 1 7.2 0a3.6 3.6 0 1 1 -7.2 0ZM741.6 1467.5a3.6 3.6 0 1 1 7.2 0a3.6 3.6 0 1 1 -7.2 0ZM742.7 1469.9a3.6 3.6 0 1 1 7.2 0a3.6 3.6 0 1 1 -7.2 0ZM740.2 1468.9a3.6 3.6 0 1 1 7.2 0a3.6 3.6 0 1 1 -7.2 0ZM735.4 1468.9a3.6 3.6 0 1 1 7.2 0a3.6 3.6 0 1 1 -7.2 0ZM730.6 1468.9a3.6 3.6 0 1 1 7.2 0a3.6 3.6 0 1 1 -7.2 0ZM725.8 1468.9a3.6 3.6 0 1 1 7.2 0a3.6 3.6 0 1 1 -7.2 0ZM721 1468.9a3.6 3.6 0 1 1 7.2 0a3.6 3.6 0 1 1 -7.2 0ZM716.2 1468.9a3.6 3.6 0 1 1 7.2 0a3.6 3.6 0 1 1 -7.2 0ZM711.4 1468.9a3.6 3.6 0 1 1 7.2 0a3.6 3.6 0 1 1 -7.2 0ZM706.6 1468.9a3.6 3.6 0 1 1 7.2 0a3.6 3.6 0 1 1 -7.2 0ZM701.8 1468.9a3.6 3.6 0 1 1 7.2 0a3.6 3.6 0 1 1 -7.2 0ZM697 1468.9a3.6 3.6 0 1 1 7.2 0a3.6 3.6 0 1 1 -7.2 0ZM692.2 1468.9a3.6 3.6 0 1 1 7.2 0a3.6 3.6 0 1 1 -7.2 0ZM687.4 1468.9a3.6 3.6 0 1 1 7.2 0a3.6 3.6 0 1 1 -7.2 0ZM682.6 1468.9a3.6 3.6 0 1 1 7.2 0a3.6 3.6 0 1 1 -7.2 0ZM634.6 1444a3.6 3.6 0 1 1 7.2 0a3.6 3.6 0 1 1 -7.2 0ZM660.2 1447.2a3.6 3.6 0 1 1 7.2 0a3.6 3.6 0 1 1 -7.2 0ZM661.8 1449.6a3.6 3.6 0 1 1 7.2 0a3.6 3.6 0 1 1 -7.2 0ZM671.4 1448.8a3.6 3.6 0 1 1 7.2 0a3.6 3.6 0 1 1 -7.2 0ZM669 1457.6a3.6 3.6 0 1 1 7.2 0a3.6 3.6 0 1 1 -7.2 0ZM671.4 1410.4a3.6 3.6 0 1 1 7.2 0a3.6 3.6 0 1 1 -7.2 0ZM685 1407.2a3.6 3.6 0 1 1 7.2 0a3.6 3.6 0 1 1 -7.2 0ZM688.2 1384a3.6 3.6 0 1 1 7.2 0a3.6 3.6 0 1 1 -7.2 0ZM706.6 1390.4a3.6 3.6 0 1 1 7.2 0a3.6 3.6 0 1 1 -7.2 0ZM702.6 1399.2a3.6 3.6 0 1 1 7.2 0a3.6 3.6 0 1 1 -7.2 0ZM705.8 1399.2a3.6 3.6 0 1 1 7.2 0a3.6 3.6 0 1 1 -7.2 0ZM697 1408a3.6 3.6 0 1 1 7.2 0a3.6 3.6 0 1 1 -7.2 0ZM711.4 1404.8a3.6 3.6 0 1 1 7.2 0a3.6 3.6 0 1 1 -7.2 0ZM717.8 1403.2a3.6 3.6 0 1 1 7.2 0a3.6 3.6 0 1 1 -7.2 0ZM725.8 1407.2a3.6 3.6 0 1 1 7.2 0a3.6 3.6 0 1 1 -7.2 0ZM727.4 1397.6a3.6 3.6 0 1 1 7.2 0a3.6 3.6 0 1 1 -7.2 0ZM741 1420.5a3.6 3.6 0 1 1 7.2 0a3.6 3.6 0 1 1 -7.2 0ZM737 1431.2a3.6 3.6 0 1 1 7.2 0a3.6 3.6 0 1 1 -7.2 0ZM674.6 1438.4a3.6 3.6 0 1 1 7.2 0a3.6 3.6 0 1 1 -7.2 0ZM741.8 1451.2a3.6 3.6 0 1 1 7.2 0a3.6 3.6 0 1 1 -7.2 0Z"/></clipPath>
<g clip-path="url(#cc17)">
<ellipse cx="713" cy="1448" rx="26" ry="22" transform="rotate(0 713 1448)" fill="#212121" filter="url(#b5)"/>
</g>
</g></g>
<g clip-path="url(#clip_B2)"><g filter="url(#cm)">
<path d="M895.4 1465.1L891.3 1452.6L889 1443.5L887.9 1432L888.9 1423.4L891.2 1420.2L898.7 1418.2L905.2 1417.1L913.3 1418.1L919 1412.9L922 1411.1L927.6 1413L931.1 1416L931 1426.9L928.6 1436.5L928.6 1451L927.9 1465.2ZM892.5 1465.5a3.6 3.6 0 1 1 7.2 0a3.6 3.6 0 1 1 -7.2 0ZM891.6 1462a3.6 3.6 0 1 1 7.2 0a3.6 3.6 0 1 1 -7.2 0ZM889.6 1457.2a3.6 3.6 0 1 1 7.2 0a3.6 3.6 0 1 1 -7.2 0ZM887.7 1452.6a3.6 3.6 0 1 1 7.2 0a3.6 3.6 0 1 1 -7.2 0ZM886.6 1448.1a3.6 3.6 0 1 1 7.2 0a3.6 3.6 0 1 1 -7.2 0ZM885.4 1443.5a3.6 3.6 0 1 1 7.2 0a3.6 3.6 0 1 1 -7.2 0ZM885 1439.7a3.6 3.6 0 1 1 7.2 0a3.6 3.6 0 1 1 -7.2 0ZM884.6 1435.7a3.6 3.6 0 1 1 7.2 0a3.6 3.6 0 1 1 -7.2 0ZM884.3 1432.1a3.6 3.6 0 1 1 7.2 0a3.6 3.6 0 1 1 -7.2 0ZM884.8 1427.6a3.6 3.6 0 1 1 7.2 0a3.6 3.6 0 1 1 -7.2 0ZM885.2 1423.6a3.6 3.6 0 1 1 7.2 0a3.6 3.6 0 1 1 -7.2 0ZM887.9 1420a3.6 3.6 0 1 1 7.2 0a3.6 3.6 0 1 1 -7.2 0ZM891 1419.3a3.6 3.6 0 1 1 7.2 0a3.6 3.6 0 1 1 -7.2 0ZM895.1 1418.2a3.6 3.6 0 1 1 7.2 0a3.6 3.6 0 1 1 -7.2 0ZM898.5 1417.6a3.6 3.6 0 1 1 7.2 0a3.6 3.6 0 1 1 -7.2 0ZM901.6 1417.1a3.6 3.6 0 1 1 7.2 0a3.6 3.6 0 1 1 -7.2 0ZM904.7 1417.6a3.6 3.6 0 1 1 7.2 0a3.6 3.6 0 1 1 -7.2 0ZM910.2 1417.9a3.6 3.6 0 1 1 7.2 0a3.6 3.6 0 1 1 -7.2 0ZM915.4 1412.9a3.6 3.6 0 1 1 7.2 0a3.6 3.6 0 1 1 -7.2 0ZM918.8 1411a3.6 3.6 0 1 1 7.2 0a3.6 3.6 0 1 1 -7.2 0ZM921 1412.1a3.6 3.6 0 1 1 7.2 0a3.6 3.6 0 1 1 -7.2 0ZM923.8 1412.9a3.6 3.6 0 1 1 7.2 0a3.6 3.6 0 1 1 -7.2 0ZM927.7 1416.7a3.6 3.6 0 1 1 7.2 0a3.6 3.6 0 1 1 -7.2 0ZM927.3 1419.2a3.6 3.6 0 1 1 7.2 0a3.6 3.6 0 1 1 -7.2 0ZM927.3 1423.2a3.6 3.6 0 1 1 7.2 0a3.6 3.6 0 1 1 -7.2 0ZM927.4 1426.8a3.6 3.6 0 1 1 7.2 0a3.6 3.6 0 1 1 -7.2 0ZM926.2 1431.3a3.6 3.6 0 1 1 7.2 0a3.6 3.6 0 1 1 -7.2 0ZM925 1436.4a3.6 3.6 0 1 1 7.2 0a3.6 3.6 0 1 1 -7.2 0ZM924.9 1441.6a3.6 3.6 0 1 1 7.2 0a3.6 3.6 0 1 1 -7.2 0ZM924.9 1446.4a3.6 3.6 0 1 1 7.2 0a3.6 3.6 0 1 1 -7.2 0ZM925 1451a3.6 3.6 0 1 1 7.2 0a3.6 3.6 0 1 1 -7.2 0ZM924.4 1455a3.6 3.6 0 1 1 7.2 0a3.6 3.6 0 1 1 -7.2 0ZM923.8 1459.2a3.6 3.6 0 1 1 7.2 0a3.6 3.6 0 1 1 -7.2 0ZM923.2 1463.4a3.6 3.6 0 1 1 7.2 0a3.6 3.6 0 1 1 -7.2 0ZM923.8 1465.6a3.6 3.6 0 1 1 7.2 0a3.6 3.6 0 1 1 -7.2 0ZM920.6 1464.9a3.6 3.6 0 1 1 7.2 0a3.6 3.6 0 1 1 -7.2 0ZM915.7 1464.9a3.6 3.6 0 1 1 7.2 0a3.6 3.6 0 1 1 -7.2 0ZM910.7 1464.9a3.6 3.6 0 1 1 7.2 0a3.6 3.6 0 1 1 -7.2 0ZM905.7 1464.9a3.6 3.6 0 1 1 7.2 0a3.6 3.6 0 1 1 -7.2 0ZM900.7 1464.9a3.6 3.6 0 1 1 7.2 0a3.6 3.6 0 1 1 -7.2 0ZM895.8 1464.9a3.6 3.6 0 1 1 7.2 0a3.6 3.6 0 1 1 -7.2 0ZM865 1423.6a3.6 3.6 0 1 1 7.2 0a3.6 3.6 0 1 1 -7.2 0ZM878.2 1429.6a3.6 3.6 0 1 1 7.2 0a3.6 3.6 0 1 1 -7.2 0ZM882.4 1418.8a3.6 3.6 0 1 1 7.2 0a3.6 3.6 0 1 1 -7.2 0ZM877.6 1445.2a3.6 3.6 0 1 1 7.2 0a3.6 3.6 0 1 1 -7.2 0ZM880.6 1452.4a3.6 3.6 0 1 1 7.2 0a3.6 3.6 0 1 1 -7.2 0ZM893.8 1394.8a3.6 3.6 0 1 1 7.2 0a3.6 3.6 0 1 1 -7.2 0ZM896.8 1403.2a3.6 3.6 0 1 1 7.2 0a3.6 3.6 0 1 1 -7.2 0ZM905.2 1405a3.6 3.6 0 1 1 7.2 0a3.6 3.6 0 1 1 -7.2 0ZM912.4 1394.8a3.6 3.6 0 1 1 7.2 0a3.6 3.6 0 1 1 -7.2 0ZM932.2 1415.8a3.6 3.6 0 1 1 7.2 0a3.6 3.6 0 1 1 -7.2 0ZM931.6 1425.4a3.6 3.6 0 1 1 7.2 0a3.6 3.6 0 1 1 -7.2 0ZM937 1432a3.6 3.6 0 1 1 7.2 0a3.6 3.6 0 1 1 -7.2 0ZM942.4 1435.6a3.6 3.6 0 1 1 7.2 0a3.6 3.6 0 1 1 -7.2 0ZM932.2 1437.4a3.6 3.6 0 1 1 7.2 0a3.6 3.6 0 1 1 -7.2 0ZM947.8 1442.8a3.6 3.6 0 1 1 7.2 0a3.6 3.6 0 1 1 -7.2 0ZM945.4 1446.4a3.6 3.6 0 1 1 7.2 0a3.6 3.6 0 1 1 -7.2 0ZM949 1454.8a3.6 3.6 0 1 1 7.2 0a3.6 3.6 0 1 1 -7.2 0ZM936.4 1450a3.6 3.6 0 1 1 7.2 0a3.6 3.6 0 1 1 -7.2 0ZM935.8 1458.4a3.6 3.6 0 1 1 7.2 0a3.6 3.6 0 1 1 -7.2 0ZM895.6 1397.2a3.6 3.6 0 1 1 7.2 0a3.6 3.6 0 1 1 -7.2 0ZM908.8 1409.2a3.6 3.6 0 1 1 7.2 0a3.6 3.6 0 1 1 -7.2 0ZM923.2 1410.4a3.6 3.6 0 1 1 7.2 0a3.6 3.6 0 1 1 -7.2 0Z" fill="#050505"/>
<clipPath id="cc18"><path d="M895.4 1465.1L891.3 1452.6L889 1443.5L887.9 1432L888.9 1423.4L891.2 1420.2L898.7 1418.2L905.2 1417.1L913.3 1418.1L919 1412.9L922 1411.1L927.6 1413L931.1 1416L931 1426.9L928.6 1436.5L928.6 1451L927.9 1465.2ZM892.5 1465.5a3.6 3.6 0 1 1 7.2 0a3.6 3.6 0 1 1 -7.2 0ZM891.6 1462a3.6 3.6 0 1 1 7.2 0a3.6 3.6 0 1 1 -7.2 0ZM889.6 1457.2a3.6 3.6 0 1 1 7.2 0a3.6 3.6 0 1 1 -7.2 0ZM887.7 1452.6a3.6 3.6 0 1 1 7.2 0a3.6 3.6 0 1 1 -7.2 0ZM886.6 1448.1a3.6 3.6 0 1 1 7.2 0a3.6 3.6 0 1 1 -7.2 0ZM885.4 1443.5a3.6 3.6 0 1 1 7.2 0a3.6 3.6 0 1 1 -7.2 0ZM885 1439.7a3.6 3.6 0 1 1 7.2 0a3.6 3.6 0 1 1 -7.2 0ZM884.6 1435.7a3.6 3.6 0 1 1 7.2 0a3.6 3.6 0 1 1 -7.2 0ZM884.3 1432.1a3.6 3.6 0 1 1 7.2 0a3.6 3.6 0 1 1 -7.2 0ZM884.8 1427.6a3.6 3.6 0 1 1 7.2 0a3.6 3.6 0 1 1 -7.2 0ZM885.2 1423.6a3.6 3.6 0 1 1 7.2 0a3.6 3.6 0 1 1 -7.2 0ZM887.9 1420a3.6 3.6 0 1 1 7.2 0a3.6 3.6 0 1 1 -7.2 0ZM891 1419.3a3.6 3.6 0 1 1 7.2 0a3.6 3.6 0 1 1 -7.2 0ZM895.1 1418.2a3.6 3.6 0 1 1 7.2 0a3.6 3.6 0 1 1 -7.2 0ZM898.5 1417.6a3.6 3.6 0 1 1 7.2 0a3.6 3.6 0 1 1 -7.2 0ZM901.6 1417.1a3.6 3.6 0 1 1 7.2 0a3.6 3.6 0 1 1 -7.2 0ZM904.7 1417.6a3.6 3.6 0 1 1 7.2 0a3.6 3.6 0 1 1 -7.2 0ZM910.2 1417.9a3.6 3.6 0 1 1 7.2 0a3.6 3.6 0 1 1 -7.2 0ZM915.4 1412.9a3.6 3.6 0 1 1 7.2 0a3.6 3.6 0 1 1 -7.2 0ZM918.8 1411a3.6 3.6 0 1 1 7.2 0a3.6 3.6 0 1 1 -7.2 0ZM921 1412.1a3.6 3.6 0 1 1 7.2 0a3.6 3.6 0 1 1 -7.2 0ZM923.8 1412.9a3.6 3.6 0 1 1 7.2 0a3.6 3.6 0 1 1 -7.2 0ZM927.7 1416.7a3.6 3.6 0 1 1 7.2 0a3.6 3.6 0 1 1 -7.2 0ZM927.3 1419.2a3.6 3.6 0 1 1 7.2 0a3.6 3.6 0 1 1 -7.2 0ZM927.3 1423.2a3.6 3.6 0 1 1 7.2 0a3.6 3.6 0 1 1 -7.2 0ZM927.4 1426.8a3.6 3.6 0 1 1 7.2 0a3.6 3.6 0 1 1 -7.2 0ZM926.2 1431.3a3.6 3.6 0 1 1 7.2 0a3.6 3.6 0 1 1 -7.2 0ZM925 1436.4a3.6 3.6 0 1 1 7.2 0a3.6 3.6 0 1 1 -7.2 0ZM924.9 1441.6a3.6 3.6 0 1 1 7.2 0a3.6 3.6 0 1 1 -7.2 0ZM924.9 1446.4a3.6 3.6 0 1 1 7.2 0a3.6 3.6 0 1 1 -7.2 0ZM925 1451a3.6 3.6 0 1 1 7.2 0a3.6 3.6 0 1 1 -7.2 0ZM924.4 1455a3.6 3.6 0 1 1 7.2 0a3.6 3.6 0 1 1 -7.2 0ZM923.8 1459.2a3.6 3.6 0 1 1 7.2 0a3.6 3.6 0 1 1 -7.2 0ZM923.2 1463.4a3.6 3.6 0 1 1 7.2 0a3.6 3.6 0 1 1 -7.2 0ZM923.8 1465.6a3.6 3.6 0 1 1 7.2 0a3.6 3.6 0 1 1 -7.2 0ZM920.6 1464.9a3.6 3.6 0 1 1 7.2 0a3.6 3.6 0 1 1 -7.2 0ZM915.7 1464.9a3.6 3.6 0 1 1 7.2 0a3.6 3.6 0 1 1 -7.2 0ZM910.7 1464.9a3.6 3.6 0 1 1 7.2 0a3.6 3.6 0 1 1 -7.2 0ZM905.7 1464.9a3.6 3.6 0 1 1 7.2 0a3.6 3.6 0 1 1 -7.2 0ZM900.7 1464.9a3.6 3.6 0 1 1 7.2 0a3.6 3.6 0 1 1 -7.2 0ZM895.8 1464.9a3.6 3.6 0 1 1 7.2 0a3.6 3.6 0 1 1 -7.2 0ZM865 1423.6a3.6 3.6 0 1 1 7.2 0a3.6 3.6 0 1 1 -7.2 0ZM878.2 1429.6a3.6 3.6 0 1 1 7.2 0a3.6 3.6 0 1 1 -7.2 0ZM882.4 1418.8a3.6 3.6 0 1 1 7.2 0a3.6 3.6 0 1 1 -7.2 0ZM877.6 1445.2a3.6 3.6 0 1 1 7.2 0a3.6 3.6 0 1 1 -7.2 0ZM880.6 1452.4a3.6 3.6 0 1 1 7.2 0a3.6 3.6 0 1 1 -7.2 0ZM893.8 1394.8a3.6 3.6 0 1 1 7.2 0a3.6 3.6 0 1 1 -7.2 0ZM896.8 1403.2a3.6 3.6 0 1 1 7.2 0a3.6 3.6 0 1 1 -7.2 0ZM905.2 1405a3.6 3.6 0 1 1 7.2 0a3.6 3.6 0 1 1 -7.2 0ZM912.4 1394.8a3.6 3.6 0 1 1 7.2 0a3.6 3.6 0 1 1 -7.2 0ZM932.2 1415.8a3.6 3.6 0 1 1 7.2 0a3.6 3.6 0 1 1 -7.2 0ZM931.6 1425.4a3.6 3.6 0 1 1 7.2 0a3.6 3.6 0 1 1 -7.2 0ZM937 1432a3.6 3.6 0 1 1 7.2 0a3.6 3.6 0 1 1 -7.2 0ZM942.4 1435.6a3.6 3.6 0 1 1 7.2 0a3.6 3.6 0 1 1 -7.2 0ZM932.2 1437.4a3.6 3.6 0 1 1 7.2 0a3.6 3.6 0 1 1 -7.2 0ZM947.8 1442.8a3.6 3.6 0 1 1 7.2 0a3.6 3.6 0 1 1 -7.2 0ZM945.4 1446.4a3.6 3.6 0 1 1 7.2 0a3.6 3.6 0 1 1 -7.2 0ZM949 1454.8a3.6 3.6 0 1 1 7.2 0a3.6 3.6 0 1 1 -7.2 0ZM936.4 1450a3.6 3.6 0 1 1 7.2 0a3.6 3.6 0 1 1 -7.2 0ZM935.8 1458.4a3.6 3.6 0 1 1 7.2 0a3.6 3.6 0 1 1 -7.2 0ZM895.6 1397.2a3.6 3.6 0 1 1 7.2 0a3.6 3.6 0 1 1 -7.2 0ZM908.8 1409.2a3.6 3.6 0 1 1 7.2 0a3.6 3.6 0 1 1 -7.2 0ZM923.2 1410.4a3.6 3.6 0 1 1 7.2 0a3.6 3.6 0 1 1 -7.2 0Z"/></clipPath>
<g clip-path="url(#cc18)">
<ellipse cx="908" cy="1443" rx="18" ry="17" transform="rotate(0 908 1443)" fill="#1c1c1c" filter="url(#b4)"/>
</g>
</g></g>
<g clip-path="url(#clip_B3)"><g filter="url(#cm)">
<path d="M205.3 1481.2a3.6 3.6 0 1 1 7.2 0a3.6 3.6 0 1 1 -7.2 0ZM214.2 1480.9a3.6 3.6 0 1 1 7.2 0a3.6 3.6 0 1 1 -7.2 0ZM218.7 1479.6a3.6 3.6 0 1 1 7.2 0a3.6 3.6 0 1 1 -7.2 0ZM232.8 1480.8a3.6 3.6 0 1 1 7.2 0a3.6 3.6 0 1 1 -7.2 0ZM238.1 1480a3.6 3.6 0 1 1 7.2 0a3.6 3.6 0 1 1 -7.2 0ZM241.1 1479.8a3.6 3.6 0 1 1 7.2 0a3.6 3.6 0 1 1 -7.2 0ZM250.4 1479.7a3.6 3.6 0 1 1 7.2 0a3.6 3.6 0 1 1 -7.2 0ZM258.3 1480.3a3.6 3.6 0 1 1 7.2 0a3.6 3.6 0 1 1 -7.2 0ZM263.5 1480.8a3.6 3.6 0 1 1 7.2 0a3.6 3.6 0 1 1 -7.2 0ZM269.6 1479.5a3.6 3.6 0 1 1 7.2 0a3.6 3.6 0 1 1 -7.2 0ZM273.3 1480.8a3.6 3.6 0 1 1 7.2 0a3.6 3.6 0 1 1 -7.2 0ZM284 1480.4a3.6 3.6 0 1 1 7.2 0a3.6 3.6 0 1 1 -7.2 0ZM289.9 1480.6a3.6 3.6 0 1 1 7.2 0a3.6 3.6 0 1 1 -7.2 0ZM296.2 1481a3.6 3.6 0 1 1 7.2 0a3.6 3.6 0 1 1 -7.2 0ZM207.9 1484.7a3.6 3.6 0 1 1 7.2 0a3.6 3.6 0 1 1 -7.2 0ZM212.8 1482.3a3.6 3.6 0 1 1 7.2 0a3.6 3.6 0 1 1 -7.2 0ZM216.4 1485.7a3.6 3.6 0 1 1 7.2 0a3.6 3.6 0 1 1 -7.2 0ZM224.3 1483.4a3.6 3.6 0 1 1 7.2 0a3.6 3.6 0 1 1 -7.2 0ZM227.8 1484.7a3.6 3.6 0 1 1 7.2 0a3.6 3.6 0 1 1 -7.2 0ZM235.5 1484.4a3.6 3.6 0 1 1 7.2 0a3.6 3.6 0 1 1 -7.2 0ZM239 1483.2a3.6 3.6 0 1 1 7.2 0a3.6 3.6 0 1 1 -7.2 0ZM244.2 1483.2a3.6 3.6 0 1 1 7.2 0a3.6 3.6 0 1 1 -7.2 0ZM247.9 1483.5a3.6 3.6 0 1 1 7.2 0a3.6 3.6 0 1 1 -7.2 0ZM254.3 1484.9a3.6 3.6 0 1 1 7.2 0a3.6 3.6 0 1 1 -7.2 0ZM259.2 1485.9a3.6 3.6 0 1 1 7.2 0a3.6 3.6 0 1 1 -7.2 0ZM267 1482.7a3.6 3.6 0 1 1 7.2 0a3.6 3.6 0 1 1 -7.2 0ZM270 1484.4a3.6 3.6 0 1 1 7.2 0a3.6 3.6 0 1 1 -7.2 0ZM277.7 1484.2a3.6 3.6 0 1 1 7.2 0a3.6 3.6 0 1 1 -7.2 0ZM283.2 1484.4a3.6 3.6 0 1 1 7.2 0a3.6 3.6 0 1 1 -7.2 0ZM288 1483.7a3.6 3.6 0 1 1 7.2 0a3.6 3.6 0 1 1 -7.2 0ZM291.1 1485.7a3.6 3.6 0 1 1 7.2 0a3.6 3.6 0 1 1 -7.2 0ZM295.5 1482.7a3.6 3.6 0 1 1 7.2 0a3.6 3.6 0 1 1 -7.2 0ZM303.5 1482.3a3.6 3.6 0 1 1 7.2 0a3.6 3.6 0 1 1 -7.2 0ZM204 1488.8a3.6 3.6 0 1 1 7.2 0a3.6 3.6 0 1 1 -7.2 0ZM208.4 1490.1a3.6 3.6 0 1 1 7.2 0a3.6 3.6 0 1 1 -7.2 0ZM214.5 1487.3a3.6 3.6 0 1 1 7.2 0a3.6 3.6 0 1 1 -7.2 0ZM220.4 1489.6a3.6 3.6 0 1 1 7.2 0a3.6 3.6 0 1 1 -7.2 0ZM224.8 1487a3.6 3.6 0 1 1 7.2 0a3.6 3.6 0 1 1 -7.2 0ZM231.7 1487.9a3.6 3.6 0 1 1 7.2 0a3.6 3.6 0 1 1 -7.2 0ZM237.5 1487.9a3.6 3.6 0 1 1 7.2 0a3.6 3.6 0 1 1 -7.2 0ZM240.8 1489.8a3.6 3.6 0 1 1 7.2 0a3.6 3.6 0 1 1 -7.2 0ZM248.2 1490.5a3.6 3.6 0 1 1 7.2 0a3.6 3.6 0 1 1 -7.2 0ZM252.6 1487.4a3.6 3.6 0 1 1 7.2 0a3.6 3.6 0 1 1 -7.2 0ZM258.5 1487.3a3.6 3.6 0 1 1 7.2 0a3.6 3.6 0 1 1 -7.2 0ZM263.1 1487.2a3.6 3.6 0 1 1 7.2 0a3.6 3.6 0 1 1 -7.2 0ZM267.2 1490.1a3.6 3.6 0 1 1 7.2 0a3.6 3.6 0 1 1 -7.2 0ZM273 1488.4a3.6 3.6 0 1 1 7.2 0a3.6 3.6 0 1 1 -7.2 0ZM277.8 1489.4a3.6 3.6 0 1 1 7.2 0a3.6 3.6 0 1 1 -7.2 0ZM284.5 1487.4a3.6 3.6 0 1 1 7.2 0a3.6 3.6 0 1 1 -7.2 0ZM287.8 1487.7a3.6 3.6 0 1 1 7.2 0a3.6 3.6 0 1 1 -7.2 0ZM295.1 1488.9a3.6 3.6 0 1 1 7.2 0a3.6 3.6 0 1 1 -7.2 0ZM300.6 1489.9a3.6 3.6 0 1 1 7.2 0a3.6 3.6 0 1 1 -7.2 0ZM303.5 1488a3.6 3.6 0 1 1 7.2 0a3.6 3.6 0 1 1 -7.2 0ZM207.8 1493.9a3.6 3.6 0 1 1 7.2 0a3.6 3.6 0 1 1 -7.2 0ZM212.1 1492.9a3.6 3.6 0 1 1 7.2 0a3.6 3.6 0 1 1 -7.2 0ZM219 1491.7a3.6 3.6 0 1 1 7.2 0a3.6 3.6 0 1 1 -7.2 0ZM223.5 1491.4a3.6 3.6 0 1 1 7.2 0a3.6 3.6 0 1 1 -7.2 0ZM229.9 1491.9a3.6 3.6 0 1 1 7.2 0a3.6 3.6 0 1 1 -7.2 0ZM232.2 1493.4a3.6 3.6 0 1 1 7.2 0a3.6 3.6 0 1 1 -7.2 0ZM237.2 1493.7a3.6 3.6 0 1 1 7.2 0a3.6 3.6 0 1 1 -7.2 0ZM245 1491.8a3.6 3.6 0 1 1 7.2 0a3.6 3.6 0 1 1 -7.2 0ZM249.9 1492.9a3.6 3.6 0 1 1 7.2 0a3.6 3.6 0 1 1 -7.2 0ZM253.7 1495a3.6 3.6 0 1 1 7.2 0a3.6 3.6 0 1 1 -7.2 0ZM258.6 1493.9a3.6 3.6 0 1 1 7.2 0a3.6 3.6 0 1 1 -7.2 0ZM266.1 1491.4a3.6 3.6 0 1 1 7.2 0a3.6 3.6 0 1 1 -7.2 0ZM270.9 1492.7a3.6 3.6 0 1 1 7.2 0a3.6 3.6 0 1 1 -7.2 0ZM275.3 1493.5a3.6 3.6 0 1 1 7.2 0a3.6 3.6 0 1 1 -7.2 0ZM281.9 1494.4a3.6 3.6 0 1 1 7.2 0a3.6 3.6 0 1 1 -7.2 0ZM286.3 1493.9a3.6 3.6 0 1 1 7.2 0a3.6 3.6 0 1 1 -7.2 0ZM292.8 1494.7a3.6 3.6 0 1 1 7.2 0a3.6 3.6 0 1 1 -7.2 0ZM297.5 1493.5a3.6 3.6 0 1 1 7.2 0a3.6 3.6 0 1 1 -7.2 0ZM300.8 1493a3.6 3.6 0 1 1 7.2 0a3.6 3.6 0 1 1 -7.2 0ZM203.3 1498.7a3.6 3.6 0 1 1 7.2 0a3.6 3.6 0 1 1 -7.2 0ZM211.4 1499a3.6 3.6 0 1 1 7.2 0a3.6 3.6 0 1 1 -7.2 0ZM213.6 1497.7a3.6 3.6 0 1 1 7.2 0a3.6 3.6 0 1 1 -7.2 0ZM220.7 1499.6a3.6 3.6 0 1 1 7.2 0a3.6 3.6 0 1 1 -7.2 0ZM225.4 1496.1a3.6 3.6 0 1 1 7.2 0a3.6 3.6 0 1 1 -7.2 0ZM232.2 1499.1a3.6 3.6 0 1 1 7.2 0a3.6 3.6 0 1 1 -7.2 0ZM237.9 1498.1a3.6 3.6 0 1 1 7.2 0a3.6 3.6 0 1 1 -7.2 0ZM242.1 1498.4a3.6 3.6 0 1 1 7.2 0a3.6 3.6 0 1 1 -7.2 0ZM248.7 1496.7a3.6 3.6 0 1 1 7.2 0a3.6 3.6 0 1 1 -7.2 0ZM254 1498.7a3.6 3.6 0 1 1 7.2 0a3.6 3.6 0 1 1 -7.2 0ZM259.4 1496.1a3.6 3.6 0 1 1 7.2 0a3.6 3.6 0 1 1 -7.2 0ZM263.5 1497a3.6 3.6 0 1 1 7.2 0a3.6 3.6 0 1 1 -7.2 0ZM267.9 1497.6a3.6 3.6 0 1 1 7.2 0a3.6 3.6 0 1 1 -7.2 0ZM272.7 1496.2a3.6 3.6 0 1 1 7.2 0a3.6 3.6 0 1 1 -7.2 0ZM277.2 1496.4a3.6 3.6 0 1 1 7.2 0a3.6 3.6 0 1 1 -7.2 0ZM284.2 1498.4a3.6 3.6 0 1 1 7.2 0a3.6 3.6 0 1 1 -7.2 0ZM289.8 1498.3a3.6 3.6 0 1 1 7.2 0a3.6 3.6 0 1 1 -7.2 0ZM293.9 1498.2a3.6 3.6 0 1 1 7.2 0a3.6 3.6 0 1 1 -7.2 0ZM298.3 1496.9a3.6 3.6 0 1 1 7.2 0a3.6 3.6 0 1 1 -7.2 0ZM303.8 1497.9a3.6 3.6 0 1 1 7.2 0a3.6 3.6 0 1 1 -7.2 0ZM311 1499.5a3.6 3.6 0 1 1 7.2 0a3.6 3.6 0 1 1 -7.2 0ZM203.3 1501.9a3.6 3.6 0 1 1 7.2 0a3.6 3.6 0 1 1 -7.2 0ZM205.7 1501.7a3.6 3.6 0 1 1 7.2 0a3.6 3.6 0 1 1 -7.2 0ZM211.5 1504.1a3.6 3.6 0 1 1 7.2 0a3.6 3.6 0 1 1 -7.2 0ZM219 1502.6a3.6 3.6 0 1 1 7.2 0a3.6 3.6 0 1 1 -7.2 0ZM224.4 1502a3.6 3.6 0 1 1 7.2 0a3.6 3.6 0 1 1 -7.2 0ZM226.7 1502.7a3.6 3.6 0 1 1 7.2 0a3.6 3.6 0 1 1 -7.2 0ZM232.6 1501a3.6 3.6 0 1 1 7.2 0a3.6 3.6 0 1 1 -7.2 0ZM238.3 1501.7a3.6 3.6 0 1 1 7.2 0a3.6 3.6 0 1 1 -7.2 0ZM243.5 1501.3a3.6 3.6 0 1 1 7.2 0a3.6 3.6 0 1 1 -7.2 0ZM251.3 1501.2a3.6 3.6 0 1 1 7.2 0a3.6 3.6 0 1 1 -7.2 0ZM254 1503a3.6 3.6 0 1 1 7.2 0a3.6 3.6 0 1 1 -7.2 0ZM260.4 1502.5a3.6 3.6 0 1 1 7.2 0a3.6 3.6 0 1 1 -7.2 0ZM264.7 1503a3.6 3.6 0 1 1 7.2 0a3.6 3.6 0 1 1 -7.2 0ZM269 1502.6a3.6 3.6 0 1 1 7.2 0a3.6 3.6 0 1 1 -7.2 0ZM277.3 1503.8a3.6 3.6 0 1 1 7.2 0a3.6 3.6 0 1 1 -7.2 0ZM281.2 1502.2a3.6 3.6 0 1 1 7.2 0a3.6 3.6 0 1 1 -7.2 0ZM286.9 1503.1a3.6 3.6 0 1 1 7.2 0a3.6 3.6 0 1 1 -7.2 0ZM290.9 1503.8a3.6 3.6 0 1 1 7.2 0a3.6 3.6 0 1 1 -7.2 0ZM296.1 1502.4a3.6 3.6 0 1 1 7.2 0a3.6 3.6 0 1 1 -7.2 0ZM301.7 1504a3.6 3.6 0 1 1 7.2 0a3.6 3.6 0 1 1 -7.2 0ZM308 1501.2a3.6 3.6 0 1 1 7.2 0a3.6 3.6 0 1 1 -7.2 0ZM314 1501.9a3.6 3.6 0 1 1 7.2 0a3.6 3.6 0 1 1 -7.2 0ZM203.5 1508.8a3.6 3.6 0 1 1 7.2 0a3.6 3.6 0 1 1 -7.2 0ZM210 1506.8a3.6 3.6 0 1 1 7.2 0a3.6 3.6 0 1 1 -7.2 0ZM215.6 1507.5a3.6 3.6 0 1 1 7.2 0a3.6 3.6 0 1 1 -7.2 0ZM221.2 1505.6a3.6 3.6 0 1 1 7.2 0a3.6 3.6 0 1 1 -7.2 0ZM227.2 1506.9a3.6 3.6 0 1 1 7.2 0a3.6 3.6 0 1 1 -7.2 0ZM231.8 1505.9a3.6 3.6 0 1 1 7.2 0a3.6 3.6 0 1 1 -7.2 0ZM237.2 1505.7a3.6 3.6 0 1 1 7.2 0a3.6 3.6 0 1 1 -7.2 0ZM243.2 1506.3a3.6 3.6 0 1 1 7.2 0a3.6 3.6 0 1 1 -7.2 0ZM246.2 1505.8a3.6 3.6 0 1 1 7.2 0a3.6 3.6 0 1 1 -7.2 0ZM252.2 1505.7a3.6 3.6 0 1 1 7.2 0a3.6 3.6 0 1 1 -7.2 0ZM257.8 1506.6a3.6 3.6 0 1 1 7.2 0a3.6 3.6 0 1 1 -7.2 0ZM263 1505.9a3.6 3.6 0 1 1 7.2 0a3.6 3.6 0 1 1 -7.2 0ZM268.8 1505.4a3.6 3.6 0 1 1 7.2 0a3.6 3.6 0 1 1 -7.2 0ZM271.9 1508.4a3.6 3.6 0 1 1 7.2 0a3.6 3.6 0 1 1 -7.2 0ZM278.1 1507.7a3.6 3.6 0 1 1 7.2 0a3.6 3.6 0 1 1 -7.2 0ZM285.7 1505.7a3.6 3.6 0 1 1 7.2 0a3.6 3.6 0 1 1 -7.2 0ZM291 1505.7a3.6 3.6 0 1 1 7.2 0a3.6 3.6 0 1 1 -7.2 0ZM293.9 1506.9a3.6 3.6 0 1 1 7.2 0a3.6 3.6 0 1 1 -7.2 0ZM299 1508.9a3.6 3.6 0 1 1 7.2 0a3.6 3.6 0 1 1 -7.2 0ZM304 1505.3a3.6 3.6 0 1 1 7.2 0a3.6 3.6 0 1 1 -7.2 0ZM309.1 1508.1a3.6 3.6 0 1 1 7.2 0a3.6 3.6 0 1 1 -7.2 0ZM316.9 1506.5a3.6 3.6 0 1 1 7.2 0a3.6 3.6 0 1 1 -7.2 0ZM200.4 1512.8a3.6 3.6 0 1 1 7.2 0a3.6 3.6 0 1 1 -7.2 0ZM208.6 1512.8a3.6 3.6 0 1 1 7.2 0a3.6 3.6 0 1 1 -7.2 0ZM211.7 1511.9a3.6 3.6 0 1 1 7.2 0a3.6 3.6 0 1 1 -7.2 0ZM217.7 1510.1a3.6 3.6 0 1 1 7.2 0a3.6 3.6 0 1 1 -7.2 0ZM222.5 1511.4a3.6 3.6 0 1 1 7.2 0a3.6 3.6 0 1 1 -7.2 0ZM227.1 1511.2a3.6 3.6 0 1 1 7.2 0a3.6 3.6 0 1 1 -7.2 0ZM232.6 1510.5a3.6 3.6 0 1 1 7.2 0a3.6 3.6 0 1 1 -7.2 0ZM240.8 1511.4a3.6 3.6 0 1 1 7.2 0a3.6 3.6 0 1 1 -7.2 0ZM244.5 1510a3.6 3.6 0 1 1 7.2 0a3.6 3.6 0 1 1 -7.2 0ZM248 1510.4a3.6 3.6 0 1 1 7.2 0a3.6 3.6 0 1 1 -7.2 0ZM255.3 1512.8a3.6 3.6 0 1 1 7.2 0a3.6 3.6 0 1 1 -7.2 0ZM260.9 1511.5a3.6 3.6 0 1 1 7.2 0a3.6 3.6 0 1 1 -7.2 0ZM266.8 1512.5a3.6 3.6 0 1 1 7.2 0a3.6 3.6 0 1 1 -7.2 0ZM271.1 1513.4a3.6 3.6 0 1 1 7.2 0a3.6 3.6 0 1 1 -7.2 0ZM277 1510.8a3.6 3.6 0 1 1 7.2 0a3.6 3.6 0 1 1 -7.2 0ZM281 1509.8a3.6 3.6 0 1 1 7.2 0a3.6 3.6 0 1 1 -7.2 0ZM285.3 1510.6a3.6 3.6 0 1 1 7.2 0a3.6 3.6 0 1 1 -7.2 0ZM293 1512.7a3.6 3.6 0 1 1 7.2 0a3.6 3.6 0 1 1 -7.2 0ZM297 1510.1a3.6 3.6 0 1 1 7.2 0a3.6 3.6 0 1 1 -7.2 0ZM303.8 1511.9a3.6 3.6 0 1 1 7.2 0a3.6 3.6 0 1 1 -7.2 0ZM309.2 1511.8a3.6 3.6 0 1 1 7.2 0a3.6 3.6 0 1 1 -7.2 0ZM314.4 1512.8a3.6 3.6 0 1 1 7.2 0a3.6 3.6 0 1 1 -7.2 0ZM320.1 1510.5a3.6 3.6 0 1 1 7.2 0a3.6 3.6 0 1 1 -7.2 0ZM200.8 1518a3.6 3.6 0 1 1 7.2 0a3.6 3.6 0 1 1 -7.2 0ZM204.3 1516.6a3.6 3.6 0 1 1 7.2 0a3.6 3.6 0 1 1 -7.2 0ZM211.7 1516.5a3.6 3.6 0 1 1 7.2 0a3.6 3.6 0 1 1 -7.2 0ZM215.7 1515a3.6 3.6 0 1 1 7.2 0a3.6 3.6 0 1 1 -7.2 0ZM222.2 1518a3.6 3.6 0 1 1 7.2 0a3.6 3.6 0 1 1 -7.2 0ZM226.9 1516.7a3.6 3.6 0 1 1 7.2 0a3.6 3.6 0 1 1 -7.2 0ZM232.3 1517a3.6 3.6 0 1 1 7.2 0a3.6 3.6 0 1 1 -7.2 0ZM235.6 1517.3a3.6 3.6 0 1 1 7.2 0a3.6 3.6 0 1 1 -7.2 0ZM242.8 1515.4a3.6 3.6 0 1 1 7.2 0a3.6 3.6 0 1 1 -7.2 0ZM248.6 1517.1a3.6 3.6 0 1 1 7.2 0a3.6 3.6 0 1 1 -7.2 0ZM250.5 1518a3.6 3.6 0 1 1 7.2 0a3.6 3.6 0 1 1 -7.2 0ZM256.5 1516a3.6 3.6 0 1 1 7.2 0a3.6 3.6 0 1 1 -7.2 0ZM263.6 1515.6a3.6 3.6 0 1 1 7.2 0a3.6 3.6 0 1 1 -7.2 0ZM269.8 1515.8a3.6 3.6 0 1 1 7.2 0a3.6 3.6 0 1 1 -7.2 0ZM272.3 1515.4a3.6 3.6 0 1 1 7.2 0a3.6 3.6 0 1 1 -7.2 0ZM279.6 1514.7a3.6 3.6 0 1 1 7.2 0a3.6 3.6 0 1 1 -7.2 0ZM284.2 1517.8a3.6 3.6 0 1 1 7.2 0a3.6 3.6 0 1 1 -7.2 0ZM289.5 1515.4a3.6 3.6 0 1 1 7.2 0a3.6 3.6 0 1 1 -7.2 0ZM293.3 1517.1a3.6 3.6 0 1 1 7.2 0a3.6 3.6 0 1 1 -7.2 0ZM299.8 1514.5a3.6 3.6 0 1 1 7.2 0a3.6 3.6 0 1 1 -7.2 0ZM306.6 1514.8a3.6 3.6 0 1 1 7.2 0a3.6 3.6 0 1 1 -7.2 0ZM312.3 1515.6a3.6 3.6 0 1 1 7.2 0a3.6 3.6 0 1 1 -7.2 0ZM315.5 1516.9a3.6 3.6 0 1 1 7.2 0a3.6 3.6 0 1 1 -7.2 0ZM196.1 1519a3.6 3.6 0 1 1 7.2 0a3.6 3.6 0 1 1 -7.2 0ZM200.5 1521.9a3.6 3.6 0 1 1 7.2 0a3.6 3.6 0 1 1 -7.2 0ZM207.9 1521.7a3.6 3.6 0 1 1 7.2 0a3.6 3.6 0 1 1 -7.2 0ZM211.3 1521.3a3.6 3.6 0 1 1 7.2 0a3.6 3.6 0 1 1 -7.2 0ZM217.8 1519.9a3.6 3.6 0 1 1 7.2 0a3.6 3.6 0 1 1 -7.2 0ZM224.4 1521a3.6 3.6 0 1 1 7.2 0a3.6 3.6 0 1 1 -7.2 0ZM227.4 1522.5a3.6 3.6 0 1 1 7.2 0a3.6 3.6 0 1 1 -7.2 0ZM235.3 1519.9a3.6 3.6 0 1 1 7.2 0a3.6 3.6 0 1 1 -7.2 0ZM238.2 1520.3a3.6 3.6 0 1 1 7.2 0a3.6 3.6 0 1 1 -7.2 0ZM243.8 1522.4a3.6 3.6 0 1 1 7.2 0a3.6 3.6 0 1 1 -7.2 0ZM251.3 1522.6a3.6 3.6 0 1 1 7.2 0a3.6 3.6 0 1 1 -7.2 0ZM254.6 1521.6a3.6 3.6 0 1 1 7.2 0a3.6 3.6 0 1 1 -7.2 0ZM261.7 1522.6a3.6 3.6 0 1 1 7.2 0a3.6 3.6 0 1 1 -7.2 0ZM264 1520.4a3.6 3.6 0 1 1 7.2 0a3.6 3.6 0 1 1 -7.2 0ZM270 1519.9a3.6 3.6 0 1 1 7.2 0a3.6 3.6 0 1 1 -7.2 0ZM277.2 1521.4a3.6 3.6 0 1 1 7.2 0a3.6 3.6 0 1 1 -7.2 0ZM280.7 1522.4a3.6 3.6 0 1 1 7.2 0a3.6 3.6 0 1 1 -7.2 0ZM285.5 1520.2a3.6 3.6 0 1 1 7.2 0a3.6 3.6 0 1 1 -7.2 0ZM293.4 1520.4a3.6 3.6 0 1 1 7.2 0a3.6 3.6 0 1 1 -7.2 0ZM296.5 1522.4a3.6 3.6 0 1 1 7.2 0a3.6 3.6 0 1 1 -7.2 0ZM301.4 1519a3.6 3.6 0 1 1 7.2 0a3.6 3.6 0 1 1 -7.2 0ZM307.3 1520a3.6 3.6 0 1 1 7.2 0a3.6 3.6 0 1 1 -7.2 0ZM312.3 1521.8a3.6 3.6 0 1 1 7.2 0a3.6 3.6 0 1 1 -7.2 0ZM317.6 1521a3.6 3.6 0 1 1 7.2 0a3.6 3.6 0 1 1 -7.2 0ZM194.3 1526.8a3.6 3.6 0 1 1 7.2 0a3.6 3.6 0 1 1 -7.2 0ZM220.1 1524.2a3.6 3.6 0 1 1 7.2 0a3.6 3.6 0 1 1 -7.2 0ZM227.5 1524.8a3.6 3.6 0 1 1 7.2 0a3.6 3.6 0 1 1 -7.2 0ZM232.9 1523.8a3.6 3.6 0 1 1 7.2 0a3.6 3.6 0 1 1 -7.2 0ZM237.4 1525.5a3.6 3.6 0 1 1 7.2 0a3.6 3.6 0 1 1 -7.2 0ZM241.1 1524.7a3.6 3.6 0 1 1 7.2 0a3.6 3.6 0 1 1 -7.2 0ZM247.3 1524.2a3.6 3.6 0 1 1 7.2 0a3.6 3.6 0 1 1 -7.2 0ZM252 1527a3.6 3.6 0 1 1 7.2 0a3.6 3.6 0 1 1 -7.2 0ZM256.4 1526.4a3.6 3.6 0 1 1 7.2 0a3.6 3.6 0 1 1 -7.2 0ZM263 1523.9a3.6 3.6 0 1 1 7.2 0a3.6 3.6 0 1 1 -7.2 0ZM268.4 1525.8a3.6 3.6 0 1 1 7.2 0a3.6 3.6 0 1 1 -7.2 0ZM274.7 1524.5a3.6 3.6 0 1 1 7.2 0a3.6 3.6 0 1 1 -7.2 0ZM278.8 1525a3.6 3.6 0 1 1 7.2 0a3.6 3.6 0 1 1 -7.2 0ZM284 1524a3.6 3.6 0 1 1 7.2 0a3.6 3.6 0 1 1 -7.2 0ZM289.2 1525a3.6 3.6 0 1 1 7.2 0a3.6 3.6 0 1 1 -7.2 0ZM293.2 1526a3.6 3.6 0 1 1 7.2 0a3.6 3.6 0 1 1 -7.2 0ZM298.5 1523.6a3.6 3.6 0 1 1 7.2 0a3.6 3.6 0 1 1 -7.2 0ZM305.2 1524.9a3.6 3.6 0 1 1 7.2 0a3.6 3.6 0 1 1 -7.2 0ZM309.4 1527a3.6 3.6 0 1 1 7.2 0a3.6 3.6 0 1 1 -7.2 0ZM317.2 1526.1a3.6 3.6 0 1 1 7.2 0a3.6 3.6 0 1 1 -7.2 0ZM224.5 1530.5a3.6 3.6 0 1 1 7.2 0a3.6 3.6 0 1 1 -7.2 0ZM228.9 1528.2a3.6 3.6 0 1 1 7.2 0a3.6 3.6 0 1 1 -7.2 0ZM234.4 1528.4a3.6 3.6 0 1 1 7.2 0a3.6 3.6 0 1 1 -7.2 0ZM240.3 1529.2a3.6 3.6 0 1 1 7.2 0a3.6 3.6 0 1 1 -7.2 0ZM244.2 1531.6a3.6 3.6 0 1 1 7.2 0a3.6 3.6 0 1 1 -7.2 0ZM248.6 1530a3.6 3.6 0 1 1 7.2 0a3.6 3.6 0 1 1 -7.2 0ZM254.5 1529.4a3.6 3.6 0 1 1 7.2 0a3.6 3.6 0 1 1 -7.2 0ZM260.2 1530.3a3.6 3.6 0 1 1 7.2 0a3.6 3.6 0 1 1 -7.2 0ZM267.2 1529.8a3.6 3.6 0 1 1 7.2 0a3.6 3.6 0 1 1 -7.2 0ZM271.1 1529.2a3.6 3.6 0 1 1 7.2 0a3.6 3.6 0 1 1 -7.2 0ZM276.7 1530a3.6 3.6 0 1 1 7.2 0a3.6 3.6 0 1 1 -7.2 0ZM280.8 1529a3.6 3.6 0 1 1 7.2 0a3.6 3.6 0 1 1 -7.2 0ZM285.9 1529.9a3.6 3.6 0 1 1 7.2 0a3.6 3.6 0 1 1 -7.2 0ZM293.8 1528.5a3.6 3.6 0 1 1 7.2 0a3.6 3.6 0 1 1 -7.2 0ZM297.4 1529.1a3.6 3.6 0 1 1 7.2 0a3.6 3.6 0 1 1 -7.2 0ZM301.8 1531.3a3.6 3.6 0 1 1 7.2 0a3.6 3.6 0 1 1 -7.2 0ZM309.2 1528.9a3.6 3.6 0 1 1 7.2 0a3.6 3.6 0 1 1 -7.2 0ZM312.3 1529a3.6 3.6 0 1 1 7.2 0a3.6 3.6 0 1 1 -7.2 0ZM230.5 1534.2a3.6 3.6 0 1 1 7.2 0a3.6 3.6 0 1 1 -7.2 0ZM236 1535.3a3.6 3.6 0 1 1 7.2 0a3.6 3.6 0 1 1 -7.2 0ZM252 1534.7a3.6 3.6 0 1 1 7.2 0a3.6 3.6 0 1 1 -7.2 0ZM256.6 1535a3.6 3.6 0 1 1 7.2 0a3.6 3.6 0 1 1 -7.2 0ZM263.7 1535.3a3.6 3.6 0 1 1 7.2 0a3.6 3.6 0 1 1 -7.2 0ZM269.6 1533.5a3.6 3.6 0 1 1 7.2 0a3.6 3.6 0 1 1 -7.2 0ZM271.8 1535.2a3.6 3.6 0 1 1 7.2 0a3.6 3.6 0 1 1 -7.2 0ZM277.9 1534.6a3.6 3.6 0 1 1 7.2 0a3.6 3.6 0 1 1 -7.2 0ZM284.9 1534.7a3.6 3.6 0 1 1 7.2 0a3.6 3.6 0 1 1 -7.2 0ZM291.1 1535.5a3.6 3.6 0 1 1 7.2 0a3.6 3.6 0 1 1 -7.2 0ZM294.5 1536a3.6 3.6 0 1 1 7.2 0a3.6 3.6 0 1 1 -7.2 0ZM298.7 1535.7a3.6 3.6 0 1 1 7.2 0a3.6 3.6 0 1 1 -7.2 0ZM307.1 1533.7a3.6 3.6 0 1 1 7.2 0a3.6 3.6 0 1 1 -7.2 0ZM310 1534.8a3.6 3.6 0 1 1 7.2 0a3.6 3.6 0 1 1 -7.2 0ZM234.5 1539.3a3.6 3.6 0 1 1 7.2 0a3.6 3.6 0 1 1 -7.2 0ZM253.2 1539a3.6 3.6 0 1 1 7.2 0a3.6 3.6 0 1 1 -7.2 0ZM258.4 1540.5a3.6 3.6 0 1 1 7.2 0a3.6 3.6 0 1 1 -7.2 0ZM266.8 1538.3a3.6 3.6 0 1 1 7.2 0a3.6 3.6 0 1 1 -7.2 0ZM269.2 1540.1a3.6 3.6 0 1 1 7.2 0a3.6 3.6 0 1 1 -7.2 0ZM277.7 1539.6a3.6 3.6 0 1 1 7.2 0a3.6 3.6 0 1 1 -7.2 0ZM281.3 1540.3a3.6 3.6 0 1 1 7.2 0a3.6 3.6 0 1 1 -7.2 0ZM287.5 1539.2a3.6 3.6 0 1 1 7.2 0a3.6 3.6 0 1 1 -7.2 0ZM293.7 1539.6a3.6 3.6 0 1 1 7.2 0a3.6 3.6 0 1 1 -7.2 0ZM298.6 1540a3.6 3.6 0 1 1 7.2 0a3.6 3.6 0 1 1 -7.2 0ZM303.5 1540.7a3.6 3.6 0 1 1 7.2 0a3.6 3.6 0 1 1 -7.2 0ZM306.4 1539.6a3.6 3.6 0 1 1 7.2 0a3.6 3.6 0 1 1 -7.2 0ZM275 1543.8a3.6 3.6 0 1 1 7.2 0a3.6 3.6 0 1 1 -7.2 0ZM277.8 1544.6a3.6 3.6 0 1 1 7.2 0a3.6 3.6 0 1 1 -7.2 0ZM284.7 1545.2a3.6 3.6 0 1 1 7.2 0a3.6 3.6 0 1 1 -7.2 0ZM288.8 1542.6a3.6 3.6 0 1 1 7.2 0a3.6 3.6 0 1 1 -7.2 0ZM304.7 1544.6a3.6 3.6 0 1 1 7.2 0a3.6 3.6 0 1 1 -7.2 0ZM310.9 1542.8a3.6 3.6 0 1 1 7.2 0a3.6 3.6 0 1 1 -7.2 0ZM189.6 1530.6a3.6 3.6 0 1 1 7.2 0a3.6 3.6 0 1 1 -7.2 0ZM194.4 1527.4a3.6 3.6 0 1 1 7.2 0a3.6 3.6 0 1 1 -7.2 0ZM194.4 1517a3.6 3.6 0 1 1 7.2 0a3.6 3.6 0 1 1 -7.2 0ZM203.2 1509a3.6 3.6 0 1 1 7.2 0a3.6 3.6 0 1 1 -7.2 0ZM203.2 1496.2a3.6 3.6 0 1 1 7.2 0a3.6 3.6 0 1 1 -7.2 0ZM202.4 1522.6a3.6 3.6 0 1 1 7.2 0a3.6 3.6 0 1 1 -7.2 0ZM208.8 1523.4a3.6 3.6 0 1 1 7.2 0a3.6 3.6 0 1 1 -7.2 0ZM220 1528.2a3.6 3.6 0 1 1 7.2 0a3.6 3.6 0 1 1 -7.2 0ZM231.2 1537.8a3.6 3.6 0 1 1 7.2 0a3.6 3.6 0 1 1 -7.2 0ZM234.4 1545a3.6 3.6 0 1 1 7.2 0a3.6 3.6 0 1 1 -7.2 0ZM228 1494.6a3.6 3.6 0 1 1 7.2 0a3.6 3.6 0 1 1 -7.2 0ZM320.8 1509a3.6 3.6 0 1 1 7.2 0a3.6 3.6 0 1 1 -7.2 0ZM323.2 1526.6a3.6 3.6 0 1 1 7.2 0a3.6 3.6 0 1 1 -7.2 0ZM318.4 1502.6a3.6 3.6 0 1 1 7.2 0a3.6 3.6 0 1 1 -7.2 0ZM313.6 1539.4a3.6 3.6 0 1 1 7.2 0a3.6 3.6 0 1 1 -7.2 0ZM312.8 1545.8a3.6 3.6 0 1 1 7.2 0a3.6 3.6 0 1 1 -7.2 0ZM304 1547.4a3.6 3.6 0 1 1 7.2 0a3.6 3.6 0 1 1 -7.2 0ZM302.4 1558.6a3.6 3.6 0 1 1 7.2 0a3.6 3.6 0 1 1 -7.2 0ZM315.2 1558.6a3.6 3.6 0 1 1 7.2 0a3.6 3.6 0 1 1 -7.2 0ZM252 1541a3.6 3.6 0 1 1 7.2 0a3.6 3.6 0 1 1 -7.2 0ZM258.4 1542.6a3.6 3.6 0 1 1 7.2 0a3.6 3.6 0 1 1 -7.2 0ZM264.8 1541a3.6 3.6 0 1 1 7.2 0a3.6 3.6 0 1 1 -7.2 0Z" fill="#050505"/>
<clipPath id="cc19"><path d="M205.3 1481.2a3.6 3.6 0 1 1 7.2 0a3.6 3.6 0 1 1 -7.2 0ZM214.2 1480.9a3.6 3.6 0 1 1 7.2 0a3.6 3.6 0 1 1 -7.2 0ZM218.7 1479.6a3.6 3.6 0 1 1 7.2 0a3.6 3.6 0 1 1 -7.2 0ZM232.8 1480.8a3.6 3.6 0 1 1 7.2 0a3.6 3.6 0 1 1 -7.2 0ZM238.1 1480a3.6 3.6 0 1 1 7.2 0a3.6 3.6 0 1 1 -7.2 0ZM241.1 1479.8a3.6 3.6 0 1 1 7.2 0a3.6 3.6 0 1 1 -7.2 0ZM250.4 1479.7a3.6 3.6 0 1 1 7.2 0a3.6 3.6 0 1 1 -7.2 0ZM258.3 1480.3a3.6 3.6 0 1 1 7.2 0a3.6 3.6 0 1 1 -7.2 0ZM263.5 1480.8a3.6 3.6 0 1 1 7.2 0a3.6 3.6 0 1 1 -7.2 0ZM269.6 1479.5a3.6 3.6 0 1 1 7.2 0a3.6 3.6 0 1 1 -7.2 0ZM273.3 1480.8a3.6 3.6 0 1 1 7.2 0a3.6 3.6 0 1 1 -7.2 0ZM284 1480.4a3.6 3.6 0 1 1 7.2 0a3.6 3.6 0 1 1 -7.2 0ZM289.9 1480.6a3.6 3.6 0 1 1 7.2 0a3.6 3.6 0 1 1 -7.2 0ZM296.2 1481a3.6 3.6 0 1 1 7.2 0a3.6 3.6 0 1 1 -7.2 0ZM207.9 1484.7a3.6 3.6 0 1 1 7.2 0a3.6 3.6 0 1 1 -7.2 0ZM212.8 1482.3a3.6 3.6 0 1 1 7.2 0a3.6 3.6 0 1 1 -7.2 0ZM216.4 1485.7a3.6 3.6 0 1 1 7.2 0a3.6 3.6 0 1 1 -7.2 0ZM224.3 1483.4a3.6 3.6 0 1 1 7.2 0a3.6 3.6 0 1 1 -7.2 0ZM227.8 1484.7a3.6 3.6 0 1 1 7.2 0a3.6 3.6 0 1 1 -7.2 0ZM235.5 1484.4a3.6 3.6 0 1 1 7.2 0a3.6 3.6 0 1 1 -7.2 0ZM239 1483.2a3.6 3.6 0 1 1 7.2 0a3.6 3.6 0 1 1 -7.2 0ZM244.2 1483.2a3.6 3.6 0 1 1 7.2 0a3.6 3.6 0 1 1 -7.2 0ZM247.9 1483.5a3.6 3.6 0 1 1 7.2 0a3.6 3.6 0 1 1 -7.2 0ZM254.3 1484.9a3.6 3.6 0 1 1 7.2 0a3.6 3.6 0 1 1 -7.2 0ZM259.2 1485.9a3.6 3.6 0 1 1 7.2 0a3.6 3.6 0 1 1 -7.2 0ZM267 1482.7a3.6 3.6 0 1 1 7.2 0a3.6 3.6 0 1 1 -7.2 0ZM270 1484.4a3.6 3.6 0 1 1 7.2 0a3.6 3.6 0 1 1 -7.2 0ZM277.7 1484.2a3.6 3.6 0 1 1 7.2 0a3.6 3.6 0 1 1 -7.2 0ZM283.2 1484.4a3.6 3.6 0 1 1 7.2 0a3.6 3.6 0 1 1 -7.2 0ZM288 1483.7a3.6 3.6 0 1 1 7.2 0a3.6 3.6 0 1 1 -7.2 0ZM291.1 1485.7a3.6 3.6 0 1 1 7.2 0a3.6 3.6 0 1 1 -7.2 0ZM295.5 1482.7a3.6 3.6 0 1 1 7.2 0a3.6 3.6 0 1 1 -7.2 0ZM303.5 1482.3a3.6 3.6 0 1 1 7.2 0a3.6 3.6 0 1 1 -7.2 0ZM204 1488.8a3.6 3.6 0 1 1 7.2 0a3.6 3.6 0 1 1 -7.2 0ZM208.4 1490.1a3.6 3.6 0 1 1 7.2 0a3.6 3.6 0 1 1 -7.2 0ZM214.5 1487.3a3.6 3.6 0 1 1 7.2 0a3.6 3.6 0 1 1 -7.2 0ZM220.4 1489.6a3.6 3.6 0 1 1 7.2 0a3.6 3.6 0 1 1 -7.2 0ZM224.8 1487a3.6 3.6 0 1 1 7.2 0a3.6 3.6 0 1 1 -7.2 0ZM231.7 1487.9a3.6 3.6 0 1 1 7.2 0a3.6 3.6 0 1 1 -7.2 0ZM237.5 1487.9a3.6 3.6 0 1 1 7.2 0a3.6 3.6 0 1 1 -7.2 0ZM240.8 1489.8a3.6 3.6 0 1 1 7.2 0a3.6 3.6 0 1 1 -7.2 0ZM248.2 1490.5a3.6 3.6 0 1 1 7.2 0a3.6 3.6 0 1 1 -7.2 0ZM252.6 1487.4a3.6 3.6 0 1 1 7.2 0a3.6 3.6 0 1 1 -7.2 0ZM258.5 1487.3a3.6 3.6 0 1 1 7.2 0a3.6 3.6 0 1 1 -7.2 0ZM263.1 1487.2a3.6 3.6 0 1 1 7.2 0a3.6 3.6 0 1 1 -7.2 0ZM267.2 1490.1a3.6 3.6 0 1 1 7.2 0a3.6 3.6 0 1 1 -7.2 0ZM273 1488.4a3.6 3.6 0 1 1 7.2 0a3.6 3.6 0 1 1 -7.2 0ZM277.8 1489.4a3.6 3.6 0 1 1 7.2 0a3.6 3.6 0 1 1 -7.2 0ZM284.5 1487.4a3.6 3.6 0 1 1 7.2 0a3.6 3.6 0 1 1 -7.2 0ZM287.8 1487.7a3.6 3.6 0 1 1 7.2 0a3.6 3.6 0 1 1 -7.2 0ZM295.1 1488.9a3.6 3.6 0 1 1 7.2 0a3.6 3.6 0 1 1 -7.2 0ZM300.6 1489.9a3.6 3.6 0 1 1 7.2 0a3.6 3.6 0 1 1 -7.2 0ZM303.5 1488a3.6 3.6 0 1 1 7.2 0a3.6 3.6 0 1 1 -7.2 0ZM207.8 1493.9a3.6 3.6 0 1 1 7.2 0a3.6 3.6 0 1 1 -7.2 0ZM212.1 1492.9a3.6 3.6 0 1 1 7.2 0a3.6 3.6 0 1 1 -7.2 0ZM219 1491.7a3.6 3.6 0 1 1 7.2 0a3.6 3.6 0 1 1 -7.2 0ZM223.5 1491.4a3.6 3.6 0 1 1 7.2 0a3.6 3.6 0 1 1 -7.2 0ZM229.9 1491.9a3.6 3.6 0 1 1 7.2 0a3.6 3.6 0 1 1 -7.2 0ZM232.2 1493.4a3.6 3.6 0 1 1 7.2 0a3.6 3.6 0 1 1 -7.2 0ZM237.2 1493.7a3.6 3.6 0 1 1 7.2 0a3.6 3.6 0 1 1 -7.2 0ZM245 1491.8a3.6 3.6 0 1 1 7.2 0a3.6 3.6 0 1 1 -7.2 0ZM249.9 1492.9a3.6 3.6 0 1 1 7.2 0a3.6 3.6 0 1 1 -7.2 0ZM253.7 1495a3.6 3.6 0 1 1 7.2 0a3.6 3.6 0 1 1 -7.2 0ZM258.6 1493.9a3.6 3.6 0 1 1 7.2 0a3.6 3.6 0 1 1 -7.2 0ZM266.1 1491.4a3.6 3.6 0 1 1 7.2 0a3.6 3.6 0 1 1 -7.2 0ZM270.9 1492.7a3.6 3.6 0 1 1 7.2 0a3.6 3.6 0 1 1 -7.2 0ZM275.3 1493.5a3.6 3.6 0 1 1 7.2 0a3.6 3.6 0 1 1 -7.2 0ZM281.9 1494.4a3.6 3.6 0 1 1 7.2 0a3.6 3.6 0 1 1 -7.2 0ZM286.3 1493.9a3.6 3.6 0 1 1 7.2 0a3.6 3.6 0 1 1 -7.2 0ZM292.8 1494.7a3.6 3.6 0 1 1 7.2 0a3.6 3.6 0 1 1 -7.2 0ZM297.5 1493.5a3.6 3.6 0 1 1 7.2 0a3.6 3.6 0 1 1 -7.2 0ZM300.8 1493a3.6 3.6 0 1 1 7.2 0a3.6 3.6 0 1 1 -7.2 0ZM203.3 1498.7a3.6 3.6 0 1 1 7.2 0a3.6 3.6 0 1 1 -7.2 0ZM211.4 1499a3.6 3.6 0 1 1 7.2 0a3.6 3.6 0 1 1 -7.2 0ZM213.6 1497.7a3.6 3.6 0 1 1 7.2 0a3.6 3.6 0 1 1 -7.2 0ZM220.7 1499.6a3.6 3.6 0 1 1 7.2 0a3.6 3.6 0 1 1 -7.2 0ZM225.4 1496.1a3.6 3.6 0 1 1 7.2 0a3.6 3.6 0 1 1 -7.2 0ZM232.2 1499.1a3.6 3.6 0 1 1 7.2 0a3.6 3.6 0 1 1 -7.2 0ZM237.9 1498.1a3.6 3.6 0 1 1 7.2 0a3.6 3.6 0 1 1 -7.2 0ZM242.1 1498.4a3.6 3.6 0 1 1 7.2 0a3.6 3.6 0 1 1 -7.2 0ZM248.7 1496.7a3.6 3.6 0 1 1 7.2 0a3.6 3.6 0 1 1 -7.2 0ZM254 1498.7a3.6 3.6 0 1 1 7.2 0a3.6 3.6 0 1 1 -7.2 0ZM259.4 1496.1a3.6 3.6 0 1 1 7.2 0a3.6 3.6 0 1 1 -7.2 0ZM263.5 1497a3.6 3.6 0 1 1 7.2 0a3.6 3.6 0 1 1 -7.2 0ZM267.9 1497.6a3.6 3.6 0 1 1 7.2 0a3.6 3.6 0 1 1 -7.2 0ZM272.7 1496.2a3.6 3.6 0 1 1 7.2 0a3.6 3.6 0 1 1 -7.2 0ZM277.2 1496.4a3.6 3.6 0 1 1 7.2 0a3.6 3.6 0 1 1 -7.2 0ZM284.2 1498.4a3.6 3.6 0 1 1 7.2 0a3.6 3.6 0 1 1 -7.2 0ZM289.8 1498.3a3.6 3.6 0 1 1 7.2 0a3.6 3.6 0 1 1 -7.2 0ZM293.9 1498.2a3.6 3.6 0 1 1 7.2 0a3.6 3.6 0 1 1 -7.2 0ZM298.3 1496.9a3.6 3.6 0 1 1 7.2 0a3.6 3.6 0 1 1 -7.2 0ZM303.8 1497.9a3.6 3.6 0 1 1 7.2 0a3.6 3.6 0 1 1 -7.2 0ZM311 1499.5a3.6 3.6 0 1 1 7.2 0a3.6 3.6 0 1 1 -7.2 0ZM203.3 1501.9a3.6 3.6 0 1 1 7.2 0a3.6 3.6 0 1 1 -7.2 0ZM205.7 1501.7a3.6 3.6 0 1 1 7.2 0a3.6 3.6 0 1 1 -7.2 0ZM211.5 1504.1a3.6 3.6 0 1 1 7.2 0a3.6 3.6 0 1 1 -7.2 0ZM219 1502.6a3.6 3.6 0 1 1 7.2 0a3.6 3.6 0 1 1 -7.2 0ZM224.4 1502a3.6 3.6 0 1 1 7.2 0a3.6 3.6 0 1 1 -7.2 0ZM226.7 1502.7a3.6 3.6 0 1 1 7.2 0a3.6 3.6 0 1 1 -7.2 0ZM232.6 1501a3.6 3.6 0 1 1 7.2 0a3.6 3.6 0 1 1 -7.2 0ZM238.3 1501.7a3.6 3.6 0 1 1 7.2 0a3.6 3.6 0 1 1 -7.2 0ZM243.5 1501.3a3.6 3.6 0 1 1 7.2 0a3.6 3.6 0 1 1 -7.2 0ZM251.3 1501.2a3.6 3.6 0 1 1 7.2 0a3.6 3.6 0 1 1 -7.2 0ZM254 1503a3.6 3.6 0 1 1 7.2 0a3.6 3.6 0 1 1 -7.2 0ZM260.4 1502.5a3.6 3.6 0 1 1 7.2 0a3.6 3.6 0 1 1 -7.2 0ZM264.7 1503a3.6 3.6 0 1 1 7.2 0a3.6 3.6 0 1 1 -7.2 0ZM269 1502.6a3.6 3.6 0 1 1 7.2 0a3.6 3.6 0 1 1 -7.2 0ZM277.3 1503.8a3.6 3.6 0 1 1 7.2 0a3.6 3.6 0 1 1 -7.2 0ZM281.2 1502.2a3.6 3.6 0 1 1 7.2 0a3.6 3.6 0 1 1 -7.2 0ZM286.9 1503.1a3.6 3.6 0 1 1 7.2 0a3.6 3.6 0 1 1 -7.2 0ZM290.9 1503.8a3.6 3.6 0 1 1 7.2 0a3.6 3.6 0 1 1 -7.2 0ZM296.1 1502.4a3.6 3.6 0 1 1 7.2 0a3.6 3.6 0 1 1 -7.2 0ZM301.7 1504a3.6 3.6 0 1 1 7.2 0a3.6 3.6 0 1 1 -7.2 0ZM308 1501.2a3.6 3.6 0 1 1 7.2 0a3.6 3.6 0 1 1 -7.2 0ZM314 1501.9a3.6 3.6 0 1 1 7.2 0a3.6 3.6 0 1 1 -7.2 0ZM203.5 1508.8a3.6 3.6 0 1 1 7.2 0a3.6 3.6 0 1 1 -7.2 0ZM210 1506.8a3.6 3.6 0 1 1 7.2 0a3.6 3.6 0 1 1 -7.2 0ZM215.6 1507.5a3.6 3.6 0 1 1 7.2 0a3.6 3.6 0 1 1 -7.2 0ZM221.2 1505.6a3.6 3.6 0 1 1 7.2 0a3.6 3.6 0 1 1 -7.2 0ZM227.2 1506.9a3.6 3.6 0 1 1 7.2 0a3.6 3.6 0 1 1 -7.2 0ZM231.8 1505.9a3.6 3.6 0 1 1 7.2 0a3.6 3.6 0 1 1 -7.2 0ZM237.2 1505.7a3.6 3.6 0 1 1 7.2 0a3.6 3.6 0 1 1 -7.2 0ZM243.2 1506.3a3.6 3.6 0 1 1 7.2 0a3.6 3.6 0 1 1 -7.2 0ZM246.2 1505.8a3.6 3.6 0 1 1 7.2 0a3.6 3.6 0 1 1 -7.2 0ZM252.2 1505.7a3.6 3.6 0 1 1 7.2 0a3.6 3.6 0 1 1 -7.2 0ZM257.8 1506.6a3.6 3.6 0 1 1 7.2 0a3.6 3.6 0 1 1 -7.2 0ZM263 1505.9a3.6 3.6 0 1 1 7.2 0a3.6 3.6 0 1 1 -7.2 0ZM268.8 1505.4a3.6 3.6 0 1 1 7.2 0a3.6 3.6 0 1 1 -7.2 0ZM271.9 1508.4a3.6 3.6 0 1 1 7.2 0a3.6 3.6 0 1 1 -7.2 0ZM278.1 1507.7a3.6 3.6 0 1 1 7.2 0a3.6 3.6 0 1 1 -7.2 0ZM285.7 1505.7a3.6 3.6 0 1 1 7.2 0a3.6 3.6 0 1 1 -7.2 0ZM291 1505.7a3.6 3.6 0 1 1 7.2 0a3.6 3.6 0 1 1 -7.2 0ZM293.9 1506.9a3.6 3.6 0 1 1 7.2 0a3.6 3.6 0 1 1 -7.2 0ZM299 1508.9a3.6 3.6 0 1 1 7.2 0a3.6 3.6 0 1 1 -7.2 0ZM304 1505.3a3.6 3.6 0 1 1 7.2 0a3.6 3.6 0 1 1 -7.2 0ZM309.1 1508.1a3.6 3.6 0 1 1 7.2 0a3.6 3.6 0 1 1 -7.2 0ZM316.9 1506.5a3.6 3.6 0 1 1 7.2 0a3.6 3.6 0 1 1 -7.2 0ZM200.4 1512.8a3.6 3.6 0 1 1 7.2 0a3.6 3.6 0 1 1 -7.2 0ZM208.6 1512.8a3.6 3.6 0 1 1 7.2 0a3.6 3.6 0 1 1 -7.2 0ZM211.7 1511.9a3.6 3.6 0 1 1 7.2 0a3.6 3.6 0 1 1 -7.2 0ZM217.7 1510.1a3.6 3.6 0 1 1 7.2 0a3.6 3.6 0 1 1 -7.2 0ZM222.5 1511.4a3.6 3.6 0 1 1 7.2 0a3.6 3.6 0 1 1 -7.2 0ZM227.1 1511.2a3.6 3.6 0 1 1 7.2 0a3.6 3.6 0 1 1 -7.2 0ZM232.6 1510.5a3.6 3.6 0 1 1 7.2 0a3.6 3.6 0 1 1 -7.2 0ZM240.8 1511.4a3.6 3.6 0 1 1 7.2 0a3.6 3.6 0 1 1 -7.2 0ZM244.5 1510a3.6 3.6 0 1 1 7.2 0a3.6 3.6 0 1 1 -7.2 0ZM248 1510.4a3.6 3.6 0 1 1 7.2 0a3.6 3.6 0 1 1 -7.2 0ZM255.3 1512.8a3.6 3.6 0 1 1 7.2 0a3.6 3.6 0 1 1 -7.2 0ZM260.9 1511.5a3.6 3.6 0 1 1 7.2 0a3.6 3.6 0 1 1 -7.2 0ZM266.8 1512.5a3.6 3.6 0 1 1 7.2 0a3.6 3.6 0 1 1 -7.2 0ZM271.1 1513.4a3.6 3.6 0 1 1 7.2 0a3.6 3.6 0 1 1 -7.2 0ZM277 1510.8a3.6 3.6 0 1 1 7.2 0a3.6 3.6 0 1 1 -7.2 0ZM281 1509.8a3.6 3.6 0 1 1 7.2 0a3.6 3.6 0 1 1 -7.2 0ZM285.3 1510.6a3.6 3.6 0 1 1 7.2 0a3.6 3.6 0 1 1 -7.2 0ZM293 1512.7a3.6 3.6 0 1 1 7.2 0a3.6 3.6 0 1 1 -7.2 0ZM297 1510.1a3.6 3.6 0 1 1 7.2 0a3.6 3.6 0 1 1 -7.2 0ZM303.8 1511.9a3.6 3.6 0 1 1 7.2 0a3.6 3.6 0 1 1 -7.2 0ZM309.2 1511.8a3.6 3.6 0 1 1 7.2 0a3.6 3.6 0 1 1 -7.2 0ZM314.4 1512.8a3.6 3.6 0 1 1 7.2 0a3.6 3.6 0 1 1 -7.2 0ZM320.1 1510.5a3.6 3.6 0 1 1 7.2 0a3.6 3.6 0 1 1 -7.2 0ZM200.8 1518a3.6 3.6 0 1 1 7.2 0a3.6 3.6 0 1 1 -7.2 0ZM204.3 1516.6a3.6 3.6 0 1 1 7.2 0a3.6 3.6 0 1 1 -7.2 0ZM211.7 1516.5a3.6 3.6 0 1 1 7.2 0a3.6 3.6 0 1 1 -7.2 0ZM215.7 1515a3.6 3.6 0 1 1 7.2 0a3.6 3.6 0 1 1 -7.2 0ZM222.2 1518a3.6 3.6 0 1 1 7.2 0a3.6 3.6 0 1 1 -7.2 0ZM226.9 1516.7a3.6 3.6 0 1 1 7.2 0a3.6 3.6 0 1 1 -7.2 0ZM232.3 1517a3.6 3.6 0 1 1 7.2 0a3.6 3.6 0 1 1 -7.2 0ZM235.6 1517.3a3.6 3.6 0 1 1 7.2 0a3.6 3.6 0 1 1 -7.2 0ZM242.8 1515.4a3.6 3.6 0 1 1 7.2 0a3.6 3.6 0 1 1 -7.2 0ZM248.6 1517.1a3.6 3.6 0 1 1 7.2 0a3.6 3.6 0 1 1 -7.2 0ZM250.5 1518a3.6 3.6 0 1 1 7.2 0a3.6 3.6 0 1 1 -7.2 0ZM256.5 1516a3.6 3.6 0 1 1 7.2 0a3.6 3.6 0 1 1 -7.2 0ZM263.6 1515.6a3.6 3.6 0 1 1 7.2 0a3.6 3.6 0 1 1 -7.2 0ZM269.8 1515.8a3.6 3.6 0 1 1 7.2 0a3.6 3.6 0 1 1 -7.2 0ZM272.3 1515.4a3.6 3.6 0 1 1 7.2 0a3.6 3.6 0 1 1 -7.2 0ZM279.6 1514.7a3.6 3.6 0 1 1 7.2 0a3.6 3.6 0 1 1 -7.2 0ZM284.2 1517.8a3.6 3.6 0 1 1 7.2 0a3.6 3.6 0 1 1 -7.2 0ZM289.5 1515.4a3.6 3.6 0 1 1 7.2 0a3.6 3.6 0 1 1 -7.2 0ZM293.3 1517.1a3.6 3.6 0 1 1 7.2 0a3.6 3.6 0 1 1 -7.2 0ZM299.8 1514.5a3.6 3.6 0 1 1 7.2 0a3.6 3.6 0 1 1 -7.2 0ZM306.6 1514.8a3.6 3.6 0 1 1 7.2 0a3.6 3.6 0 1 1 -7.2 0ZM312.3 1515.6a3.6 3.6 0 1 1 7.2 0a3.6 3.6 0 1 1 -7.2 0ZM315.5 1516.9a3.6 3.6 0 1 1 7.2 0a3.6 3.6 0 1 1 -7.2 0ZM196.1 1519a3.6 3.6 0 1 1 7.2 0a3.6 3.6 0 1 1 -7.2 0ZM200.5 1521.9a3.6 3.6 0 1 1 7.2 0a3.6 3.6 0 1 1 -7.2 0ZM207.9 1521.7a3.6 3.6 0 1 1 7.2 0a3.6 3.6 0 1 1 -7.2 0ZM211.3 1521.3a3.6 3.6 0 1 1 7.2 0a3.6 3.6 0 1 1 -7.2 0ZM217.8 1519.9a3.6 3.6 0 1 1 7.2 0a3.6 3.6 0 1 1 -7.2 0ZM224.4 1521a3.6 3.6 0 1 1 7.2 0a3.6 3.6 0 1 1 -7.2 0ZM227.4 1522.5a3.6 3.6 0 1 1 7.2 0a3.6 3.6 0 1 1 -7.2 0ZM235.3 1519.9a3.6 3.6 0 1 1 7.2 0a3.6 3.6 0 1 1 -7.2 0ZM238.2 1520.3a3.6 3.6 0 1 1 7.2 0a3.6 3.6 0 1 1 -7.2 0ZM243.8 1522.4a3.6 3.6 0 1 1 7.2 0a3.6 3.6 0 1 1 -7.2 0ZM251.3 1522.6a3.6 3.6 0 1 1 7.2 0a3.6 3.6 0 1 1 -7.2 0ZM254.6 1521.6a3.6 3.6 0 1 1 7.2 0a3.6 3.6 0 1 1 -7.2 0ZM261.7 1522.6a3.6 3.6 0 1 1 7.2 0a3.6 3.6 0 1 1 -7.2 0ZM264 1520.4a3.6 3.6 0 1 1 7.2 0a3.6 3.6 0 1 1 -7.2 0ZM270 1519.9a3.6 3.6 0 1 1 7.2 0a3.6 3.6 0 1 1 -7.2 0ZM277.2 1521.4a3.6 3.6 0 1 1 7.2 0a3.6 3.6 0 1 1 -7.2 0ZM280.7 1522.4a3.6 3.6 0 1 1 7.2 0a3.6 3.6 0 1 1 -7.2 0ZM285.5 1520.2a3.6 3.6 0 1 1 7.2 0a3.6 3.6 0 1 1 -7.2 0ZM293.4 1520.4a3.6 3.6 0 1 1 7.2 0a3.6 3.6 0 1 1 -7.2 0ZM296.5 1522.4a3.6 3.6 0 1 1 7.2 0a3.6 3.6 0 1 1 -7.2 0ZM301.4 1519a3.6 3.6 0 1 1 7.2 0a3.6 3.6 0 1 1 -7.2 0ZM307.3 1520a3.6 3.6 0 1 1 7.2 0a3.6 3.6 0 1 1 -7.2 0ZM312.3 1521.8a3.6 3.6 0 1 1 7.2 0a3.6 3.6 0 1 1 -7.2 0ZM317.6 1521a3.6 3.6 0 1 1 7.2 0a3.6 3.6 0 1 1 -7.2 0ZM194.3 1526.8a3.6 3.6 0 1 1 7.2 0a3.6 3.6 0 1 1 -7.2 0ZM220.1 1524.2a3.6 3.6 0 1 1 7.2 0a3.6 3.6 0 1 1 -7.2 0ZM227.5 1524.8a3.6 3.6 0 1 1 7.2 0a3.6 3.6 0 1 1 -7.2 0ZM232.9 1523.8a3.6 3.6 0 1 1 7.2 0a3.6 3.6 0 1 1 -7.2 0ZM237.4 1525.5a3.6 3.6 0 1 1 7.2 0a3.6 3.6 0 1 1 -7.2 0ZM241.1 1524.7a3.6 3.6 0 1 1 7.2 0a3.6 3.6 0 1 1 -7.2 0ZM247.3 1524.2a3.6 3.6 0 1 1 7.2 0a3.6 3.6 0 1 1 -7.2 0ZM252 1527a3.6 3.6 0 1 1 7.2 0a3.6 3.6 0 1 1 -7.2 0ZM256.4 1526.4a3.6 3.6 0 1 1 7.2 0a3.6 3.6 0 1 1 -7.2 0ZM263 1523.9a3.6 3.6 0 1 1 7.2 0a3.6 3.6 0 1 1 -7.2 0ZM268.4 1525.8a3.6 3.6 0 1 1 7.2 0a3.6 3.6 0 1 1 -7.2 0ZM274.7 1524.5a3.6 3.6 0 1 1 7.2 0a3.6 3.6 0 1 1 -7.2 0ZM278.8 1525a3.6 3.6 0 1 1 7.2 0a3.6 3.6 0 1 1 -7.2 0ZM284 1524a3.6 3.6 0 1 1 7.2 0a3.6 3.6 0 1 1 -7.2 0ZM289.2 1525a3.6 3.6 0 1 1 7.2 0a3.6 3.6 0 1 1 -7.2 0ZM293.2 1526a3.6 3.6 0 1 1 7.2 0a3.6 3.6 0 1 1 -7.2 0ZM298.5 1523.6a3.6 3.6 0 1 1 7.2 0a3.6 3.6 0 1 1 -7.2 0ZM305.2 1524.9a3.6 3.6 0 1 1 7.2 0a3.6 3.6 0 1 1 -7.2 0ZM309.4 1527a3.6 3.6 0 1 1 7.2 0a3.6 3.6 0 1 1 -7.2 0ZM317.2 1526.1a3.6 3.6 0 1 1 7.2 0a3.6 3.6 0 1 1 -7.2 0ZM224.5 1530.5a3.6 3.6 0 1 1 7.2 0a3.6 3.6 0 1 1 -7.2 0ZM228.9 1528.2a3.6 3.6 0 1 1 7.2 0a3.6 3.6 0 1 1 -7.2 0ZM234.4 1528.4a3.6 3.6 0 1 1 7.2 0a3.6 3.6 0 1 1 -7.2 0ZM240.3 1529.2a3.6 3.6 0 1 1 7.2 0a3.6 3.6 0 1 1 -7.2 0ZM244.2 1531.6a3.6 3.6 0 1 1 7.2 0a3.6 3.6 0 1 1 -7.2 0ZM248.6 1530a3.6 3.6 0 1 1 7.2 0a3.6 3.6 0 1 1 -7.2 0ZM254.5 1529.4a3.6 3.6 0 1 1 7.2 0a3.6 3.6 0 1 1 -7.2 0ZM260.2 1530.3a3.6 3.6 0 1 1 7.2 0a3.6 3.6 0 1 1 -7.2 0ZM267.2 1529.8a3.6 3.6 0 1 1 7.2 0a3.6 3.6 0 1 1 -7.2 0ZM271.1 1529.2a3.6 3.6 0 1 1 7.2 0a3.6 3.6 0 1 1 -7.2 0ZM276.7 1530a3.6 3.6 0 1 1 7.2 0a3.6 3.6 0 1 1 -7.2 0ZM280.8 1529a3.6 3.6 0 1 1 7.2 0a3.6 3.6 0 1 1 -7.2 0ZM285.9 1529.9a3.6 3.6 0 1 1 7.2 0a3.6 3.6 0 1 1 -7.2 0ZM293.8 1528.5a3.6 3.6 0 1 1 7.2 0a3.6 3.6 0 1 1 -7.2 0ZM297.4 1529.1a3.6 3.6 0 1 1 7.2 0a3.6 3.6 0 1 1 -7.2 0ZM301.8 1531.3a3.6 3.6 0 1 1 7.2 0a3.6 3.6 0 1 1 -7.2 0ZM309.2 1528.9a3.6 3.6 0 1 1 7.2 0a3.6 3.6 0 1 1 -7.2 0ZM312.3 1529a3.6 3.6 0 1 1 7.2 0a3.6 3.6 0 1 1 -7.2 0ZM230.5 1534.2a3.6 3.6 0 1 1 7.2 0a3.6 3.6 0 1 1 -7.2 0ZM236 1535.3a3.6 3.6 0 1 1 7.2 0a3.6 3.6 0 1 1 -7.2 0ZM252 1534.7a3.6 3.6 0 1 1 7.2 0a3.6 3.6 0 1 1 -7.2 0ZM256.6 1535a3.6 3.6 0 1 1 7.2 0a3.6 3.6 0 1 1 -7.2 0ZM263.7 1535.3a3.6 3.6 0 1 1 7.2 0a3.6 3.6 0 1 1 -7.2 0ZM269.6 1533.5a3.6 3.6 0 1 1 7.2 0a3.6 3.6 0 1 1 -7.2 0ZM271.8 1535.2a3.6 3.6 0 1 1 7.2 0a3.6 3.6 0 1 1 -7.2 0ZM277.9 1534.6a3.6 3.6 0 1 1 7.2 0a3.6 3.6 0 1 1 -7.2 0ZM284.9 1534.7a3.6 3.6 0 1 1 7.2 0a3.6 3.6 0 1 1 -7.2 0ZM291.1 1535.5a3.6 3.6 0 1 1 7.2 0a3.6 3.6 0 1 1 -7.2 0ZM294.5 1536a3.6 3.6 0 1 1 7.2 0a3.6 3.6 0 1 1 -7.2 0ZM298.7 1535.7a3.6 3.6 0 1 1 7.2 0a3.6 3.6 0 1 1 -7.2 0ZM307.1 1533.7a3.6 3.6 0 1 1 7.2 0a3.6 3.6 0 1 1 -7.2 0ZM310 1534.8a3.6 3.6 0 1 1 7.2 0a3.6 3.6 0 1 1 -7.2 0ZM234.5 1539.3a3.6 3.6 0 1 1 7.2 0a3.6 3.6 0 1 1 -7.2 0ZM253.2 1539a3.6 3.6 0 1 1 7.2 0a3.6 3.6 0 1 1 -7.2 0ZM258.4 1540.5a3.6 3.6 0 1 1 7.2 0a3.6 3.6 0 1 1 -7.2 0ZM266.8 1538.3a3.6 3.6 0 1 1 7.2 0a3.6 3.6 0 1 1 -7.2 0ZM269.2 1540.1a3.6 3.6 0 1 1 7.2 0a3.6 3.6 0 1 1 -7.2 0ZM277.7 1539.6a3.6 3.6 0 1 1 7.2 0a3.6 3.6 0 1 1 -7.2 0ZM281.3 1540.3a3.6 3.6 0 1 1 7.2 0a3.6 3.6 0 1 1 -7.2 0ZM287.5 1539.2a3.6 3.6 0 1 1 7.2 0a3.6 3.6 0 1 1 -7.2 0ZM293.7 1539.6a3.6 3.6 0 1 1 7.2 0a3.6 3.6 0 1 1 -7.2 0ZM298.6 1540a3.6 3.6 0 1 1 7.2 0a3.6 3.6 0 1 1 -7.2 0ZM303.5 1540.7a3.6 3.6 0 1 1 7.2 0a3.6 3.6 0 1 1 -7.2 0ZM306.4 1539.6a3.6 3.6 0 1 1 7.2 0a3.6 3.6 0 1 1 -7.2 0ZM275 1543.8a3.6 3.6 0 1 1 7.2 0a3.6 3.6 0 1 1 -7.2 0ZM277.8 1544.6a3.6 3.6 0 1 1 7.2 0a3.6 3.6 0 1 1 -7.2 0ZM284.7 1545.2a3.6 3.6 0 1 1 7.2 0a3.6 3.6 0 1 1 -7.2 0ZM288.8 1542.6a3.6 3.6 0 1 1 7.2 0a3.6 3.6 0 1 1 -7.2 0ZM304.7 1544.6a3.6 3.6 0 1 1 7.2 0a3.6 3.6 0 1 1 -7.2 0ZM310.9 1542.8a3.6 3.6 0 1 1 7.2 0a3.6 3.6 0 1 1 -7.2 0ZM189.6 1530.6a3.6 3.6 0 1 1 7.2 0a3.6 3.6 0 1 1 -7.2 0ZM194.4 1527.4a3.6 3.6 0 1 1 7.2 0a3.6 3.6 0 1 1 -7.2 0ZM194.4 1517a3.6 3.6 0 1 1 7.2 0a3.6 3.6 0 1 1 -7.2 0ZM203.2 1509a3.6 3.6 0 1 1 7.2 0a3.6 3.6 0 1 1 -7.2 0ZM203.2 1496.2a3.6 3.6 0 1 1 7.2 0a3.6 3.6 0 1 1 -7.2 0ZM202.4 1522.6a3.6 3.6 0 1 1 7.2 0a3.6 3.6 0 1 1 -7.2 0ZM208.8 1523.4a3.6 3.6 0 1 1 7.2 0a3.6 3.6 0 1 1 -7.2 0ZM220 1528.2a3.6 3.6 0 1 1 7.2 0a3.6 3.6 0 1 1 -7.2 0ZM231.2 1537.8a3.6 3.6 0 1 1 7.2 0a3.6 3.6 0 1 1 -7.2 0ZM234.4 1545a3.6 3.6 0 1 1 7.2 0a3.6 3.6 0 1 1 -7.2 0ZM228 1494.6a3.6 3.6 0 1 1 7.2 0a3.6 3.6 0 1 1 -7.2 0ZM320.8 1509a3.6 3.6 0 1 1 7.2 0a3.6 3.6 0 1 1 -7.2 0ZM323.2 1526.6a3.6 3.6 0 1 1 7.2 0a3.6 3.6 0 1 1 -7.2 0ZM318.4 1502.6a3.6 3.6 0 1 1 7.2 0a3.6 3.6 0 1 1 -7.2 0ZM313.6 1539.4a3.6 3.6 0 1 1 7.2 0a3.6 3.6 0 1 1 -7.2 0ZM312.8 1545.8a3.6 3.6 0 1 1 7.2 0a3.6 3.6 0 1 1 -7.2 0ZM304 1547.4a3.6 3.6 0 1 1 7.2 0a3.6 3.6 0 1 1 -7.2 0ZM302.4 1558.6a3.6 3.6 0 1 1 7.2 0a3.6 3.6 0 1 1 -7.2 0ZM315.2 1558.6a3.6 3.6 0 1 1 7.2 0a3.6 3.6 0 1 1 -7.2 0ZM252 1541a3.6 3.6 0 1 1 7.2 0a3.6 3.6 0 1 1 -7.2 0ZM258.4 1542.6a3.6 3.6 0 1 1 7.2 0a3.6 3.6 0 1 1 -7.2 0ZM264.8 1541a3.6 3.6 0 1 1 7.2 0a3.6 3.6 0 1 1 -7.2 0Z"/></clipPath>
<g clip-path="url(#cc19)">
<path d="M226.8 1478.6L308.4 1478.6L311.6 1501L314.8 1517L311.6 1533L302 1537.8L286 1544.2L270 1541L257.2 1537.8L246 1531.4L238 1525L230 1517L226.8 1501Z" fill="#1c1c1c" filter="url(#b4)"/>
<ellipse cx="252" cy="1500" rx="12" ry="20" transform="rotate(0 252 1500)" fill="#262626" filter="url(#b5)"/>
<ellipse cx="286" cy="1512" rx="22" ry="33" transform="rotate(0 286 1512)" fill="#454545" filter="url(#b5)"/>
<ellipse cx="287.6" cy="1513" rx="14" ry="24" transform="rotate(0 287.6 1513)" fill="#5c5c5c" filter="url(#b4)"/>
<ellipse cx="286.8" cy="1514" rx="8.5" ry="15" transform="rotate(0 286.8 1514)" fill="#6b6b6b" filter="url(#b3)"/>
</g>
</g></g>
<g clip-path="url(#clip_B3)"><g filter="url(#cm)">
<path d="M276.8 1553a3.6 3.6 0 1 1 7.2 0a3.6 3.6 0 1 1 -7.2 0ZM272.8 1561.8a3.6 3.6 0 1 1 7.2 0a3.6 3.6 0 1 1 -7.2 0ZM279.2 1560.2a3.6 3.6 0 1 1 7.2 0a3.6 3.6 0 1 1 -7.2 0ZM286.4 1575.4a3.6 3.6 0 1 1 7.2 0a3.6 3.6 0 1 1 -7.2 0ZM298.4 1540.2a3.6 3.6 0 1 1 7.2 0a3.6 3.6 0 1 1 -7.2 0Z" fill="#242424"/>
</g></g>
<g clip-path="url(#clip_B3)"><g filter="url(#cm)">
<path d="M238.9 1891.1L240.8 1875.9L248.8 1872.8L258.6 1869.5L264 1865L270 1868.3L277.3 1864.9L286 1863.5L294.5 1864.8L299.3 1868.2L300.5 1878.2L302.9 1891ZM236.6 1891.9a3.6 3.6 0 1 1 7.2 0a3.6 3.6 0 1 1 -7.2 0ZM237.5 1889.2a3.6 3.6 0 1 1 7.2 0a3.6 3.6 0 1 1 -7.2 0ZM237.5 1884.4a3.6 3.6 0 1 1 7.2 0a3.6 3.6 0 1 1 -7.2 0ZM237.5 1879.6a3.6 3.6 0 1 1 7.2 0a3.6 3.6 0 1 1 -7.2 0ZM236.9 1876.5a3.6 3.6 0 1 1 7.2 0a3.6 3.6 0 1 1 -7.2 0ZM240.6 1875.1a3.6 3.6 0 1 1 7.2 0a3.6 3.6 0 1 1 -7.2 0ZM245.2 1872.8a3.6 3.6 0 1 1 7.2 0a3.6 3.6 0 1 1 -7.2 0ZM249.8 1871.3a3.6 3.6 0 1 1 7.2 0a3.6 3.6 0 1 1 -7.2 0ZM255 1869.5a3.6 3.6 0 1 1 7.2 0a3.6 3.6 0 1 1 -7.2 0ZM258.6 1866.8a3.6 3.6 0 1 1 7.2 0a3.6 3.6 0 1 1 -7.2 0ZM260.4 1865a3.6 3.6 0 1 1 7.2 0a3.6 3.6 0 1 1 -7.2 0ZM261.8 1866.3a3.6 3.6 0 1 1 7.2 0a3.6 3.6 0 1 1 -7.2 0ZM266.4 1868.3a3.6 3.6 0 1 1 7.2 0a3.6 3.6 0 1 1 -7.2 0ZM271 1866.3a3.6 3.6 0 1 1 7.2 0a3.6 3.6 0 1 1 -7.2 0ZM273.7 1864.9a3.6 3.6 0 1 1 7.2 0a3.6 3.6 0 1 1 -7.2 0ZM278.1 1864.2a3.6 3.6 0 1 1 7.2 0a3.6 3.6 0 1 1 -7.2 0ZM282.4 1863.5a3.6 3.6 0 1 1 7.2 0a3.6 3.6 0 1 1 -7.2 0ZM286.7 1864.2a3.6 3.6 0 1 1 7.2 0a3.6 3.6 0 1 1 -7.2 0ZM290.9 1864.8a3.6 3.6 0 1 1 7.2 0a3.6 3.6 0 1 1 -7.2 0ZM293.4 1866.8a3.6 3.6 0 1 1 7.2 0a3.6 3.6 0 1 1 -7.2 0ZM295.7 1868.2a3.6 3.6 0 1 1 7.2 0a3.6 3.6 0 1 1 -7.2 0ZM296.2 1872.8a3.6 3.6 0 1 1 7.2 0a3.6 3.6 0 1 1 -7.2 0ZM296.9 1878.2a3.6 3.6 0 1 1 7.2 0a3.6 3.6 0 1 1 -7.2 0ZM296.9 1883.3a3.6 3.6 0 1 1 7.2 0a3.6 3.6 0 1 1 -7.2 0ZM296.9 1888.7a3.6 3.6 0 1 1 7.2 0a3.6 3.6 0 1 1 -7.2 0ZM297.7 1892a3.6 3.6 0 1 1 7.2 0a3.6 3.6 0 1 1 -7.2 0ZM295.3 1890.9a3.6 3.6 0 1 1 7.2 0a3.6 3.6 0 1 1 -7.2 0ZM290.6 1890.9a3.6 3.6 0 1 1 7.2 0a3.6 3.6 0 1 1 -7.2 0ZM285.9 1890.9a3.6 3.6 0 1 1 7.2 0a3.6 3.6 0 1 1 -7.2 0ZM281.3 1890.9a3.6 3.6 0 1 1 7.2 0a3.6 3.6 0 1 1 -7.2 0ZM276.6 1890.9a3.6 3.6 0 1 1 7.2 0a3.6 3.6 0 1 1 -7.2 0ZM271.9 1890.9a3.6 3.6 0 1 1 7.2 0a3.6 3.6 0 1 1 -7.2 0ZM267.2 1890.9a3.6 3.6 0 1 1 7.2 0a3.6 3.6 0 1 1 -7.2 0ZM262.5 1890.9a3.6 3.6 0 1 1 7.2 0a3.6 3.6 0 1 1 -7.2 0ZM257.8 1890.9a3.6 3.6 0 1 1 7.2 0a3.6 3.6 0 1 1 -7.2 0ZM253.1 1890.9a3.6 3.6 0 1 1 7.2 0a3.6 3.6 0 1 1 -7.2 0ZM248.5 1890.9a3.6 3.6 0 1 1 7.2 0a3.6 3.6 0 1 1 -7.2 0ZM243.8 1890.9a3.6 3.6 0 1 1 7.2 0a3.6 3.6 0 1 1 -7.2 0ZM239.1 1890.9a3.6 3.6 0 1 1 7.2 0a3.6 3.6 0 1 1 -7.2 0ZM198.4 1885.2a3.6 3.6 0 1 1 7.2 0a3.6 3.6 0 1 1 -7.2 0ZM202.4 1870.8a3.6 3.6 0 1 1 7.2 0a3.6 3.6 0 1 1 -7.2 0ZM204 1876.4a3.6 3.6 0 1 1 7.2 0a3.6 3.6 0 1 1 -7.2 0ZM203.2 1879.6a3.6 3.6 0 1 1 7.2 0a3.6 3.6 0 1 1 -7.2 0ZM213.6 1875.6a3.6 3.6 0 1 1 7.2 0a3.6 3.6 0 1 1 -7.2 0ZM216.8 1882a3.6 3.6 0 1 1 7.2 0a3.6 3.6 0 1 1 -7.2 0ZM221.6 1878a3.6 3.6 0 1 1 7.2 0a3.6 3.6 0 1 1 -7.2 0ZM224 1882.8a3.6 3.6 0 1 1 7.2 0a3.6 3.6 0 1 1 -7.2 0ZM229.6 1881.2a3.6 3.6 0 1 1 7.2 0a3.6 3.6 0 1 1 -7.2 0ZM232.8 1870a3.6 3.6 0 1 1 7.2 0a3.6 3.6 0 1 1 -7.2 0ZM243.2 1870a3.6 3.6 0 1 1 7.2 0a3.6 3.6 0 1 1 -7.2 0ZM261.6 1862a3.6 3.6 0 1 1 7.2 0a3.6 3.6 0 1 1 -7.2 0ZM264.8 1864.4a3.6 3.6 0 1 1 7.2 0a3.6 3.6 0 1 1 -7.2 0ZM274.4 1858a3.6 3.6 0 1 1 7.2 0a3.6 3.6 0 1 1 -7.2 0ZM284.8 1858.8a3.6 3.6 0 1 1 7.2 0a3.6 3.6 0 1 1 -7.2 0ZM293.6 1858.8a3.6 3.6 0 1 1 7.2 0a3.6 3.6 0 1 1 -7.2 0ZM300 1866.8a3.6 3.6 0 1 1 7.2 0a3.6 3.6 0 1 1 -7.2 0ZM295.2 1870a3.6 3.6 0 1 1 7.2 0a3.6 3.6 0 1 1 -7.2 0Z" fill="#050505"/>
<clipPath id="cc21"><path d="M238.9 1891.1L240.8 1875.9L248.8 1872.8L258.6 1869.5L264 1865L270 1868.3L277.3 1864.9L286 1863.5L294.5 1864.8L299.3 1868.2L300.5 1878.2L302.9 1891ZM236.6 1891.9a3.6 3.6 0 1 1 7.2 0a3.6 3.6 0 1 1 -7.2 0ZM237.5 1889.2a3.6 3.6 0 1 1 7.2 0a3.6 3.6 0 1 1 -7.2 0ZM237.5 1884.4a3.6 3.6 0 1 1 7.2 0a3.6 3.6 0 1 1 -7.2 0ZM237.5 1879.6a3.6 3.6 0 1 1 7.2 0a3.6 3.6 0 1 1 -7.2 0ZM236.9 1876.5a3.6 3.6 0 1 1 7.2 0a3.6 3.6 0 1 1 -7.2 0ZM240.6 1875.1a3.6 3.6 0 1 1 7.2 0a3.6 3.6 0 1 1 -7.2 0ZM245.2 1872.8a3.6 3.6 0 1 1 7.2 0a3.6 3.6 0 1 1 -7.2 0ZM249.8 1871.3a3.6 3.6 0 1 1 7.2 0a3.6 3.6 0 1 1 -7.2 0ZM255 1869.5a3.6 3.6 0 1 1 7.2 0a3.6 3.6 0 1 1 -7.2 0ZM258.6 1866.8a3.6 3.6 0 1 1 7.2 0a3.6 3.6 0 1 1 -7.2 0ZM260.4 1865a3.6 3.6 0 1 1 7.2 0a3.6 3.6 0 1 1 -7.2 0ZM261.8 1866.3a3.6 3.6 0 1 1 7.2 0a3.6 3.6 0 1 1 -7.2 0ZM266.4 1868.3a3.6 3.6 0 1 1 7.2 0a3.6 3.6 0 1 1 -7.2 0ZM271 1866.3a3.6 3.6 0 1 1 7.2 0a3.6 3.6 0 1 1 -7.2 0ZM273.7 1864.9a3.6 3.6 0 1 1 7.2 0a3.6 3.6 0 1 1 -7.2 0ZM278.1 1864.2a3.6 3.6 0 1 1 7.2 0a3.6 3.6 0 1 1 -7.2 0ZM282.4 1863.5a3.6 3.6 0 1 1 7.2 0a3.6 3.6 0 1 1 -7.2 0ZM286.7 1864.2a3.6 3.6 0 1 1 7.2 0a3.6 3.6 0 1 1 -7.2 0ZM290.9 1864.8a3.6 3.6 0 1 1 7.2 0a3.6 3.6 0 1 1 -7.2 0ZM293.4 1866.8a3.6 3.6 0 1 1 7.2 0a3.6 3.6 0 1 1 -7.2 0ZM295.7 1868.2a3.6 3.6 0 1 1 7.2 0a3.6 3.6 0 1 1 -7.2 0ZM296.2 1872.8a3.6 3.6 0 1 1 7.2 0a3.6 3.6 0 1 1 -7.2 0ZM296.9 1878.2a3.6 3.6 0 1 1 7.2 0a3.6 3.6 0 1 1 -7.2 0ZM296.9 1883.3a3.6 3.6 0 1 1 7.2 0a3.6 3.6 0 1 1 -7.2 0ZM296.9 1888.7a3.6 3.6 0 1 1 7.2 0a3.6 3.6 0 1 1 -7.2 0ZM297.7 1892a3.6 3.6 0 1 1 7.2 0a3.6 3.6 0 1 1 -7.2 0ZM295.3 1890.9a3.6 3.6 0 1 1 7.2 0a3.6 3.6 0 1 1 -7.2 0ZM290.6 1890.9a3.6 3.6 0 1 1 7.2 0a3.6 3.6 0 1 1 -7.2 0ZM285.9 1890.9a3.6 3.6 0 1 1 7.2 0a3.6 3.6 0 1 1 -7.2 0ZM281.3 1890.9a3.6 3.6 0 1 1 7.2 0a3.6 3.6 0 1 1 -7.2 0ZM276.6 1890.9a3.6 3.6 0 1 1 7.2 0a3.6 3.6 0 1 1 -7.2 0ZM271.9 1890.9a3.6 3.6 0 1 1 7.2 0a3.6 3.6 0 1 1 -7.2 0ZM267.2 1890.9a3.6 3.6 0 1 1 7.2 0a3.6 3.6 0 1 1 -7.2 0ZM262.5 1890.9a3.6 3.6 0 1 1 7.2 0a3.6 3.6 0 1 1 -7.2 0ZM257.8 1890.9a3.6 3.6 0 1 1 7.2 0a3.6 3.6 0 1 1 -7.2 0ZM253.1 1890.9a3.6 3.6 0 1 1 7.2 0a3.6 3.6 0 1 1 -7.2 0ZM248.5 1890.9a3.6 3.6 0 1 1 7.2 0a3.6 3.6 0 1 1 -7.2 0ZM243.8 1890.9a3.6 3.6 0 1 1 7.2 0a3.6 3.6 0 1 1 -7.2 0ZM239.1 1890.9a3.6 3.6 0 1 1 7.2 0a3.6 3.6 0 1 1 -7.2 0ZM198.4 1885.2a3.6 3.6 0 1 1 7.2 0a3.6 3.6 0 1 1 -7.2 0ZM202.4 1870.8a3.6 3.6 0 1 1 7.2 0a3.6 3.6 0 1 1 -7.2 0ZM204 1876.4a3.6 3.6 0 1 1 7.2 0a3.6 3.6 0 1 1 -7.2 0ZM203.2 1879.6a3.6 3.6 0 1 1 7.2 0a3.6 3.6 0 1 1 -7.2 0ZM213.6 1875.6a3.6 3.6 0 1 1 7.2 0a3.6 3.6 0 1 1 -7.2 0ZM216.8 1882a3.6 3.6 0 1 1 7.2 0a3.6 3.6 0 1 1 -7.2 0ZM221.6 1878a3.6 3.6 0 1 1 7.2 0a3.6 3.6 0 1 1 -7.2 0ZM224 1882.8a3.6 3.6 0 1 1 7.2 0a3.6 3.6 0 1 1 -7.2 0ZM229.6 1881.2a3.6 3.6 0 1 1 7.2 0a3.6 3.6 0 1 1 -7.2 0ZM232.8 1870a3.6 3.6 0 1 1 7.2 0a3.6 3.6 0 1 1 -7.2 0ZM243.2 1870a3.6 3.6 0 1 1 7.2 0a3.6 3.6 0 1 1 -7.2 0ZM261.6 1862a3.6 3.6 0 1 1 7.2 0a3.6 3.6 0 1 1 -7.2 0ZM264.8 1864.4a3.6 3.6 0 1 1 7.2 0a3.6 3.6 0 1 1 -7.2 0ZM274.4 1858a3.6 3.6 0 1 1 7.2 0a3.6 3.6 0 1 1 -7.2 0ZM284.8 1858.8a3.6 3.6 0 1 1 7.2 0a3.6 3.6 0 1 1 -7.2 0ZM293.6 1858.8a3.6 3.6 0 1 1 7.2 0a3.6 3.6 0 1 1 -7.2 0ZM300 1866.8a3.6 3.6 0 1 1 7.2 0a3.6 3.6 0 1 1 -7.2 0ZM295.2 1870a3.6 3.6 0 1 1 7.2 0a3.6 3.6 0 1 1 -7.2 0Z"/></clipPath>
<g clip-path="url(#cc21)">
<ellipse cx="272" cy="1885" rx="22" ry="12" transform="rotate(0 272 1885)" fill="#121212" filter="url(#b4)"/>
</g>
</g></g>
<g clip-path="url(#clip_B4)"><g filter="url(#cm)">
<path d="M709.6 1526.7a3.6 3.6 0 1 1 7.2 0a3.6 3.6 0 1 1 -7.2 0ZM714.8 1527.4a3.6 3.6 0 1 1 7.2 0a3.6 3.6 0 1 1 -7.2 0ZM722.6 1526.9a3.6 3.6 0 1 1 7.2 0a3.6 3.6 0 1 1 -7.2 0ZM727.4 1526.7a3.6 3.6 0 1 1 7.2 0a3.6 3.6 0 1 1 -7.2 0ZM732.7 1528.1a3.6 3.6 0 1 1 7.2 0a3.6 3.6 0 1 1 -7.2 0ZM738.4 1528a3.6 3.6 0 1 1 7.2 0a3.6 3.6 0 1 1 -7.2 0ZM742 1528.3a3.6 3.6 0 1 1 7.2 0a3.6 3.6 0 1 1 -7.2 0ZM705.5 1529.7a3.6 3.6 0 1 1 7.2 0a3.6 3.6 0 1 1 -7.2 0ZM709.3 1530.8a3.6 3.6 0 1 1 7.2 0a3.6 3.6 0 1 1 -7.2 0ZM711.7 1529.4a3.6 3.6 0 1 1 7.2 0a3.6 3.6 0 1 1 -7.2 0ZM717.5 1530.5a3.6 3.6 0 1 1 7.2 0a3.6 3.6 0 1 1 -7.2 0ZM720.5 1529.7a3.6 3.6 0 1 1 7.2 0a3.6 3.6 0 1 1 -7.2 0ZM726 1531.1a3.6 3.6 0 1 1 7.2 0a3.6 3.6 0 1 1 -7.2 0ZM731.3 1531.4a3.6 3.6 0 1 1 7.2 0a3.6 3.6 0 1 1 -7.2 0ZM735.2 1530.7a3.6 3.6 0 1 1 7.2 0a3.6 3.6 0 1 1 -7.2 0ZM740.6 1530.2a3.6 3.6 0 1 1 7.2 0a3.6 3.6 0 1 1 -7.2 0ZM742.4 1529.8a3.6 3.6 0 1 1 7.2 0a3.6 3.6 0 1 1 -7.2 0ZM701.7 1534.8a3.6 3.6 0 1 1 7.2 0a3.6 3.6 0 1 1 -7.2 0ZM707.1 1535.8a3.6 3.6 0 1 1 7.2 0a3.6 3.6 0 1 1 -7.2 0ZM710.6 1534.8a3.6 3.6 0 1 1 7.2 0a3.6 3.6 0 1 1 -7.2 0ZM714.2 1534.6a3.6 3.6 0 1 1 7.2 0a3.6 3.6 0 1 1 -7.2 0ZM718.1 1535.2a3.6 3.6 0 1 1 7.2 0a3.6 3.6 0 1 1 -7.2 0ZM724.8 1533.8a3.6 3.6 0 1 1 7.2 0a3.6 3.6 0 1 1 -7.2 0ZM727.7 1535.7a3.6 3.6 0 1 1 7.2 0a3.6 3.6 0 1 1 -7.2 0ZM732.3 1534.7a3.6 3.6 0 1 1 7.2 0a3.6 3.6 0 1 1 -7.2 0ZM737.3 1534.9a3.6 3.6 0 1 1 7.2 0a3.6 3.6 0 1 1 -7.2 0ZM742.8 1534.2a3.6 3.6 0 1 1 7.2 0a3.6 3.6 0 1 1 -7.2 0ZM745 1534.6a3.6 3.6 0 1 1 7.2 0a3.6 3.6 0 1 1 -7.2 0ZM700.7 1538.6a3.6 3.6 0 1 1 7.2 0a3.6 3.6 0 1 1 -7.2 0ZM702.9 1539.7a3.6 3.6 0 1 1 7.2 0a3.6 3.6 0 1 1 -7.2 0ZM709 1538.5a3.6 3.6 0 1 1 7.2 0a3.6 3.6 0 1 1 -7.2 0ZM712 1537.9a3.6 3.6 0 1 1 7.2 0a3.6 3.6 0 1 1 -7.2 0ZM717.6 1538.9a3.6 3.6 0 1 1 7.2 0a3.6 3.6 0 1 1 -7.2 0ZM720.5 1537a3.6 3.6 0 1 1 7.2 0a3.6 3.6 0 1 1 -7.2 0ZM725.1 1537.1a3.6 3.6 0 1 1 7.2 0a3.6 3.6 0 1 1 -7.2 0ZM731.6 1538.4a3.6 3.6 0 1 1 7.2 0a3.6 3.6 0 1 1 -7.2 0ZM733.7 1539.2a3.6 3.6 0 1 1 7.2 0a3.6 3.6 0 1 1 -7.2 0ZM740.4 1538.4a3.6 3.6 0 1 1 7.2 0a3.6 3.6 0 1 1 -7.2 0ZM743 1539.7a3.6 3.6 0 1 1 7.2 0a3.6 3.6 0 1 1 -7.2 0ZM747.2 1538.9a3.6 3.6 0 1 1 7.2 0a3.6 3.6 0 1 1 -7.2 0ZM700.9 1541.3a3.6 3.6 0 1 1 7.2 0a3.6 3.6 0 1 1 -7.2 0ZM705.2 1541.2a3.6 3.6 0 1 1 7.2 0a3.6 3.6 0 1 1 -7.2 0ZM710.8 1542.4a3.6 3.6 0 1 1 7.2 0a3.6 3.6 0 1 1 -7.2 0ZM715 1543.7a3.6 3.6 0 1 1 7.2 0a3.6 3.6 0 1 1 -7.2 0ZM719.9 1543a3.6 3.6 0 1 1 7.2 0a3.6 3.6 0 1 1 -7.2 0ZM723.6 1541.1a3.6 3.6 0 1 1 7.2 0a3.6 3.6 0 1 1 -7.2 0ZM728.4 1541.8a3.6 3.6 0 1 1 7.2 0a3.6 3.6 0 1 1 -7.2 0ZM731.4 1541a3.6 3.6 0 1 1 7.2 0a3.6 3.6 0 1 1 -7.2 0ZM736.2 1541a3.6 3.6 0 1 1 7.2 0a3.6 3.6 0 1 1 -7.2 0ZM741.4 1542.3a3.6 3.6 0 1 1 7.2 0a3.6 3.6 0 1 1 -7.2 0ZM745.6 1541.3a3.6 3.6 0 1 1 7.2 0a3.6 3.6 0 1 1 -7.2 0ZM696.5 1545.6a3.6 3.6 0 1 1 7.2 0a3.6 3.6 0 1 1 -7.2 0ZM700.9 1545.1a3.6 3.6 0 1 1 7.2 0a3.6 3.6 0 1 1 -7.2 0ZM703.9 1544.9a3.6 3.6 0 1 1 7.2 0a3.6 3.6 0 1 1 -7.2 0ZM709.1 1545.9a3.6 3.6 0 1 1 7.2 0a3.6 3.6 0 1 1 -7.2 0ZM713.5 1545.6a3.6 3.6 0 1 1 7.2 0a3.6 3.6 0 1 1 -7.2 0ZM717.6 1546.8a3.6 3.6 0 1 1 7.2 0a3.6 3.6 0 1 1 -7.2 0ZM720.2 1546.3a3.6 3.6 0 1 1 7.2 0a3.6 3.6 0 1 1 -7.2 0ZM725.6 1545.1a3.6 3.6 0 1 1 7.2 0a3.6 3.6 0 1 1 -7.2 0ZM729.4 1544.5a3.6 3.6 0 1 1 7.2 0a3.6 3.6 0 1 1 -7.2 0ZM734.4 1544.8a3.6 3.6 0 1 1 7.2 0a3.6 3.6 0 1 1 -7.2 0ZM739.2 1546a3.6 3.6 0 1 1 7.2 0a3.6 3.6 0 1 1 -7.2 0ZM744.6 1545.3a3.6 3.6 0 1 1 7.2 0a3.6 3.6 0 1 1 -7.2 0ZM748.3 1547.6a3.6 3.6 0 1 1 7.2 0a3.6 3.6 0 1 1 -7.2 0ZM696.3 1550.5a3.6 3.6 0 1 1 7.2 0a3.6 3.6 0 1 1 -7.2 0ZM701.2 1550.4a3.6 3.6 0 1 1 7.2 0a3.6 3.6 0 1 1 -7.2 0ZM706.7 1548.9a3.6 3.6 0 1 1 7.2 0a3.6 3.6 0 1 1 -7.2 0ZM711.7 1551.1a3.6 3.6 0 1 1 7.2 0a3.6 3.6 0 1 1 -7.2 0ZM714.9 1550.1a3.6 3.6 0 1 1 7.2 0a3.6 3.6 0 1 1 -7.2 0ZM720 1549.8a3.6 3.6 0 1 1 7.2 0a3.6 3.6 0 1 1 -7.2 0ZM723.7 1551.2a3.6 3.6 0 1 1 7.2 0a3.6 3.6 0 1 1 -7.2 0ZM728.6 1548.4a3.6 3.6 0 1 1 7.2 0a3.6 3.6 0 1 1 -7.2 0ZM732.5 1548.8a3.6 3.6 0 1 1 7.2 0a3.6 3.6 0 1 1 -7.2 0ZM738 1551.3a3.6 3.6 0 1 1 7.2 0a3.6 3.6 0 1 1 -7.2 0ZM741 1550.4a3.6 3.6 0 1 1 7.2 0a3.6 3.6 0 1 1 -7.2 0ZM747.4 1551.4a3.6 3.6 0 1 1 7.2 0a3.6 3.6 0 1 1 -7.2 0ZM695.7 1552.7a3.6 3.6 0 1 1 7.2 0a3.6 3.6 0 1 1 -7.2 0ZM698.3 1555.2a3.6 3.6 0 1 1 7.2 0a3.6 3.6 0 1 1 -7.2 0ZM703.4 1553.8a3.6 3.6 0 1 1 7.2 0a3.6 3.6 0 1 1 -7.2 0ZM708.6 1553.8a3.6 3.6 0 1 1 7.2 0a3.6 3.6 0 1 1 -7.2 0ZM714 1552.2a3.6 3.6 0 1 1 7.2 0a3.6 3.6 0 1 1 -7.2 0ZM718.4 1554.8a3.6 3.6 0 1 1 7.2 0a3.6 3.6 0 1 1 -7.2 0ZM721.9 1553.4a3.6 3.6 0 1 1 7.2 0a3.6 3.6 0 1 1 -7.2 0ZM724.7 1553.6a3.6 3.6 0 1 1 7.2 0a3.6 3.6 0 1 1 -7.2 0ZM731.6 1554a3.6 3.6 0 1 1 7.2 0a3.6 3.6 0 1 1 -7.2 0ZM736.3 1555.1a3.6 3.6 0 1 1 7.2 0a3.6 3.6 0 1 1 -7.2 0ZM739.7 1552.6a3.6 3.6 0 1 1 7.2 0a3.6 3.6 0 1 1 -7.2 0ZM743.6 1553.3a3.6 3.6 0 1 1 7.2 0a3.6 3.6 0 1 1 -7.2 0ZM748.6 1553.7a3.6 3.6 0 1 1 7.2 0a3.6 3.6 0 1 1 -7.2 0ZM751.4 1554a3.6 3.6 0 1 1 7.2 0a3.6 3.6 0 1 1 -7.2 0ZM694.4 1558.4a3.6 3.6 0 1 1 7.2 0a3.6 3.6 0 1 1 -7.2 0ZM697 1557.2a3.6 3.6 0 1 1 7.2 0a3.6 3.6 0 1 1 -7.2 0ZM702.9 1556.5a3.6 3.6 0 1 1 7.2 0a3.6 3.6 0 1 1 -7.2 0ZM705 1556.4a3.6 3.6 0 1 1 7.2 0a3.6 3.6 0 1 1 -7.2 0ZM711.1 1556.4a3.6 3.6 0 1 1 7.2 0a3.6 3.6 0 1 1 -7.2 0ZM715.5 1557.1a3.6 3.6 0 1 1 7.2 0a3.6 3.6 0 1 1 -7.2 0ZM718.3 1556.8a3.6 3.6 0 1 1 7.2 0a3.6 3.6 0 1 1 -7.2 0ZM725.2 1557.5a3.6 3.6 0 1 1 7.2 0a3.6 3.6 0 1 1 -7.2 0ZM726.8 1557a3.6 3.6 0 1 1 7.2 0a3.6 3.6 0 1 1 -7.2 0ZM733.4 1556.4a3.6 3.6 0 1 1 7.2 0a3.6 3.6 0 1 1 -7.2 0ZM737.5 1556a3.6 3.6 0 1 1 7.2 0a3.6 3.6 0 1 1 -7.2 0ZM741.8 1557.3a3.6 3.6 0 1 1 7.2 0a3.6 3.6 0 1 1 -7.2 0ZM746.3 1557.6a3.6 3.6 0 1 1 7.2 0a3.6 3.6 0 1 1 -7.2 0ZM750.7 1558.8a3.6 3.6 0 1 1 7.2 0a3.6 3.6 0 1 1 -7.2 0ZM755 1557.1a3.6 3.6 0 1 1 7.2 0a3.6 3.6 0 1 1 -7.2 0ZM691.4 1562.2a3.6 3.6 0 1 1 7.2 0a3.6 3.6 0 1 1 -7.2 0ZM693.9 1561.4a3.6 3.6 0 1 1 7.2 0a3.6 3.6 0 1 1 -7.2 0ZM701 1561a3.6 3.6 0 1 1 7.2 0a3.6 3.6 0 1 1 -7.2 0ZM703.2 1561.7a3.6 3.6 0 1 1 7.2 0a3.6 3.6 0 1 1 -7.2 0ZM708.1 1560.2a3.6 3.6 0 1 1 7.2 0a3.6 3.6 0 1 1 -7.2 0ZM712.1 1562.3a3.6 3.6 0 1 1 7.2 0a3.6 3.6 0 1 1 -7.2 0ZM716.5 1562.3a3.6 3.6 0 1 1 7.2 0a3.6 3.6 0 1 1 -7.2 0ZM720.9 1562.3a3.6 3.6 0 1 1 7.2 0a3.6 3.6 0 1 1 -7.2 0ZM726.4 1561.5a3.6 3.6 0 1 1 7.2 0a3.6 3.6 0 1 1 -7.2 0ZM729.6 1560.2a3.6 3.6 0 1 1 7.2 0a3.6 3.6 0 1 1 -7.2 0ZM736.3 1562.1a3.6 3.6 0 1 1 7.2 0a3.6 3.6 0 1 1 -7.2 0ZM740.7 1560.1a3.6 3.6 0 1 1 7.2 0a3.6 3.6 0 1 1 -7.2 0ZM742.5 1562.5a3.6 3.6 0 1 1 7.2 0a3.6 3.6 0 1 1 -7.2 0ZM749.4 1562.3a3.6 3.6 0 1 1 7.2 0a3.6 3.6 0 1 1 -7.2 0ZM752.8 1560.4a3.6 3.6 0 1 1 7.2 0a3.6 3.6 0 1 1 -7.2 0ZM696.4 1564.6a3.6 3.6 0 1 1 7.2 0a3.6 3.6 0 1 1 -7.2 0ZM700.7 1564.6a3.6 3.6 0 1 1 7.2 0a3.6 3.6 0 1 1 -7.2 0ZM705.9 1565.8a3.6 3.6 0 1 1 7.2 0a3.6 3.6 0 1 1 -7.2 0ZM709.6 1564.1a3.6 3.6 0 1 1 7.2 0a3.6 3.6 0 1 1 -7.2 0ZM716 1566.2a3.6 3.6 0 1 1 7.2 0a3.6 3.6 0 1 1 -7.2 0ZM720.2 1563.8a3.6 3.6 0 1 1 7.2 0a3.6 3.6 0 1 1 -7.2 0ZM722.8 1565.7a3.6 3.6 0 1 1 7.2 0a3.6 3.6 0 1 1 -7.2 0ZM728 1565.8a3.6 3.6 0 1 1 7.2 0a3.6 3.6 0 1 1 -7.2 0ZM733.3 1566.3a3.6 3.6 0 1 1 7.2 0a3.6 3.6 0 1 1 -7.2 0ZM737.1 1564.6a3.6 3.6 0 1 1 7.2 0a3.6 3.6 0 1 1 -7.2 0ZM742.3 1566.3a3.6 3.6 0 1 1 7.2 0a3.6 3.6 0 1 1 -7.2 0ZM746.1 1566.5a3.6 3.6 0 1 1 7.2 0a3.6 3.6 0 1 1 -7.2 0ZM751.6 1566.1a3.6 3.6 0 1 1 7.2 0a3.6 3.6 0 1 1 -7.2 0ZM755.6 1565.2a3.6 3.6 0 1 1 7.2 0a3.6 3.6 0 1 1 -7.2 0ZM696.8 1567.7a3.6 3.6 0 1 1 7.2 0a3.6 3.6 0 1 1 -7.2 0ZM700.8 1568.1a3.6 3.6 0 1 1 7.2 0a3.6 3.6 0 1 1 -7.2 0ZM702.7 1569.3a3.6 3.6 0 1 1 7.2 0a3.6 3.6 0 1 1 -7.2 0ZM710 1568.9a3.6 3.6 0 1 1 7.2 0a3.6 3.6 0 1 1 -7.2 0ZM712 1569.6a3.6 3.6 0 1 1 7.2 0a3.6 3.6 0 1 1 -7.2 0ZM715.9 1569.9a3.6 3.6 0 1 1 7.2 0a3.6 3.6 0 1 1 -7.2 0ZM722.2 1568.6a3.6 3.6 0 1 1 7.2 0a3.6 3.6 0 1 1 -7.2 0ZM726.2 1568.8a3.6 3.6 0 1 1 7.2 0a3.6 3.6 0 1 1 -7.2 0ZM732 1568.9a3.6 3.6 0 1 1 7.2 0a3.6 3.6 0 1 1 -7.2 0ZM736.4 1568.1a3.6 3.6 0 1 1 7.2 0a3.6 3.6 0 1 1 -7.2 0ZM738.8 1567.5a3.6 3.6 0 1 1 7.2 0a3.6 3.6 0 1 1 -7.2 0ZM744.2 1568.5a3.6 3.6 0 1 1 7.2 0a3.6 3.6 0 1 1 -7.2 0ZM749.3 1569.4a3.6 3.6 0 1 1 7.2 0a3.6 3.6 0 1 1 -7.2 0ZM751.8 1569a3.6 3.6 0 1 1 7.2 0a3.6 3.6 0 1 1 -7.2 0ZM757.1 1570a3.6 3.6 0 1 1 7.2 0a3.6 3.6 0 1 1 -7.2 0ZM697.3 1574.1a3.6 3.6 0 1 1 7.2 0a3.6 3.6 0 1 1 -7.2 0ZM700.6 1573.1a3.6 3.6 0 1 1 7.2 0a3.6 3.6 0 1 1 -7.2 0ZM707.1 1572.8a3.6 3.6 0 1 1 7.2 0a3.6 3.6 0 1 1 -7.2 0ZM709.9 1573.6a3.6 3.6 0 1 1 7.2 0a3.6 3.6 0 1 1 -7.2 0ZM714.8 1571.8a3.6 3.6 0 1 1 7.2 0a3.6 3.6 0 1 1 -7.2 0ZM719.1 1573.7a3.6 3.6 0 1 1 7.2 0a3.6 3.6 0 1 1 -7.2 0ZM723.5 1573.6a3.6 3.6 0 1 1 7.2 0a3.6 3.6 0 1 1 -7.2 0ZM727.3 1573.4a3.6 3.6 0 1 1 7.2 0a3.6 3.6 0 1 1 -7.2 0ZM733.7 1573.5a3.6 3.6 0 1 1 7.2 0a3.6 3.6 0 1 1 -7.2 0ZM737.6 1571.3a3.6 3.6 0 1 1 7.2 0a3.6 3.6 0 1 1 -7.2 0ZM742.2 1573.6a3.6 3.6 0 1 1 7.2 0a3.6 3.6 0 1 1 -7.2 0ZM744.6 1571.8a3.6 3.6 0 1 1 7.2 0a3.6 3.6 0 1 1 -7.2 0ZM749.3 1571.6a3.6 3.6 0 1 1 7.2 0a3.6 3.6 0 1 1 -7.2 0ZM753.8 1571.7a3.6 3.6 0 1 1 7.2 0a3.6 3.6 0 1 1 -7.2 0ZM758.8 1574.2a3.6 3.6 0 1 1 7.2 0a3.6 3.6 0 1 1 -7.2 0ZM698.3 1578a3.6 3.6 0 1 1 7.2 0a3.6 3.6 0 1 1 -7.2 0ZM705.4 1577.1a3.6 3.6 0 1 1 7.2 0a3.6 3.6 0 1 1 -7.2 0ZM708.6 1577.6a3.6 3.6 0 1 1 7.2 0a3.6 3.6 0 1 1 -7.2 0ZM712 1575.6a3.6 3.6 0 1 1 7.2 0a3.6 3.6 0 1 1 -7.2 0ZM716.4 1577.4a3.6 3.6 0 1 1 7.2 0a3.6 3.6 0 1 1 -7.2 0ZM722.4 1577.2a3.6 3.6 0 1 1 7.2 0a3.6 3.6 0 1 1 -7.2 0ZM724.6 1576.9a3.6 3.6 0 1 1 7.2 0a3.6 3.6 0 1 1 -7.2 0ZM729.6 1577.9a3.6 3.6 0 1 1 7.2 0a3.6 3.6 0 1 1 -7.2 0ZM734.7 1577a3.6 3.6 0 1 1 7.2 0a3.6 3.6 0 1 1 -7.2 0ZM740 1576.4a3.6 3.6 0 1 1 7.2 0a3.6 3.6 0 1 1 -7.2 0ZM743.8 1575.1a3.6 3.6 0 1 1 7.2 0a3.6 3.6 0 1 1 -7.2 0ZM747.3 1577a3.6 3.6 0 1 1 7.2 0a3.6 3.6 0 1 1 -7.2 0ZM752.2 1577.5a3.6 3.6 0 1 1 7.2 0a3.6 3.6 0 1 1 -7.2 0ZM755.9 1575.2a3.6 3.6 0 1 1 7.2 0a3.6 3.6 0 1 1 -7.2 0ZM702.1 1579a3.6 3.6 0 1 1 7.2 0a3.6 3.6 0 1 1 -7.2 0ZM706.2 1581.3a3.6 3.6 0 1 1 7.2 0a3.6 3.6 0 1 1 -7.2 0ZM711.2 1579.1a3.6 3.6 0 1 1 7.2 0a3.6 3.6 0 1 1 -7.2 0ZM713.9 1581a3.6 3.6 0 1 1 7.2 0a3.6 3.6 0 1 1 -7.2 0ZM720.7 1580.7a3.6 3.6 0 1 1 7.2 0a3.6 3.6 0 1 1 -7.2 0ZM723.1 1581.8a3.6 3.6 0 1 1 7.2 0a3.6 3.6 0 1 1 -7.2 0ZM728.4 1580.9a3.6 3.6 0 1 1 7.2 0a3.6 3.6 0 1 1 -7.2 0ZM733.6 1579.2a3.6 3.6 0 1 1 7.2 0a3.6 3.6 0 1 1 -7.2 0ZM736.9 1579a3.6 3.6 0 1 1 7.2 0a3.6 3.6 0 1 1 -7.2 0ZM742.5 1581.6a3.6 3.6 0 1 1 7.2 0a3.6 3.6 0 1 1 -7.2 0ZM744.8 1579a3.6 3.6 0 1 1 7.2 0a3.6 3.6 0 1 1 -7.2 0ZM748.8 1581a3.6 3.6 0 1 1 7.2 0a3.6 3.6 0 1 1 -7.2 0ZM755.3 1580.4a3.6 3.6 0 1 1 7.2 0a3.6 3.6 0 1 1 -7.2 0ZM702.6 1585.2a3.6 3.6 0 1 1 7.2 0a3.6 3.6 0 1 1 -7.2 0ZM707.3 1583a3.6 3.6 0 1 1 7.2 0a3.6 3.6 0 1 1 -7.2 0ZM712 1584.3a3.6 3.6 0 1 1 7.2 0a3.6 3.6 0 1 1 -7.2 0ZM718.4 1584a3.6 3.6 0 1 1 7.2 0a3.6 3.6 0 1 1 -7.2 0ZM723.2 1583a3.6 3.6 0 1 1 7.2 0a3.6 3.6 0 1 1 -7.2 0ZM725.3 1585.5a3.6 3.6 0 1 1 7.2 0a3.6 3.6 0 1 1 -7.2 0ZM731.4 1584a3.6 3.6 0 1 1 7.2 0a3.6 3.6 0 1 1 -7.2 0ZM734.5 1584.2a3.6 3.6 0 1 1 7.2 0a3.6 3.6 0 1 1 -7.2 0ZM738.5 1585.6a3.6 3.6 0 1 1 7.2 0a3.6 3.6 0 1 1 -7.2 0ZM743.1 1582.9a3.6 3.6 0 1 1 7.2 0a3.6 3.6 0 1 1 -7.2 0ZM748.3 1582.8a3.6 3.6 0 1 1 7.2 0a3.6 3.6 0 1 1 -7.2 0ZM751.5 1582.7a3.6 3.6 0 1 1 7.2 0a3.6 3.6 0 1 1 -7.2 0ZM707 1586.6a3.6 3.6 0 1 1 7.2 0a3.6 3.6 0 1 1 -7.2 0ZM710.7 1587.8a3.6 3.6 0 1 1 7.2 0a3.6 3.6 0 1 1 -7.2 0ZM713.6 1588.6a3.6 3.6 0 1 1 7.2 0a3.6 3.6 0 1 1 -7.2 0ZM718.1 1586.9a3.6 3.6 0 1 1 7.2 0a3.6 3.6 0 1 1 -7.2 0ZM725.3 1587.1a3.6 3.6 0 1 1 7.2 0a3.6 3.6 0 1 1 -7.2 0ZM727.3 1589.1a3.6 3.6 0 1 1 7.2 0a3.6 3.6 0 1 1 -7.2 0ZM732.8 1587.5a3.6 3.6 0 1 1 7.2 0a3.6 3.6 0 1 1 -7.2 0ZM736.6 1588.6a3.6 3.6 0 1 1 7.2 0a3.6 3.6 0 1 1 -7.2 0ZM742.5 1589.4a3.6 3.6 0 1 1 7.2 0a3.6 3.6 0 1 1 -7.2 0ZM745.5 1587a3.6 3.6 0 1 1 7.2 0a3.6 3.6 0 1 1 -7.2 0ZM708.2 1593a3.6 3.6 0 1 1 7.2 0a3.6 3.6 0 1 1 -7.2 0ZM711.6 1590.3a3.6 3.6 0 1 1 7.2 0a3.6 3.6 0 1 1 -7.2 0ZM716 1591.2a3.6 3.6 0 1 1 7.2 0a3.6 3.6 0 1 1 -7.2 0ZM720.9 1591.2a3.6 3.6 0 1 1 7.2 0a3.6 3.6 0 1 1 -7.2 0ZM727.1 1591.3a3.6 3.6 0 1 1 7.2 0a3.6 3.6 0 1 1 -7.2 0ZM729.9 1592.4a3.6 3.6 0 1 1 7.2 0a3.6 3.6 0 1 1 -7.2 0ZM734.5 1592.3a3.6 3.6 0 1 1 7.2 0a3.6 3.6 0 1 1 -7.2 0ZM739.1 1592.7a3.6 3.6 0 1 1 7.2 0a3.6 3.6 0 1 1 -7.2 0ZM706 1596.9a3.6 3.6 0 1 1 7.2 0a3.6 3.6 0 1 1 -7.2 0ZM710.1 1595.3a3.6 3.6 0 1 1 7.2 0a3.6 3.6 0 1 1 -7.2 0ZM716.1 1596.7a3.6 3.6 0 1 1 7.2 0a3.6 3.6 0 1 1 -7.2 0ZM720.5 1597a3.6 3.6 0 1 1 7.2 0a3.6 3.6 0 1 1 -7.2 0ZM723 1596.3a3.6 3.6 0 1 1 7.2 0a3.6 3.6 0 1 1 -7.2 0ZM729.2 1597a3.6 3.6 0 1 1 7.2 0a3.6 3.6 0 1 1 -7.2 0ZM731.9 1596.9a3.6 3.6 0 1 1 7.2 0a3.6 3.6 0 1 1 -7.2 0ZM737.3 1594.4a3.6 3.6 0 1 1 7.2 0a3.6 3.6 0 1 1 -7.2 0ZM741.9 1595.9a3.6 3.6 0 1 1 7.2 0a3.6 3.6 0 1 1 -7.2 0ZM709.3 1599.6a3.6 3.6 0 1 1 7.2 0a3.6 3.6 0 1 1 -7.2 0ZM713.7 1600.2a3.6 3.6 0 1 1 7.2 0a3.6 3.6 0 1 1 -7.2 0ZM717.4 1600.7a3.6 3.6 0 1 1 7.2 0a3.6 3.6 0 1 1 -7.2 0ZM722.5 1598.8a3.6 3.6 0 1 1 7.2 0a3.6 3.6 0 1 1 -7.2 0ZM725.2 1600.4a3.6 3.6 0 1 1 7.2 0a3.6 3.6 0 1 1 -7.2 0ZM730.1 1597.9a3.6 3.6 0 1 1 7.2 0a3.6 3.6 0 1 1 -7.2 0ZM733.4 1599.5a3.6 3.6 0 1 1 7.2 0a3.6 3.6 0 1 1 -7.2 0ZM739 1600.1a3.6 3.6 0 1 1 7.2 0a3.6 3.6 0 1 1 -7.2 0ZM710.8 1602.5a3.6 3.6 0 1 1 7.2 0a3.6 3.6 0 1 1 -7.2 0ZM715 1602.3a3.6 3.6 0 1 1 7.2 0a3.6 3.6 0 1 1 -7.2 0ZM718.5 1604.4a3.6 3.6 0 1 1 7.2 0a3.6 3.6 0 1 1 -7.2 0ZM725.2 1602.1a3.6 3.6 0 1 1 7.2 0a3.6 3.6 0 1 1 -7.2 0ZM728.5 1603.6a3.6 3.6 0 1 1 7.2 0a3.6 3.6 0 1 1 -7.2 0ZM732.6 1602.6a3.6 3.6 0 1 1 7.2 0a3.6 3.6 0 1 1 -7.2 0ZM738.6 1603.1a3.6 3.6 0 1 1 7.2 0a3.6 3.6 0 1 1 -7.2 0ZM740.8 1602.1a3.6 3.6 0 1 1 7.2 0a3.6 3.6 0 1 1 -7.2 0ZM745.3 1603.2a3.6 3.6 0 1 1 7.2 0a3.6 3.6 0 1 1 -7.2 0ZM711.6 1607.7a3.6 3.6 0 1 1 7.2 0a3.6 3.6 0 1 1 -7.2 0ZM716.5 1606.1a3.6 3.6 0 1 1 7.2 0a3.6 3.6 0 1 1 -7.2 0ZM725.4 1607.4a3.6 3.6 0 1 1 7.2 0a3.6 3.6 0 1 1 -7.2 0ZM736.1 1607a3.6 3.6 0 1 1 7.2 0a3.6 3.6 0 1 1 -7.2 0ZM739.2 1605.8a3.6 3.6 0 1 1 7.2 0a3.6 3.6 0 1 1 -7.2 0ZM693.9 1512.8a3.6 3.6 0 1 1 7.2 0a3.6 3.6 0 1 1 -7.2 0ZM724.2 1511.7a3.6 3.6 0 1 1 7.2 0a3.6 3.6 0 1 1 -7.2 0ZM744.3 1518.4a3.6 3.6 0 1 1 7.2 0a3.6 3.6 0 1 1 -7.2 0ZM753.8 1525.1a3.6 3.6 0 1 1 7.2 0a3.6 3.6 0 1 1 -7.2 0ZM755 1534.1a3.6 3.6 0 1 1 7.2 0a3.6 3.6 0 1 1 -7.2 0ZM759.4 1544.2a3.6 3.6 0 1 1 7.2 0a3.6 3.6 0 1 1 -7.2 0ZM680.5 1533a3.6 3.6 0 1 1 7.2 0a3.6 3.6 0 1 1 -7.2 0ZM682.2 1564.9a3.6 3.6 0 1 1 7.2 0a3.6 3.6 0 1 1 -7.2 0ZM682.2 1568.2a3.6 3.6 0 1 1 7.2 0a3.6 3.6 0 1 1 -7.2 0ZM675.4 1571a3.6 3.6 0 1 1 7.2 0a3.6 3.6 0 1 1 -7.2 0ZM688.9 1576.1a3.6 3.6 0 1 1 7.2 0a3.6 3.6 0 1 1 -7.2 0ZM685 1594.6a3.6 3.6 0 1 1 7.2 0a3.6 3.6 0 1 1 -7.2 0ZM697.8 1593.4a3.6 3.6 0 1 1 7.2 0a3.6 3.6 0 1 1 -7.2 0ZM699.5 1603.5a3.6 3.6 0 1 1 7.2 0a3.6 3.6 0 1 1 -7.2 0ZM753.8 1586.2a3.6 3.6 0 1 1 7.2 0a3.6 3.6 0 1 1 -7.2 0ZM713.5 1643.3a3.6 3.6 0 1 1 7.2 0a3.6 3.6 0 1 1 -7.2 0ZM744.9 1641a3.6 3.6 0 1 1 7.2 0a3.6 3.6 0 1 1 -7.2 0ZM728.6 1679.1a3.6 3.6 0 1 1 7.2 0a3.6 3.6 0 1 1 -7.2 0ZM743.8 1615.3a3.6 3.6 0 1 1 7.2 0a3.6 3.6 0 1 1 -7.2 0ZM741.5 1620.9a3.6 3.6 0 1 1 7.2 0a3.6 3.6 0 1 1 -7.2 0ZM747.1 1603a3.6 3.6 0 1 1 7.2 0a3.6 3.6 0 1 1 -7.2 0ZM732.6 1649.4a3.6 3.6 0 1 1 7.2 0a3.6 3.6 0 1 1 -7.2 0Z" fill="#050505"/>
<clipPath id="cc22"><path d="M709.6 1526.7a3.6 3.6 0 1 1 7.2 0a3.6 3.6 0 1 1 -7.2 0ZM714.8 1527.4a3.6 3.6 0 1 1 7.2 0a3.6 3.6 0 1 1 -7.2 0ZM722.6 1526.9a3.6 3.6 0 1 1 7.2 0a3.6 3.6 0 1 1 -7.2 0ZM727.4 1526.7a3.6 3.6 0 1 1 7.2 0a3.6 3.6 0 1 1 -7.2 0ZM732.7 1528.1a3.6 3.6 0 1 1 7.2 0a3.6 3.6 0 1 1 -7.2 0ZM738.4 1528a3.6 3.6 0 1 1 7.2 0a3.6 3.6 0 1 1 -7.2 0ZM742 1528.3a3.6 3.6 0 1 1 7.2 0a3.6 3.6 0 1 1 -7.2 0ZM705.5 1529.7a3.6 3.6 0 1 1 7.2 0a3.6 3.6 0 1 1 -7.2 0ZM709.3 1530.8a3.6 3.6 0 1 1 7.2 0a3.6 3.6 0 1 1 -7.2 0ZM711.7 1529.4a3.6 3.6 0 1 1 7.2 0a3.6 3.6 0 1 1 -7.2 0ZM717.5 1530.5a3.6 3.6 0 1 1 7.2 0a3.6 3.6 0 1 1 -7.2 0ZM720.5 1529.7a3.6 3.6 0 1 1 7.2 0a3.6 3.6 0 1 1 -7.2 0ZM726 1531.1a3.6 3.6 0 1 1 7.2 0a3.6 3.6 0 1 1 -7.2 0ZM731.3 1531.4a3.6 3.6 0 1 1 7.2 0a3.6 3.6 0 1 1 -7.2 0ZM735.2 1530.7a3.6 3.6 0 1 1 7.2 0a3.6 3.6 0 1 1 -7.2 0ZM740.6 1530.2a3.6 3.6 0 1 1 7.2 0a3.6 3.6 0 1 1 -7.2 0ZM742.4 1529.8a3.6 3.6 0 1 1 7.2 0a3.6 3.6 0 1 1 -7.2 0ZM701.7 1534.8a3.6 3.6 0 1 1 7.2 0a3.6 3.6 0 1 1 -7.2 0ZM707.1 1535.8a3.6 3.6 0 1 1 7.2 0a3.6 3.6 0 1 1 -7.2 0ZM710.6 1534.8a3.6 3.6 0 1 1 7.2 0a3.6 3.6 0 1 1 -7.2 0ZM714.2 1534.6a3.6 3.6 0 1 1 7.2 0a3.6 3.6 0 1 1 -7.2 0ZM718.1 1535.2a3.6 3.6 0 1 1 7.2 0a3.6 3.6 0 1 1 -7.2 0ZM724.8 1533.8a3.6 3.6 0 1 1 7.2 0a3.6 3.6 0 1 1 -7.2 0ZM727.7 1535.7a3.6 3.6 0 1 1 7.2 0a3.6 3.6 0 1 1 -7.2 0ZM732.3 1534.7a3.6 3.6 0 1 1 7.2 0a3.6 3.6 0 1 1 -7.2 0ZM737.3 1534.9a3.6 3.6 0 1 1 7.2 0a3.6 3.6 0 1 1 -7.2 0ZM742.8 1534.2a3.6 3.6 0 1 1 7.2 0a3.6 3.6 0 1 1 -7.2 0ZM745 1534.6a3.6 3.6 0 1 1 7.2 0a3.6 3.6 0 1 1 -7.2 0ZM700.7 1538.6a3.6 3.6 0 1 1 7.2 0a3.6 3.6 0 1 1 -7.2 0ZM702.9 1539.7a3.6 3.6 0 1 1 7.2 0a3.6 3.6 0 1 1 -7.2 0ZM709 1538.5a3.6 3.6 0 1 1 7.2 0a3.6 3.6 0 1 1 -7.2 0ZM712 1537.9a3.6 3.6 0 1 1 7.2 0a3.6 3.6 0 1 1 -7.2 0ZM717.6 1538.9a3.6 3.6 0 1 1 7.2 0a3.6 3.6 0 1 1 -7.2 0ZM720.5 1537a3.6 3.6 0 1 1 7.2 0a3.6 3.6 0 1 1 -7.2 0ZM725.1 1537.1a3.6 3.6 0 1 1 7.2 0a3.6 3.6 0 1 1 -7.2 0ZM731.6 1538.4a3.6 3.6 0 1 1 7.2 0a3.6 3.6 0 1 1 -7.2 0ZM733.7 1539.2a3.6 3.6 0 1 1 7.2 0a3.6 3.6 0 1 1 -7.2 0ZM740.4 1538.4a3.6 3.6 0 1 1 7.2 0a3.6 3.6 0 1 1 -7.2 0ZM743 1539.7a3.6 3.6 0 1 1 7.2 0a3.6 3.6 0 1 1 -7.2 0ZM747.2 1538.9a3.6 3.6 0 1 1 7.2 0a3.6 3.6 0 1 1 -7.2 0ZM700.9 1541.3a3.6 3.6 0 1 1 7.2 0a3.6 3.6 0 1 1 -7.2 0ZM705.2 1541.2a3.6 3.6 0 1 1 7.2 0a3.6 3.6 0 1 1 -7.2 0ZM710.8 1542.4a3.6 3.6 0 1 1 7.2 0a3.6 3.6 0 1 1 -7.2 0ZM715 1543.7a3.6 3.6 0 1 1 7.2 0a3.6 3.6 0 1 1 -7.2 0ZM719.9 1543a3.6 3.6 0 1 1 7.2 0a3.6 3.6 0 1 1 -7.2 0ZM723.6 1541.1a3.6 3.6 0 1 1 7.2 0a3.6 3.6 0 1 1 -7.2 0ZM728.4 1541.8a3.6 3.6 0 1 1 7.2 0a3.6 3.6 0 1 1 -7.2 0ZM731.4 1541a3.6 3.6 0 1 1 7.2 0a3.6 3.6 0 1 1 -7.2 0ZM736.2 1541a3.6 3.6 0 1 1 7.2 0a3.6 3.6 0 1 1 -7.2 0ZM741.4 1542.3a3.6 3.6 0 1 1 7.2 0a3.6 3.6 0 1 1 -7.2 0ZM745.6 1541.3a3.6 3.6 0 1 1 7.2 0a3.6 3.6 0 1 1 -7.2 0ZM696.5 1545.6a3.6 3.6 0 1 1 7.2 0a3.6 3.6 0 1 1 -7.2 0ZM700.9 1545.1a3.6 3.6 0 1 1 7.2 0a3.6 3.6 0 1 1 -7.2 0ZM703.9 1544.9a3.6 3.6 0 1 1 7.2 0a3.6 3.6 0 1 1 -7.2 0ZM709.1 1545.9a3.6 3.6 0 1 1 7.2 0a3.6 3.6 0 1 1 -7.2 0ZM713.5 1545.6a3.6 3.6 0 1 1 7.2 0a3.6 3.6 0 1 1 -7.2 0ZM717.6 1546.8a3.6 3.6 0 1 1 7.2 0a3.6 3.6 0 1 1 -7.2 0ZM720.2 1546.3a3.6 3.6 0 1 1 7.2 0a3.6 3.6 0 1 1 -7.2 0ZM725.6 1545.1a3.6 3.6 0 1 1 7.2 0a3.6 3.6 0 1 1 -7.2 0ZM729.4 1544.5a3.6 3.6 0 1 1 7.2 0a3.6 3.6 0 1 1 -7.2 0ZM734.4 1544.8a3.6 3.6 0 1 1 7.2 0a3.6 3.6 0 1 1 -7.2 0ZM739.2 1546a3.6 3.6 0 1 1 7.2 0a3.6 3.6 0 1 1 -7.2 0ZM744.6 1545.3a3.6 3.6 0 1 1 7.2 0a3.6 3.6 0 1 1 -7.2 0ZM748.3 1547.6a3.6 3.6 0 1 1 7.2 0a3.6 3.6 0 1 1 -7.2 0ZM696.3 1550.5a3.6 3.6 0 1 1 7.2 0a3.6 3.6 0 1 1 -7.2 0ZM701.2 1550.4a3.6 3.6 0 1 1 7.2 0a3.6 3.6 0 1 1 -7.2 0ZM706.7 1548.9a3.6 3.6 0 1 1 7.2 0a3.6 3.6 0 1 1 -7.2 0ZM711.7 1551.1a3.6 3.6 0 1 1 7.2 0a3.6 3.6 0 1 1 -7.2 0ZM714.9 1550.1a3.6 3.6 0 1 1 7.2 0a3.6 3.6 0 1 1 -7.2 0ZM720 1549.8a3.6 3.6 0 1 1 7.2 0a3.6 3.6 0 1 1 -7.2 0ZM723.7 1551.2a3.6 3.6 0 1 1 7.2 0a3.6 3.6 0 1 1 -7.2 0ZM728.6 1548.4a3.6 3.6 0 1 1 7.2 0a3.6 3.6 0 1 1 -7.2 0ZM732.5 1548.8a3.6 3.6 0 1 1 7.2 0a3.6 3.6 0 1 1 -7.2 0ZM738 1551.3a3.6 3.6 0 1 1 7.2 0a3.6 3.6 0 1 1 -7.2 0ZM741 1550.4a3.6 3.6 0 1 1 7.2 0a3.6 3.6 0 1 1 -7.2 0ZM747.4 1551.4a3.6 3.6 0 1 1 7.2 0a3.6 3.6 0 1 1 -7.2 0ZM695.7 1552.7a3.6 3.6 0 1 1 7.2 0a3.6 3.6 0 1 1 -7.2 0ZM698.3 1555.2a3.6 3.6 0 1 1 7.2 0a3.6 3.6 0 1 1 -7.2 0ZM703.4 1553.8a3.6 3.6 0 1 1 7.2 0a3.6 3.6 0 1 1 -7.2 0ZM708.6 1553.8a3.6 3.6 0 1 1 7.2 0a3.6 3.6 0 1 1 -7.2 0ZM714 1552.2a3.6 3.6 0 1 1 7.2 0a3.6 3.6 0 1 1 -7.2 0ZM718.4 1554.8a3.6 3.6 0 1 1 7.2 0a3.6 3.6 0 1 1 -7.2 0ZM721.9 1553.4a3.6 3.6 0 1 1 7.2 0a3.6 3.6 0 1 1 -7.2 0ZM724.7 1553.6a3.6 3.6 0 1 1 7.2 0a3.6 3.6 0 1 1 -7.2 0ZM731.6 1554a3.6 3.6 0 1 1 7.2 0a3.6 3.6 0 1 1 -7.2 0ZM736.3 1555.1a3.6 3.6 0 1 1 7.2 0a3.6 3.6 0 1 1 -7.2 0ZM739.7 1552.6a3.6 3.6 0 1 1 7.2 0a3.6 3.6 0 1 1 -7.2 0ZM743.6 1553.3a3.6 3.6 0 1 1 7.2 0a3.6 3.6 0 1 1 -7.2 0ZM748.6 1553.7a3.6 3.6 0 1 1 7.2 0a3.6 3.6 0 1 1 -7.2 0ZM751.4 1554a3.6 3.6 0 1 1 7.2 0a3.6 3.6 0 1 1 -7.2 0ZM694.4 1558.4a3.6 3.6 0 1 1 7.2 0a3.6 3.6 0 1 1 -7.2 0ZM697 1557.2a3.6 3.6 0 1 1 7.2 0a3.6 3.6 0 1 1 -7.2 0ZM702.9 1556.5a3.6 3.6 0 1 1 7.2 0a3.6 3.6 0 1 1 -7.2 0ZM705 1556.4a3.6 3.6 0 1 1 7.2 0a3.6 3.6 0 1 1 -7.2 0ZM711.1 1556.4a3.6 3.6 0 1 1 7.2 0a3.6 3.6 0 1 1 -7.2 0ZM715.5 1557.1a3.6 3.6 0 1 1 7.2 0a3.6 3.6 0 1 1 -7.2 0ZM718.3 1556.8a3.6 3.6 0 1 1 7.2 0a3.6 3.6 0 1 1 -7.2 0ZM725.2 1557.5a3.6 3.6 0 1 1 7.2 0a3.6 3.6 0 1 1 -7.2 0ZM726.8 1557a3.6 3.6 0 1 1 7.2 0a3.6 3.6 0 1 1 -7.2 0ZM733.4 1556.4a3.6 3.6 0 1 1 7.2 0a3.6 3.6 0 1 1 -7.2 0ZM737.5 1556a3.6 3.6 0 1 1 7.2 0a3.6 3.6 0 1 1 -7.2 0ZM741.8 1557.3a3.6 3.6 0 1 1 7.2 0a3.6 3.6 0 1 1 -7.2 0ZM746.3 1557.6a3.6 3.6 0 1 1 7.2 0a3.6 3.6 0 1 1 -7.2 0ZM750.7 1558.8a3.6 3.6 0 1 1 7.2 0a3.6 3.6 0 1 1 -7.2 0ZM755 1557.1a3.6 3.6 0 1 1 7.2 0a3.6 3.6 0 1 1 -7.2 0ZM691.4 1562.2a3.6 3.6 0 1 1 7.2 0a3.6 3.6 0 1 1 -7.2 0ZM693.9 1561.4a3.6 3.6 0 1 1 7.2 0a3.6 3.6 0 1 1 -7.2 0ZM701 1561a3.6 3.6 0 1 1 7.2 0a3.6 3.6 0 1 1 -7.2 0ZM703.2 1561.7a3.6 3.6 0 1 1 7.2 0a3.6 3.6 0 1 1 -7.2 0ZM708.1 1560.2a3.6 3.6 0 1 1 7.2 0a3.6 3.6 0 1 1 -7.2 0ZM712.1 1562.3a3.6 3.6 0 1 1 7.2 0a3.6 3.6 0 1 1 -7.2 0ZM716.5 1562.3a3.6 3.6 0 1 1 7.2 0a3.6 3.6 0 1 1 -7.2 0ZM720.9 1562.3a3.6 3.6 0 1 1 7.2 0a3.6 3.6 0 1 1 -7.2 0ZM726.4 1561.5a3.6 3.6 0 1 1 7.2 0a3.6 3.6 0 1 1 -7.2 0ZM729.6 1560.2a3.6 3.6 0 1 1 7.2 0a3.6 3.6 0 1 1 -7.2 0ZM736.3 1562.1a3.6 3.6 0 1 1 7.2 0a3.6 3.6 0 1 1 -7.2 0ZM740.7 1560.1a3.6 3.6 0 1 1 7.2 0a3.6 3.6 0 1 1 -7.2 0ZM742.5 1562.5a3.6 3.6 0 1 1 7.2 0a3.6 3.6 0 1 1 -7.2 0ZM749.4 1562.3a3.6 3.6 0 1 1 7.2 0a3.6 3.6 0 1 1 -7.2 0ZM752.8 1560.4a3.6 3.6 0 1 1 7.2 0a3.6 3.6 0 1 1 -7.2 0ZM696.4 1564.6a3.6 3.6 0 1 1 7.2 0a3.6 3.6 0 1 1 -7.2 0ZM700.7 1564.6a3.6 3.6 0 1 1 7.2 0a3.6 3.6 0 1 1 -7.2 0ZM705.9 1565.8a3.6 3.6 0 1 1 7.2 0a3.6 3.6 0 1 1 -7.2 0ZM709.6 1564.1a3.6 3.6 0 1 1 7.2 0a3.6 3.6 0 1 1 -7.2 0ZM716 1566.2a3.6 3.6 0 1 1 7.2 0a3.6 3.6 0 1 1 -7.2 0ZM720.2 1563.8a3.6 3.6 0 1 1 7.2 0a3.6 3.6 0 1 1 -7.2 0ZM722.8 1565.7a3.6 3.6 0 1 1 7.2 0a3.6 3.6 0 1 1 -7.2 0ZM728 1565.8a3.6 3.6 0 1 1 7.2 0a3.6 3.6 0 1 1 -7.2 0ZM733.3 1566.3a3.6 3.6 0 1 1 7.2 0a3.6 3.6 0 1 1 -7.2 0ZM737.1 1564.6a3.6 3.6 0 1 1 7.2 0a3.6 3.6 0 1 1 -7.2 0ZM742.3 1566.3a3.6 3.6 0 1 1 7.2 0a3.6 3.6 0 1 1 -7.2 0ZM746.1 1566.5a3.6 3.6 0 1 1 7.2 0a3.6 3.6 0 1 1 -7.2 0ZM751.6 1566.1a3.6 3.6 0 1 1 7.2 0a3.6 3.6 0 1 1 -7.2 0ZM755.6 1565.2a3.6 3.6 0 1 1 7.2 0a3.6 3.6 0 1 1 -7.2 0ZM696.8 1567.7a3.6 3.6 0 1 1 7.2 0a3.6 3.6 0 1 1 -7.2 0ZM700.8 1568.1a3.6 3.6 0 1 1 7.2 0a3.6 3.6 0 1 1 -7.2 0ZM702.7 1569.3a3.6 3.6 0 1 1 7.2 0a3.6 3.6 0 1 1 -7.2 0ZM710 1568.9a3.6 3.6 0 1 1 7.2 0a3.6 3.6 0 1 1 -7.2 0ZM712 1569.6a3.6 3.6 0 1 1 7.2 0a3.6 3.6 0 1 1 -7.2 0ZM715.9 1569.9a3.6 3.6 0 1 1 7.2 0a3.6 3.6 0 1 1 -7.2 0ZM722.2 1568.6a3.6 3.6 0 1 1 7.2 0a3.6 3.6 0 1 1 -7.2 0ZM726.2 1568.8a3.6 3.6 0 1 1 7.2 0a3.6 3.6 0 1 1 -7.2 0ZM732 1568.9a3.6 3.6 0 1 1 7.2 0a3.6 3.6 0 1 1 -7.2 0ZM736.4 1568.1a3.6 3.6 0 1 1 7.2 0a3.6 3.6 0 1 1 -7.2 0ZM738.8 1567.5a3.6 3.6 0 1 1 7.2 0a3.6 3.6 0 1 1 -7.2 0ZM744.2 1568.5a3.6 3.6 0 1 1 7.2 0a3.6 3.6 0 1 1 -7.2 0ZM749.3 1569.4a3.6 3.6 0 1 1 7.2 0a3.6 3.6 0 1 1 -7.2 0ZM751.8 1569a3.6 3.6 0 1 1 7.2 0a3.6 3.6 0 1 1 -7.2 0ZM757.1 1570a3.6 3.6 0 1 1 7.2 0a3.6 3.6 0 1 1 -7.2 0ZM697.3 1574.1a3.6 3.6 0 1 1 7.2 0a3.6 3.6 0 1 1 -7.2 0ZM700.6 1573.1a3.6 3.6 0 1 1 7.2 0a3.6 3.6 0 1 1 -7.2 0ZM707.1 1572.8a3.6 3.6 0 1 1 7.2 0a3.6 3.6 0 1 1 -7.2 0ZM709.9 1573.6a3.6 3.6 0 1 1 7.2 0a3.6 3.6 0 1 1 -7.2 0ZM714.8 1571.8a3.6 3.6 0 1 1 7.2 0a3.6 3.6 0 1 1 -7.2 0ZM719.1 1573.7a3.6 3.6 0 1 1 7.2 0a3.6 3.6 0 1 1 -7.2 0ZM723.5 1573.6a3.6 3.6 0 1 1 7.2 0a3.6 3.6 0 1 1 -7.2 0ZM727.3 1573.4a3.6 3.6 0 1 1 7.2 0a3.6 3.6 0 1 1 -7.2 0ZM733.7 1573.5a3.6 3.6 0 1 1 7.2 0a3.6 3.6 0 1 1 -7.2 0ZM737.6 1571.3a3.6 3.6 0 1 1 7.2 0a3.6 3.6 0 1 1 -7.2 0ZM742.2 1573.6a3.6 3.6 0 1 1 7.2 0a3.6 3.6 0 1 1 -7.2 0ZM744.6 1571.8a3.6 3.6 0 1 1 7.2 0a3.6 3.6 0 1 1 -7.2 0ZM749.3 1571.6a3.6 3.6 0 1 1 7.2 0a3.6 3.6 0 1 1 -7.2 0ZM753.8 1571.7a3.6 3.6 0 1 1 7.2 0a3.6 3.6 0 1 1 -7.2 0ZM758.8 1574.2a3.6 3.6 0 1 1 7.2 0a3.6 3.6 0 1 1 -7.2 0ZM698.3 1578a3.6 3.6 0 1 1 7.2 0a3.6 3.6 0 1 1 -7.2 0ZM705.4 1577.1a3.6 3.6 0 1 1 7.2 0a3.6 3.6 0 1 1 -7.2 0ZM708.6 1577.6a3.6 3.6 0 1 1 7.2 0a3.6 3.6 0 1 1 -7.2 0ZM712 1575.6a3.6 3.6 0 1 1 7.2 0a3.6 3.6 0 1 1 -7.2 0ZM716.4 1577.4a3.6 3.6 0 1 1 7.2 0a3.6 3.6 0 1 1 -7.2 0ZM722.4 1577.2a3.6 3.6 0 1 1 7.2 0a3.6 3.6 0 1 1 -7.2 0ZM724.6 1576.9a3.6 3.6 0 1 1 7.2 0a3.6 3.6 0 1 1 -7.2 0ZM729.6 1577.9a3.6 3.6 0 1 1 7.2 0a3.6 3.6 0 1 1 -7.2 0ZM734.7 1577a3.6 3.6 0 1 1 7.2 0a3.6 3.6 0 1 1 -7.2 0ZM740 1576.4a3.6 3.6 0 1 1 7.2 0a3.6 3.6 0 1 1 -7.2 0ZM743.8 1575.1a3.6 3.6 0 1 1 7.2 0a3.6 3.6 0 1 1 -7.2 0ZM747.3 1577a3.6 3.6 0 1 1 7.2 0a3.6 3.6 0 1 1 -7.2 0ZM752.2 1577.5a3.6 3.6 0 1 1 7.2 0a3.6 3.6 0 1 1 -7.2 0ZM755.9 1575.2a3.6 3.6 0 1 1 7.2 0a3.6 3.6 0 1 1 -7.2 0ZM702.1 1579a3.6 3.6 0 1 1 7.2 0a3.6 3.6 0 1 1 -7.2 0ZM706.2 1581.3a3.6 3.6 0 1 1 7.2 0a3.6 3.6 0 1 1 -7.2 0ZM711.2 1579.1a3.6 3.6 0 1 1 7.2 0a3.6 3.6 0 1 1 -7.2 0ZM713.9 1581a3.6 3.6 0 1 1 7.2 0a3.6 3.6 0 1 1 -7.2 0ZM720.7 1580.7a3.6 3.6 0 1 1 7.2 0a3.6 3.6 0 1 1 -7.2 0ZM723.1 1581.8a3.6 3.6 0 1 1 7.2 0a3.6 3.6 0 1 1 -7.2 0ZM728.4 1580.9a3.6 3.6 0 1 1 7.2 0a3.6 3.6 0 1 1 -7.2 0ZM733.6 1579.2a3.6 3.6 0 1 1 7.2 0a3.6 3.6 0 1 1 -7.2 0ZM736.9 1579a3.6 3.6 0 1 1 7.2 0a3.6 3.6 0 1 1 -7.2 0ZM742.5 1581.6a3.6 3.6 0 1 1 7.2 0a3.6 3.6 0 1 1 -7.2 0ZM744.8 1579a3.6 3.6 0 1 1 7.2 0a3.6 3.6 0 1 1 -7.2 0ZM748.8 1581a3.6 3.6 0 1 1 7.2 0a3.6 3.6 0 1 1 -7.2 0ZM755.3 1580.4a3.6 3.6 0 1 1 7.2 0a3.6 3.6 0 1 1 -7.2 0ZM702.6 1585.2a3.6 3.6 0 1 1 7.2 0a3.6 3.6 0 1 1 -7.2 0ZM707.3 1583a3.6 3.6 0 1 1 7.2 0a3.6 3.6 0 1 1 -7.2 0ZM712 1584.3a3.6 3.6 0 1 1 7.2 0a3.6 3.6 0 1 1 -7.2 0ZM718.4 1584a3.6 3.6 0 1 1 7.2 0a3.6 3.6 0 1 1 -7.2 0ZM723.2 1583a3.6 3.6 0 1 1 7.2 0a3.6 3.6 0 1 1 -7.2 0ZM725.3 1585.5a3.6 3.6 0 1 1 7.2 0a3.6 3.6 0 1 1 -7.2 0ZM731.4 1584a3.6 3.6 0 1 1 7.2 0a3.6 3.6 0 1 1 -7.2 0ZM734.5 1584.2a3.6 3.6 0 1 1 7.2 0a3.6 3.6 0 1 1 -7.2 0ZM738.5 1585.6a3.6 3.6 0 1 1 7.2 0a3.6 3.6 0 1 1 -7.2 0ZM743.1 1582.9a3.6 3.6 0 1 1 7.2 0a3.6 3.6 0 1 1 -7.2 0ZM748.3 1582.8a3.6 3.6 0 1 1 7.2 0a3.6 3.6 0 1 1 -7.2 0ZM751.5 1582.7a3.6 3.6 0 1 1 7.2 0a3.6 3.6 0 1 1 -7.2 0ZM707 1586.6a3.6 3.6 0 1 1 7.2 0a3.6 3.6 0 1 1 -7.2 0ZM710.7 1587.8a3.6 3.6 0 1 1 7.2 0a3.6 3.6 0 1 1 -7.2 0ZM713.6 1588.6a3.6 3.6 0 1 1 7.2 0a3.6 3.6 0 1 1 -7.2 0ZM718.1 1586.9a3.6 3.6 0 1 1 7.2 0a3.6 3.6 0 1 1 -7.2 0ZM725.3 1587.1a3.6 3.6 0 1 1 7.2 0a3.6 3.6 0 1 1 -7.2 0ZM727.3 1589.1a3.6 3.6 0 1 1 7.2 0a3.6 3.6 0 1 1 -7.2 0ZM732.8 1587.5a3.6 3.6 0 1 1 7.2 0a3.6 3.6 0 1 1 -7.2 0ZM736.6 1588.6a3.6 3.6 0 1 1 7.2 0a3.6 3.6 0 1 1 -7.2 0ZM742.5 1589.4a3.6 3.6 0 1 1 7.2 0a3.6 3.6 0 1 1 -7.2 0ZM745.5 1587a3.6 3.6 0 1 1 7.2 0a3.6 3.6 0 1 1 -7.2 0ZM708.2 1593a3.6 3.6 0 1 1 7.2 0a3.6 3.6 0 1 1 -7.2 0ZM711.6 1590.3a3.6 3.6 0 1 1 7.2 0a3.6 3.6 0 1 1 -7.2 0ZM716 1591.2a3.6 3.6 0 1 1 7.2 0a3.6 3.6 0 1 1 -7.2 0ZM720.9 1591.2a3.6 3.6 0 1 1 7.2 0a3.6 3.6 0 1 1 -7.2 0ZM727.1 1591.3a3.6 3.6 0 1 1 7.2 0a3.6 3.6 0 1 1 -7.2 0ZM729.9 1592.4a3.6 3.6 0 1 1 7.2 0a3.6 3.6 0 1 1 -7.2 0ZM734.5 1592.3a3.6 3.6 0 1 1 7.2 0a3.6 3.6 0 1 1 -7.2 0ZM739.1 1592.7a3.6 3.6 0 1 1 7.2 0a3.6 3.6 0 1 1 -7.2 0ZM706 1596.9a3.6 3.6 0 1 1 7.2 0a3.6 3.6 0 1 1 -7.2 0ZM710.1 1595.3a3.6 3.6 0 1 1 7.2 0a3.6 3.6 0 1 1 -7.2 0ZM716.1 1596.7a3.6 3.6 0 1 1 7.2 0a3.6 3.6 0 1 1 -7.2 0ZM720.5 1597a3.6 3.6 0 1 1 7.2 0a3.6 3.6 0 1 1 -7.2 0ZM723 1596.3a3.6 3.6 0 1 1 7.2 0a3.6 3.6 0 1 1 -7.2 0ZM729.2 1597a3.6 3.6 0 1 1 7.2 0a3.6 3.6 0 1 1 -7.2 0ZM731.9 1596.9a3.6 3.6 0 1 1 7.2 0a3.6 3.6 0 1 1 -7.2 0ZM737.3 1594.4a3.6 3.6 0 1 1 7.2 0a3.6 3.6 0 1 1 -7.2 0ZM741.9 1595.9a3.6 3.6 0 1 1 7.2 0a3.6 3.6 0 1 1 -7.2 0ZM709.3 1599.6a3.6 3.6 0 1 1 7.2 0a3.6 3.6 0 1 1 -7.2 0ZM713.7 1600.2a3.6 3.6 0 1 1 7.2 0a3.6 3.6 0 1 1 -7.2 0ZM717.4 1600.7a3.6 3.6 0 1 1 7.2 0a3.6 3.6 0 1 1 -7.2 0ZM722.5 1598.8a3.6 3.6 0 1 1 7.2 0a3.6 3.6 0 1 1 -7.2 0ZM725.2 1600.4a3.6 3.6 0 1 1 7.2 0a3.6 3.6 0 1 1 -7.2 0ZM730.1 1597.9a3.6 3.6 0 1 1 7.2 0a3.6 3.6 0 1 1 -7.2 0ZM733.4 1599.5a3.6 3.6 0 1 1 7.2 0a3.6 3.6 0 1 1 -7.2 0ZM739 1600.1a3.6 3.6 0 1 1 7.2 0a3.6 3.6 0 1 1 -7.2 0ZM710.8 1602.5a3.6 3.6 0 1 1 7.2 0a3.6 3.6 0 1 1 -7.2 0ZM715 1602.3a3.6 3.6 0 1 1 7.2 0a3.6 3.6 0 1 1 -7.2 0ZM718.5 1604.4a3.6 3.6 0 1 1 7.2 0a3.6 3.6 0 1 1 -7.2 0ZM725.2 1602.1a3.6 3.6 0 1 1 7.2 0a3.6 3.6 0 1 1 -7.2 0ZM728.5 1603.6a3.6 3.6 0 1 1 7.2 0a3.6 3.6 0 1 1 -7.2 0ZM732.6 1602.6a3.6 3.6 0 1 1 7.2 0a3.6 3.6 0 1 1 -7.2 0ZM738.6 1603.1a3.6 3.6 0 1 1 7.2 0a3.6 3.6 0 1 1 -7.2 0ZM740.8 1602.1a3.6 3.6 0 1 1 7.2 0a3.6 3.6 0 1 1 -7.2 0ZM745.3 1603.2a3.6 3.6 0 1 1 7.2 0a3.6 3.6 0 1 1 -7.2 0ZM711.6 1607.7a3.6 3.6 0 1 1 7.2 0a3.6 3.6 0 1 1 -7.2 0ZM716.5 1606.1a3.6 3.6 0 1 1 7.2 0a3.6 3.6 0 1 1 -7.2 0ZM725.4 1607.4a3.6 3.6 0 1 1 7.2 0a3.6 3.6 0 1 1 -7.2 0ZM736.1 1607a3.6 3.6 0 1 1 7.2 0a3.6 3.6 0 1 1 -7.2 0ZM739.2 1605.8a3.6 3.6 0 1 1 7.2 0a3.6 3.6 0 1 1 -7.2 0ZM693.9 1512.8a3.6 3.6 0 1 1 7.2 0a3.6 3.6 0 1 1 -7.2 0ZM724.2 1511.7a3.6 3.6 0 1 1 7.2 0a3.6 3.6 0 1 1 -7.2 0ZM744.3 1518.4a3.6 3.6 0 1 1 7.2 0a3.6 3.6 0 1 1 -7.2 0ZM753.8 1525.1a3.6 3.6 0 1 1 7.2 0a3.6 3.6 0 1 1 -7.2 0ZM755 1534.1a3.6 3.6 0 1 1 7.2 0a3.6 3.6 0 1 1 -7.2 0ZM759.4 1544.2a3.6 3.6 0 1 1 7.2 0a3.6 3.6 0 1 1 -7.2 0ZM680.5 1533a3.6 3.6 0 1 1 7.2 0a3.6 3.6 0 1 1 -7.2 0ZM682.2 1564.9a3.6 3.6 0 1 1 7.2 0a3.6 3.6 0 1 1 -7.2 0ZM682.2 1568.2a3.6 3.6 0 1 1 7.2 0a3.6 3.6 0 1 1 -7.2 0ZM675.4 1571a3.6 3.6 0 1 1 7.2 0a3.6 3.6 0 1 1 -7.2 0ZM688.9 1576.1a3.6 3.6 0 1 1 7.2 0a3.6 3.6 0 1 1 -7.2 0ZM685 1594.6a3.6 3.6 0 1 1 7.2 0a3.6 3.6 0 1 1 -7.2 0ZM697.8 1593.4a3.6 3.6 0 1 1 7.2 0a3.6 3.6 0 1 1 -7.2 0ZM699.5 1603.5a3.6 3.6 0 1 1 7.2 0a3.6 3.6 0 1 1 -7.2 0ZM753.8 1586.2a3.6 3.6 0 1 1 7.2 0a3.6 3.6 0 1 1 -7.2 0ZM713.5 1643.3a3.6 3.6 0 1 1 7.2 0a3.6 3.6 0 1 1 -7.2 0ZM744.9 1641a3.6 3.6 0 1 1 7.2 0a3.6 3.6 0 1 1 -7.2 0ZM728.6 1679.1a3.6 3.6 0 1 1 7.2 0a3.6 3.6 0 1 1 -7.2 0ZM743.8 1615.3a3.6 3.6 0 1 1 7.2 0a3.6 3.6 0 1 1 -7.2 0ZM741.5 1620.9a3.6 3.6 0 1 1 7.2 0a3.6 3.6 0 1 1 -7.2 0ZM747.1 1603a3.6 3.6 0 1 1 7.2 0a3.6 3.6 0 1 1 -7.2 0ZM732.6 1649.4a3.6 3.6 0 1 1 7.2 0a3.6 3.6 0 1 1 -7.2 0Z"/></clipPath>
<g clip-path="url(#cc22)">
<path d="M707 1532.4L721.6 1531.3L738.4 1530.2L748.5 1536.9L751.8 1549.2L758.6 1560.4L760.8 1577.2L753 1586.2L747.4 1599.6L740.6 1610.8L732.8 1617.5L722.7 1617.5L713.8 1608.6L708.2 1595.1L704.8 1581.7L699.2 1568.2L698.1 1554.8L702.6 1543.6Z" fill="#1a1a1a" filter="url(#b4)"/>
<path d="M699.2 1547L716 1542.5L738.4 1543.6L751.8 1550.3L760.8 1559.3L763 1572.7L758.6 1582.8L747.4 1588.4L740.6 1595.1L727.2 1597.4L713.8 1590.6L704.8 1581.7L697 1568.2L695.8 1557Z" fill="#383838" filter="url(#b4)"/>
<ellipse cx="729.4" cy="1562.6" rx="33" ry="17" transform="rotate(18 729.4 1562.6)" fill="#545454" filter="url(#b4)"/>
<ellipse cx="730.6" cy="1562.6" rx="24" ry="11" transform="rotate(18 730.6 1562.6)" fill="#6b6b6b" filter="url(#b3)"/>
<ellipse cx="729.4" cy="1562.6" rx="14" ry="6" transform="rotate(18 729.4 1562.6)" fill="#8c8c8c" filter="url(#b3)"/>
</g>
</g></g>
<g clip-path="url(#clip_B4)"><g filter="url(#cm)">
<path d="M713.2 1606.7a3.6 3.6 0 1 1 7.2 0a3.6 3.6 0 1 1 -7.2 0ZM719.7 1607.7a3.6 3.6 0 1 1 7.2 0a3.6 3.6 0 1 1 -7.2 0ZM711.2 1610.5a3.6 3.6 0 1 1 7.2 0a3.6 3.6 0 1 1 -7.2 0ZM717.1 1611.6a3.6 3.6 0 1 1 7.2 0a3.6 3.6 0 1 1 -7.2 0ZM720.9 1608.9a3.6 3.6 0 1 1 7.2 0a3.6 3.6 0 1 1 -7.2 0ZM726.1 1612a3.6 3.6 0 1 1 7.2 0a3.6 3.6 0 1 1 -7.2 0ZM733.7 1609.2a3.6 3.6 0 1 1 7.2 0a3.6 3.6 0 1 1 -7.2 0ZM715.4 1616.7a3.6 3.6 0 1 1 7.2 0a3.6 3.6 0 1 1 -7.2 0ZM721.1 1613.4a3.6 3.6 0 1 1 7.2 0a3.6 3.6 0 1 1 -7.2 0ZM725.3 1615.7a3.6 3.6 0 1 1 7.2 0a3.6 3.6 0 1 1 -7.2 0ZM730.2 1614.6a3.6 3.6 0 1 1 7.2 0a3.6 3.6 0 1 1 -7.2 0ZM702.2 1619.9a3.6 3.6 0 1 1 7.2 0a3.6 3.6 0 1 1 -7.2 0ZM708 1620.6a3.6 3.6 0 1 1 7.2 0a3.6 3.6 0 1 1 -7.2 0ZM712.6 1620.4a3.6 3.6 0 1 1 7.2 0a3.6 3.6 0 1 1 -7.2 0ZM717.8 1620.5a3.6 3.6 0 1 1 7.2 0a3.6 3.6 0 1 1 -7.2 0ZM723.2 1618.1a3.6 3.6 0 1 1 7.2 0a3.6 3.6 0 1 1 -7.2 0ZM728 1620.6a3.6 3.6 0 1 1 7.2 0a3.6 3.6 0 1 1 -7.2 0ZM731.8 1618.2a3.6 3.6 0 1 1 7.2 0a3.6 3.6 0 1 1 -7.2 0ZM739.1 1618.4a3.6 3.6 0 1 1 7.2 0a3.6 3.6 0 1 1 -7.2 0ZM699.9 1622.3a3.6 3.6 0 1 1 7.2 0a3.6 3.6 0 1 1 -7.2 0ZM703 1624.8a3.6 3.6 0 1 1 7.2 0a3.6 3.6 0 1 1 -7.2 0ZM709.7 1623.6a3.6 3.6 0 1 1 7.2 0a3.6 3.6 0 1 1 -7.2 0ZM715.6 1624.8a3.6 3.6 0 1 1 7.2 0a3.6 3.6 0 1 1 -7.2 0ZM718.7 1623.8a3.6 3.6 0 1 1 7.2 0a3.6 3.6 0 1 1 -7.2 0ZM722.9 1622.2a3.6 3.6 0 1 1 7.2 0a3.6 3.6 0 1 1 -7.2 0ZM729.3 1622.4a3.6 3.6 0 1 1 7.2 0a3.6 3.6 0 1 1 -7.2 0ZM707.3 1629.1a3.6 3.6 0 1 1 7.2 0a3.6 3.6 0 1 1 -7.2 0ZM710.7 1629.7a3.6 3.6 0 1 1 7.2 0a3.6 3.6 0 1 1 -7.2 0ZM717.7 1629.9a3.6 3.6 0 1 1 7.2 0a3.6 3.6 0 1 1 -7.2 0ZM721.4 1630.2a3.6 3.6 0 1 1 7.2 0a3.6 3.6 0 1 1 -7.2 0ZM728.1 1628.4a3.6 3.6 0 1 1 7.2 0a3.6 3.6 0 1 1 -7.2 0ZM732.2 1630.3a3.6 3.6 0 1 1 7.2 0a3.6 3.6 0 1 1 -7.2 0ZM713.7 1631.3a3.6 3.6 0 1 1 7.2 0a3.6 3.6 0 1 1 -7.2 0ZM718.2 1633.8a3.6 3.6 0 1 1 7.2 0a3.6 3.6 0 1 1 -7.2 0ZM723.3 1634.5a3.6 3.6 0 1 1 7.2 0a3.6 3.6 0 1 1 -7.2 0ZM731.7 1631.9a3.6 3.6 0 1 1 7.2 0a3.6 3.6 0 1 1 -7.2 0ZM716 1637.2a3.6 3.6 0 1 1 7.2 0a3.6 3.6 0 1 1 -7.2 0ZM720.6 1638.3a3.6 3.6 0 1 1 7.2 0a3.6 3.6 0 1 1 -7.2 0ZM727.6 1638.3a3.6 3.6 0 1 1 7.2 0a3.6 3.6 0 1 1 -7.2 0ZM734.3 1636.1a3.6 3.6 0 1 1 7.2 0a3.6 3.6 0 1 1 -7.2 0ZM720.8 1642a3.6 3.6 0 1 1 7.2 0a3.6 3.6 0 1 1 -7.2 0ZM724.4 1643.3a3.6 3.6 0 1 1 7.2 0a3.6 3.6 0 1 1 -7.2 0ZM731.5 1641.7a3.6 3.6 0 1 1 7.2 0a3.6 3.6 0 1 1 -7.2 0ZM734.6 1641a3.6 3.6 0 1 1 7.2 0a3.6 3.6 0 1 1 -7.2 0ZM727.4 1646.6a3.6 3.6 0 1 1 7.2 0a3.6 3.6 0 1 1 -7.2 0ZM731.8 1647.2a3.6 3.6 0 1 1 7.2 0a3.6 3.6 0 1 1 -7.2 0Z" fill="#050505"/>
</g></g>
<g clip-path="url(#clip_B4)"><g filter="url(#cm)">
<path d="M685 1549.2a3.6 3.6 0 1 1 7.2 0a3.6 3.6 0 1 1 -7.2 0ZM763.4 1568.8a3.6 3.6 0 1 1 7.2 0a3.6 3.6 0 1 1 -7.2 0ZM761.1 1577.8a3.6 3.6 0 1 1 7.2 0a3.6 3.6 0 1 1 -7.2 0Z" fill="#404040"/>
</g></g>
<g clip-path="url(#clip_B4)"><g filter="url(#cm)">
<path d="M769.5 1563.8a3.6 3.6 0 1 1 7.2 0a3.6 3.6 0 1 1 -7.2 0ZM753.8 1555.9a3.6 3.6 0 1 1 7.2 0a3.6 3.6 0 1 1 -7.2 0Z" fill="#212121"/>
</g></g>
<g clip-path="url(#clip_B4)"><g filter="url(#cm)">
<path d="M979.4 1609.5a3.6 3.6 0 1 1 7.2 0a3.6 3.6 0 1 1 -7.2 0ZM970.3 1610.9a3.6 3.6 0 1 1 7.2 0a3.6 3.6 0 1 1 -7.2 0ZM976.8 1613.6a3.6 3.6 0 1 1 7.2 0a3.6 3.6 0 1 1 -7.2 0ZM982.1 1614.7a3.6 3.6 0 1 1 7.2 0a3.6 3.6 0 1 1 -7.2 0ZM987.1 1613.2a3.6 3.6 0 1 1 7.2 0a3.6 3.6 0 1 1 -7.2 0ZM966.9 1616.4a3.6 3.6 0 1 1 7.2 0a3.6 3.6 0 1 1 -7.2 0ZM970.3 1618.6a3.6 3.6 0 1 1 7.2 0a3.6 3.6 0 1 1 -7.2 0ZM977.9 1620.1a3.6 3.6 0 1 1 7.2 0a3.6 3.6 0 1 1 -7.2 0ZM984 1617.1a3.6 3.6 0 1 1 7.2 0a3.6 3.6 0 1 1 -7.2 0ZM989.9 1618.4a3.6 3.6 0 1 1 7.2 0a3.6 3.6 0 1 1 -7.2 0ZM957.3 1623.5a3.6 3.6 0 1 1 7.2 0a3.6 3.6 0 1 1 -7.2 0ZM964.4 1625.4a3.6 3.6 0 1 1 7.2 0a3.6 3.6 0 1 1 -7.2 0ZM970.9 1622.8a3.6 3.6 0 1 1 7.2 0a3.6 3.6 0 1 1 -7.2 0ZM976.5 1622a3.6 3.6 0 1 1 7.2 0a3.6 3.6 0 1 1 -7.2 0ZM979.3 1622.9a3.6 3.6 0 1 1 7.2 0a3.6 3.6 0 1 1 -7.2 0ZM986.5 1624.8a3.6 3.6 0 1 1 7.2 0a3.6 3.6 0 1 1 -7.2 0ZM993 1624.3a3.6 3.6 0 1 1 7.2 0a3.6 3.6 0 1 1 -7.2 0ZM953.3 1627.2a3.6 3.6 0 1 1 7.2 0a3.6 3.6 0 1 1 -7.2 0ZM959.9 1630.3a3.6 3.6 0 1 1 7.2 0a3.6 3.6 0 1 1 -7.2 0ZM964.8 1627.3a3.6 3.6 0 1 1 7.2 0a3.6 3.6 0 1 1 -7.2 0ZM972.5 1627a3.6 3.6 0 1 1 7.2 0a3.6 3.6 0 1 1 -7.2 0ZM978.5 1627a3.6 3.6 0 1 1 7.2 0a3.6 3.6 0 1 1 -7.2 0ZM984.2 1628.2a3.6 3.6 0 1 1 7.2 0a3.6 3.6 0 1 1 -7.2 0ZM990.8 1626.6a3.6 3.6 0 1 1 7.2 0a3.6 3.6 0 1 1 -7.2 0ZM945.7 1633.3a3.6 3.6 0 1 1 7.2 0a3.6 3.6 0 1 1 -7.2 0ZM952.6 1631.6a3.6 3.6 0 1 1 7.2 0a3.6 3.6 0 1 1 -7.2 0ZM958.5 1633.5a3.6 3.6 0 1 1 7.2 0a3.6 3.6 0 1 1 -7.2 0ZM964.3 1632.3a3.6 3.6 0 1 1 7.2 0a3.6 3.6 0 1 1 -7.2 0ZM967.4 1633.2a3.6 3.6 0 1 1 7.2 0a3.6 3.6 0 1 1 -7.2 0ZM976.5 1633.6a3.6 3.6 0 1 1 7.2 0a3.6 3.6 0 1 1 -7.2 0ZM980.4 1634.9a3.6 3.6 0 1 1 7.2 0a3.6 3.6 0 1 1 -7.2 0ZM985.6 1633.3a3.6 3.6 0 1 1 7.2 0a3.6 3.6 0 1 1 -7.2 0ZM992.5 1632a3.6 3.6 0 1 1 7.2 0a3.6 3.6 0 1 1 -7.2 0ZM942.5 1638.3a3.6 3.6 0 1 1 7.2 0a3.6 3.6 0 1 1 -7.2 0ZM950.1 1640.1a3.6 3.6 0 1 1 7.2 0a3.6 3.6 0 1 1 -7.2 0ZM952.2 1640.7a3.6 3.6 0 1 1 7.2 0a3.6 3.6 0 1 1 -7.2 0ZM959.9 1638.7a3.6 3.6 0 1 1 7.2 0a3.6 3.6 0 1 1 -7.2 0ZM966.2 1640.1a3.6 3.6 0 1 1 7.2 0a3.6 3.6 0 1 1 -7.2 0ZM973.5 1638.1a3.6 3.6 0 1 1 7.2 0a3.6 3.6 0 1 1 -7.2 0ZM979.4 1636.8a3.6 3.6 0 1 1 7.2 0a3.6 3.6 0 1 1 -7.2 0ZM984.1 1636.9a3.6 3.6 0 1 1 7.2 0a3.6 3.6 0 1 1 -7.2 0ZM989.2 1637.1a3.6 3.6 0 1 1 7.2 0a3.6 3.6 0 1 1 -7.2 0ZM996.7 1639.7a3.6 3.6 0 1 1 7.2 0a3.6 3.6 0 1 1 -7.2 0ZM938.6 1642.7a3.6 3.6 0 1 1 7.2 0a3.6 3.6 0 1 1 -7.2 0ZM945 1644.5a3.6 3.6 0 1 1 7.2 0a3.6 3.6 0 1 1 -7.2 0ZM950.2 1644.4a3.6 3.6 0 1 1 7.2 0a3.6 3.6 0 1 1 -7.2 0ZM957.9 1642.8a3.6 3.6 0 1 1 7.2 0a3.6 3.6 0 1 1 -7.2 0ZM964.2 1642.4a3.6 3.6 0 1 1 7.2 0a3.6 3.6 0 1 1 -7.2 0ZM970.9 1644.9a3.6 3.6 0 1 1 7.2 0a3.6 3.6 0 1 1 -7.2 0ZM975.5 1642a3.6 3.6 0 1 1 7.2 0a3.6 3.6 0 1 1 -7.2 0ZM981.1 1643.9a3.6 3.6 0 1 1 7.2 0a3.6 3.6 0 1 1 -7.2 0ZM987.8 1642.9a3.6 3.6 0 1 1 7.2 0a3.6 3.6 0 1 1 -7.2 0ZM995.1 1642.9a3.6 3.6 0 1 1 7.2 0a3.6 3.6 0 1 1 -7.2 0ZM999.6 1646.1a3.6 3.6 0 1 1 7.2 0a3.6 3.6 0 1 1 -7.2 0ZM946.1 1649.8a3.6 3.6 0 1 1 7.2 0a3.6 3.6 0 1 1 -7.2 0ZM954.6 1649.6a3.6 3.6 0 1 1 7.2 0a3.6 3.6 0 1 1 -7.2 0ZM959.5 1650.8a3.6 3.6 0 1 1 7.2 0a3.6 3.6 0 1 1 -7.2 0ZM964.5 1647.5a3.6 3.6 0 1 1 7.2 0a3.6 3.6 0 1 1 -7.2 0ZM972.7 1650a3.6 3.6 0 1 1 7.2 0a3.6 3.6 0 1 1 -7.2 0ZM976.6 1649.7a3.6 3.6 0 1 1 7.2 0a3.6 3.6 0 1 1 -7.2 0ZM983.9 1647.4a3.6 3.6 0 1 1 7.2 0a3.6 3.6 0 1 1 -7.2 0ZM988.5 1648.4a3.6 3.6 0 1 1 7.2 0a3.6 3.6 0 1 1 -7.2 0ZM994.3 1648.1a3.6 3.6 0 1 1 7.2 0a3.6 3.6 0 1 1 -7.2 0ZM1002.6 1649.1a3.6 3.6 0 1 1 7.2 0a3.6 3.6 0 1 1 -7.2 0ZM946.7 1653.9a3.6 3.6 0 1 1 7.2 0a3.6 3.6 0 1 1 -7.2 0ZM952.2 1653.9a3.6 3.6 0 1 1 7.2 0a3.6 3.6 0 1 1 -7.2 0ZM956.5 1653.6a3.6 3.6 0 1 1 7.2 0a3.6 3.6 0 1 1 -7.2 0ZM961.8 1654a3.6 3.6 0 1 1 7.2 0a3.6 3.6 0 1 1 -7.2 0ZM971 1654.4a3.6 3.6 0 1 1 7.2 0a3.6 3.6 0 1 1 -7.2 0ZM974.5 1654.4a3.6 3.6 0 1 1 7.2 0a3.6 3.6 0 1 1 -7.2 0ZM994.7 1654.5a3.6 3.6 0 1 1 7.2 0a3.6 3.6 0 1 1 -7.2 0ZM999.1 1655.7a3.6 3.6 0 1 1 7.2 0a3.6 3.6 0 1 1 -7.2 0ZM949.4 1657.6a3.6 3.6 0 1 1 7.2 0a3.6 3.6 0 1 1 -7.2 0ZM954.8 1659.1a3.6 3.6 0 1 1 7.2 0a3.6 3.6 0 1 1 -7.2 0ZM958.8 1657.7a3.6 3.6 0 1 1 7.2 0a3.6 3.6 0 1 1 -7.2 0ZM964.3 1661.4a3.6 3.6 0 1 1 7.2 0a3.6 3.6 0 1 1 -7.2 0ZM970.1 1657.9a3.6 3.6 0 1 1 7.2 0a3.6 3.6 0 1 1 -7.2 0ZM996.7 1659.4a3.6 3.6 0 1 1 7.2 0a3.6 3.6 0 1 1 -7.2 0ZM949.8 1663.6a3.6 3.6 0 1 1 7.2 0a3.6 3.6 0 1 1 -7.2 0ZM957.3 1664.4a3.6 3.6 0 1 1 7.2 0a3.6 3.6 0 1 1 -7.2 0ZM914.3 1652.7a3.6 3.6 0 1 1 7.2 0a3.6 3.6 0 1 1 -7.2 0ZM912.2 1654.8a3.6 3.6 0 1 1 7.2 0a3.6 3.6 0 1 1 -7.2 0ZM914.5 1654.8a3.6 3.6 0 1 1 7.2 0a3.6 3.6 0 1 1 -7.2 0ZM913.7 1661.8a3.6 3.6 0 1 1 7.2 0a3.6 3.6 0 1 1 -7.2 0ZM917.5 1660.7a3.6 3.6 0 1 1 7.2 0a3.6 3.6 0 1 1 -7.2 0ZM924 1661.2a3.6 3.6 0 1 1 7.2 0a3.6 3.6 0 1 1 -7.2 0ZM911.4 1668.4a3.6 3.6 0 1 1 7.2 0a3.6 3.6 0 1 1 -7.2 0ZM915 1666.5a3.6 3.6 0 1 1 7.2 0a3.6 3.6 0 1 1 -7.2 0ZM920.8 1666.5a3.6 3.6 0 1 1 7.2 0a3.6 3.6 0 1 1 -7.2 0ZM912.2 1672.4a3.6 3.6 0 1 1 7.2 0a3.6 3.6 0 1 1 -7.2 0ZM918.6 1670.9a3.6 3.6 0 1 1 7.2 0a3.6 3.6 0 1 1 -7.2 0ZM924.4 1591.2a3.6 3.6 0 1 1 7.2 0a3.6 3.6 0 1 1 -7.2 0ZM949 1598.4a3.6 3.6 0 1 1 7.2 0a3.6 3.6 0 1 1 -7.2 0ZM984.4 1597.2a3.6 3.6 0 1 1 7.2 0a3.6 3.6 0 1 1 -7.2 0ZM1005.4 1597.2a3.6 3.6 0 1 1 7.2 0a3.6 3.6 0 1 1 -7.2 0ZM1012.6 1600.8a3.6 3.6 0 1 1 7.2 0a3.6 3.6 0 1 1 -7.2 0ZM1000 1602.6a3.6 3.6 0 1 1 7.2 0a3.6 3.6 0 1 1 -7.2 0ZM1003.6 1613.4a3.6 3.6 0 1 1 7.2 0a3.6 3.6 0 1 1 -7.2 0ZM969.4 1600.8a3.6 3.6 0 1 1 7.2 0a3.6 3.6 0 1 1 -7.2 0ZM962.8 1605.6a3.6 3.6 0 1 1 7.2 0a3.6 3.6 0 1 1 -7.2 0ZM962.2 1607.4a3.6 3.6 0 1 1 7.2 0a3.6 3.6 0 1 1 -7.2 0ZM948.4 1620.6a3.6 3.6 0 1 1 7.2 0a3.6 3.6 0 1 1 -7.2 0ZM955.6 1620a3.6 3.6 0 1 1 7.2 0a3.6 3.6 0 1 1 -7.2 0ZM992.8 1625.4a3.6 3.6 0 1 1 7.2 0a3.6 3.6 0 1 1 -7.2 0ZM1008.4 1626.6a3.6 3.6 0 1 1 7.2 0a3.6 3.6 0 1 1 -7.2 0ZM1012.6 1624.8a3.6 3.6 0 1 1 7.2 0a3.6 3.6 0 1 1 -7.2 0ZM1016.2 1631.4a3.6 3.6 0 1 1 7.2 0a3.6 3.6 0 1 1 -7.2 0ZM1009 1639.2a3.6 3.6 0 1 1 7.2 0a3.6 3.6 0 1 1 -7.2 0ZM998.8 1635a3.6 3.6 0 1 1 7.2 0a3.6 3.6 0 1 1 -7.2 0ZM1015.6 1648.8a3.6 3.6 0 1 1 7.2 0a3.6 3.6 0 1 1 -7.2 0ZM1003.6 1659.6a3.6 3.6 0 1 1 7.2 0a3.6 3.6 0 1 1 -7.2 0ZM981.4 1668.6a3.6 3.6 0 1 1 7.2 0a3.6 3.6 0 1 1 -7.2 0ZM990.4 1673.4a3.6 3.6 0 1 1 7.2 0a3.6 3.6 0 1 1 -7.2 0ZM989.8 1677a3.6 3.6 0 1 1 7.2 0a3.6 3.6 0 1 1 -7.2 0ZM998.8 1671a3.6 3.6 0 1 1 7.2 0a3.6 3.6 0 1 1 -7.2 0ZM1006.6 1674.6a3.6 3.6 0 1 1 7.2 0a3.6 3.6 0 1 1 -7.2 0ZM965.8 1676.4a3.6 3.6 0 1 1 7.2 0a3.6 3.6 0 1 1 -7.2 0ZM956.8 1674a3.6 3.6 0 1 1 7.2 0a3.6 3.6 0 1 1 -7.2 0ZM949 1672.8a3.6 3.6 0 1 1 7.2 0a3.6 3.6 0 1 1 -7.2 0ZM940 1672.2a3.6 3.6 0 1 1 7.2 0a3.6 3.6 0 1 1 -7.2 0ZM948.4 1663.2a3.6 3.6 0 1 1 7.2 0a3.6 3.6 0 1 1 -7.2 0ZM937.6 1653.6a3.6 3.6 0 1 1 7.2 0a3.6 3.6 0 1 1 -7.2 0ZM935.2 1662a3.6 3.6 0 1 1 7.2 0a3.6 3.6 0 1 1 -7.2 0ZM932.8 1660.2a3.6 3.6 0 1 1 7.2 0a3.6 3.6 0 1 1 -7.2 0ZM914.8 1643.4a3.6 3.6 0 1 1 7.2 0a3.6 3.6 0 1 1 -7.2 0ZM922 1650.6a3.6 3.6 0 1 1 7.2 0a3.6 3.6 0 1 1 -7.2 0ZM907.6 1654.8a3.6 3.6 0 1 1 7.2 0a3.6 3.6 0 1 1 -7.2 0ZM923.2 1681.2a3.6 3.6 0 1 1 7.2 0a3.6 3.6 0 1 1 -7.2 0ZM901.6 1685.4a3.6 3.6 0 1 1 7.2 0a3.6 3.6 0 1 1 -7.2 0ZM950.2 1687.2a3.6 3.6 0 1 1 7.2 0a3.6 3.6 0 1 1 -7.2 0ZM960.4 1684.8a3.6 3.6 0 1 1 7.2 0a3.6 3.6 0 1 1 -7.2 0ZM967 1686a3.6 3.6 0 1 1 7.2 0a3.6 3.6 0 1 1 -7.2 0ZM1016.8 1690.2a3.6 3.6 0 1 1 7.2 0a3.6 3.6 0 1 1 -7.2 0ZM978.4 1651.2a3.6 3.6 0 1 1 7.2 0a3.6 3.6 0 1 1 -7.2 0ZM910 1674.6a3.6 3.6 0 1 1 7.2 0a3.6 3.6 0 1 1 -7.2 0ZM926.8 1668a3.6 3.6 0 1 1 7.2 0a3.6 3.6 0 1 1 -7.2 0ZM916 1674a3.6 3.6 0 1 1 7.2 0a3.6 3.6 0 1 1 -7.2 0Z" fill="#050505"/>
</g></g>
<g clip-path="url(#clip_B4)"><g filter="url(#cm)">
<path d="M645 1644.8a3.6 3.6 0 1 1 7.2 0a3.6 3.6 0 1 1 -7.2 0ZM618.6 1675.6a3.6 3.6 0 1 1 7.2 0a3.6 3.6 0 1 1 -7.2 0ZM615.8 1684a3.6 3.6 0 1 1 7.2 0a3.6 3.6 0 1 1 -7.2 0Z" fill="#050505"/>
</g></g>
<path d="M220.3 29.3V424.5M186.3 391.6H594.3M277 29.3V424.5M186.3 336.7H594.3M333.6 29.3V424.5M186.3 281.8H594.3M390.3 29.3V424.5M186.3 226.9H594.3M447 29.3V424.5M186.3 172H594.3M503.6 29.3V424.5M186.3 117.1H594.3M560.3 29.3V424.5M186.3 62.2H594.3" stroke="#1a1a1a" stroke-opacity="0.5" stroke-width="1.6" stroke-dasharray="1.7 4.5" fill="none"/>
<path d="M220.3 29.3v7M220.3 424.5v-7M186.3 391.6h7M594.3 391.6h-7M277 29.3v7M277 424.5v-7M186.3 336.7h7M594.3 336.7h-7M333.6 29.3v7M333.6 424.5v-7M186.3 281.8h7M594.3 281.8h-7M390.3 29.3v7M390.3 424.5v-7M186.3 226.9h7M594.3 226.9h-7M447 29.3v7M447 424.5v-7M186.3 172h7M594.3 172h-7M503.6 29.3v7M503.6 424.5v-7M186.3 117.1h7M594.3 117.1h-7M560.3 29.3v7M560.3 424.5v-7M186.3 62.2h7M594.3 62.2h-7" stroke="#444" stroke-width="1.8" fill="none"/>
<rect x="186.3" y="29.3" width="408" height="395.2" fill="none" stroke="#444" stroke-width="2.2"/>
<path d="M650.5 29.5V424.5M616.5 391.6H1024.2M707.1 29.5V424.5M616.5 336.7H1024.2M763.7 29.5V424.5M616.5 281.9H1024.2M820.4 29.5V424.5M616.5 227H1024.2M877 29.5V424.5M616.5 172.1H1024.2M933.6 29.5V424.5M616.5 117.3H1024.2M990.2 29.5V424.5M616.5 62.4H1024.2" stroke="#1a1a1a" stroke-opacity="0.5" stroke-width="1.6" stroke-dasharray="1.7 4.5" fill="none"/>
<path d="M650.5 29.5v7M650.5 424.5v-7M616.5 391.6h7M1024.2 391.6h-7M707.1 29.5v7M707.1 424.5v-7M616.5 336.7h7M1024.2 336.7h-7M763.7 29.5v7M763.7 424.5v-7M616.5 281.9h7M1024.2 281.9h-7M820.4 29.5v7M820.4 424.5v-7M616.5 227h7M1024.2 227h-7M877 29.5v7M877 424.5v-7M616.5 172.1h7M1024.2 172.1h-7M933.6 29.5v7M933.6 424.5v-7M616.5 117.3h7M1024.2 117.3h-7M990.2 29.5v7M990.2 424.5v-7M616.5 62.4h7M1024.2 62.4h-7" stroke="#444" stroke-width="1.8" fill="none"/>
<rect x="616.5" y="29.5" width="407.7" height="395" fill="none" stroke="#444" stroke-width="2.2"/>
<path d="M220.5 454.3V850.3M186.5 817.3H594M277.1 454.3V850.3M186.5 762.3H594M333.7 454.3V850.3M186.5 707.3H594M390.2 454.3V850.3M186.5 652.3H594M446.8 454.3V850.3M186.5 597.3H594M503.4 454.3V850.3M186.5 542.3H594M560 454.3V850.3M186.5 487.3H594" stroke="#1a1a1a" stroke-opacity="0.5" stroke-width="1.6" stroke-dasharray="1.7 4.5" fill="none"/>
<path d="M220.5 454.3v7M220.5 850.3v-7M186.5 817.3h7M594 817.3h-7M277.1 454.3v7M277.1 850.3v-7M186.5 762.3h7M594 762.3h-7M333.7 454.3v7M333.7 850.3v-7M186.5 707.3h7M594 707.3h-7M390.2 454.3v7M390.2 850.3v-7M186.5 652.3h7M594 652.3h-7M446.8 454.3v7M446.8 850.3v-7M186.5 597.3h7M594 597.3h-7M503.4 454.3v7M503.4 850.3v-7M186.5 542.3h7M594 542.3h-7M560 454.3v7M560 850.3v-7M186.5 487.3h7M594 487.3h-7" stroke="#444" stroke-width="1.8" fill="none"/>
<rect x="186.5" y="454.3" width="407.5" height="396" fill="none" stroke="#444" stroke-width="2.2"/>
<path d="M650.9 452V848.2M617 815.2H1024.3M707.5 452V848.2M617 760.2H1024.3M764.1 452V848.2M617 705.1H1024.3M820.6 452V848.2M617 650.1H1024.3M877.2 452V848.2M617 595.1H1024.3M933.8 452V848.2M617 540H1024.3M990.4 452V848.2M617 485H1024.3" stroke="#1a1a1a" stroke-opacity="0.5" stroke-width="1.6" stroke-dasharray="1.7 4.5" fill="none"/>
<path d="M650.9 452v7M650.9 848.2v-7M617 815.2h7M1024.3 815.2h-7M707.5 452v7M707.5 848.2v-7M617 760.2h7M1024.3 760.2h-7M764.1 452v7M764.1 848.2v-7M617 705.1h7M1024.3 705.1h-7M820.6 452v7M820.6 848.2v-7M617 650.1h7M1024.3 650.1h-7M877.2 452v7M877.2 848.2v-7M617 595.1h7M1024.3 595.1h-7M933.8 452v7M933.8 848.2v-7M617 540h7M1024.3 540h-7M990.4 452v7M990.4 848.2v-7M617 485h7M1024.3 485h-7" stroke="#444" stroke-width="1.8" fill="none"/>
<rect x="617" y="452" width="407.3" height="396.2" fill="none" stroke="#444" stroke-width="2.2"/>
<path d="M209.1 1062.4V1461.2M174.8 1428H586.2M266.2 1062.4V1461.2M174.8 1372.6H586.2M323.4 1062.4V1461.2M174.8 1317.2H586.2M380.5 1062.4V1461.2M174.8 1261.8H586.2M437.6 1062.4V1461.2M174.8 1206.4H586.2M494.8 1062.4V1461.2M174.8 1151H586.2M551.9 1062.4V1461.2M174.8 1095.6H586.2" stroke="#1a1a1a" stroke-opacity="0.4" stroke-width="1.4" stroke-dasharray="1.4 3.2" fill="none"/>
<path d="M209.1 1062.4v7M209.1 1461.2v-7M174.8 1428h7M586.2 1428h-7M266.2 1062.4v7M266.2 1461.2v-7M174.8 1372.6h7M586.2 1372.6h-7M323.4 1062.4v7M323.4 1461.2v-7M174.8 1317.2h7M586.2 1317.2h-7M380.5 1062.4v7M380.5 1461.2v-7M174.8 1261.8h7M586.2 1261.8h-7M437.6 1062.4v7M437.6 1461.2v-7M174.8 1206.4h7M586.2 1206.4h-7M494.8 1062.4v7M494.8 1461.2v-7M174.8 1151h7M586.2 1151h-7M551.9 1062.4v7M551.9 1461.2v-7M174.8 1095.6h7M586.2 1095.6h-7" stroke="#7a7a7a" stroke-width="1.8" fill="none"/>
<rect x="174.8" y="1062.4" width="411.4" height="398.8" fill="none" stroke="#7a7a7a" stroke-width="2.2"/>
<path d="M645.8 1062.4V1461.2M611.5 1428H1022.6M702.9 1062.4V1461.2M611.5 1372.6H1022.6M760 1062.4V1461.2M611.5 1317.2H1022.6M817 1062.4V1461.2M611.5 1261.8H1022.6M874.1 1062.4V1461.2M611.5 1206.4H1022.6M931.2 1062.4V1461.2M611.5 1151H1022.6M988.3 1062.4V1461.2M611.5 1095.6H1022.6" stroke="#1a1a1a" stroke-opacity="0.4" stroke-width="1.4" stroke-dasharray="1.4 3.2" fill="none"/>
<path d="M645.8 1062.4v7M645.8 1461.2v-7M611.5 1428h7M1022.6 1428h-7M702.9 1062.4v7M702.9 1461.2v-7M611.5 1372.6h7M1022.6 1372.6h-7M760 1062.4v7M760 1461.2v-7M611.5 1317.2h7M1022.6 1317.2h-7M817 1062.4v7M817 1461.2v-7M611.5 1261.8h7M1022.6 1261.8h-7M874.1 1062.4v7M874.1 1461.2v-7M611.5 1206.4h7M1022.6 1206.4h-7M931.2 1062.4v7M931.2 1461.2v-7M611.5 1151h7M1022.6 1151h-7M988.3 1062.4v7M988.3 1461.2v-7M611.5 1095.6h7M1022.6 1095.6h-7" stroke="#7a7a7a" stroke-width="1.8" fill="none"/>
<rect x="611.5" y="1062.4" width="411.1" height="398.8" fill="none" stroke="#7a7a7a" stroke-width="2.2"/>
<path d="M209.1 1489.2V1886.8M174.8 1853.7H586.2M266.2 1489.2V1886.8M174.8 1798.4H586.2M323.4 1489.2V1886.8M174.8 1743.2H586.2M380.5 1489.2V1886.8M174.8 1688H586.2M437.6 1489.2V1886.8M174.8 1632.8H586.2M494.8 1489.2V1886.8M174.8 1577.6H586.2M551.9 1489.2V1886.8M174.8 1522.3H586.2" stroke="#1a1a1a" stroke-opacity="0.4" stroke-width="1.4" stroke-dasharray="1.4 3.2" fill="none"/>
<path d="M209.1 1489.2v7M209.1 1886.8v-7M174.8 1853.7h7M586.2 1853.7h-7M266.2 1489.2v7M266.2 1886.8v-7M174.8 1798.4h7M586.2 1798.4h-7M323.4 1489.2v7M323.4 1886.8v-7M174.8 1743.2h7M586.2 1743.2h-7M380.5 1489.2v7M380.5 1886.8v-7M174.8 1688h7M586.2 1688h-7M437.6 1489.2v7M437.6 1886.8v-7M174.8 1632.8h7M586.2 1632.8h-7M494.8 1489.2v7M494.8 1886.8v-7M174.8 1577.6h7M586.2 1577.6h-7M551.9 1489.2v7M551.9 1886.8v-7M174.8 1522.3h7M586.2 1522.3h-7" stroke="#7a7a7a" stroke-width="1.8" fill="none"/>
<rect x="174.8" y="1489.2" width="411.4" height="397.6" fill="none" stroke="#7a7a7a" stroke-width="2.2"/>
<path d="M645.8 1489.2V1886.8M611.5 1853.7H1022.6M702.9 1489.2V1886.8M611.5 1798.4H1022.6M760 1489.2V1886.8M611.5 1743.2H1022.6M817 1489.2V1886.8M611.5 1688H1022.6M874.1 1489.2V1886.8M611.5 1632.8H1022.6M931.2 1489.2V1886.8M611.5 1577.6H1022.6M988.3 1489.2V1886.8M611.5 1522.3H1022.6" stroke="#1a1a1a" stroke-opacity="0.4" stroke-width="1.4" stroke-dasharray="1.4 3.2" fill="none"/>
<path d="M645.8 1489.2v7M645.8 1886.8v-7M611.5 1853.7h7M1022.6 1853.7h-7M702.9 1489.2v7M702.9 1886.8v-7M611.5 1798.4h7M1022.6 1798.4h-7M760 1489.2v7M760 1886.8v-7M611.5 1743.2h7M1022.6 1743.2h-7M817 1489.2v7M817 1886.8v-7M611.5 1688h7M1022.6 1688h-7M874.1 1489.2v7M874.1 1886.8v-7M611.5 1632.8h7M1022.6 1632.8h-7M931.2 1489.2v7M931.2 1886.8v-7M611.5 1577.6h7M1022.6 1577.6h-7M988.3 1489.2v7M988.3 1886.8v-7M611.5 1522.3h7M1022.6 1522.3h-7" stroke="#7a7a7a" stroke-width="1.8" fill="none"/>
<rect x="611.5" y="1489.2" width="411.1" height="397.6" fill="none" stroke="#7a7a7a" stroke-width="2.2"/>
<text transform="translate(163.5 72.3) scale(1 1.07)" font-size="40" text-anchor="end">150</text>
<text transform="translate(163.5 129.4) scale(1 1.07)" font-size="40" text-anchor="end">100</text>
<text transform="translate(163.5 185.7) scale(1 1.07)" font-size="40" text-anchor="end">50</text>
<text transform="translate(163.5 243.4) scale(1 1.07)" font-size="40" text-anchor="end">0</text>
<text transform="translate(163.5 298.2) scale(1 1.07)" font-size="40" text-anchor="end">-50</text>
<text transform="translate(163.5 350.2) scale(1 1.07)" font-size="40" text-anchor="end">-100</text>
<text transform="translate(163.5 406.4) scale(1 1.07)" font-size="40" text-anchor="end">-150</text>
<text transform="translate(163.5 498.4) scale(1 1.07)" font-size="40" text-anchor="end">150</text>
<text transform="translate(163.5 554.8) scale(1 1.07)" font-size="40" text-anchor="end">100</text>
<text transform="translate(163.5 612.5) scale(1 1.07)" font-size="40" text-anchor="end">50</text>
<text transform="translate(163.5 670.2) scale(1 1.07)" font-size="40" text-anchor="end">0</text>
<text transform="translate(163.5 726.2) scale(1 1.07)" font-size="40" text-anchor="end">-50</text>
<text transform="translate(163.5 778.2) scale(1 1.07)" font-size="40" text-anchor="end">-100</text>
<text transform="translate(163.5 833.2) scale(1 1.07)" font-size="40" text-anchor="end">-150</text>
<text transform="translate(163.5 1116.7) scale(1 1.07)" font-size="40" text-anchor="end">150</text>
<text transform="translate(163.5 1173.7) scale(1 1.07)" font-size="40" text-anchor="end">100</text>
<text transform="translate(163.5 1230.2) scale(1 1.07)" font-size="40" text-anchor="end">50</text>
<text transform="translate(163.5 1287.2) scale(1 1.07)" font-size="40" text-anchor="end">0</text>
<text transform="translate(163.5 1342.6) scale(1 1.07)" font-size="40" text-anchor="end">-50</text>
<text transform="translate(163.5 1394.7) scale(1 1.07)" font-size="40" text-anchor="end">-100</text>
<text transform="translate(163.5 1449.8) scale(1 1.07)" font-size="40" text-anchor="end">-150</text>
<text transform="translate(163.5 1543.2) scale(1 1.07)" font-size="40" text-anchor="end">150</text>
<text transform="translate(163.5 1599.2) scale(1 1.07)" font-size="40" text-anchor="end">100</text>
<text transform="translate(163.5 1656.2) scale(1 1.07)" font-size="40" text-anchor="end">50</text>
<text transform="translate(163.5 1714.7) scale(1 1.07)" font-size="40" text-anchor="end">0</text>
<text transform="translate(163.5 1770.2) scale(1 1.07)" font-size="40" text-anchor="end">-50</text>
<text transform="translate(163.5 1822.2) scale(1 1.07)" font-size="40" text-anchor="end">-100</text>
<text transform="translate(163.5 1877.2) scale(1 1.07)" font-size="40" text-anchor="end">-150</text>
<text transform="translate(236.1 853.9) rotate(-90) scale(1 1.07)" font-size="40" text-anchor="end">-150</text>
<text transform="translate(291.4 853.9) rotate(-90) scale(1 1.07)" font-size="40" text-anchor="end">-100</text>
<text transform="translate(347 853.9) rotate(-90) scale(1 1.07)" font-size="40" text-anchor="end">-50</text>
<text transform="translate(402.3 853.9) rotate(-90) scale(1 1.07)" font-size="40" text-anchor="end">0</text>
<text transform="translate(458.6 853.9) rotate(-90) scale(1 1.07)" font-size="40" text-anchor="end">50</text>
<text transform="translate(516.6 853.9) rotate(-90) scale(1 1.07)" font-size="40" text-anchor="end">100</text>
<text transform="translate(573 853.9) rotate(-90) scale(1 1.07)" font-size="40" text-anchor="end">150</text>
<text transform="translate(670.3 853.9) rotate(-90) scale(1 1.07)" font-size="40" text-anchor="end">-150</text>
<text transform="translate(727.1 853.9) rotate(-90) scale(1 1.07)" font-size="40" text-anchor="end">-100</text>
<text transform="translate(782.5 853.9) rotate(-90) scale(1 1.07)" font-size="40" text-anchor="end">-50</text>
<text transform="translate(837.2 853.9) rotate(-90) scale(1 1.07)" font-size="40" text-anchor="end">0</text>
<text transform="translate(893.9 853.9) rotate(-90) scale(1 1.07)" font-size="40" text-anchor="end">50</text>
<text transform="translate(952.4 853.9) rotate(-90) scale(1 1.07)" font-size="40" text-anchor="end">100</text>
<text transform="translate(1009.2 853.9) rotate(-90) scale(1 1.07)" font-size="40" text-anchor="end">150</text>
<text transform="translate(236.1 1898.1) rotate(-90) scale(1 1.07)" font-size="40" text-anchor="end">-150</text>
<text transform="translate(291.4 1898.1) rotate(-90) scale(1 1.07)" font-size="40" text-anchor="end">-100</text>
<text transform="translate(347 1898.1) rotate(-90) scale(1 1.07)" font-size="40" text-anchor="end">-50</text>
<text transform="translate(402.3 1898.1) rotate(-90) scale(1 1.07)" font-size="40" text-anchor="end">0</text>
<text transform="translate(458.6 1898.1) rotate(-90) scale(1 1.07)" font-size="40" text-anchor="end">50</text>
<text transform="translate(516.6 1898.1) rotate(-90) scale(1 1.07)" font-size="40" text-anchor="end">100</text>
<text transform="translate(573 1898.1) rotate(-90) scale(1 1.07)" font-size="40" text-anchor="end">150</text>
<text transform="translate(670.3 1898.1) rotate(-90) scale(1 1.07)" font-size="40" text-anchor="end">-150</text>
<text transform="translate(727.1 1898.1) rotate(-90) scale(1 1.07)" font-size="40" text-anchor="end">-100</text>
<text transform="translate(782.5 1898.1) rotate(-90) scale(1 1.07)" font-size="40" text-anchor="end">-50</text>
<text transform="translate(837.2 1898.1) rotate(-90) scale(1 1.07)" font-size="40" text-anchor="end">0</text>
<text transform="translate(893.9 1898.1) rotate(-90) scale(1 1.07)" font-size="40" text-anchor="end">50</text>
<text transform="translate(952.4 1898.1) rotate(-90) scale(1 1.07)" font-size="40" text-anchor="end">100</text>
<text transform="translate(1009.2 1898.1) rotate(-90) scale(1 1.07)" font-size="40" text-anchor="end">150</text>
<text transform="translate(606 986.9) scale(1 1.06)" font-size="40" text-anchor="middle" textLength="112" lengthAdjust="spacing"><tspan font-family="Liberation Serif">&#966;</tspan>(Phi)</text>
<text transform="translate(601.9 2029.8) scale(1 1.06)" font-size="40" text-anchor="middle" textLength="112" lengthAdjust="spacing"><tspan font-family="Liberation Serif">&#966;</tspan>(Phi)</text>
<text transform="translate(39 427.4) rotate(-90) scale(1 1.05)" font-size="40" text-anchor="middle" textLength="111.5" lengthAdjust="spacing"><tspan font-family="Liberation Serif">&#968;</tspan>(psi)</text>
<text transform="translate(39 1472.6) rotate(-90) scale(1 1.05)" font-size="40" text-anchor="middle" textLength="111.5" lengthAdjust="spacing"><tspan font-family="Liberation Serif">&#968;</tspan>(psi)</text>
<text x="0.3" y="58.8" font-size="54.5">(A)</text>
<text x="0.3" y="1054.7" font-size="54.5">(B)</text>
<text transform="translate(398.4 236) scale(1 1.07)" font-size="40" text-anchor="middle">WT</text>
<text transform="translate(870.4 213.9) scale(1 1.07)" font-size="40" text-anchor="middle">E126D</text>
<text transform="translate(871.5 262.2) scale(1 1.07)" font-size="40" text-anchor="middle">(E144D)</text>
<text transform="translate(431.8 640.3) scale(1 1.07)" font-size="40" text-anchor="middle">G196S</text>
<text transform="translate(432.9 688.6) scale(1 1.07)" font-size="40" text-anchor="middle">(G214S)</text>
<text transform="translate(873.3 640.3) scale(1 1.07)" font-size="40" text-anchor="middle">G197A</text>
<text transform="translate(872.9 688.6) scale(1 1.07)" font-size="40" text-anchor="middle">(G215A)</text>
<text transform="translate(398.4 1282.6) scale(1 1.07)" font-size="40" text-anchor="middle">WT</text>
<text transform="translate(843.4 1260.4) scale(1 1.07)" font-size="40" text-anchor="middle">E126D</text>
<text transform="translate(843.6 1308.4) scale(1 1.07)" font-size="40" text-anchor="middle">(E144D)</text>
<text transform="translate(404.8 1730.4) scale(1 1.07)" font-size="40" text-anchor="middle">G196S</text>
<text transform="translate(405.2 1778.4) scale(1 1.07)" font-size="40" text-anchor="middle">(G214S)</text>
<text transform="translate(846 1730.4) scale(1 1.07)" font-size="40" text-anchor="middle">G197A</text>
<text transform="translate(845.2 1778.4) scale(1 1.07)" font-size="40" text-anchor="middle">(G215A)</text>
<rect x="1078" y="20.5" width="43.3" height="838.5" fill="url(#jetg)" stroke="#111" stroke-width="2"/>
<path d="M1121.3 104.3h-9M1121.3 188.2h-9M1121.3 272h-9M1121.3 355.9h-9M1121.3 439.8h-9M1121.3 523.6h-9M1121.3 607.4h-9M1121.3 691.3h-9M1121.3 775.1h-9" stroke="#111" stroke-width="1.6" opacity="0.6"/>
<text x="1127.9" y="28.9" font-size="32.5" textLength="118" lengthAdjust="spacing" fill="#222">0.00050</text>
<text x="1127.9" y="112.8" font-size="32.5" textLength="118" lengthAdjust="spacing" fill="#222">0.00045</text>
<text x="1127.9" y="196.6" font-size="32.5" textLength="118" lengthAdjust="spacing" fill="#222">0.00040</text>
<text x="1127.9" y="280.4" font-size="32.5" textLength="118" lengthAdjust="spacing" fill="#222">0.00035</text>
<text x="1127.9" y="364.3" font-size="32.5" textLength="118" lengthAdjust="spacing" fill="#222">0.00030</text>
<text x="1127.9" y="448.1" font-size="32.5" textLength="118" lengthAdjust="spacing" fill="#222">0.00025</text>
<text x="1127.9" y="532" font-size="32.5" textLength="118" lengthAdjust="spacing" fill="#222">0.00020</text>
<text x="1127.9" y="615.8" font-size="32.5" textLength="118" lengthAdjust="spacing" fill="#222">0.00015</text>
<text x="1127.9" y="699.7" font-size="32.5" textLength="118" lengthAdjust="spacing" fill="#222">0.00010</text>
<text x="1127.9" y="783.5" font-size="32.5" textLength="118" lengthAdjust="spacing" fill="#222">0.00005</text>
<text x="1127.9" y="867.4" font-size="32.5" textLength="118" lengthAdjust="spacing" fill="#222">0.00000</text>
<rect x="1078.7" y="1068.4" width="43.3" height="838.6" fill="url(#jetg)" stroke="#111" stroke-width="2"/>
<path d="M1122 1152.3h-9M1122 1236.1h-9M1122 1320h-9M1122 1403.8h-9M1122 1487.7h-9M1122 1571.6h-9M1122 1655.4h-9M1122 1739.3h-9M1122 1823.1h-9" stroke="#111" stroke-width="1.6" opacity="0.6"/>
<text x="1129.1" y="1076.8" font-size="32.5" textLength="118" lengthAdjust="spacing" fill="#222">0.00050</text>
<text x="1129.1" y="1160.7" font-size="32.5" textLength="118" lengthAdjust="spacing" fill="#222">0.00045</text>
<text x="1129.1" y="1244.5" font-size="32.5" textLength="118" lengthAdjust="spacing" fill="#222">0.00040</text>
<text x="1129.1" y="1328.4" font-size="32.5" textLength="118" lengthAdjust="spacing" fill="#222">0.00035</text>
<text x="1129.1" y="1412.2" font-size="32.5" textLength="118" lengthAdjust="spacing" fill="#222">0.00030</text>
<text x="1129.1" y="1496.1" font-size="32.5" textLength="118" lengthAdjust="spacing" fill="#222">0.00025</text>
<text x="1129.1" y="1580" font-size="32.5" textLength="118" lengthAdjust="spacing" fill="#222">0.00020</text>
<text x="1129.1" y="1663.8" font-size="32.5" textLength="118" lengthAdjust="spacing" fill="#222">0.00015</text>
<text x="1129.1" y="1747.7" font-size="32.5" textLength="118" lengthAdjust="spacing" fill="#222">0.00010</text>
<text x="1129.1" y="1831.5" font-size="32.5" textLength="118" lengthAdjust="spacing" fill="#222">0.00005</text>
<text x="1129.1" y="1915.4" font-size="32.5" textLength="118" lengthAdjust="spacing" fill="#222">0.00000</text>
</svg></body></html>
